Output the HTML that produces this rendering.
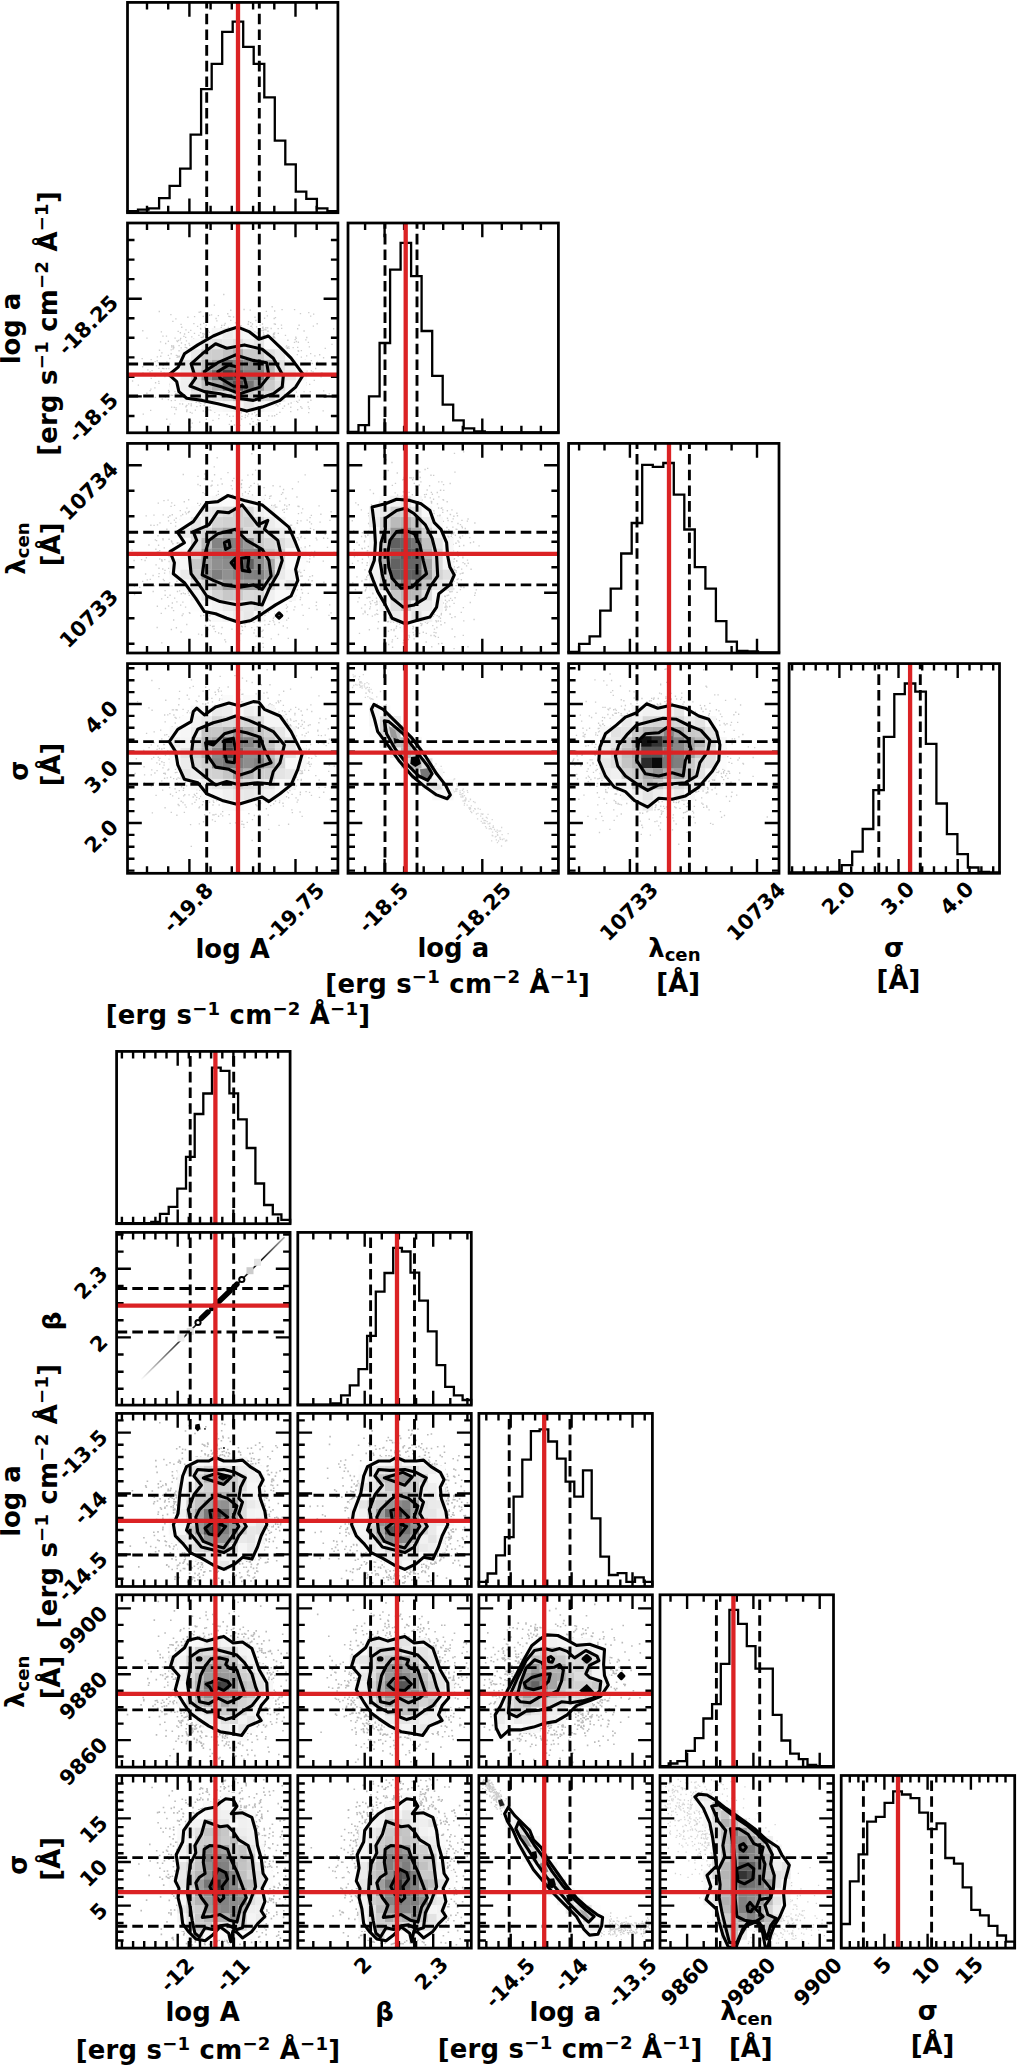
<!DOCTYPE html>
<html><head><meta charset="utf-8"><title>corner plots</title>
<style>
html,body{margin:0;padding:0;background:#fff}
svg{display:block}
text{font-family:"DejaVu Sans","Liberation Sans",sans-serif;font-weight:bold;fill:#000}
.t{font-size:20.8px}
.a{font-size:25.9px}
</style></head><body>
<svg width="1017" height="2066" viewBox="0 0 1017 2066">
<rect width="1017" height="2066" fill="#fff"/>
<path d="M147 212.7v-7M147 2.4v7M168.2 212.7v-7M168.2 2.4v7M189.4 212.7v-14.3M189.4 2.4v14.3M210.6 212.7v-7M210.6 2.4v7M231.8 212.7v-7M231.8 2.4v7M253.1 212.7v-7M253.1 2.4v7M274.3 212.7v-7M274.3 2.4v7M295.5 212.7v-14.3M295.5 2.4v14.3M316.7 212.7v-7M316.7 2.4v7" stroke="#000" stroke-width="2.4" fill="none"/>
<path d="M127.5 212.7V211.1H138V209.6H148.5V208.3H159.1V198.1H169.6V185.8H180.1V168.7H190.6V134.7H201.1V89.2H211.7V63.9H222.2V31.9H232.7V21.7H243.2V46.8H253.7V63.9H264.3V97.4H274.8V140.6H285.3V164.3H295.8V191.7H306.3V198.8H316.9V208.3H327.4V211.1H337.9V212.7" stroke="#000" stroke-width="2.3" fill="none" stroke-linejoin="miter"/>
<path d="M206.7 212.7V2.4" stroke="#000" stroke-width="2.9" stroke-dasharray="10.6 5.1" fill="none"/>
<path d="M259.3 212.7V2.4" stroke="#000" stroke-width="2.9" stroke-dasharray="10.6 5.1" fill="none"/>
<path d="M238 2.4V212.7" stroke="#db2224" stroke-width="4.3" fill="none"/>
<rect x="127.5" y="2.4" width="210.4" height="210.3" fill="none" stroke="#000" stroke-width="2.75"/>
<path d="M365.1 432.8v-7M365.1 223v7M384.6 432.8v-14.3M384.6 223v14.3M404.1 432.8v-7M404.1 223v7M423.7 432.8v-7M423.7 223v7M443.2 432.8v-7M443.2 223v7M462.8 432.8v-7M462.8 223v7M482.3 432.8v-14.3M482.3 223v14.3M501.8 432.8v-7M501.8 223v7M521.4 432.8v-7M521.4 223v7M540.9 432.8v-7M540.9 223v7" stroke="#000" stroke-width="2.4" fill="none"/>
<path d="M348 432.8V431.9H358.5V425.2H369V396.4H379.6V343H390.1V269.7H400.6V242.8H411.1V276.1H421.6V331H432.2V375.9H442.7V404.6H453.2V420.4H463.7V428.4H474.2V431.5H484.8V432.4H495.3V432.4H505.8V432.4H516.3V432.4H526.8V432.4H537.4V432.4H547.9V432.4H558.4V432.8" stroke="#000" stroke-width="2.3" fill="none" stroke-linejoin="miter"/>
<path d="M385 432.8V223" stroke="#000" stroke-width="2.9" stroke-dasharray="10.6 5.1" fill="none"/>
<path d="M417 432.8V223" stroke="#000" stroke-width="2.9" stroke-dasharray="10.6 5.1" fill="none"/>
<path d="M405.7 223V432.8" stroke="#db2224" stroke-width="4.3" fill="none"/>
<rect x="348" y="223" width="210.4" height="209.8" fill="none" stroke="#000" stroke-width="2.75"/>
<path d="M579.1 653v-7M579.1 443.4v7M604.5 653v-7M604.5 443.4v7M629.9 653v-14.3M629.9 443.4v14.3M655.3 653v-7M655.3 443.4v7M680.7 653v-7M680.7 443.4v7M706.2 653v-7M706.2 443.4v7M731.6 653v-7M731.6 443.4v7M757 653v-14.3M757 443.4v14.3" stroke="#000" stroke-width="2.4" fill="none"/>
<path d="M568.6 653V651.9H579.1V643.9H589.6V636.4H600.2V610.6H610.7V588.6H621.2V553.5H631.7V523H642.2V464.8H652.8V466.8H663.3V463H673.8V494.6H684.3V529.5H694.8V567.2H705.4V588.6H715.9V621.2H726.4V641.7H736.9V650.8H747.4V651.5H758V652.4H768.5V652.4H779V653" stroke="#000" stroke-width="2.3" fill="none" stroke-linejoin="miter"/>
<path d="M637 653V443.4" stroke="#000" stroke-width="2.9" stroke-dasharray="10.6 5.1" fill="none"/>
<path d="M689.4 653V443.4" stroke="#000" stroke-width="2.9" stroke-dasharray="10.6 5.1" fill="none"/>
<path d="M669 443.4V653" stroke="#db2224" stroke-width="4.3" fill="none"/>
<rect x="568.6" y="443.4" width="210.4" height="209.6" fill="none" stroke="#000" stroke-width="2.75"/>
<path d="M792.1 873.3v-7M792.1 663.6v7M803.9 873.3v-7M803.9 663.6v7M815.7 873.3v-7M815.7 663.6v7M827.6 873.3v-7M827.6 663.6v7M839.4 873.3v-14.3M839.4 663.6v14.3M851.2 873.3v-7M851.2 663.6v7M863.1 873.3v-7M863.1 663.6v7M874.9 873.3v-7M874.9 663.6v7M886.7 873.3v-7M886.7 663.6v7M898.5 873.3v-14.3M898.5 663.6v14.3M910.4 873.3v-7M910.4 663.6v7M922.2 873.3v-7M922.2 663.6v7M934 873.3v-7M934 663.6v7M945.9 873.3v-7M945.9 663.6v7M957.7 873.3v-14.3M957.7 663.6v14.3M969.5 873.3v-7M969.5 663.6v7M981.4 873.3v-7M981.4 663.6v7M993.2 873.3v-7M993.2 663.6v7" stroke="#000" stroke-width="2.4" fill="none"/>
<path d="M789.1 873.3V872.4H799.6V872.4H810.1V872.4H820.7V872.4H831.2V871.9H841.7V865.2H852.2V851.7H862.7V829H873.3V790.1H883.8V736.8H894.3V694.1H904.8V683.5H915.3V691.7H925.9V743.9H936.4V803.5H946.9V834.1H957.4V854.1H967.9V867.5H978.5V871.9H989V872.4H999.5V873.3" stroke="#000" stroke-width="2.3" fill="none" stroke-linejoin="miter"/>
<path d="M878.8 873.3V663.6" stroke="#000" stroke-width="2.9" stroke-dasharray="10.6 5.1" fill="none"/>
<path d="M920.3 873.3V663.6" stroke="#000" stroke-width="2.9" stroke-dasharray="10.6 5.1" fill="none"/>
<path d="M910.1 663.6V873.3" stroke="#db2224" stroke-width="4.3" fill="none"/>
<rect x="789.1" y="663.6" width="210.4" height="209.7" fill="none" stroke="#000" stroke-width="2.75"/>
<g>
<path d="M177.5 331.3h1.35M213.2 406.3h1.35M166.3 362.1h1.35M280.8 325.1h1.35M170.2 314.6h1.35M181.7 396.9h1.35M167.7 355.4h1.35M265.3 329.9h1.35M190.6 404h1.35M284.8 346.9h1.35M279.8 341.6h1.35M305.8 376.2h1.35M299.8 313.6h1.35M320.4 376.8h1.35M141.5 358.6h1.35M177.1 361.5h1.35M274 311h1.35M273.9 337.8h1.35M259.8 336.8h1.35M331.3 344.3h1.35M183.2 336.4h1.35M200.5 337.3h1.35M287.2 348.8h1.35M205.2 402.9h1.35M167.7 399.6h1.35M288.1 347h1.35M156.5 360.7h1.35M171.8 386.8h1.35M287.8 404h1.35M171.1 345.6h1.35M168.1 392.3h1.35M179 356.2h1.35M181.9 355.3h1.35M154.3 376.2h1.35M213.9 327h1.35M158.8 350.2h1.35M251.8 324h1.35M303.4 331h1.35M252.4 421.6h1.35M301.5 366.5h1.35M328.6 393.8h1.35M258.2 312.9h1.35M168.7 391.5h1.35M282.1 408.3h1.35M309.6 391.6h1.35M194.7 340h1.35M295.2 390.5h1.35M299.2 386.7h1.35M161.2 352.9h1.35M170.4 370.4h1.35M198.5 312.2h1.35M200.1 403.3h1.35M293.5 390.2h1.35M228.7 424.3h1.35M239.3 425.3h1.35M221 325.6h1.35M170.3 368h1.35M258 330.9h1.35M172.8 346h1.35M288.2 394.3h1.35M253.1 334.7h1.35M230.1 310.2h1.35M316.7 362.1h1.35M274.8 317.6h1.35M257 419.7h1.35M244.8 415.1h1.35M209.3 407.1h1.35M288.9 393.6h1.35M218.1 418.6h1.35M175.4 407.8h1.35M283.5 342.8h1.35M183.9 334h1.35M255.8 414.6h1.35M333 328.7h1.35M170.5 349.9h1.35M300.7 357.1h1.35M174.5 400.3h1.35M267.3 331.2h1.35M200.6 339.7h1.35M244.6 417.5h1.35M196.9 326.3h1.35M212.3 420.4h1.35M193.2 323.6h1.35M257.7 426.1h1.35M293.8 342.3h1.35M223.1 294.5h1.35M268.1 415.8h1.35M196.1 400.6h1.35M181.9 404h1.35M234.8 322.8h1.35M319 354.7h1.35M254.5 335.5h1.35M262.5 335.6h1.35M191.6 423.1h1.35M312.7 326.1h1.35M235.3 327.1h1.35M277.2 406h1.35M150 410.3h1.35M277.5 328.6h1.35M205.7 419.2h1.35M313 314.1h1.35M310.7 370.8h1.35M176.4 394h1.35M187.9 332.4h1.35M157.8 362.6h1.35M266.7 315.9h1.35M324.6 348.4h1.35M224.5 323.5h1.35M308.1 312.6h1.35M229 329.6h1.35M270.1 426.6h1.35M149.4 371.9h1.35M255.2 320.5h1.35M158.2 368.4h1.35M279.2 412.3h1.35M204.6 327.5h1.35M173.2 347.5h1.35M322.5 410.8h1.35M172.2 321.3h1.35M162.6 365.4h1.35M290.1 407.2h1.35M277.9 341.8h1.35M236.8 416h1.35M305.5 382.7h1.35M302.9 370.8h1.35M213.5 329.7h1.35M232.9 317h1.35M241.3 416.3h1.35M187.2 317.2h1.35M171 377h1.35M214 328.6h1.35M303.4 391.5h1.35M298.6 400.1h1.35M194.3 399.3h1.35M267 327.8h1.35M300 386.7h1.35M307.7 342.4h1.35M272.6 336.7h1.35M193 338.9h1.35M243.4 309.5h1.35M198.6 402.6h1.35M230.6 421h1.35M216.2 333.1h1.35M183.9 400h1.35M179.1 362h1.35M273.5 403.6h1.35M206.2 338.8h1.35M216.7 329.2h1.35M307.4 402.2h1.35M297.5 365.2h1.35M184.6 353h1.35M223.7 325.2h1.35M199.9 324.5h1.35M142.3 372.9h1.35M164.8 397.2h1.35M308 412.6h1.35M249.5 424.3h1.35M262.8 332.9h1.35M297.5 350.7h1.35M286.5 348h1.35M321.3 373h1.35M286.7 347.4h1.35M272.1 408.8h1.35M189.1 345.3h1.35M200.1 329.1h1.35M251.8 328.9h1.35M180.1 362.3h1.35M169.6 386h1.35M169.1 358.5h1.35M302.5 370.8h1.35M202.4 333.3h1.35M203.1 323.4h1.35M188.6 422.7h1.35M199.7 405.7h1.35M177.4 363.2h1.35M142 366.7h1.35M201.4 337.4h1.35M195.9 340.7h1.35M202.7 337.1h1.35M247.9 321.7h1.35M263 334.9h1.35M185.3 329.9h1.35M167.7 341.2h1.35M301.3 408.2h1.35M295.6 392.1h1.35M220.6 327.6h1.35M198.5 344.5h1.35M158.1 381.4h1.35M233.8 425h1.35M270.8 406.3h1.35M293.3 356.2h1.35M323 390.9h1.35M217.3 330.2h1.35M300.9 363.3h1.35M170.7 388.8h1.35M176.9 341.6h1.35M265.3 327.7h1.35M262.5 328.8h1.35M273.5 337.5h1.35M205.5 325.1h1.35M177.6 356.3h1.35M171.2 347h1.35M292 356.9h1.35M273.5 318.5h1.35M170.5 353.7h1.35M154.9 382.7h1.35M300.1 406.6h1.35M181.1 327.2h1.35M297.7 342.2h1.35M175.2 318.9h1.35M238.7 317.8h1.35M187.1 349.3h1.35M313.6 380.3h1.35M251 418.8h1.35M284.8 335.4h1.35M301.5 397.6h1.35M279.2 403.7h1.35M205 411.7h1.35M308.6 408.6h1.35M305.1 385.2h1.35M166.1 419.2h1.35M315 368.5h1.35M274 332.8h1.35M264.3 329.5h1.35M301.4 385.6h1.35M235.9 409h1.35M178.4 345.6h1.35M273.6 323.8h1.35M170.7 400.6h1.35M146.2 393.2h1.35M261.8 324h1.35M262.8 330.5h1.35M314.2 355.9h1.35M295.1 362h1.35M262.3 327.2h1.35M160.1 356.2h1.35M219.3 404.9h1.35M185.8 340.9h1.35M147.2 369.9h1.35M250.9 326.1h1.35M251.7 328.1h1.35M272.7 334.7h1.35M167.9 390.3h1.35M288.5 351.2h1.35M186.1 411.5h1.35M172.3 349.1h1.35M173.5 361.6h1.35M300.4 363.6h1.35M281.4 309.6h1.35M169.4 424.1h1.35M172.2 363.4h1.35M188.4 343.5h1.35M297 396.5h1.35M304.8 384.5h1.35M159.9 341.9h1.35M297.9 351.2h1.35M206.7 411.7h1.35M165.8 336.1h1.35M151.4 370.6h1.35M210.4 410.3h1.35M174.3 383.5h1.35M173.6 407.3h1.35M258.3 420.5h1.35M266 407h1.35M286.5 348.8h1.35M287.2 340.2h1.35M293.5 400.8h1.35M255.2 415.7h1.35M231.4 328.4h1.35M217.7 331.6h1.35M214.1 412h1.35M204.2 403.6h1.35M180.2 358.2h1.35M242.7 328.5h1.35M179.7 332.7h1.35M281 328.3h1.35M191.5 399h1.35M259.1 338.4h1.35M305.2 339.8h1.35M150.2 389.1h1.35M272.9 333.3h1.35M203.5 334.1h1.35M310.7 360.6h1.35M298.4 325.2h1.35M196.2 406.6h1.35M288.7 397.1h1.35M171.9 385.1h1.35M288.4 393.5h1.35M297 347.4h1.35M208.7 332.4h1.35M229.4 316.6h1.35M176.5 357.3h1.35M296 401.3h1.35M212.7 332.6h1.35M165.7 368.6h1.35M251.5 414h1.35M137.7 385.1h1.35M150.5 359.6h1.35M180.9 355.3h1.35M277.7 342.2h1.35M255.9 326.9h1.35M216.5 403.8h1.35M190.2 427.1h1.35M306.2 371.1h1.35M146.3 338.1h1.35M173.3 388.1h1.35M180.8 343h1.35M227.1 313.7h1.35M261.9 327.9h1.35M194.1 346.3h1.35M249.6 310.1h1.35M154.5 361.6h1.35M230.1 320.4h1.35M202.6 411h1.35M179.6 394.1h1.35M170.5 395.2h1.35M274.4 405.1h1.35M163.4 373.2h1.35M173 347.7h1.35M254.1 412.6h1.35M310 316.1h1.35M307.8 406.9h1.35M312.4 371.9h1.35M194.7 410.1h1.35M221.1 325.3h1.35M207.2 409.8h1.35M255.8 424.5h1.35M200 311.8h1.35M154.7 397.4h1.35M174.4 338.1h1.35M199 422.1h1.35M142.1 330.7h1.35M229 416.3h1.35M270.5 328.5h1.35M142.6 414.1h1.35M191.1 336.8h1.35M283.6 347.9h1.35M164.2 376.6h1.35M171.6 366.1h1.35M208.8 337.9h1.35M300 368.6h1.35M277.9 340.2h1.35M227 407.3h1.35M158.3 383.4h1.35M169.2 384.2h1.35M254.3 317.2h1.35M232.5 416.2h1.35M265.7 311.4h1.35M167.2 373.3h1.35M226.4 414.5h1.35M162.3 336.1h1.35M189.6 412.3h1.35M178.2 357h1.35M276.1 414.3h1.35M203.4 405.4h1.35M240.6 412.9h1.35M163.2 368.6h1.35M318.8 374h1.35M186 347.7h1.35M189.9 420.8h1.35M250 322.6h1.35M270.6 337.7h1.35M274.7 324.2h1.35M283.5 348.9h1.35M267 335.2h1.35M263.7 335.3h1.35M295.9 361.6h1.35M235.3 410.5h1.35M160.4 371.3h1.35M296.6 354.6h1.35M198.2 335.4h1.35M267.9 336.2h1.35M195.5 402.3h1.35M202.7 335.8h1.35M247.9 414h1.35M179.6 339.8h1.35M273.9 415.7h1.35M179.2 403.9h1.35M154.2 387.9h1.35M174 413.9h1.35M306 355.8h1.35M171 407.1h1.35M178.4 350.7h1.35M322.9 357.7h1.35M257.7 414.5h1.35M173.3 381.8h1.35M196.9 340.6h1.35M185.7 405.9h1.35M186.3 410h1.35M180.4 324.4h1.35M289.3 356h1.35M263.7 409.5h1.35M199.9 328.3h1.35M168.3 368.5h1.35M226.1 410.5h1.35M252 329h1.35M295.7 341.5h1.35M193.8 333.3h1.35M184.6 344.7h1.35M193.9 316.6h1.35M176.9 355.8h1.35M198 343.8h1.35M246.5 412.2h1.35M298.7 368.1h1.35M310 353.6h1.35M305.1 372.6h1.35M190.5 405.7h1.35M131.9 381h1.35M288.6 348.8h1.35M311.3 375.4h1.35M215.4 318.5h1.35M261.3 330.6h1.35M265.5 335.8h1.35M185 337.3h1.35M283.8 406h1.35M251.4 329.9h1.35M198.1 342.5h1.35M297.9 363.3h1.35M240.9 419.1h1.35M295.5 338.3h1.35M303.8 369.7h1.35M175.7 355.3h1.35M184.6 347.4h1.35M266.5 334.4h1.35M227.7 327.3h1.35M160.7 331.9h1.35M190.1 330.3h1.35M292.5 347.6h1.35M207.7 330.8h1.35M171.6 387.8h1.35M271.5 416h1.35M289.6 353.9h1.35M293.9 309.6h1.35M295.1 337.1h1.35M207.9 401.8h1.35M247.5 324.2h1.35M156.7 356.9h1.35M171.9 395.4h1.35M202.6 316.4h1.35M218.5 415h1.35M213.7 305.1h1.35M274.4 338.3h1.35M303.7 373.1h1.35M297 409.7h1.35M202 333.8h1.35M297 328.7h1.35M165 343.5h1.35M320.3 373.3h1.35M151.9 365.3h1.35M249.2 423.7h1.35M300.1 406.9h1.35M175.1 393.7h1.35M199.9 332.6h1.35M309 384.4h1.35M304.7 360.1h1.35M272.7 337.1h1.35M259.5 325.1h1.35M301.8 390.4h1.35M206.9 334.8h1.35M294.9 359.3h1.35M161.6 399h1.35M205.5 337.5h1.35M175.4 409.6h1.35M243 328.2h1.35M210.9 314.9h1.35M277.6 333.3h1.35M297.1 402.4h1.35M231.1 407.4h1.35M254.3 331.8h1.35M256.5 333h1.35M180 338.3h1.35M244.8 328.9h1.35M217.7 315.6h1.35M300.7 350.6h1.35M308.7 346.9h1.35M311.6 363.5h1.35M310.2 400.2h1.35M294.5 339.6h1.35M150.6 378.3h1.35M266.4 420.3h1.35M177.8 340.3h1.35M273.3 336.5h1.35M247 416.1h1.35M280.3 345.5h1.35M238.9 417.7h1.35M271.5 306.7h1.35M273.5 334.2h1.35M289.1 355.6h1.35M303 382.1h1.35M203.9 401.2h1.35M250.2 326.3h1.35M263.9 318.2h1.35M281.7 348.3h1.35M209.5 409.9h1.35M180.5 347.8h1.35M174.3 391.5h1.35M290.5 403h1.35M172.6 363.2h1.35M316.5 323.7h1.35M216.2 320.8h1.35M290.1 411.6h1.35M240.3 325.6h1.35M185.3 406.7h1.35M161.9 368.4h1.35M306.1 337.5h1.35M155.8 365.7h1.35M193.6 340.4h1.35M176.2 340.8h1.35M226.8 410.1h1.35M158.6 311.5h1.35M149.5 390.6h1.35M153 373.6h1.35M208.9 315.2h1.35M276 404.5h1.35M228.2 316.4h1.35M272.7 338.3h1.35M191.4 413.1h1.35M285.9 345.8h1.35M188 403.9h1.35M186.2 405.4h1.35" stroke="#000" stroke-opacity="0.2" stroke-width="1.35" fill="none"/>
<path d="M168.9 374.7L178.2 367.1L184.4 353.8L197.8 344.9L213.3 336L226.7 330.4L237.8 327.1L248.9 331.6L258.9 339.3L268.4 336L280 347.1L291.1 358.2L303.3 374.7L295.6 387.1L280 400.4L262.2 407.1L246.7 411.1L233.3 407.6L217.8 403.8L202.2 400.4L186.7 398.2L178.9 391.6L176.7 381.6Z" fill="#fff"/>
<path d="M222.2 369.9h10.8v10.8h-10.8z" fill="#3e3e3e"/><path d="M232.7 380.4h10.8v10.8h-10.8z" fill="#545454"/><path d="M232.7 369.9h10.8v10.8h-10.8z" fill="#5c5c5c"/><path d="M211.7 369.9h10.8v10.8h-10.8z" fill="#6c6c6c"/><path d="M222.2 359.4h10.8v10.8h-10.8z" fill="#737373"/><path d="M243.2 380.4h10.8v10.8h-10.8z" fill="#747474"/><path d="M222.2 380.4h10.8v10.8h-10.8z" fill="#757575"/><path d="M253.7 369.9h10.8v10.8h-10.8z" fill="#7e7e7e"/><path d="M243.2 369.9h10.8v10.8h-10.8z" fill="#818181"/><path d="M232.7 359.4h10.8v10.8h-10.8z" fill="#838383"/><path d="M243.2 359.4h10.8v10.8h-10.8zM253.7 359.4h10.8v10.8h-10.8z" fill="#909090"/><path d="M201.1 369.9h10.8v10.8h-10.8z" fill="#969696"/><path d="M253.7 380.4h10.8v10.8h-10.8z" fill="#9d9d9d"/><path d="M211.7 359.4h10.8v10.8h-10.8z" fill="#a4a4a4"/><path d="M211.7 380.4h10.8v10.8h-10.8z" fill="#aaaaaa"/><path d="M232.7 348.9h10.8v10.8h-10.8z" fill="#aeaeae"/><path d="M264.3 359.4h10.8v10.8h-10.8z" fill="#b8b8b8"/><path d="M264.3 369.9h10.8v10.8h-10.8z" fill="#bbbbbb"/><path d="M201.1 380.4h10.8v10.8h-10.8zM222.2 348.9h10.8v10.8h-10.8z" fill="#c1c1c1"/><path d="M232.7 390.8h10.8v10.8h-10.8z" fill="#c2c2c2"/><path d="M201.1 359.4h10.8v10.8h-10.8z" fill="#c3c3c3"/><path d="M243.2 390.8h10.8v10.8h-10.8z" fill="#cacaca"/><path d="M243.2 348.9h10.8v10.8h-10.8zM253.7 348.9h10.8v10.8h-10.8zM264.3 380.4h10.8v10.8h-10.8z" fill="#cbcbcb"/><path d="M211.7 348.9h10.8v10.8h-10.8z" fill="#cdcdcd"/><path d="M201.1 348.9h10.8v10.8h-10.8z" fill="#cfcfcf"/><path d="M190.6 369.9h10.8v10.8h-10.8z" fill="#d5d5d5"/><path d="M253.7 390.8h10.8v10.8h-10.8z" fill="#d7d7d7"/><path d="M264.3 390.8h10.8v10.8h-10.8z" fill="#dadada"/><path d="M222.2 390.8h10.8v10.8h-10.8z" fill="#dbdbdb"/><path d="M190.6 359.4h10.8v10.8h-10.8zM190.6 380.4h10.8v10.8h-10.8z" fill="#dcdcdc"/><path d="M274.8 380.4h10.8v10.8h-10.8z" fill="#dfdfdf"/><path d="M264.3 348.9h10.8v10.8h-10.8z" fill="#e0e0e0"/><path d="M232.7 338.4h10.8v10.8h-10.8z" fill="#e1e1e1"/><path d="M211.7 390.8h10.8v10.8h-10.8zM274.8 369.9h10.8v10.8h-10.8z" fill="#e3e3e3"/><path d="M211.7 338.4h10.8v10.8h-10.8zM274.8 359.4h10.8v10.8h-10.8z" fill="#e4e4e4"/><path d="M180.1 359.4h10.8v10.8h-10.8z" fill="#e6e6e6"/><path d="M253.7 338.4h10.8v10.8h-10.8z" fill="#e7e7e7"/><path d="M190.6 390.8h10.8v10.8h-10.8zM201.1 338.4h10.8v10.8h-10.8zM222.2 338.4h10.8v10.8h-10.8zM243.2 401.3h10.8v10.8h-10.8zM285.3 369.9h10.8v10.8h-10.8z" fill="#e9e9e9"/><path d="M201.1 390.8h10.8v10.8h-10.8z" fill="#eaeaea"/><path d="M190.6 348.9h10.8v10.8h-10.8zM274.8 348.9h10.8v10.8h-10.8z" fill="#ebebeb"/><path d="M222.2 327.9h10.8v10.8h-10.8z" fill="#ececec"/><path d="M274.8 390.8h10.8v10.8h-10.8z" fill="#ededed"/><path d="M180.1 369.9h10.8v10.8h-10.8z" fill="#eeeeee"/><path d="M243.2 338.4h10.8v10.8h-10.8z" fill="#efefef"/><path d="M180.1 380.4h10.8v10.8h-10.8z" fill="#f0f0f0"/><path d="M285.3 359.4h10.8v10.8h-10.8z" fill="#f2f2f2"/><path d="M232.7 327.9h10.8v10.8h-10.8z" fill="#f3f3f3"/><path d="M285.3 380.4h10.8v10.8h-10.8z" fill="#f4f4f4"/><path d="M232.7 401.3h10.8v10.8h-10.8zM253.7 401.3h10.8v10.8h-10.8z" fill="#f5f5f5"/><path d="M180.1 390.8h10.8v10.8h-10.8zM243.2 327.9h10.8v10.8h-10.8zM295.8 369.9h10.8v10.8h-10.8z" fill="#f6f6f6"/><path d="M180.1 348.9h10.8v10.8h-10.8zM211.7 327.9h10.8v10.8h-10.8zM222.2 401.3h10.8v10.8h-10.8z" fill="#f8f8f8"/><path d="M169.6 369.9h10.8v10.8h-10.8z" fill="#fafafa"/><path d="M169.6 380.4h10.8v10.8h-10.8zM190.6 338.4h10.8v10.8h-10.8zM211.7 401.3h10.8v10.8h-10.8zM264.3 338.4h10.8v10.8h-10.8zM264.3 401.3h10.8v10.8h-10.8z" fill="#fbfbfb"/><path d="M169.6 359.4h10.8v10.8h-10.8zM274.8 338.4h10.8v10.8h-10.8zM285.3 348.9h10.8v10.8h-10.8zM285.3 390.8h10.8v10.8h-10.8zM295.8 359.4h10.8v10.8h-10.8zM295.8 380.4h10.8v10.8h-10.8z" fill="#fdfdfd"/>

<path d="M206.7 432.8V223" stroke="#000" stroke-width="2.9" stroke-dasharray="10.6 5.1" fill="none"/>
<path d="M259.3 432.8V223" stroke="#000" stroke-width="2.9" stroke-dasharray="10.6 5.1" fill="none"/>
<path d="M127.5 364H337.9" stroke="#000" stroke-width="2.9" stroke-dasharray="10.6 5.1" fill="none"/>
<path d="M127.5 396H337.9" stroke="#000" stroke-width="2.9" stroke-dasharray="10.6 5.1" fill="none"/>
<path d="M168.9 374.7L178.2 367.1L184.4 353.8L197.8 344.9L213.3 336L226.7 330.4L237.8 327.1L248.9 331.6L258.9 339.3L268.4 336L280 347.1L291.1 358.2L303.3 374.7L295.6 387.1L280 400.4L262.2 407.1L246.7 411.1L233.3 407.6L217.8 403.8L202.2 400.4L186.7 398.2L178.9 391.6L176.7 381.6Z" stroke="#000" stroke-width="3.1" fill="none" stroke-linejoin="round"/>
<path d="M191.1 363.8L202.2 353.8L215.6 343.8L226.7 348.2L244.4 344.9L262.2 349.3L273.3 358.2L283.3 376L282.2 387.1L273.3 393.8L253.3 400.4L237.8 398.2L220 393.8L204.4 391.6L190 386L195.6 378.2Z" stroke="#000" stroke-width="3.1" fill="none" stroke-linejoin="round"/>
<path d="M204.4 371.6L217.8 362.7L235.6 354.9L253.3 360.4L266.7 362.7L268.9 376L260 387.1L240 393.8L222.2 387.1L206.7 382.7Z" stroke="#000" stroke-width="3.1" fill="none" stroke-linejoin="round"/>
<path d="M217.8 371.6L228.9 364.9L237.8 367.1L235.6 376L244.4 378.2L246.7 387.1L233.3 386L220 378.2Z" stroke="#000" stroke-width="3.1" fill="none" stroke-linejoin="round"/>
<path d="M147 432.8v-7M147 223v7M168.2 432.8v-7M168.2 223v7M189.4 432.8v-14.3M189.4 223v14.3M210.6 432.8v-7M210.6 223v7M231.8 432.8v-7M231.8 223v7M253.1 432.8v-7M253.1 223v7M274.3 432.8v-7M274.3 223v7M295.5 432.8v-14.3M295.5 223v14.3M316.7 432.8v-7M316.7 223v7M127.5 240h7M337.9 240h-7M127.5 259.6h7M337.9 259.6h-7M127.5 279.1h7M337.9 279.1h-7M127.5 298.7h14.3M337.9 298.7h-14.3M127.5 318.2h7M337.9 318.2h-7M127.5 337.8h7M337.9 337.8h-7M127.5 357.4h7M337.9 357.4h-7M127.5 376.9h7M337.9 376.9h-7M127.5 396.4h14.3M337.9 396.4h-14.3M127.5 416h7M337.9 416h-7" stroke="#000" stroke-width="2.4" fill="none"/>
<path d="M238 223V432.8" stroke="#db2224" stroke-width="4.3" fill="none"/>
<path d="M127.5 374.7H337.9" stroke="#db2224" stroke-width="4.3" fill="none"/>
<rect x="127.5" y="223" width="210.4" height="209.8" fill="none" stroke="#000" stroke-width="2.75"/>
</g>
<g>
<path d="M168.4 539.2h1.35M159.1 559h1.35M211.3 485.2h1.35M153.3 515.1h1.35M272.7 618.2h1.35M298.3 539.9h1.35M171.3 585.9h1.35M297 572.9h1.35M266.6 507.8h1.35M274.4 507h1.35M179.8 519.5h1.35M272.4 620.4h1.35M246.1 622.9h1.35M205.7 621.7h1.35M296.8 523.4h1.35M158.4 573.6h1.35M144.4 560.5h1.35M302.5 615.3h1.35M195.3 600.7h1.35M158.3 568.2h1.35M262.2 637.3h1.35M221.4 627.5h1.35M145.5 515.8h1.35M156.5 627.5h1.35M268.9 498.4h1.35M283.6 616.9h1.35M306.2 561.6h1.35M323.2 582.2h1.35M309.2 576.6h1.35M164.4 590.6h1.35M133.4 560.5h1.35M179 590.8h1.35M175.1 522.3h1.35M265.2 613.3h1.35M182.7 593.1h1.35M241.8 630.3h1.35M274.1 613.8h1.35M180.2 525h1.35M215.8 495.4h1.35M218.1 618.6h1.35M226.3 494.4h1.35M199.5 508.6h1.35M180.3 515.8h1.35M161 598.8h1.35M333.4 552.1h1.35M218.1 497.6h1.35M244.7 492h1.35M170 552.7h1.35M309.4 556h1.35M324.6 534.3h1.35M298.8 533.9h1.35M209.7 620.7h1.35M162.7 579.4h1.35M221.5 497.4h1.35M170.7 629.5h1.35M273.2 621.9h1.35M184.9 607.1h1.35M262.3 643.3h1.35M253.6 483.4h1.35M281 604.8h1.35M300.9 589.5h1.35M256.9 501.3h1.35M224.2 639.7h1.35M194.4 519.8h1.35M161.1 560.8h1.35M270.6 638.9h1.35M255.4 636.1h1.35M170 528.7h1.35M181.4 524.3h1.35M210.6 613.6h1.35M308.5 608.4h1.35M175 583.7h1.35M223.7 497.2h1.35M302.4 550.9h1.35M168.9 582.7h1.35M175 584.3h1.35M169.2 515.7h1.35M238.2 626.3h1.35M186.9 587.5h1.35M190.3 518.7h1.35M269.3 496.3h1.35M304.2 538.4h1.35M183.6 501.7h1.35M218.2 615.2h1.35M248.7 487.3h1.35M225.9 621h1.35M195.2 513.1h1.35M209.2 615.7h1.35M236.2 631.7h1.35M297.3 537.7h1.35M216.3 615.1h1.35M302 508.9h1.35M150.2 525.2h1.35M248.9 491.3h1.35M157.6 503.1h1.35M295.1 595.7h1.35M306.5 520.1h1.35M298.2 571.7h1.35M316.3 609.5h1.35M231.8 480.7h1.35M166.2 529.2h1.35M267.1 507.9h1.35M271 505.4h1.35M201.1 634.9h1.35M241.9 495.9h1.35M164.3 570.3h1.35M237.6 631.1h1.35M256.1 502.1h1.35M297.4 506.2h1.35M282.9 489.5h1.35M301.6 576h1.35M209.5 625.3h1.35M304.8 583.3h1.35M231.3 629.1h1.35M326.8 547.4h1.35M177.5 578.2h1.35M302.6 567.6h1.35M230.6 485.6h1.35M311 584.7h1.35M192.7 607.8h1.35M304 561.7h1.35M279.4 486.5h1.35M283.6 512.3h1.35M132.8 554.6h1.35M213.3 626.2h1.35M241.4 480.2h1.35M318.4 505.8h1.35M213.4 628.8h1.35M202.3 492.6h1.35M161.1 559.6h1.35M168.5 561.5h1.35M298.3 506.5h1.35M145.7 557.7h1.35M260.1 502.4h1.35M155.4 564.9h1.35M252.7 622.1h1.35M188.7 612.6h1.35M136.8 555.5h1.35M274.4 504.8h1.35M168 568.4h1.35M197 503.4h1.35M155.2 549.2h1.35M296.9 520.6h1.35M175.6 578.7h1.35M286.2 509h1.35M198.8 608.1h1.35M310.7 515.3h1.35M185.6 518.2h1.35M297.3 585.6h1.35M170.5 559h1.35M253.6 622h1.35M212.8 619.5h1.35M268.4 624.4h1.35M286.3 611.5h1.35M188.8 511.5h1.35M176.6 542.8h1.35M172.5 577.1h1.35M233.2 478.4h1.35M187.6 512.6h1.35M197.6 508.6h1.35M263.5 499.4h1.35M273.7 617h1.35M188.1 511.7h1.35M199.6 485.6h1.35M274.6 507.2h1.35M298.8 560.9h1.35M180.3 538.3h1.35M213.9 474.7h1.35M172.7 567.6h1.35M172.2 543.7h1.35M170.1 564.5h1.35M162.4 539.8h1.35M169.4 595.2h1.35M301.5 604.9h1.35M221.5 484h1.35M170.2 523.3h1.35M192.5 594.7h1.35M300.6 536.4h1.35M273.3 506h1.35M142 581.4h1.35M248.7 496.9h1.35M263.4 487.6h1.35M201.7 610.3h1.35M315.5 605.6h1.35M171.2 542h1.35M180.6 593.7h1.35M213.6 466.8h1.35M298.9 569.9h1.35M313.2 556.7h1.35M253.6 497.6h1.35M156.7 606.2h1.35M176.7 579.3h1.35M149.6 579.3h1.35M314 551.4h1.35M262.4 630.2h1.35M256.6 626.7h1.35M313.1 529.7h1.35M232.7 495.8h1.35M322.9 537.9h1.35M195.4 608.3h1.35M241.8 493.9h1.35M180.1 579.7h1.35M169.7 549.3h1.35M182.2 602.1h1.35M262.7 647.2h1.35M153.6 585.7h1.35M170.4 572.6h1.35M211.9 626.5h1.35M329 604.9h1.35M193.8 604.4h1.35M173.8 565.3h1.35M209 499.7h1.35M287.8 618.2h1.35M139.1 587.3h1.35M186.2 523.4h1.35M153.4 525.4h1.35M319.4 522.1h1.35M204.3 493.8h1.35M259.1 488.1h1.35M176.2 601.9h1.35M267.8 612.4h1.35M296.7 589.8h1.35M152.5 591.5h1.35M185.9 521.9h1.35M286.6 627.8h1.35M181.8 524.8h1.35M157.3 535.7h1.35M169.1 571.8h1.35M279.2 501.1h1.35M279.3 603.2h1.35M241.3 622.5h1.35M218.1 621.1h1.35M179.6 510.6h1.35M218 633h1.35M247.6 493.6h1.35M282.6 626h1.35M187.7 591.4h1.35M330.4 612.8h1.35M247.2 475.1h1.35M214.9 501.7h1.35M192.6 517h1.35M272.4 485.7h1.35M253.9 629.9h1.35M284 505h1.35M303.6 570.2h1.35M169.1 552.6h1.35M197.9 634.1h1.35M257.7 617.8h1.35M309.1 558.8h1.35M323 538.4h1.35M225 641.8h1.35M294.7 534.2h1.35M296.5 522.8h1.35M217.6 491.4h1.35M193.8 597.4h1.35M261.4 502.5h1.35M287.6 638.3h1.35M259.3 501.7h1.35M181.4 540.2h1.35M267.7 509.4h1.35M238.8 640.5h1.35M276.1 507.1h1.35M194.7 601.2h1.35M280.8 607.2h1.35M182.5 613.9h1.35M296.3 497h1.35M174 598.1h1.35M255.9 498.2h1.35M304.5 531.3h1.35M286.8 607h1.35M167.4 500.1h1.35M182 514.6h1.35M302.1 586.3h1.35M173 620h1.35M174.7 585.5h1.35M278.5 622.6h1.35M141.1 552.8h1.35M217.7 494.3h1.35M311.4 580.7h1.35M240.8 483.7h1.35M297.7 481.9h1.35M251.8 495h1.35M167.9 520.9h1.35M254.3 647.4h1.35M240.7 484.6h1.35M163.3 500.6h1.35M169.9 571.1h1.35M274 624.5h1.35M185.8 524.6h1.35M163.8 554.3h1.35M181.5 615.5h1.35M310.8 552.3h1.35M251.2 453.7h1.35M276.2 618.8h1.35M322.6 561.1h1.35M171.3 607.7h1.35M309.4 517.6h1.35M148.3 545h1.35M154.7 539.8h1.35M219.7 498.8h1.35M237.4 623.6h1.35M244.3 624h1.35M231.7 494.8h1.35M198.7 505.6h1.35M304.5 547h1.35M205.5 490.1h1.35M162.5 514.8h1.35M289.3 600.8h1.35M159.3 522.8h1.35M300 565.7h1.35M239.9 498.3h1.35M159.2 555.1h1.35M283.6 509.3h1.35M182.1 585.9h1.35M203 507.1h1.35M302.4 585.9h1.35M218.3 618.8h1.35M189.2 613.2h1.35M204.8 625.5h1.35M250.4 621.4h1.35M214.3 619.1h1.35M171.7 532.3h1.35M133.8 586h1.35M272.7 513.5h1.35M293.6 599.9h1.35M163.5 580.6h1.35M171.6 514.7h1.35M164.8 608.5h1.35M264.6 495.3h1.35M173.7 520.1h1.35M180.4 632h1.35M293.3 609.8h1.35M157.4 551.7h1.35M156.8 524.8h1.35M207 629.4h1.35M285.5 604.8h1.35M186.1 624.5h1.35M184.2 520.5h1.35M300.9 512.8h1.35M250.2 485.7h1.35M270.4 495.8h1.35M306 561.3h1.35M253.2 621.2h1.35M167.9 606h1.35M275.8 612.3h1.35M299.6 599.6h1.35M177.3 542.7h1.35M259.3 622.1h1.35M175.7 627.7h1.35M220.5 478.9h1.35M204.2 474h1.35M296.6 537.6h1.35M309.8 528.3h1.35M304.6 561.1h1.35M261.4 631.3h1.35M220.3 478.8h1.35M286 620.1h1.35M277.8 634.5h1.35M300.1 572.5h1.35M192.7 597.2h1.35M194.6 513.3h1.35M216.5 457.7h1.35M210.4 486h1.35M206.7 644h1.35M188.6 595.3h1.35M222.9 497.7h1.35M298.2 539.5h1.35M159 550.7h1.35M146.6 579.9h1.35M249.2 501.5h1.35M256.6 617.9h1.35M160.2 532.5h1.35M314.9 552.7h1.35M185.7 587.8h1.35M263.2 613.7h1.35M294.1 649.3h1.35M250.4 497.8h1.35M207.6 619h1.35M217.1 485.1h1.35M282 510.1h1.35M311.8 575.7h1.35M329.3 520.3h1.35M200.1 615.9h1.35M192 512h1.35M310.8 523.9h1.35M280.8 494.4h1.35M220.7 633.7h1.35M160.6 613.3h1.35M164.1 559.6h1.35M227.3 472.6h1.35M286.1 506.1h1.35M300.2 537.6h1.35M316.2 539.8h1.35M288.6 504.7h1.35M203.6 502.9h1.35M301.8 593h1.35M291.8 488.7h1.35M168.6 556.5h1.35M282.1 492.7h1.35M309 522h1.35M275.6 607.3h1.35M197.3 484.5h1.35M203 615.4h1.35M156.1 552.4h1.35M197.3 601.5h1.35M289.8 525.2h1.35M212.9 618.1h1.35M300.3 520.8h1.35M255.1 496.6h1.35M162.1 569h1.35M170.8 541h1.35M197.3 476.3h1.35M222.5 497h1.35M191.2 594.3h1.35M163.6 547.9h1.35M312.2 553.9h1.35M192.3 520.2h1.35M191.3 593.7h1.35M309 545.7h1.35M320.2 514.2h1.35M169.7 573.6h1.35M240.9 487.5h1.35M304.5 474.9h1.35M256.1 500.1h1.35M193.3 598.2h1.35M171.1 502.8h1.35M251.1 627.6h1.35M267.7 624.4h1.35M297.3 577.9h1.35M285.2 498.5h1.35M290.6 600.9h1.35M176.2 581.4h1.35M164.5 595.2h1.35M231.6 488.8h1.35M185.7 513.8h1.35M133.9 594.5h1.35M144.9 574h1.35M214.8 631.6h1.35M158.1 576.6h1.35M175.5 518.2h1.35M273.7 610.5h1.35M264 620.5h1.35M300.5 548.1h1.35M306 531h1.35M254.9 470.1h1.35M257.4 484.2h1.35M207.3 629.5h1.35M240.2 633.7h1.35M330.4 511.7h1.35M152.4 575.5h1.35M327 538.4h1.35M175.3 528.6h1.35M155.9 540.6h1.35M295.1 540.6h1.35M263.8 615.2h1.35M167 597.4h1.35M190.2 590.9h1.35M162.3 538.6h1.35M236.6 622.3h1.35M205.5 500.2h1.35M315.5 538.1h1.35M161.5 561h1.35M294.2 606.8h1.35M167.6 517.2h1.35M166.1 584.6h1.35M163.9 573.1h1.35M308.7 562h1.35M173.9 505.4h1.35M264.2 615.3h1.35M174.9 526.1h1.35M211.5 481h1.35M171.7 603h1.35M290.9 525.2h1.35M176.6 543.4h1.35M182 514.3h1.35M253.3 633h1.35M140.9 559.6h1.35M299.9 597.5h1.35M184.8 512.1h1.35M180 605.1h1.35M201.1 608.2h1.35M161.1 642.8h1.35M241.7 626.8h1.35M188 499.7h1.35M328.3 615.4h1.35M307.6 593.3h1.35M184.5 593.7h1.35M203.6 478.8h1.35M172.9 610.6h1.35M169.2 585.8h1.35M224 621.1h1.35M157.6 554.1h1.35M248.4 622.5h1.35M264.2 624.9h1.35M244.5 626.5h1.35M214.7 497.5h1.35M180.6 586.3h1.35M301.5 553.7h1.35M187.7 593.1h1.35M186.2 508.1h1.35M157.9 545.2h1.35M208.9 620.2h1.35M281.5 608.4h1.35M179 543.4h1.35M176.8 591.5h1.35M131.4 550.1h1.35M251.9 474.5h1.35M307.9 580h1.35M170.4 506.3h1.35M307.1 629h1.35M182.6 474.5h1.35M200 504h1.35M297.8 513.6h1.35M257 496.9h1.35M315.8 602.2h1.35M240.9 626.2h1.35M202.1 609.3h1.35M269.2 621.3h1.35M285.6 608.3h1.35M300.2 576.2h1.35" stroke="#000" stroke-opacity="0.2" stroke-width="1.35" fill="none"/>
<path d="M170 551.6L184.4 542.7L177.3 532L193.3 521.6L206.7 502.7L217.8 501.6L227.8 495.6L244.4 500.4L262.2 504.9L275.6 516L288.9 527.1L295.6 542.7L300 553.8L295.6 569.3L297.8 580.4L291.1 596L275.6 604.9L262.2 613.8L251.1 620.4L240 622.7L226.7 618.2L215.6 613.8L204.4 611.6L195.6 598.2L184.4 582.7L173.3 573.8L174.4 562.7Z" fill="#fff"/>
<path d="M279.1 612.9L281.8 615.6L279.1 618.2L276.4 615.6Z" fill="#fff"/>
<path d="M243.2 558.7h10.8v10.8h-10.8z" fill="#5e5e5e"/><path d="M232.7 558.7h10.8v10.8h-10.8z" fill="#626262"/><path d="M222.2 537.7h10.8v10.8h-10.8z" fill="#7f7f7f"/><path d="M211.7 569.2h10.8v10.8h-10.8zM253.7 569.2h10.8v10.8h-10.8z" fill="#808080"/><path d="M232.7 548.2h10.8v10.8h-10.8z" fill="#818181"/><path d="M243.2 569.2h10.8v10.8h-10.8zM253.7 548.2h10.8v10.8h-10.8z" fill="#828282"/><path d="M211.7 537.7h10.8v10.8h-10.8z" fill="#838383"/><path d="M222.2 548.2h10.8v10.8h-10.8zM232.7 537.7h10.8v10.8h-10.8zM232.7 569.2h10.8v10.8h-10.8z" fill="#848484"/><path d="M243.2 548.2h10.8v10.8h-10.8z" fill="#888888"/><path d="M211.7 548.2h10.8v10.8h-10.8z" fill="#8b8b8b"/><path d="M222.2 558.7h10.8v10.8h-10.8z" fill="#8c8c8c"/><path d="M253.7 558.7h10.8v10.8h-10.8z" fill="#8d8d8d"/><path d="M211.7 558.7h10.8v10.8h-10.8z" fill="#909090"/><path d="M222.2 569.2h10.8v10.8h-10.8z" fill="#919191"/><path d="M243.2 537.7h10.8v10.8h-10.8z" fill="#999999"/><path d="M222.2 579.6h10.8v10.8h-10.8zM243.2 579.6h10.8v10.8h-10.8z" fill="#9d9d9d"/><path d="M201.1 548.2h10.8v10.8h-10.8zM201.1 569.2h10.8v10.8h-10.8z" fill="#9e9e9e"/><path d="M264.3 569.2h10.8v10.8h-10.8z" fill="#9f9f9f"/><path d="M253.7 579.6h10.8v10.8h-10.8z" fill="#a1a1a1"/><path d="M232.7 579.6h10.8v10.8h-10.8z" fill="#a2a2a2"/><path d="M201.1 558.7h10.8v10.8h-10.8z" fill="#a4a4a4"/><path d="M222.2 527.2h10.8v10.8h-10.8z" fill="#a6a6a6"/><path d="M264.3 558.7h10.8v10.8h-10.8z" fill="#a8a8a8"/><path d="M232.7 527.2h10.8v10.8h-10.8z" fill="#a9a9a9"/><path d="M211.7 527.2h10.8v10.8h-10.8z" fill="#b9b9b9"/><path d="M201.1 537.7h10.8v10.8h-10.8z" fill="#bababa"/><path d="M211.7 579.6h10.8v10.8h-10.8z" fill="#bfbfbf"/><path d="M264.3 548.2h10.8v10.8h-10.8z" fill="#c6c6c6"/><path d="M190.6 558.7h10.8v10.8h-10.8zM222.2 590.1h10.8v10.8h-10.8z" fill="#c8c8c8"/><path d="M190.6 569.2h10.8v10.8h-10.8zM232.7 590.1h10.8v10.8h-10.8zM253.7 537.7h10.8v10.8h-10.8z" fill="#cbcbcb"/><path d="M232.7 506.3h10.8v10.8h-10.8zM243.2 516.8h10.8v10.8h-10.8z" fill="#d0d0d0"/><path d="M222.2 516.8h10.8v10.8h-10.8z" fill="#d1d1d1"/><path d="M232.7 516.8h10.8v10.8h-10.8z" fill="#d2d2d2"/><path d="M253.7 527.2h10.8v10.8h-10.8zM264.3 579.6h10.8v10.8h-10.8z" fill="#d3d3d3"/><path d="M211.7 590.1h10.8v10.8h-10.8zM274.8 548.2h10.8v10.8h-10.8z" fill="#d4d4d4"/><path d="M211.7 516.8h10.8v10.8h-10.8z" fill="#d5d5d5"/><path d="M201.1 527.2h10.8v10.8h-10.8zM253.7 590.1h10.8v10.8h-10.8zM264.3 537.7h10.8v10.8h-10.8z" fill="#d6d6d6"/><path d="M201.1 579.6h10.8v10.8h-10.8z" fill="#d7d7d7"/><path d="M243.2 527.2h10.8v10.8h-10.8zM243.2 590.1h10.8v10.8h-10.8z" fill="#d9d9d9"/><path d="M190.6 548.2h10.8v10.8h-10.8z" fill="#dadada"/><path d="M243.2 506.3h10.8v10.8h-10.8z" fill="#dbdbdb"/><path d="M253.7 516.8h10.8v10.8h-10.8zM274.8 537.7h10.8v10.8h-10.8z" fill="#dddddd"/><path d="M190.6 527.2h10.8v10.8h-10.8zM190.6 537.7h10.8v10.8h-10.8zM222.2 506.3h10.8v10.8h-10.8z" fill="#dfdfdf"/><path d="M253.7 600.6h10.8v10.8h-10.8z" fill="#e0e0e0"/><path d="M274.8 558.7h10.8v10.8h-10.8z" fill="#e4e4e4"/><path d="M190.6 579.6h10.8v10.8h-10.8zM201.1 590.1h10.8v10.8h-10.8z" fill="#e6e6e6"/><path d="M211.7 506.3h10.8v10.8h-10.8z" fill="#e7e7e7"/><path d="M232.7 600.6h10.8v10.8h-10.8zM243.2 611.1h10.8v10.8h-10.8zM285.3 579.6h10.8v10.8h-10.8z" fill="#e8e8e8"/><path d="M190.6 516.8h10.8v10.8h-10.8zM264.3 527.2h10.8v10.8h-10.8z" fill="#e9e9e9"/><path d="M201.1 506.3h10.8v10.8h-10.8zM243.2 600.6h10.8v10.8h-10.8zM274.8 569.2h10.8v10.8h-10.8zM285.3 537.7h10.8v10.8h-10.8z" fill="#eaeaea"/><path d="M180.1 527.2h10.8v10.8h-10.8zM180.1 569.2h10.8v10.8h-10.8zM222.2 600.6h10.8v10.8h-10.8z" fill="#ebebeb"/><path d="M274.8 527.2h10.8v10.8h-10.8z" fill="#ececec"/><path d="M264.3 516.8h10.8v10.8h-10.8z" fill="#ededed"/><path d="M232.7 611.1h10.8v10.8h-10.8z" fill="#eeeeee"/><path d="M253.7 506.3h10.8v10.8h-10.8zM264.3 590.1h10.8v10.8h-10.8z" fill="#f0f0f0"/><path d="M201.1 516.8h10.8v10.8h-10.8zM274.8 579.6h10.8v10.8h-10.8z" fill="#f2f2f2"/><path d="M211.7 600.6h10.8v10.8h-10.8z" fill="#f4f4f4"/><path d="M169.6 558.7h10.8v10.8h-10.8zM180.1 548.2h10.8v10.8h-10.8zM190.6 590.1h10.8v10.8h-10.8zM222.2 611.1h10.8v10.8h-10.8zM274.8 516.8h10.8v10.8h-10.8zM285.3 569.2h10.8v10.8h-10.8z" fill="#f5f5f5"/><path d="M264.3 506.3h10.8v10.8h-10.8zM285.3 527.2h10.8v10.8h-10.8z" fill="#f6f6f6"/><path d="M169.6 569.2h10.8v10.8h-10.8zM180.1 558.7h10.8v10.8h-10.8zM180.1 579.6h10.8v10.8h-10.8zM201.1 600.6h10.8v10.8h-10.8zM211.7 495.8h10.8v10.8h-10.8zM232.7 495.8h10.8v10.8h-10.8zM243.2 495.8h10.8v10.8h-10.8zM253.7 611.1h10.8v10.8h-10.8zM274.8 590.1h10.8v10.8h-10.8zM285.3 590.1h10.8v10.8h-10.8z" fill="#f8f8f8"/><path d="M264.3 600.6h10.8v10.8h-10.8zM285.3 548.2h10.8v10.8h-10.8z" fill="#f9f9f9"/><path d="M211.7 611.1h10.8v10.8h-10.8zM285.3 558.7h10.8v10.8h-10.8zM295.8 548.2h10.8v10.8h-10.8z" fill="#fafafa"/><path d="M169.6 548.2h10.8v10.8h-10.8zM180.1 537.7h10.8v10.8h-10.8zM201.1 495.8h10.8v10.8h-10.8zM222.2 495.8h10.8v10.8h-10.8zM253.7 495.8h10.8v10.8h-10.8z" fill="#fbfbfb"/><path d="M169.6 527.2h10.8v10.8h-10.8zM180.1 516.8h10.8v10.8h-10.8zM190.6 506.3h10.8v10.8h-10.8zM190.6 600.6h10.8v10.8h-10.8zM274.8 600.6h10.8v10.8h-10.8zM274.8 611.1h10.8v10.8h-10.8zM295.8 558.7h10.8v10.8h-10.8z" fill="#fdfdfd"/>

<path d="M206.7 653V443.4" stroke="#000" stroke-width="2.9" stroke-dasharray="10.6 5.1" fill="none"/>
<path d="M259.3 653V443.4" stroke="#000" stroke-width="2.9" stroke-dasharray="10.6 5.1" fill="none"/>
<path d="M127.5 532.2H337.9" stroke="#000" stroke-width="2.9" stroke-dasharray="10.6 5.1" fill="none"/>
<path d="M127.5 584.9H337.9" stroke="#000" stroke-width="2.9" stroke-dasharray="10.6 5.1" fill="none"/>
<path d="M170 551.6L184.4 542.7L177.3 532L193.3 521.6L206.7 502.7L217.8 501.6L227.8 495.6L244.4 500.4L262.2 504.9L275.6 516L288.9 527.1L295.6 542.7L300 553.8L295.6 569.3L297.8 580.4L291.1 596L275.6 604.9L262.2 613.8L251.1 620.4L240 622.7L226.7 618.2L215.6 613.8L204.4 611.6L195.6 598.2L184.4 582.7L173.3 573.8L174.4 562.7Z" stroke="#000" stroke-width="3.1" fill="none" stroke-linejoin="round"/>
<path d="M279.1 612.9L281.8 615.6L279.1 618.2L276.4 615.6Z" stroke="#000" stroke-width="3.1" fill="none" stroke-linejoin="round"/>
<path d="M188.9 551.6L196.7 540.4L193.3 531.6L208.9 524.9L217.8 511.6L228.9 512.7L242.2 504.9L257.8 524.9L267.8 520.4L264.4 529.3L277.8 540.4L282.2 560.4L277.8 573.8L268.9 589.3L262.2 604.9L251.1 602.7L237.8 604.9L220 601.6L206.7 596L197.8 582.7L191.1 573.8Z" stroke="#000" stroke-width="3.1" fill="none" stroke-linejoin="round"/>
<path d="M205.6 551.6L208.9 540.4L217.8 533.8L235.6 529.3L246.7 540.4L262.2 549.3L268.9 560.4L271.1 576L262.2 589.3L253.3 584.9L240 587.1L224.4 584.9L213.3 580.4L202.2 574.9Z" stroke="#000" stroke-width="3.1" fill="none" stroke-linejoin="round"/>
<path d="M224.4 542.7L228.9 540.4L230 547.1L225.6 549.3Z" stroke="#000" stroke-width="3.1" fill="none" stroke-linejoin="round"/>
<path d="M231.1 562.7L235.6 558.2L235.6 568.2Z" stroke="#000" stroke-width="3.1" fill="none" stroke-linejoin="round"/>
<path d="M241.1 558.2L248.9 557.1L247.8 567.1L250 571.6L242.2 570.4Z" stroke="#000" stroke-width="3.1" fill="none" stroke-linejoin="round"/>
<path d="M147 653v-7M147 443.4v7M168.2 653v-7M168.2 443.4v7M189.4 653v-14.3M189.4 443.4v14.3M210.6 653v-7M210.6 443.4v7M231.8 653v-7M231.8 443.4v7M253.1 653v-7M253.1 443.4v7M274.3 653v-7M274.3 443.4v7M295.5 653v-14.3M295.5 443.4v14.3M316.7 653v-7M316.7 443.4v7M127.5 465.3h14.3M337.9 465.3h-14.3M127.5 490.8h7M337.9 490.8h-7M127.5 516.3h7M337.9 516.3h-7M127.5 541.8h7M337.9 541.8h-7M127.5 567.3h7M337.9 567.3h-7M127.5 592.8h14.3M337.9 592.8h-14.3M127.5 618.3h7M337.9 618.3h-7M127.5 643.8h7M337.9 643.8h-7" stroke="#000" stroke-width="2.4" fill="none"/>
<path d="M238 443.4V653" stroke="#db2224" stroke-width="4.3" fill="none"/>
<path d="M127.5 553.8H337.9" stroke="#db2224" stroke-width="4.3" fill="none"/>
<rect x="127.5" y="443.4" width="210.4" height="209.6" fill="none" stroke="#000" stroke-width="2.75"/>
</g>
<g>
<path d="M454.4 597.7h1.35M435.4 610.9h1.35M419.2 472h1.35M461.9 535.8h1.35M449.1 606.5h1.35M451.4 566h1.35M448.7 531.3h1.35M411.7 494.7h1.35M417.5 631.1h1.35M458.2 532.5h1.35M403.7 625.2h1.35M459.6 573.9h1.35M367.1 535.4h1.35M448.5 600.5h1.35M462.6 585.6h1.35M459.6 553.8h1.35M441.4 607h1.35M375 546.4h1.35M474 595.4h1.35M438.2 616.8h1.35M439 598.3h1.35M469.6 602.5h1.35M442.9 500.1h1.35M351.6 520.7h1.35M403.5 629h1.35M413.4 638.8h1.35M437.9 643.7h1.35M449.5 552.3h1.35M459.7 589.6h1.35M451.1 617.6h1.35M453 561.7h1.35M390.1 622h1.35M396.6 473h1.35M434 614.6h1.35M453.7 566.9h1.35M425.6 633.4h1.35M432.1 625.6h1.35M455.5 529.2h1.35M462.6 635.4h1.35M435.3 620.6h1.35M449.9 598.3h1.35M385.3 642.2h1.35M414.9 500.4h1.35M374.3 542.8h1.35M450.4 542h1.35M365.1 589.7h1.35M357.6 504.7h1.35M419.4 500.3h1.35M424.4 497h1.35M439.1 517.2h1.35M466.7 521.1h1.35M446.3 607h1.35M374.1 550.8h1.35M412.3 628.7h1.35M425.5 642h1.35M466.8 560.1h1.35M415.2 630.7h1.35M426.5 490h1.35M368 597.3h1.35M409.2 477.7h1.35M432.9 499.2h1.35M459.8 538.4h1.35M453.8 558.7h1.35M427 468.3h1.35M463 451.9h1.35M374.3 614.9h1.35M462.4 573h1.35M403.8 628.9h1.35M385 626.8h1.35M452.2 527.1h1.35M364.6 535.7h1.35M430.3 635.5h1.35M425.8 620.3h1.35M398.9 624.1h1.35M450.6 536.3h1.35M444.8 600.2h1.35M444.6 596.5h1.35M426.6 623.4h1.35M459.2 553.1h1.35M434.2 521h1.35M444 596.1h1.35M437.1 515.9h1.35M371.8 600.6h1.35M373.2 516.6h1.35M427.2 507.6h1.35M370.3 537.4h1.35M446.8 518.2h1.35M379.6 601.6h1.35M475.6 589.8h1.35M366.6 562.7h1.35M448.6 541.1h1.35M453.7 569.7h1.35M436.9 520.7h1.35M391.7 485.4h1.35M361.3 581h1.35M420 623.3h1.35M440.7 527.1h1.35M408.9 628.5h1.35M464.1 563.7h1.35M432.6 616.4h1.35M445 603.9h1.35M367.3 534.8h1.35M469.8 542.7h1.35M459.9 586.6h1.35M378.9 502h1.35M435.1 522.2h1.35M372.5 546.7h1.35M361.7 592.1h1.35M368.2 515.7h1.35M408.8 637.1h1.35M412.8 627h1.35M448.2 543h1.35M360.9 608.1h1.35M467.3 646.7h1.35M416.3 490.9h1.35M425.7 494.3h1.35M440.9 524.9h1.35M439.3 527.5h1.35M439.9 621.1h1.35M375.5 588.5h1.35M461.7 527.7h1.35M431.1 646.7h1.35M442.7 532.3h1.35M417.3 629.8h1.35M370.1 565.4h1.35M367.9 556.6h1.35M395.9 621.3h1.35M460.6 612.4h1.35M367.9 523.5h1.35M385.3 486.8h1.35M474.6 593h1.35M387.8 631.2h1.35M417.3 632.9h1.35M367.7 546.5h1.35M464.8 533.6h1.35M408.4 492.4h1.35M361.6 548.7h1.35M454.3 472.1h1.35M453.2 532.5h1.35M439.1 524.3h1.35M361.8 559.2h1.35M449.5 483.5h1.35M448.2 537.2h1.35M373.3 586.4h1.35M460.8 586.9h1.35M438 601.8h1.35M385.2 605.2h1.35M445.3 605.9h1.35M412.5 632.5h1.35M442.1 512.4h1.35M430.9 503h1.35M367 614.6h1.35M381.7 610.4h1.35M454.4 616.7h1.35M369.1 608.7h1.35M438.2 496.9h1.35M452.5 580h1.35M394.8 636.2h1.35M375.8 613.8h1.35M463.1 620.8h1.35M371.9 554.1h1.35M449.1 560.3h1.35M448 590.1h1.35M463.3 587.2h1.35M358.5 597.7h1.35M374.3 602.6h1.35M368.5 530.6h1.35M439.8 490.4h1.35M454.7 535.2h1.35M365.7 587.7h1.35M468.8 533.1h1.35M423.5 620.2h1.35M387.9 621.5h1.35M367.3 575.2h1.35M446.7 510.7h1.35M370.7 574.9h1.35M390.4 497h1.35M453.2 516.2h1.35M457.3 540.8h1.35M404 495.9h1.35M443.7 530.3h1.35M372 579.1h1.35M455.5 572.4h1.35M441.2 507.8h1.35M451.5 629h1.35M367.8 513.3h1.35M455.3 543.2h1.35M456.6 582.9h1.35M375.8 598.1h1.35M402.7 491.8h1.35M365.1 537h1.35M435.8 621.9h1.35M393.1 620.7h1.35M458.1 553.1h1.35M430.7 492.3h1.35M369.7 606.8h1.35M436.2 627.5h1.35M418.5 485h1.35M368.7 574.9h1.35M360.7 509.8h1.35M367.4 555.6h1.35M394.8 483.4h1.35M439.5 525.2h1.35M419.5 477.5h1.35M448 595.1h1.35M361.3 548.3h1.35M449.1 591.7h1.35M388.7 498.2h1.35M445.5 609.1h1.35M407.7 639.5h1.35M376.9 590.6h1.35M433.8 629.1h1.35M391.9 497.8h1.35M412.6 477.9h1.35M448.1 529.7h1.35M461.3 520.4h1.35M449.9 591.8h1.35M456.1 560.7h1.35M396.2 620.7h1.35M442.7 521.4h1.35M457.5 533.2h1.35M375.5 588.5h1.35M377.1 614.4h1.35M403.1 640.3h1.35M390.2 498.3h1.35M390.6 629.7h1.35M448.6 586h1.35M446 589.8h1.35M443.1 490.3h1.35M382 609.9h1.35M376.4 604.2h1.35M356.3 576.9h1.35M433.5 513.5h1.35M364.3 611.2h1.35M462.2 555.9h1.35M391.9 647.2h1.35M442.4 499.6h1.35M431.7 494.2h1.35M440.6 614.7h1.35M399.7 627.6h1.35M374.5 534.5h1.35M457.3 523.5h1.35M444.4 607.2h1.35M372.1 593.1h1.35M453.8 576.6h1.35M424.7 622.1h1.35M369.3 601.9h1.35M436.1 523.1h1.35M370.6 547.5h1.35M367 550.7h1.35M441.5 606h1.35M383.4 614.8h1.35M371.4 531.7h1.35M437.7 637.3h1.35M372.9 580.7h1.35M453.4 603.4h1.35M450.9 534.6h1.35M385.4 459.7h1.35M458.1 567h1.35M461.2 526.3h1.35M361.7 532.7h1.35M393.3 630.6h1.35M417.6 621.2h1.35M464.6 528.5h1.35M451.4 591.5h1.35M351.8 563.3h1.35M433.2 510.8h1.35M364.3 569.9h1.35M463.1 545.5h1.35M355.1 502.9h1.35M383.4 610.8h1.35M456.4 592.4h1.35M384.7 621.4h1.35M432.5 517.5h1.35M353.6 549.7h1.35M459.8 524.6h1.35M414.9 486.1h1.35M418.6 503h1.35M439.3 515.2h1.35M451.3 509.9h1.35M358.8 633.4h1.35M370 603.7h1.35M453 568.8h1.35M414.5 498.4h1.35M456.2 513.2h1.35M460.7 579.7h1.35M433 475.4h1.35M374.2 550.2h1.35M368.4 557.5h1.35M423.9 494.6h1.35M454.2 570h1.35M402.6 642.8h1.35M366.6 550.9h1.35M427.4 621.9h1.35M372 549.7h1.35M364.4 612.5h1.35M440.6 508.3h1.35M472.9 542h1.35M451.1 583.8h1.35M438 523.1h1.35M444.1 622.7h1.35M372.8 560.5h1.35M377.2 628.5h1.35M380.8 609.5h1.35M356.8 555.6h1.35M473.4 619.5h1.35M391.4 641.9h1.35M420.2 481.8h1.35M373.4 561.7h1.35M474.2 523h1.35M376.5 610.2h1.35M441.7 603.2h1.35M446.4 601.8h1.35M440.7 613.4h1.35M357.3 560.8h1.35M420.5 625.5h1.35M447.3 536.1h1.35M401.9 628.1h1.35M368.7 629.7h1.35M376.3 602h1.35M453.2 559.2h1.35M429.6 497.9h1.35M462.2 557.7h1.35M412 479.7h1.35M456.5 579.6h1.35M452.5 518.8h1.35M451.8 583.2h1.35M413 634.9h1.35M442.4 603h1.35M421.2 500h1.35M452.6 569.4h1.35M366 579.5h1.35M409.1 631.9h1.35M453.4 648.6h1.35M442.1 509.8h1.35M435.9 523.8h1.35M446.5 501.7h1.35M431.2 514h1.35M438.6 616.3h1.35M418.9 633.4h1.35M458.9 537.4h1.35M395.9 626.2h1.35M416 486.9h1.35M439.6 521.1h1.35M373.9 526.1h1.35M366.5 531.9h1.35M452.8 550.9h1.35M374.2 544.1h1.35M353.8 556.7h1.35M450.7 587.9h1.35M370.1 560.9h1.35M451.7 556.3h1.35M377.8 621.7h1.35M449.5 614.3h1.35M453.8 453.3h1.35M405.6 629.6h1.35M403 479.2h1.35M438.5 605.3h1.35M465.9 565.9h1.35M438.4 596.4h1.35M396.9 495.1h1.35M475.5 582.7h1.35M456.9 552h1.35M447.4 520.5h1.35M440 490.1h1.35M387.1 621.7h1.35M357.2 601.8h1.35M396.9 638.3h1.35M364.1 548.1h1.35M363.9 540.8h1.35M436.2 610.3h1.35M436.6 492.5h1.35M440 603.6h1.35M391.8 639.9h1.35M441.2 481.9h1.35M445.8 531.1h1.35M411.4 497h1.35M375.4 589.2h1.35M433.5 635.5h1.35M434.8 636.5h1.35M447.7 588.6h1.35M393.4 629.5h1.35M441.5 598.2h1.35M386.5 610.5h1.35M433.4 632.4h1.35M437.6 621h1.35M375.2 604.9h1.35M438.1 481.8h1.35M452.6 544.4h1.35M467.5 563.2h1.35M459.5 537h1.35M449.8 514.5h1.35M402.1 479.9h1.35M373.5 583.7h1.35M453.1 588.9h1.35M361.6 562.8h1.35M428.9 485.7h1.35M445.1 610.3h1.35M363.8 541.8h1.35M478.4 545.9h1.35M366.4 598h1.35M387.5 470.5h1.35M401.9 495.9h1.35M381.6 602.4h1.35M395 497.4h1.35M437.9 508h1.35M408.4 635.5h1.35M404.2 489.1h1.35M440.6 602.2h1.35M366 577h1.35M366.3 565.3h1.35M386 609.2h1.35M367.2 535.1h1.35M354.8 589.5h1.35M381.6 605.5h1.35M371.2 588.3h1.35M449.2 544.1h1.35M369.5 489.8h1.35M416.9 500.3h1.35M403.5 477.3h1.35M373.2 546.9h1.35M430.3 475.2h1.35M421.4 623.9h1.35M455.4 585.6h1.35M364.6 590.9h1.35M440.5 600.2h1.35M458.3 542.1h1.35M376.1 601.1h1.35M392.4 619.9h1.35M371.7 616.1h1.35M451.6 600.4h1.35M362.4 613.9h1.35M424.4 469.5h1.35M372.6 524.1h1.35M452.7 552.7h1.35M417.5 621.3h1.35M404.3 471.5h1.35M372.3 593.8h1.35M390.8 497.9h1.35M456.1 561.3h1.35M446.2 527.5h1.35M470.4 569.2h1.35M416.4 497.2h1.35M352.1 582.8h1.35M378.4 593.2h1.35M445.4 609.4h1.35M372.8 493.5h1.35M420.9 625.1h1.35M415.2 621.2h1.35M368.9 518h1.35M439.8 618.2h1.35M413.6 483.4h1.35M441.2 643.3h1.35M435.3 632.7h1.35M364.4 604.7h1.35M364.5 590.8h1.35M449.4 558h1.35M370.3 547.4h1.35M422.6 632.2h1.35M377.3 593.8h1.35M441 526.3h1.35M436.8 503.9h1.35M451.8 538.2h1.35M373.9 534.8h1.35M395.5 628.1h1.35M446.8 541.8h1.35M391.3 462.5h1.35M369.2 597.5h1.35M394.5 492.8h1.35M467.4 519h1.35M358.5 545h1.35M447.6 538.6h1.35M430.6 501.3h1.35M455.5 570.7h1.35M450.2 560.9h1.35M370.8 504.6h1.35M449.4 613.9h1.35M383.4 477.2h1.35M458.8 546.2h1.35M392 497.3h1.35M396.5 622.8h1.35M440.4 624.7h1.35M457 553.9h1.35M430.7 501.7h1.35M392.9 622h1.35M364.6 579.5h1.35M462.7 607.6h1.35M449.8 531.9h1.35M388 644.5h1.35M461.4 573.3h1.35M403.8 639.9h1.35M388.7 617.9h1.35M456.8 567.6h1.35M469.1 537.6h1.35M449.6 538.8h1.35M431 501.6h1.35M451.3 521.6h1.35M353.1 530.6h1.35M452.8 533.9h1.35M456.2 529.4h1.35M360.9 536.5h1.35M457.5 556.2h1.35M415.7 634h1.35M461 569.1h1.35M462.4 562.6h1.35M456.8 515.7h1.35M463.2 587.5h1.35M457.5 578.9h1.35M392.8 499.5h1.35M446.5 595.5h1.35M453.4 581.3h1.35M436.5 615.6h1.35M449.6 514.4h1.35M410.7 477.9h1.35M376 601.6h1.35M412.3 626.4h1.35M454.1 636.7h1.35M442.9 484.6h1.35M451.1 542.7h1.35M356.3 542.5h1.35" stroke="#000" stroke-opacity="0.2" stroke-width="1.35" fill="none"/>
<path d="M369.9 571.6L374.3 560.4L375.4 542.7L374.3 524.9L372.1 507.1L385.4 503.8L396.6 499.3L409.9 500.4L421 503.8L429.9 510.4L434.3 522.7L441 529.3L446.6 542.7L447.7 556L449.9 567.1L454.3 574.9L449.9 584.9L438.8 593.8L436.6 607.1L429.9 617.1L416.6 620.4L405.4 623.8L392.1 618.2L385.4 604.9L377.7 591.6L373.2 580.4Z" fill="#fff"/>
<path d="M400.6 548.2h10.8v10.8h-10.8z" fill="#5a5a5a"/><path d="M411.1 569.2h10.8v10.8h-10.8z" fill="#5e5e5e"/><path d="M411.1 548.2h10.8v10.8h-10.8z" fill="#5f5f5f"/><path d="M390.1 537.7h10.8v10.8h-10.8z" fill="#606060"/><path d="M390.1 558.7h10.8v10.8h-10.8z" fill="#626262"/><path d="M400.6 569.2h10.8v10.8h-10.8z" fill="#636363"/><path d="M390.1 569.2h10.8v10.8h-10.8z" fill="#646464"/><path d="M400.6 558.7h10.8v10.8h-10.8zM411.1 558.7h10.8v10.8h-10.8z" fill="#656565"/><path d="M400.6 537.7h10.8v10.8h-10.8z" fill="#676767"/><path d="M390.1 548.2h10.8v10.8h-10.8z" fill="#6d6d6d"/><path d="M411.1 537.7h10.8v10.8h-10.8z" fill="#757575"/><path d="M400.6 579.6h10.8v10.8h-10.8z" fill="#7f7f7f"/><path d="M400.6 527.2h10.8v10.8h-10.8z" fill="#858585"/><path d="M390.1 527.2h10.8v10.8h-10.8z" fill="#979797"/><path d="M421.6 569.2h10.8v10.8h-10.8z" fill="#a1a1a1"/><path d="M390.1 579.6h10.8v10.8h-10.8z" fill="#a2a2a2"/><path d="M411.1 579.6h10.8v10.8h-10.8z" fill="#a5a5a5"/><path d="M421.6 558.7h10.8v10.8h-10.8z" fill="#a6a6a6"/><path d="M379.6 548.2h10.8v10.8h-10.8z" fill="#a9a9a9"/><path d="M411.1 527.2h10.8v10.8h-10.8z" fill="#aeaeae"/><path d="M379.6 558.7h10.8v10.8h-10.8z" fill="#b2b2b2"/><path d="M400.6 516.8h10.8v10.8h-10.8z" fill="#b4b4b4"/><path d="M421.6 548.2h10.8v10.8h-10.8z" fill="#b5b5b5"/><path d="M400.6 590.1h10.8v10.8h-10.8z" fill="#b7b7b7"/><path d="M411.1 590.1h10.8v10.8h-10.8z" fill="#b9b9b9"/><path d="M390.1 516.8h10.8v10.8h-10.8z" fill="#bababa"/><path d="M421.6 537.7h10.8v10.8h-10.8z" fill="#c1c1c1"/><path d="M421.6 579.6h10.8v10.8h-10.8z" fill="#c5c5c5"/><path d="M411.1 516.8h10.8v10.8h-10.8z" fill="#c6c6c6"/><path d="M390.1 590.1h10.8v10.8h-10.8z" fill="#c7c7c7"/><path d="M379.6 537.7h10.8v10.8h-10.8zM400.6 600.6h10.8v10.8h-10.8z" fill="#cccccc"/><path d="M390.1 506.3h10.8v10.8h-10.8z" fill="#cecece"/><path d="M379.6 527.2h10.8v10.8h-10.8z" fill="#d0d0d0"/><path d="M379.6 569.2h10.8v10.8h-10.8zM421.6 527.2h10.8v10.8h-10.8z" fill="#d1d1d1"/><path d="M400.6 506.3h10.8v10.8h-10.8z" fill="#d2d2d2"/><path d="M432.2 569.2h10.8v10.8h-10.8z" fill="#d5d5d5"/><path d="M379.6 516.8h10.8v10.8h-10.8zM379.6 579.6h10.8v10.8h-10.8z" fill="#d6d6d6"/><path d="M432.2 548.2h10.8v10.8h-10.8z" fill="#d9d9d9"/><path d="M432.2 558.7h10.8v10.8h-10.8z" fill="#dddddd"/><path d="M421.6 590.1h10.8v10.8h-10.8z" fill="#dedede"/><path d="M390.1 600.6h10.8v10.8h-10.8z" fill="#dfdfdf"/><path d="M442.7 569.2h10.8v10.8h-10.8z" fill="#e1e1e1"/><path d="M411.1 506.3h10.8v10.8h-10.8zM411.1 611.1h10.8v10.8h-10.8z" fill="#e3e3e3"/><path d="M432.2 579.6h10.8v10.8h-10.8z" fill="#e4e4e4"/><path d="M432.2 537.7h10.8v10.8h-10.8z" fill="#e6e6e6"/><path d="M400.6 495.8h10.8v10.8h-10.8z" fill="#e9e9e9"/><path d="M442.7 579.6h10.8v10.8h-10.8z" fill="#eaeaea"/><path d="M379.6 506.3h10.8v10.8h-10.8zM411.1 600.6h10.8v10.8h-10.8z" fill="#ebebeb"/><path d="M421.6 516.8h10.8v10.8h-10.8z" fill="#ececec"/><path d="M421.6 600.6h10.8v10.8h-10.8z" fill="#ededed"/><path d="M369 516.8h10.8v10.8h-10.8zM390.1 611.1h10.8v10.8h-10.8z" fill="#eeeeee"/><path d="M369 506.3h10.8v10.8h-10.8zM390.1 495.8h10.8v10.8h-10.8z" fill="#f2f2f2"/><path d="M369 569.2h10.8v10.8h-10.8z" fill="#f3f3f3"/><path d="M400.6 611.1h10.8v10.8h-10.8zM421.6 611.1h10.8v10.8h-10.8zM432.2 527.2h10.8v10.8h-10.8z" fill="#f4f4f4"/><path d="M369 558.7h10.8v10.8h-10.8z" fill="#f5f5f5"/><path d="M369 579.6h10.8v10.8h-10.8zM379.6 600.6h10.8v10.8h-10.8z" fill="#f6f6f6"/><path d="M379.6 590.1h10.8v10.8h-10.8zM442.7 558.7h10.8v10.8h-10.8z" fill="#f7f7f7"/><path d="M369 527.2h10.8v10.8h-10.8zM369 537.7h10.8v10.8h-10.8zM369 548.2h10.8v10.8h-10.8zM411.1 495.8h10.8v10.8h-10.8zM421.6 506.3h10.8v10.8h-10.8zM432.2 600.6h10.8v10.8h-10.8zM442.7 537.7h10.8v10.8h-10.8zM442.7 548.2h10.8v10.8h-10.8z" fill="#f8f8f8"/><path d="M432.2 590.1h10.8v10.8h-10.8z" fill="#f9f9f9"/><path d="M379.6 495.8h10.8v10.8h-10.8zM432.2 516.8h10.8v10.8h-10.8z" fill="#fafafa"/><path d="M400.6 621.6h10.8v10.8h-10.8z" fill="#fcfcfc"/>

<path d="M385 653V443.4" stroke="#000" stroke-width="2.9" stroke-dasharray="10.6 5.1" fill="none"/>
<path d="M417 653V443.4" stroke="#000" stroke-width="2.9" stroke-dasharray="10.6 5.1" fill="none"/>
<path d="M348 532.2H558.4" stroke="#000" stroke-width="2.9" stroke-dasharray="10.6 5.1" fill="none"/>
<path d="M348 584.9H558.4" stroke="#000" stroke-width="2.9" stroke-dasharray="10.6 5.1" fill="none"/>
<path d="M369.9 571.6L374.3 560.4L375.4 542.7L374.3 524.9L372.1 507.1L385.4 503.8L396.6 499.3L409.9 500.4L421 503.8L429.9 510.4L434.3 522.7L441 529.3L446.6 542.7L447.7 556L449.9 567.1L454.3 574.9L449.9 584.9L438.8 593.8L436.6 607.1L429.9 617.1L416.6 620.4L405.4 623.8L392.1 618.2L385.4 604.9L377.7 591.6L373.2 580.4Z" stroke="#000" stroke-width="3.1" fill="none" stroke-linejoin="round"/>
<path d="M379.9 560.4L381 542.7L385.4 529.3L385.4 518.2L396.6 510.4L405.4 508.2L414.3 513.8L425.4 524.9L432.1 538.2L436.6 556L437.7 576L429.9 587.1L425.4 598.2L414.3 604.9L403.2 607.1L392.1 598.2L385.4 587.1L382.1 573.8Z" stroke="#000" stroke-width="3.1" fill="none" stroke-linejoin="round"/>
<path d="M387.7 553.8L389.9 540.4L396.6 531.6L405.4 530.4L414.3 533.8L419.9 544.9L423.2 560.4L426.6 573.8L418.8 580.4L412.1 587.1L401 588.2L392.1 578.2L388.8 567.1Z" stroke="#000" stroke-width="3.1" fill="none" stroke-linejoin="round"/>
<path d="M365.1 653v-7M365.1 443.4v7M384.6 653v-14.3M384.6 443.4v14.3M404.1 653v-7M404.1 443.4v7M423.7 653v-7M423.7 443.4v7M443.2 653v-7M443.2 443.4v7M462.8 653v-7M462.8 443.4v7M482.3 653v-14.3M482.3 443.4v14.3M501.8 653v-7M501.8 443.4v7M521.4 653v-7M521.4 443.4v7M540.9 653v-7M540.9 443.4v7M348 465.3h14.3M558.4 465.3h-14.3M348 490.8h7M558.4 490.8h-7M348 516.3h7M558.4 516.3h-7M348 541.8h7M558.4 541.8h-7M348 567.3h7M558.4 567.3h-7M348 592.8h14.3M558.4 592.8h-14.3M348 618.3h7M558.4 618.3h-7M348 643.8h7M558.4 643.8h-7" stroke="#000" stroke-width="2.4" fill="none"/>
<path d="M405.7 443.4V653" stroke="#db2224" stroke-width="4.3" fill="none"/>
<path d="M348 553.8H558.4" stroke="#db2224" stroke-width="4.3" fill="none"/>
<rect x="348" y="443.4" width="210.4" height="209.6" fill="none" stroke="#000" stroke-width="2.75"/>
</g>
<g>
<path d="M150.7 786.1h1.35M161.1 738.8h1.35M260.3 702.4h1.35M260.1 803h1.35M169.2 744.9h1.35M201.9 793.9h1.35M229.2 703h1.35M195.5 700.6h1.35M296.5 802.1h1.35M295.4 797.9h1.35M325.2 718.9h1.35M236.8 804.7h1.35M308.2 757.7h1.35M194.2 802.3h1.35M269.4 703.7h1.35M211.2 698.4h1.35M231.2 702.1h1.35M190.6 846.4h1.35M187 781h1.35M164 752.2h1.35M196.5 701.6h1.35M280.9 798h1.35M278.8 802.6h1.35M278.5 694.8h1.35M208.9 802.1h1.35M245.9 681h1.35M228.5 814.6h1.35M184.3 720.5h1.35M176.7 782.7h1.35M187.1 722.1h1.35M205.1 703.6h1.35M178.4 805.5h1.35M186.6 712.6h1.35M211.8 708.6h1.35M299.5 773.5h1.35M164.3 773.2h1.35M307.7 725.5h1.35M198.4 807.7h1.35M273 705.9h1.35M291.7 812.6h1.35M169.9 753h1.35M153 757.4h1.35M294.3 713.3h1.35M212.2 814.8h1.35M205.2 796.1h1.35M231.5 696.4h1.35M167.3 770h1.35M196.1 793.4h1.35M283 691.2h1.35M196.9 706.8h1.35M164.8 755.4h1.35M184.7 782.2h1.35M299.4 770.5h1.35M301.8 773.2h1.35M304.3 735.9h1.35M163 773.4h1.35M251.5 682.5h1.35M220.2 814.1h1.35M202.6 801.6h1.35M295.8 777.3h1.35M253.1 700.4h1.35M258.1 685.1h1.35M167.1 750.9h1.35M265.7 808.7h1.35M207.3 703h1.35M296.5 741.2h1.35M308.8 764.4h1.35M166.1 734.6h1.35M173.2 715h1.35M184.1 722.1h1.35M201.5 795.8h1.35M170.6 812.4h1.35M182.3 716.3h1.35M258.8 694h1.35M303.7 722h1.35M155.3 754.3h1.35M294.2 714.8h1.35M155.4 795.3h1.35M221.7 699.1h1.35M165.1 700.2h1.35M225.8 803.2h1.35M297.7 727.6h1.35M190.7 786.4h1.35M233.2 803.3h1.35M300.5 711h1.35M154.1 752.2h1.35M175.7 766.9h1.35M273.1 708.3h1.35M282.7 806.1h1.35M259.3 804h1.35M246.9 696.1h1.35M301.1 720.5h1.35M267.2 709h1.35M328.7 739.2h1.35M183.7 812.4h1.35M308.8 751.7h1.35M172.1 765.4h1.35M328.1 771.3h1.35M174.2 755.2h1.35M206.2 678.5h1.35M295.4 720.7h1.35M291.4 794.3h1.35M237.6 683.2h1.35M182.4 709.4h1.35M220.6 691.1h1.35M311 758.4h1.35M217.9 816.2h1.35M227.5 687h1.35M268.5 711h1.35M190.8 679.9h1.35M317.7 743.2h1.35M211.8 819.9h1.35M162.3 767.9h1.35M164.4 807.7h1.35M282 716.3h1.35M206 695.8h1.35M238.5 811h1.35M239 689.7h1.35M299.4 812h1.35M289.7 724.6h1.35M291.2 809.9h1.35M289.2 790.6h1.35M176.2 815.2h1.35M308.7 749.2h1.35M277.5 701h1.35M192.7 782.9h1.35M256.2 805.9h1.35M171.5 726.7h1.35M176.5 757.9h1.35M215.2 814.4h1.35M240.9 701.8h1.35M258.3 678h1.35M295.8 735.9h1.35M279.1 800.8h1.35M288.1 787.7h1.35M282.7 705.3h1.35M318.5 780h1.35M172.8 709.9h1.35M161.2 761.7h1.35M153.5 731.8h1.35M311.1 711.5h1.35M187.6 710.9h1.35M187.4 721.5h1.35M164.1 735h1.35M310.2 704.8h1.35M301.4 770.9h1.35M242.2 694.1h1.35M159 764.2h1.35M258.7 814.8h1.35M317.1 731.1h1.35M163.5 748.4h1.35M251.2 802.1h1.35M151.1 769.9h1.35M164.7 774h1.35M305.6 733.4h1.35M187.6 781.1h1.35M151.4 710.2h1.35M301.5 734.8h1.35M290.2 720.1h1.35M310.6 764.1h1.35M158.5 688.6h1.35M184.8 721.3h1.35M204 814.7h1.35M308.9 792.4h1.35M283.1 716.1h1.35M207.1 794.1h1.35M166.7 740.6h1.35M228.3 700.4h1.35M241.3 694.4h1.35M293.3 721.4h1.35M195.6 799.9h1.35M301.5 816.3h1.35M308.1 749.8h1.35M312 751.6h1.35M237.6 697.1h1.35M167.9 769.5h1.35M174.4 717.4h1.35M182.3 802.5h1.35M150.6 774.8h1.35M183 788.2h1.35M156.2 762.9h1.35M192.7 783.5h1.35M180.8 722h1.35M156.4 770.6h1.35M266.3 692.5h1.35M181.3 721.6h1.35M153.6 751.8h1.35M174.8 759.5h1.35M265.2 801.8h1.35M331.3 763.1h1.35M218 691.5h1.35M201.8 804.7h1.35M200.1 796.5h1.35M164.5 721.9h1.35M281.8 710.9h1.35M323.1 792.2h1.35M211.8 701.9h1.35M205 687.2h1.35M206.4 706.1h1.35M177.5 804.5h1.35M306.3 753.9h1.35M250 698.4h1.35M179.3 778.3h1.35M214.5 821.3h1.35M289.8 718.9h1.35M274.8 801.4h1.35M304 770.1h1.35M218.7 687.9h1.35M295 707.3h1.35M315.3 756.4h1.35M212.6 796.6h1.35M310 744.5h1.35M292.3 729.9h1.35M299.7 792.2h1.35M189.6 712.9h1.35M192.6 686.3h1.35M243.3 827.3h1.35M305.4 791.6h1.35M248 699.4h1.35M195.9 786.1h1.35M156.4 749.4h1.35M214.2 705.4h1.35M163.9 778.2h1.35M309.4 724.7h1.35M307.6 732.1h1.35M302.2 763.1h1.35M189.2 687.9h1.35M298.7 737.9h1.35M309.4 766.4h1.35M251.8 819.6h1.35M169.8 762.6h1.35M171.3 731.4h1.35M165.7 753.1h1.35M204.8 704.3h1.35M269 707.1h1.35M168.9 787.6h1.35M303.2 728.4h1.35M234.3 675.6h1.35M287.2 723.2h1.35M191.8 710.2h1.35M163.8 744.6h1.35M246.6 822.3h1.35M213.1 802.3h1.35M222 811.6h1.35M268.1 829.3h1.35M168.1 769.2h1.35M282.6 792.2h1.35M329.5 799.5h1.35M333.6 766.1h1.35M163.4 765.1h1.35M161.1 749h1.35M308.1 752.1h1.35M199.6 785.6h1.35M170 777.2h1.35M219 698.9h1.35M195.7 785.9h1.35M209 812.8h1.35M143.8 783h1.35M303.1 744h1.35M184.1 794.7h1.35M278.1 702.5h1.35M227.6 702.5h1.35M193.7 794.3h1.35M153.4 742.6h1.35M255.5 693.9h1.35M297.3 800h1.35M205.5 802.6h1.35M173 778.6h1.35M300.5 780.3h1.35M293.3 784.6h1.35M237.7 674.9h1.35M285 720.7h1.35M214.5 692.2h1.35M270 805.6h1.35M295.5 785.9h1.35M180.5 801.2h1.35M175.4 718.2h1.35M298.1 709.2h1.35M148.3 707.8h1.35M300.3 726.4h1.35M236.9 703.7h1.35M179.5 717.5h1.35M320 783.5h1.35M290 728.5h1.35M288.1 725.2h1.35M305.2 763.5h1.35M242.5 701.6h1.35M282.3 803.2h1.35M176 779.2h1.35M303.8 762.7h1.35M204.6 706.6h1.35M169.2 713.6h1.35M294.4 780.9h1.35M222 815.8h1.35M229.4 823.3h1.35M213.5 814.9h1.35M143.1 750.4h1.35M275.6 702.8h1.35M183.6 784.5h1.35M172 795.8h1.35M270.7 707.5h1.35M191.5 803.8h1.35M198.3 696.1h1.35M284.4 721.4h1.35M226.8 697.7h1.35M176.8 726.8h1.35M171.7 709.9h1.35M163.4 762.6h1.35M257.8 689.9h1.35M318.3 695.8h1.35M186.6 695.2h1.35M183 795.8h1.35M178.6 727.2h1.35M240.6 705.6h1.35M134.4 773.5h1.35M243.3 702.7h1.35M164.7 741.7h1.35M205.4 793.6h1.35M289.9 689.1h1.35M168.1 736.6h1.35M161.1 780.9h1.35M198.7 798.6h1.35M314.4 754.9h1.35M182.7 790.3h1.35M271.3 704.8h1.35M208.6 708.4h1.35M177.5 777.8h1.35M216 800.6h1.35M175.4 709.7h1.35M180.1 773.9h1.35M188.4 794.8h1.35M197.8 788h1.35M218.5 805h1.35M136.9 701.6h1.35M201.3 793h1.35M145.9 733.3h1.35M305.7 749h1.35M175.6 792.3h1.35M267.4 698.2h1.35M169.7 755.5h1.35M278.4 825.4h1.35M328.6 765.3h1.35M318.8 797.3h1.35M241.3 824.2h1.35M263.3 693.1h1.35M315.1 775.6h1.35M302 755.4h1.35M260 700.2h1.35M199 785.2h1.35M269.3 684.7h1.35M188.4 699.1h1.35M157.1 746h1.35M148.4 747.6h1.35M279.9 700.7h1.35M286.5 719.3h1.35M320.7 735.6h1.35M327.6 728.7h1.35M249.8 802.6h1.35M186 785.9h1.35M174.4 788.8h1.35M150.6 744.8h1.35M194.5 795.6h1.35M253.8 800.8h1.35M154.2 773h1.35M285.8 796.7h1.35M199.1 790.2h1.35M251.5 840.5h1.35M295.4 727h1.35M274.1 708.7h1.35M153.4 783h1.35M227.6 698h1.35M157.6 757.2h1.35M192.5 797h1.35M266.5 669.7h1.35M246 805.5h1.35M319.3 718.5h1.35M172.6 731.5h1.35M241.8 678.1h1.35M273 803.9h1.35M202.8 821.7h1.35M217.5 689.7h1.35M287.9 824.2h1.35M234.9 822.9h1.35M158.7 748.5h1.35M160 730.1h1.35M297.1 779.7h1.35M178.1 798.3h1.35M242.1 807.3h1.35M174.8 769.4h1.35M300.7 779.4h1.35M278.3 712h1.35M169.8 794.2h1.35M212.3 805h1.35M168.5 759.1h1.35M151.1 758.9h1.35M180.9 786.7h1.35M324.5 787.4h1.35M143.4 766.7h1.35M301.1 741.4h1.35M224.5 804.5h1.35M321.5 742.7h1.35M210 708.3h1.35M260.9 698.5h1.35M201.6 797.5h1.35M243 809.5h1.35M243.1 824.5h1.35M175.7 768h1.35M171.7 763.1h1.35M301.7 715.2h1.35M325.5 745.6h1.35M310.7 677.5h1.35M297.6 728.2h1.35M151.7 812.9h1.35M198.7 823.9h1.35M290.1 709.5h1.35M135.7 758.7h1.35M166.6 777.9h1.35M215 694.6h1.35M164 715h1.35M301 773.6h1.35M318.2 722.7h1.35M301.7 724.5h1.35M317.2 730.1h1.35M306.5 709.5h1.35M289.5 725.9h1.35M176.2 772.4h1.35M159.2 758.3h1.35M189.9 824.6h1.35M193.7 784.2h1.35M267.9 801h1.35M268 705.1h1.35M163 744.5h1.35M285.4 714.3h1.35M207.2 698.1h1.35M162 790.1h1.35M235.2 806.2h1.35M208 800.1h1.35M195.9 707.9h1.35M199.2 706.8h1.35M248.2 813.6h1.35M255.2 804.5h1.35M299.6 794.5h1.35M169.7 744h1.35M287.7 792.7h1.35M178.1 704.7h1.35M286.7 791.8h1.35M236.2 702.8h1.35M184.4 804.8h1.35M143.9 774.8h1.35M274.9 800.3h1.35M198.9 806.8h1.35M227.5 803.4h1.35M181.5 778.7h1.35M212.6 800.8h1.35M253.7 815.5h1.35M324.6 735.1h1.35M185.5 807.1h1.35M317.8 735.3h1.35M176.5 710h1.35M294.1 789.4h1.35M289.7 725.6h1.35M170.9 738.7h1.35M208.5 689.6h1.35M190.7 781.7h1.35M151.2 680.5h1.35M210.3 798.6h1.35M158.5 760.1h1.35M181.6 777h1.35M201.7 790.9h1.35M210.4 796h1.35M208.8 711.6h1.35M267.6 815h1.35M308 770.4h1.35M196.2 789.5h1.35M202.4 691.1h1.35M318.4 787.6h1.35M301.5 741.3h1.35M327.8 743.3h1.35M288.6 711.4h1.35M298 723.9h1.35M288 797.7h1.35M230.8 701.6h1.35M286.8 721.1h1.35M252.7 700.1h1.35M325 752.5h1.35M218.7 700.4h1.35M178.6 790.6h1.35M290.8 726.1h1.35M310.8 795.4h1.35M308.3 762h1.35M305.6 745.6h1.35M202.1 710.4h1.35M209.1 706.6h1.35M250.9 701h1.35M174.7 772.6h1.35M241.4 821.4h1.35M167.1 714.8h1.35M202.2 703.9h1.35M239.1 699.2h1.35M187.1 717.8h1.35M284.2 711.6h1.35M201.1 796.1h1.35M307.4 763.4h1.35M323.3 743.7h1.35M192 707.1h1.35M300.4 764h1.35M199.2 706.9h1.35M286.6 724.6h1.35M219.5 676.4h1.35M260.6 684.7h1.35M163.8 785h1.35M216.3 798.6h1.35M221.4 695.4h1.35M174.6 723h1.35M196.1 797.4h1.35M301.2 771.9h1.35M301.8 745h1.35M196 786.9h1.35M178.5 698.7h1.35M178.9 691.4h1.35" stroke="#000" stroke-opacity="0.2" stroke-width="1.35" fill="none"/>
<path d="M169.3 741.6L177.8 729.3L191.1 721.6L193.3 711.6L196.7 708.2L204.4 714.9L215.6 707.1L228.9 703.1L240 706L253.3 701.6L258.9 702.2L264.4 709.3L280 716L291.1 731.6L297.8 744.9L302.2 753.8L297.8 769.3L291.1 784.9L280 793.8L268.9 801.6L262.2 797.1L251.1 800.4L237.8 804.4L222.2 800.4L206.7 793.8L197.8 782.7L184.4 779.3L177.8 764.9L175.6 751.6Z" fill="#fff"/>
<path d="M222.2 747.5h10.8v10.8h-10.8z" fill="#424242"/><path d="M222.2 737h10.8v10.8h-10.8z" fill="#5d5d5d"/><path d="M232.7 747.5h10.8v10.8h-10.8z" fill="#626262"/><path d="M222.2 758h10.8v10.8h-10.8z" fill="#777777"/><path d="M232.7 737h10.8v10.8h-10.8z" fill="#7d7d7d"/><path d="M232.7 758h10.8v10.8h-10.8z" fill="#7f7f7f"/><path d="M243.2 737h10.8v10.8h-10.8z" fill="#828282"/><path d="M253.7 758h10.8v10.8h-10.8z" fill="#848484"/><path d="M211.7 758h10.8v10.8h-10.8z" fill="#868686"/><path d="M211.7 747.5h10.8v10.8h-10.8z" fill="#8c8c8c"/><path d="M243.2 758h10.8v10.8h-10.8z" fill="#8e8e8e"/><path d="M253.7 747.5h10.8v10.8h-10.8z" fill="#909090"/><path d="M243.2 747.5h10.8v10.8h-10.8z" fill="#919191"/><path d="M232.7 726.5h10.8v10.8h-10.8z" fill="#979797"/><path d="M232.7 768.5h10.8v10.8h-10.8z" fill="#9c9c9c"/><path d="M253.7 737h10.8v10.8h-10.8z" fill="#9d9d9d"/><path d="M211.7 737h10.8v10.8h-10.8z" fill="#a5a5a5"/><path d="M243.2 726.5h10.8v10.8h-10.8zM264.3 758h10.8v10.8h-10.8z" fill="#b2b2b2"/><path d="M201.1 747.5h10.8v10.8h-10.8zM243.2 768.5h10.8v10.8h-10.8z" fill="#b5b5b5"/><path d="M222.2 726.5h10.8v10.8h-10.8z" fill="#b6b6b6"/><path d="M201.1 737h10.8v10.8h-10.8z" fill="#b8b8b8"/><path d="M264.3 747.5h10.8v10.8h-10.8z" fill="#bdbdbd"/><path d="M264.3 737h10.8v10.8h-10.8z" fill="#c4c4c4"/><path d="M201.1 726.5h10.8v10.8h-10.8zM222.2 768.5h10.8v10.8h-10.8zM253.7 726.5h10.8v10.8h-10.8z" fill="#c5c5c5"/><path d="M211.7 726.5h10.8v10.8h-10.8z" fill="#c6c6c6"/><path d="M253.7 768.5h10.8v10.8h-10.8z" fill="#cccccc"/><path d="M264.3 768.5h10.8v10.8h-10.8z" fill="#cecece"/><path d="M201.1 758h10.8v10.8h-10.8z" fill="#cfcfcf"/><path d="M211.7 768.5h10.8v10.8h-10.8z" fill="#d1d1d1"/><path d="M264.3 726.5h10.8v10.8h-10.8z" fill="#d2d2d2"/><path d="M190.6 747.5h10.8v10.8h-10.8z" fill="#d3d3d3"/><path d="M201.1 768.5h10.8v10.8h-10.8z" fill="#d4d4d4"/><path d="M274.8 758h10.8v10.8h-10.8z" fill="#d5d5d5"/><path d="M211.7 716h10.8v10.8h-10.8zM243.2 716h10.8v10.8h-10.8z" fill="#d6d6d6"/><path d="M232.7 778.9h10.8v10.8h-10.8z" fill="#d7d7d7"/><path d="M190.6 737h10.8v10.8h-10.8z" fill="#d9d9d9"/><path d="M232.7 716h10.8v10.8h-10.8z" fill="#dadada"/><path d="M190.6 758h10.8v10.8h-10.8z" fill="#dbdbdb"/><path d="M222.2 716h10.8v10.8h-10.8zM274.8 747.5h10.8v10.8h-10.8z" fill="#dddddd"/><path d="M243.2 778.9h10.8v10.8h-10.8zM274.8 737h10.8v10.8h-10.8z" fill="#dedede"/><path d="M253.7 716h10.8v10.8h-10.8z" fill="#e0e0e0"/><path d="M222.2 778.9h10.8v10.8h-10.8z" fill="#e3e3e3"/><path d="M274.8 768.5h10.8v10.8h-10.8zM285.3 737h10.8v10.8h-10.8z" fill="#e4e4e4"/><path d="M180.1 747.5h10.8v10.8h-10.8zM253.7 778.9h10.8v10.8h-10.8zM285.3 747.5h10.8v10.8h-10.8z" fill="#e5e5e5"/><path d="M180.1 768.5h10.8v10.8h-10.8zM274.8 726.5h10.8v10.8h-10.8z" fill="#e6e6e6"/><path d="M211.7 778.9h10.8v10.8h-10.8z" fill="#e7e7e7"/><path d="M243.2 789.4h10.8v10.8h-10.8zM264.3 778.9h10.8v10.8h-10.8z" fill="#e8e8e8"/><path d="M285.3 768.5h10.8v10.8h-10.8z" fill="#e9e9e9"/><path d="M201.1 716h10.8v10.8h-10.8zM211.7 705.5h10.8v10.8h-10.8zM232.7 789.4h10.8v10.8h-10.8z" fill="#eaeaea"/><path d="M180.1 758h10.8v10.8h-10.8zM190.6 768.5h10.8v10.8h-10.8zM222.2 705.5h10.8v10.8h-10.8zM253.7 789.4h10.8v10.8h-10.8z" fill="#ececec"/><path d="M190.6 726.5h10.8v10.8h-10.8zM243.2 705.5h10.8v10.8h-10.8z" fill="#ededed"/><path d="M169.6 737h10.8v10.8h-10.8z" fill="#eeeeee"/><path d="M201.1 778.9h10.8v10.8h-10.8z" fill="#efefef"/><path d="M222.2 789.4h10.8v10.8h-10.8z" fill="#f0f0f0"/><path d="M264.3 789.4h10.8v10.8h-10.8z" fill="#f2f2f2"/><path d="M190.6 716h10.8v10.8h-10.8zM253.7 705.5h10.8v10.8h-10.8z" fill="#f3f3f3"/><path d="M180.1 737h10.8v10.8h-10.8z" fill="#f4f4f4"/><path d="M264.3 716h10.8v10.8h-10.8zM274.8 716h10.8v10.8h-10.8zM285.3 726.5h10.8v10.8h-10.8zM285.3 778.9h10.8v10.8h-10.8zM295.8 747.5h10.8v10.8h-10.8z" fill="#f5f5f5"/><path d="M180.1 726.5h10.8v10.8h-10.8zM211.7 789.4h10.8v10.8h-10.8z" fill="#f6f6f6"/><path d="M169.6 747.5h10.8v10.8h-10.8zM190.6 705.5h10.8v10.8h-10.8zM190.6 778.9h10.8v10.8h-10.8zM264.3 705.5h10.8v10.8h-10.8zM274.8 778.9h10.8v10.8h-10.8z" fill="#f7f7f7"/><path d="M232.7 705.5h10.8v10.8h-10.8zM285.3 758h10.8v10.8h-10.8z" fill="#f8f8f8"/><path d="M169.6 726.5h10.8v10.8h-10.8zM201.1 705.5h10.8v10.8h-10.8zM201.1 789.4h10.8v10.8h-10.8zM232.7 799.9h10.8v10.8h-10.8zM274.8 789.4h10.8v10.8h-10.8zM295.8 758h10.8v10.8h-10.8z" fill="#f9f9f9"/><path d="M169.6 758h10.8v10.8h-10.8zM222.2 695.1h10.8v10.8h-10.8zM222.2 799.9h10.8v10.8h-10.8zM243.2 695.1h10.8v10.8h-10.8zM253.7 695.1h10.8v10.8h-10.8z" fill="#fbfbfb"/><path d="M180.1 716h10.8v10.8h-10.8zM243.2 799.9h10.8v10.8h-10.8zM295.8 737h10.8v10.8h-10.8z" fill="#fdfdfd"/>

<path d="M206.7 873.3V663.6" stroke="#000" stroke-width="2.9" stroke-dasharray="10.6 5.1" fill="none"/>
<path d="M259.3 873.3V663.6" stroke="#000" stroke-width="2.9" stroke-dasharray="10.6 5.1" fill="none"/>
<path d="M127.5 741.6H337.9" stroke="#000" stroke-width="2.9" stroke-dasharray="10.6 5.1" fill="none"/>
<path d="M127.5 784.2H337.9" stroke="#000" stroke-width="2.9" stroke-dasharray="10.6 5.1" fill="none"/>
<path d="M169.3 741.6L177.8 729.3L191.1 721.6L193.3 711.6L196.7 708.2L204.4 714.9L215.6 707.1L228.9 703.1L240 706L253.3 701.6L258.9 702.2L264.4 709.3L280 716L291.1 731.6L297.8 744.9L302.2 753.8L297.8 769.3L291.1 784.9L280 793.8L268.9 801.6L262.2 797.1L251.1 800.4L237.8 804.4L222.2 800.4L206.7 793.8L197.8 782.7L184.4 779.3L177.8 764.9L175.6 751.6Z" stroke="#000" stroke-width="3.1" fill="none" stroke-linejoin="round"/>
<path d="M191.1 756L193.3 738.2L197.8 729.3L213.3 722.7L226.7 719.3L235.6 716L248.9 720.4L264.4 727.1L273.3 731.6L284.4 744.9L280 762.7L273.3 771.6L270 783.8L257.8 782.7L240 784.9L226.7 781.6L215.6 784.9L205.6 777.1L193.3 767.1Z" stroke="#000" stroke-width="3.1" fill="none" stroke-linejoin="round"/>
<path d="M205.6 742.7L213.3 744.9L224.4 733.8L235.6 730.4L246.7 732.7L260 737.1L264.4 749.3L271.1 762.7L257.8 767.1L251.1 771.6L240 774.9L228.9 769.3L215.6 767.1L207.8 756Z" stroke="#000" stroke-width="3.1" fill="none" stroke-linejoin="round"/>
<path d="M224.4 740.4L233.3 738.2L235.6 749.3L234.4 762.7L226.7 761.6L224.4 751.6Z" stroke="#000" stroke-width="3.1" fill="none" stroke-linejoin="round"/>
<path d="M147 873.3v-7M147 663.6v7M168.2 873.3v-7M168.2 663.6v7M189.4 873.3v-14.3M189.4 663.6v14.3M210.6 873.3v-7M210.6 663.6v7M231.8 873.3v-7M231.8 663.6v7M253.1 873.3v-7M253.1 663.6v7M274.3 873.3v-7M274.3 663.6v7M295.5 873.3v-14.3M295.5 663.6v14.3M316.7 873.3v-7M316.7 663.6v7M127.5 668.3h7M337.9 668.3h-7M127.5 680.2h7M337.9 680.2h-7M127.5 692.1h7M337.9 692.1h-7M127.5 704h14.3M337.9 704h-14.3M127.5 715.9h7M337.9 715.9h-7M127.5 727.8h7M337.9 727.8h-7M127.5 739.7h7M337.9 739.7h-7M127.5 751.6h7M337.9 751.6h-7M127.5 763.5h14.3M337.9 763.5h-14.3M127.5 775.4h7M337.9 775.4h-7M127.5 787.3h7M337.9 787.3h-7M127.5 799.2h7M337.9 799.2h-7M127.5 811.1h7M337.9 811.1h-7M127.5 823h14.3M337.9 823h-14.3M127.5 834.9h7M337.9 834.9h-7M127.5 846.8h7M337.9 846.8h-7M127.5 858.7h7M337.9 858.7h-7M127.5 870.6h7M337.9 870.6h-7" stroke="#000" stroke-width="2.4" fill="none"/>
<path d="M238 663.6V873.3" stroke="#db2224" stroke-width="4.3" fill="none"/>
<path d="M127.5 752.7H337.9" stroke="#db2224" stroke-width="4.3" fill="none"/>
<rect x="127.5" y="663.6" width="210.4" height="209.7" fill="none" stroke="#000" stroke-width="2.75"/>
</g>
<g>
<path d="M432.1 768.4h1.3M483.6 820.4h1.3M449.9 780.5h1.3M495.4 836.4h1.3M366.7 687.3h1.3M455.2 789.3h1.3M434 766.1h1.3M456.6 789h1.3M372.3 699.4h1.3M450.1 786h1.3M368.1 683.8h1.3M506.1 840.5h1.3M503.3 838.9h1.3M507.5 833.6h1.3M496.8 842.7h1.3M456 783.8h1.3M389.4 714.9h1.3M401.4 725.5h1.3M464.5 801.2h1.3M370.5 689.3h1.3M476.9 818.8h1.3M488.9 826.4h1.3M486.6 818.2h1.3M450.6 781.7h1.3M477.3 813.3h1.3M487.4 823.9h1.3M469.9 808.5h1.3M367.2 696.7h1.3M352.9 676.8h1.3M360.2 681.7h1.3M385.5 708.2h1.3M453.5 791.8h1.3M418.9 751.4h1.3M500.9 846h1.3M487.4 814.3h1.3M353.1 685.5h1.3M358.7 684.5h1.3M462.5 801h1.3M479.6 809.4h1.3M449.9 786.5h1.3M474.4 802.5h1.3M497.1 835.4h1.3M355.1 684.5h1.3M427.8 753h1.3M455.4 789.4h1.3M467.1 792.4h1.3M483.4 820.6h1.3M460.5 794.9h1.3M359 682h1.3M464.7 800.1h1.3M402.4 737.4h1.3M493.8 829.5h1.3M452 785.2h1.3M452.7 790.1h1.3M453.1 779.5h1.3M439.1 770h1.3M365.7 693.2h1.3M469.8 799.2h1.3M462 796h1.3M466.7 790.7h1.3M496.7 832.5h1.3M462.2 793.6h1.3M434.7 774.1h1.3M501.8 839.5h1.3M452.1 780.5h1.3M469.5 807.7h1.3M361.5 686h1.3M481.9 823.2h1.3M440.5 766.3h1.3M369.2 698h1.3M499.9 839.3h1.3M385.7 704.6h1.3M418.4 745.2h1.3M492.7 825.8h1.3M477.5 808.5h1.3M414.4 738.5h1.3M469.1 809.4h1.3M360.2 686.5h1.3M462.6 789h1.3M454.8 791.2h1.3M499.3 837.3h1.3M364.7 697.3h1.3M492.8 827.4h1.3M489.9 828.5h1.3M368.3 691.3h1.3M485.7 817.3h1.3M480.6 813.9h1.3M466.5 805.1h1.3M494.7 836.9h1.3M436.1 769.2h1.3M376.1 696.8h1.3M459.5 792.7h1.3M383 708.8h1.3M457.4 786.2h1.3M382.8 707.2h1.3M358.9 676.6h1.3M449.4 785h1.3M378.7 712h1.3M360.5 682h1.3M365.2 688.6h1.3M463.8 795.7h1.3M497.9 841h1.3M482.2 814h1.3M488.9 823.5h1.3M480.6 821.3h1.3M364.2 683.6h1.3M480 816.2h1.3M465.4 799h1.3M359.5 687.3h1.3M465 797.8h1.3M369 692.2h1.3M459.2 794.3h1.3M455.4 788.6h1.3M492.2 835.8h1.3M484.9 826.6h1.3M359.3 685.3h1.3M486.5 821.7h1.3M484.4 823.3h1.3M402.6 729.6h1.3M470.6 805.8h1.3M448.1 790.8h1.3M495.7 839.9h1.3M472.9 801.7h1.3M501 827.5h1.3M462.4 796.8h1.3M464.1 800.5h1.3M495.2 831.4h1.3M484.9 820.6h1.3M491.6 835.5h1.3M475.8 814h1.3M489.4 823.2h1.3M497.9 840.8h1.3M455.4 788.9h1.3M485.8 828.2h1.3M361.5 688h1.3M400.2 730.3h1.3M352.5 674.9h1.3M365.4 688.2h1.3M492.2 827.4h1.3M496.6 830.1h1.3M469.8 799.6h1.3M468.4 808h1.3M368.7 687.6h1.3M422.8 753.3h1.3M468.2 801.4h1.3M504.9 841h1.3M499.9 830.9h1.3M498.5 831.1h1.3M499.4 838.9h1.3M367.7 690h1.3M481.8 818.6h1.3M356.5 685.1h1.3M470.9 812.4h1.3M483.8 823h1.3M470.1 811.3h1.3M371.7 693h1.3M496.9 834.6h1.3M390.1 717.8h1.3M452.1 783.8h1.3M424.2 749.3h1.3M464.5 800h1.3M363.6 685.1h1.3M456 791.2h1.3M501.5 834.6h1.3M469.9 808.7h1.3M362.7 674.6h1.3M463.3 791.9h1.3M446.9 782.8h1.3M456.6 785.8h1.3M474.7 809.1h1.3M463.7 805.2h1.3M459.4 790.8h1.3M354.4 676.7h1.3M370.3 699.2h1.3M505.7 840.1h1.3M376.6 704h1.3M481.8 814.3h1.3M416.6 739.8h1.3M482.1 818.5h1.3M354.4 675.9h1.3M490.9 829.2h1.3M416.2 745.3h1.3M482.4 823.1h1.3M369 691.7h1.3M465 800.2h1.3M454 778.9h1.3M361.3 683.1h1.3M461.4 797.2h1.3M463.9 803.4h1.3M353.1 681h1.3M368.6 689.9h1.3M351.9 687.5h1.3M425.1 754.2h1.3M389.2 713.5h1.3M460.2 796.8h1.3M471.1 812.7h1.3M365.1 693.1h1.3M439.9 777.8h1.3M461.6 793.6h1.3M461.8 790.3h1.3M449.5 787.4h1.3M491.6 819.7h1.3M384.7 705.2h1.3M358.1 679.5h1.3M488.6 828.9h1.3M359.7 682.8h1.3M452.2 785.7h1.3M435.4 763.9h1.3M363.9 686.9h1.3M371.1 698.7h1.3M379.8 691.5h1.3M443.2 772.3h1.3M472.9 810.9h1.3M498.4 831.1h1.3M474 808.7h1.3M366.4 682.6h1.3M491 840.8h1.3M491.9 832.2h1.3" stroke="#000" stroke-opacity="0.16" stroke-width="1.3" fill="none"/>
<path d="M371.4 709.3L373.9 704.4L383.2 709.3L396.6 722.7L412.1 738.2L425.4 756L436.6 773.8L445.4 784.9L450.3 794.9L447.2 798.7L436.6 794.9L425.4 787.1L412.1 776L398.8 760.4L387.7 744.9L377.7 731.6L374.3 718.2Z" fill="#fff"/>
<path d="M411.1 758h10.8v10.8h-10.8z" fill="#b4b4b4"/><path d="M400.6 737h10.8v10.8h-10.8z" fill="#b9b9b9"/><path d="M400.6 747.5h10.8v10.8h-10.8z" fill="#bababa"/><path d="M390.1 726.5h10.8v10.8h-10.8z" fill="#bebebe"/><path d="M390.1 737h10.8v10.8h-10.8z" fill="#c0c0c0"/><path d="M421.6 768.5h10.8v10.8h-10.8z" fill="#c1c1c1"/><path d="M411.1 747.5h10.8v10.8h-10.8z" fill="#cfcfcf"/><path d="M379.6 716h10.8v10.8h-10.8zM379.6 726.5h10.8v10.8h-10.8z" fill="#dadada"/><path d="M400.6 758h10.8v10.8h-10.8z" fill="#dedede"/><path d="M411.1 768.5h10.8v10.8h-10.8zM421.6 758h10.8v10.8h-10.8z" fill="#e1e1e1"/><path d="M432.2 778.9h10.8v10.8h-10.8z" fill="#ededed"/><path d="M390.1 747.5h10.8v10.8h-10.8z" fill="#eeeeee"/><path d="M390.1 716h10.8v10.8h-10.8zM421.6 778.9h10.8v10.8h-10.8z" fill="#efefef"/><path d="M369 705.5h10.8v10.8h-10.8z" fill="#f5f5f5"/><path d="M432.2 789.4h10.8v10.8h-10.8z" fill="#f6f6f6"/><path d="M369 716h10.8v10.8h-10.8zM379.6 737h10.8v10.8h-10.8zM432.2 768.5h10.8v10.8h-10.8zM442.7 789.4h10.8v10.8h-10.8z" fill="#f8f8f8"/><path d="M379.6 705.5h10.8v10.8h-10.8zM411.1 737h10.8v10.8h-10.8z" fill="#fafafa"/><path d="M442.7 778.9h10.8v10.8h-10.8z" fill="#fbfbfb"/><path d="M400.6 726.5h10.8v10.8h-10.8z" fill="#fcfcfc"/><path d="M369 726.5h10.8v10.8h-10.8zM390.1 758h10.8v10.8h-10.8zM400.6 768.5h10.8v10.8h-10.8zM411.1 778.9h10.8v10.8h-10.8zM421.6 747.5h10.8v10.8h-10.8z" fill="#fdfdfd"/>
<path d="M393.2 736L402.1 741.6L394.3 743.8Z" fill="#111"/><path d="M411 757.1L418.8 756L421 763.8L415.4 767.1L410.3 763.8Z" fill="#000"/><path d="M419.9 769.3L427.7 768.2L431 773.8L426.6 779.3L421 776Z" fill="#777"/><path d="M388.8 726L395.4 730.4L397.7 739.3L391 737.1Z" fill="#999"/><path d="M428.8 784.9L438.8 783.8L442.1 789.3L434.3 790.4Z" fill="#ddd"/>
<path d="M385 873.3V663.6" stroke="#000" stroke-width="2.9" stroke-dasharray="10.6 5.1" fill="none"/>
<path d="M417 873.3V663.6" stroke="#000" stroke-width="2.9" stroke-dasharray="10.6 5.1" fill="none"/>
<path d="M348 741.6H558.4" stroke="#000" stroke-width="2.9" stroke-dasharray="10.6 5.1" fill="none"/>
<path d="M348 784.2H558.4" stroke="#000" stroke-width="2.9" stroke-dasharray="10.6 5.1" fill="none"/>
<path d="M371.4 709.3L373.9 704.4L383.2 709.3L396.6 722.7L412.1 738.2L425.4 756L436.6 773.8L445.4 784.9L450.3 794.9L447.2 798.7L436.6 794.9L425.4 787.1L412.1 776L398.8 760.4L387.7 744.9L377.7 731.6L374.3 718.2Z" stroke="#000" stroke-width="3.1" fill="none" stroke-linejoin="round"/>
<path d="M384.3 720.9L388.8 721.6L403.2 733.8L416.6 751.6L427.7 766L432.1 773.8L427.7 780.4L418.8 776L407.7 764.9L395.4 749.3L386.6 733.8Z" stroke="#000" stroke-width="3.1" fill="none" stroke-linejoin="round"/>
<path d="M365.1 873.3v-7M365.1 663.6v7M384.6 873.3v-14.3M384.6 663.6v14.3M404.1 873.3v-7M404.1 663.6v7M423.7 873.3v-7M423.7 663.6v7M443.2 873.3v-7M443.2 663.6v7M462.8 873.3v-7M462.8 663.6v7M482.3 873.3v-14.3M482.3 663.6v14.3M501.8 873.3v-7M501.8 663.6v7M521.4 873.3v-7M521.4 663.6v7M540.9 873.3v-7M540.9 663.6v7M348 668.3h7M558.4 668.3h-7M348 680.2h7M558.4 680.2h-7M348 692.1h7M558.4 692.1h-7M348 704h14.3M558.4 704h-14.3M348 715.9h7M558.4 715.9h-7M348 727.8h7M558.4 727.8h-7M348 739.7h7M558.4 739.7h-7M348 751.6h7M558.4 751.6h-7M348 763.5h14.3M558.4 763.5h-14.3M348 775.4h7M558.4 775.4h-7M348 787.3h7M558.4 787.3h-7M348 799.2h7M558.4 799.2h-7M348 811.1h7M558.4 811.1h-7M348 823h14.3M558.4 823h-14.3M348 834.9h7M558.4 834.9h-7M348 846.8h7M558.4 846.8h-7M348 858.7h7M558.4 858.7h-7M348 870.6h7M558.4 870.6h-7" stroke="#000" stroke-width="2.4" fill="none"/>
<path d="M405.7 663.6V873.3" stroke="#db2224" stroke-width="4.3" fill="none"/>
<path d="M348 752.7H558.4" stroke="#db2224" stroke-width="4.3" fill="none"/>
<rect x="348" y="663.6" width="210.4" height="209.7" fill="none" stroke="#000" stroke-width="2.75"/>
</g>
<g>
<path d="M595.3 713.2h1.35M572.6 760.2h1.35M706 806h1.35M711.4 789.7h1.35M664.3 669.3h1.35M610.9 680.5h1.35M675.8 800.1h1.35M601.7 734.3h1.35M682.5 817.9h1.35M668.5 803.8h1.35M652.9 699.2h1.35M701 797.9h1.35M731 752h1.35M693.1 817.2h1.35M615 794h1.35M724.9 700.3h1.35M710.8 784.6h1.35M686.5 811.2h1.35M665.8 703.5h1.35M728.5 771.5h1.35M694.5 711.3h1.35M602.1 724.2h1.35M659.7 829.5h1.35M571.9 761.4h1.35M658.9 693.1h1.35M632 808.2h1.35M686.3 707.7h1.35M623.8 798.9h1.35M704 786h1.35M626.1 803.5h1.35M692.9 812.8h1.35M587.7 745.6h1.35M724.7 760.5h1.35M607.7 787.9h1.35M581.2 755.2h1.35M713.9 780.3h1.35M712.3 824.3h1.35M675.8 802.3h1.35M657 704.8h1.35M668.8 701.6h1.35M638.2 806.7h1.35M716.4 768.4h1.35M724 753.7h1.35M714.1 694.8h1.35M695 792h1.35M620.8 706.1h1.35M738.2 736.9h1.35M712.9 724.5h1.35M575.6 751.2h1.35M696.1 791.9h1.35M688.6 700.6h1.35M623.5 716h1.35M636.4 703.4h1.35M581 721.1h1.35M575 753.9h1.35M603.3 734.7h1.35M658.4 705.1h1.35M621.2 715.7h1.35M733.9 738.8h1.35M586 730.1h1.35M603.8 732.7h1.35M731.6 738.8h1.35M739 773h1.35M719.2 725.1h1.35M613.1 809.9h1.35M610.2 692.3h1.35M670.6 699.7h1.35M639.4 813h1.35M599.5 773.5h1.35M598.4 797.3h1.35M722.1 755.3h1.35M601.7 720.7h1.35M587.3 816.4h1.35M717.7 772.5h1.35M612 719.7h1.35M617.6 723.9h1.35M673.1 820.8h1.35M687 803.2h1.35M700.7 708h1.35M648.6 819.2h1.35M685.9 806.6h1.35M600.1 726.1h1.35M617.5 803.5h1.35M646.2 811.9h1.35M715.7 709.7h1.35M715.4 784.7h1.35M727.1 756.6h1.35M736 795.1h1.35M692.4 711.3h1.35M681.7 800.4h1.35M596.6 769.4h1.35M577.2 759.9h1.35M664.3 701.6h1.35M582.6 732.9h1.35M601.2 783.6h1.35M624.7 705.5h1.35M617.9 712.6h1.35M682.9 812.7h1.35M712 773.5h1.35M686.5 832.3h1.35M733.4 730.3h1.35M602.4 724h1.35M692.5 711.8h1.35M596.8 783.5h1.35M721.2 716.6h1.35M723.7 731.8h1.35M718.2 771.2h1.35M632.4 803.9h1.35M610.9 725.2h1.35M683.2 800.6h1.35M588.9 728.2h1.35M574.3 765.4h1.35M603.6 785.5h1.35M706.1 687.1h1.35M728.7 753.3h1.35M720.5 754.7h1.35M700.1 786.3h1.35M599.3 731h1.35M596.7 792.7h1.35M588.7 715.8h1.35M742.8 764h1.35M685.3 800.1h1.35M706.2 807.2h1.35M632.3 807.9h1.35M706.7 787.4h1.35M722.9 773h1.35M654.3 821.6h1.35M702.2 788.7h1.35M683.4 702h1.35M663.9 808.3h1.35M660.5 810.8h1.35M728.4 762.4h1.35M673.1 802.3h1.35M654.3 809.8h1.35M742.2 734.5h1.35M583.9 736.9h1.35M723.5 723.5h1.35M658 825.9h1.35M766.6 817h1.35M703 807.4h1.35M713.9 779.7h1.35M620.9 790.3h1.35M660.7 693.8h1.35M723 748.1h1.35M709.4 778h1.35M720.9 817.2h1.35M704.6 782.8h1.35M592.8 772.3h1.35M583.1 753h1.35M704 705.7h1.35M597 753.4h1.35M670.3 693.3h1.35M596.9 735.3h1.35M709.2 703.3h1.35M722.5 744.7h1.35M595.2 732.8h1.35M685.8 811.6h1.35M730.7 796.5h1.35M686.5 706.1h1.35M638 705.8h1.35M607.2 714.5h1.35M721.2 762.8h1.35M733.8 753.1h1.35M651.5 804.9h1.35M700.2 716.2h1.35M666.5 809.1h1.35M720.7 773.5h1.35M600.2 739.8h1.35M582.5 736.2h1.35M620.3 790.2h1.35M601.3 780.4h1.35M702.4 711.5h1.35M731.4 743.7h1.35M752.5 757.5h1.35M623.9 709.2h1.35M608.6 781.1h1.35M633.4 691.8h1.35M705.2 709.2h1.35M660.7 814.3h1.35M679.3 808.4h1.35M733.2 714.7h1.35M600.9 735.7h1.35M618.2 722.1h1.35M636.4 701.2h1.35M694.6 822.8h1.35M603.8 725.6h1.35M719.8 811.6h1.35M583.3 795.1h1.35M681.2 800h1.35M729.9 725.1h1.35M711 775.2h1.35M683.4 800.2h1.35M712.1 780h1.35M596.3 749.4h1.35M655.1 806.9h1.35M667.9 802.2h1.35M674.8 696.2h1.35M603.1 680.8h1.35M658.1 802h1.35M674 806.8h1.35M611.3 717.3h1.35M645 703.7h1.35M738.7 758h1.35M702.3 804.2h1.35M641.3 698.5h1.35M723 771.7h1.35M613.5 820.3h1.35M695 800.1h1.35M640.6 834.4h1.35M665.8 807h1.35M660 822.9h1.35M657.1 705.8h1.35M660 704h1.35M707.2 789.4h1.35M622.8 719.3h1.35M608 709.7h1.35M617.6 803.8h1.35M601.1 816.3h1.35M591.3 759.8h1.35M730.3 782.2h1.35M709.6 718h1.35M692.3 708.7h1.35M754 747.6h1.35M675.5 824h1.35M727.2 778.4h1.35M662.9 806.3h1.35M612.5 716h1.35M709.4 711h1.35M578.2 799.2h1.35M599.5 812.7h1.35M600.9 736.9h1.35M579.7 715.1h1.35M600.6 765.3h1.35M672.2 817.8h1.35M639.7 821.1h1.35M697.9 791.3h1.35M624.2 709.9h1.35M626.8 794.1h1.35M724.6 724.9h1.35M619.1 804.4h1.35M723 779.6h1.35M684.5 812.4h1.35M715.9 794h1.35M641.9 827.5h1.35M626.7 713.5h1.35M600.9 732.1h1.35M649.7 835.1h1.35M598.8 748.6h1.35M725 775.7h1.35M654.6 807.6h1.35M715.6 769.5h1.35M598.4 728.4h1.35M631 801.1h1.35M597.9 731.9h1.35M720.9 776.6h1.35M586.4 771.3h1.35M605.1 792h1.35M692.1 811.3h1.35M679.9 668.1h1.35M693.1 793h1.35M672.7 814.9h1.35M602.3 707.3h1.35M609.4 674h1.35M681.7 798.2h1.35M700.8 709.1h1.35M715 775.3h1.35M636.5 806.1h1.35M581.7 754.7h1.35M661.5 801.6h1.35M690.2 817.2h1.35M654.8 805h1.35M622.8 792.7h1.35M599.2 725.2h1.35M598.9 778.3h1.35M725.7 796.5h1.35M604.6 727.7h1.35M675.9 699h1.35M752.4 776.4h1.35M714.5 788h1.35M635.6 696.1h1.35M646.2 701.9h1.35M596.4 750.9h1.35M742.3 763.3h1.35M653.4 698h1.35M587.5 768.8h1.35M585.5 701.5h1.35M747.7 746.8h1.35M703.1 716.8h1.35M670.7 698.9h1.35M683.3 804.4h1.35M620.6 814h1.35M701.2 786h1.35M715.1 772.6h1.35M584.5 734.3h1.35M734.7 699.1h1.35M604 734h1.35M616.6 790.6h1.35M587.7 776.1h1.35M573.2 758.9h1.35M745.9 783.6h1.35M665.3 696.8h1.35M701.1 803.1h1.35M595.1 744.4h1.35M614.6 709.1h1.35M657.5 799.5h1.35M657.6 698.5h1.35M721.9 783.6h1.35M707.9 715.5h1.35M651 698.3h1.35M706.9 791.9h1.35M612.7 788.9h1.35M726 773.6h1.35M599.5 767.9h1.35M601.1 767.4h1.35M641.1 825.2h1.35M721.8 762.3h1.35M711.6 779.4h1.35M638.1 709.5h1.35M672.9 801.9h1.35M587.6 781.6h1.35M705.7 780.9h1.35M722.2 761.4h1.35M665.4 669h1.35M737.3 760h1.35M621.5 719.9h1.35M678.4 801.4h1.35M588.7 777.4h1.35M713.3 776.7h1.35M630.2 703.8h1.35M688.3 684.5h1.35M623.2 700.7h1.35M731.3 792.2h1.35M659 707h1.35M619.9 795.2h1.35M585.6 778h1.35M739.9 705h1.35M662.3 811.3h1.35M729 773.4h1.35M594.2 747.3h1.35M708.1 781.6h1.35M670.9 703h1.35M728.9 801.2h1.35M609.3 708.2h1.35M735.1 712.2h1.35M738 714.2h1.35M670.7 702.3h1.35M666.2 701h1.35M737 722.3h1.35M653.4 704.6h1.35M635.2 676.3h1.35M647.1 810.8h1.35M616.4 816.1h1.35M648.8 701h1.35M595.9 765.3h1.35M615 801.6h1.35M595.3 770.5h1.35M708.7 780.9h1.35M718.3 764.6h1.35M594.3 778h1.35M595 734.9h1.35M738.4 779.8h1.35M656.3 821.1h1.35M614.4 794.1h1.35M591.5 743.8h1.35M631.8 706.1h1.35M692.2 701.9h1.35M615.3 803.2h1.35M610.1 726.1h1.35M606.5 792.5h1.35M686.9 806.5h1.35M599.1 761.8h1.35M694.4 712.3h1.35M576.4 755.9h1.35M719.1 741.5h1.35M585.2 746h1.35M613.9 718.1h1.35M707.4 788.1h1.35M730.8 722.3h1.35M709.9 823.3h1.35M582.3 728.2h1.35M650.5 700.7h1.35M611.9 714.9h1.35M637.1 809.3h1.35M715.5 719.2h1.35M699.1 715.8h1.35M720.5 754.1h1.35M592.4 763.7h1.35M583.8 734.8h1.35M731.1 763.4h1.35M615.7 713.2h1.35M675.3 807.7h1.35M590.9 717.5h1.35M607.4 709.2h1.35M620.5 713.7h1.35M619.7 718h1.35M580.1 765.9h1.35M721.7 777.3h1.35M666 682.4h1.35M659.4 816.8h1.35M722.2 751h1.35M589.3 785.8h1.35M722.2 769.2h1.35M609.5 718.2h1.35M613 709.7h1.35M576.1 774.4h1.35M656.6 705.9h1.35M589.5 759.8h1.35M615.6 710.3h1.35M594.7 755.2h1.35M682.3 704.1h1.35M638.1 808.5h1.35M638.9 709h1.35M609.2 829.3h1.35M634.5 709.8h1.35M575.8 735.4h1.35M624.7 717.2h1.35M713.1 779.9h1.35M660.1 806.2h1.35M660 705.1h1.35M719.8 714.1h1.35M622.4 792.4h1.35M660 684.8h1.35M659.6 703.4h1.35M601.9 717.4h1.35M727.5 771.2h1.35M726.3 723.7h1.35M620.6 699.7h1.35M590.2 779.5h1.35M622.9 791.9h1.35M620.8 804.9h1.35M705.6 793h1.35M613.7 725.8h1.35M615.8 794h1.35M603.9 717.7h1.35M660 684.1h1.35M729.9 758.3h1.35M594.9 702.1h1.35M671.8 829.9h1.35M681.1 693.1h1.35M665.7 704.1h1.35M718.8 720.6h1.35M727.3 753.2h1.35M597.1 804.8h1.35M699.9 785.8h1.35M681 697.5h1.35M617 718.4h1.35M658.1 705.3h1.35M592.2 762.6h1.35M705.4 686.2h1.35M686.9 795.1h1.35M628.6 711.1h1.35M723.8 815.5h1.35M655.6 805.1h1.35M580.5 765.5h1.35M612 690.6h1.35M718.6 765.2h1.35M680 699.4h1.35M598.8 832.5h1.35M661.1 813h1.35M614.4 713.2h1.35M628.4 794.7h1.35M597.3 778.7h1.35M603.4 798.8h1.35M702.4 791h1.35M619.7 716.2h1.35M666 817.2h1.35M716.4 772.3h1.35M642 813.2h1.35M658.5 809.3h1.35M597.9 723.2h1.35M689.6 708.9h1.35M617.4 804.1h1.35M708.7 713.7h1.35M589.6 765.5h1.35M619 719.6h1.35M714.9 785.6h1.35M594.3 679.9h1.35M657.5 809.6h1.35M725.3 748.5h1.35M605.1 785.8h1.35M699.7 705.4h1.35M579.9 764.4h1.35M665.2 698.3h1.35M643 805.6h1.35M707.1 792.6h1.35M605 789.7h1.35M659.9 798.7h1.35M612.6 695.3h1.35M602.4 820.6h1.35M675.6 802.5h1.35M668.1 697.6h1.35M603.4 772.5h1.35M593.9 754.6h1.35M740.7 741.1h1.35M693.7 806.4h1.35M597.6 728.5h1.35M666.8 799.6h1.35M586.8 763h1.35M703 669.7h1.35M708.4 809.8h1.35M613.5 800.5h1.35M604.4 707.3h1.35M628.9 691h1.35M614.6 717.8h1.35M576.9 779h1.35M596.2 786.4h1.35M718.2 710.9h1.35M678.1 844.2h1.35M656.6 704h1.35M619.8 686h1.35M647 809.3h1.35M606 803.3h1.35M717.7 732.1h1.35M606.2 685.1h1.35M717.4 694.8h1.35M677.9 802.5h1.35M633.5 698h1.35M723.9 770.4h1.35M613.8 726.5h1.35M595.3 818.9h1.35" stroke="#000" stroke-opacity="0.2" stroke-width="1.35" fill="none"/>
<path d="M598.8 760.4L599.9 747.1L605.4 733.8L616.6 724.9L625.4 717.1L636.6 712.7L646.6 703.8L657.7 708.2L672.1 704.9L685.4 708.2L698.8 716L708.8 719.3L716.6 731.6L719.9 744.9L718.8 760.4L712.1 771.6L698.8 787.1L685.4 796L672.1 799.3L658.8 798.2L647.7 807.1L634.3 800.4L625.4 791.6L614.3 787.1L605.4 776Z" fill="#fff"/>
<path d="M652.8 737h10.8v10.8h-10.8z" fill="#787878"/><path d="M652.8 758h10.8v10.8h-10.8zM663.3 747.5h10.8v10.8h-10.8z" fill="#797979"/><path d="M663.3 758h10.8v10.8h-10.8z" fill="#7c7c7c"/><path d="M663.3 737h10.8v10.8h-10.8z" fill="#7d7d7d"/><path d="M642.2 737h10.8v10.8h-10.8zM673.8 758h10.8v10.8h-10.8z" fill="#7e7e7e"/><path d="M673.8 747.5h10.8v10.8h-10.8z" fill="#808080"/><path d="M673.8 737h10.8v10.8h-10.8z" fill="#848484"/><path d="M642.2 758h10.8v10.8h-10.8zM663.3 726.5h10.8v10.8h-10.8z" fill="#868686"/><path d="M642.2 747.5h10.8v10.8h-10.8z" fill="#898989"/><path d="M652.8 747.5h10.8v10.8h-10.8z" fill="#8c8c8c"/><path d="M652.8 768.5h10.8v10.8h-10.8z" fill="#949494"/><path d="M673.8 768.5h10.8v10.8h-10.8z" fill="#9d9d9d"/><path d="M684.3 747.5h10.8v10.8h-10.8z" fill="#a0a0a0"/><path d="M684.3 737h10.8v10.8h-10.8z" fill="#a1a1a1"/><path d="M642.2 768.5h10.8v10.8h-10.8z" fill="#a8a8a8"/><path d="M631.7 747.5h10.8v10.8h-10.8zM663.3 768.5h10.8v10.8h-10.8z" fill="#ababab"/><path d="M673.8 726.5h10.8v10.8h-10.8z" fill="#acacac"/><path d="M652.8 726.5h10.8v10.8h-10.8z" fill="#adadad"/><path d="M631.7 737h10.8v10.8h-10.8z" fill="#b2b2b2"/><path d="M642.2 726.5h10.8v10.8h-10.8z" fill="#b3b3b3"/><path d="M631.7 758h10.8v10.8h-10.8z" fill="#b4b4b4"/><path d="M694.8 737h10.8v10.8h-10.8z" fill="#b9b9b9"/><path d="M642.2 778.9h10.8v10.8h-10.8z" fill="#bdbdbd"/><path d="M621.2 747.5h10.8v10.8h-10.8z" fill="#bfbfbf"/><path d="M621.2 758h10.8v10.8h-10.8z" fill="#c4c4c4"/><path d="M684.3 768.5h10.8v10.8h-10.8z" fill="#c5c5c5"/><path d="M694.8 747.5h10.8v10.8h-10.8z" fill="#c7c7c7"/><path d="M652.8 778.9h10.8v10.8h-10.8zM684.3 726.5h10.8v10.8h-10.8z" fill="#c9c9c9"/><path d="M621.2 737h10.8v10.8h-10.8zM631.7 726.5h10.8v10.8h-10.8zM684.3 758h10.8v10.8h-10.8z" fill="#cacaca"/><path d="M631.7 768.5h10.8v10.8h-10.8z" fill="#cbcbcb"/><path d="M694.8 726.5h10.8v10.8h-10.8z" fill="#cccccc"/><path d="M621.2 768.5h10.8v10.8h-10.8zM631.7 778.9h10.8v10.8h-10.8z" fill="#d3d3d3"/><path d="M652.8 716h10.8v10.8h-10.8zM663.3 716h10.8v10.8h-10.8z" fill="#d4d4d4"/><path d="M673.8 716h10.8v10.8h-10.8z" fill="#d7d7d7"/><path d="M642.2 716h10.8v10.8h-10.8z" fill="#d8d8d8"/><path d="M610.7 747.5h10.8v10.8h-10.8zM673.8 778.9h10.8v10.8h-10.8z" fill="#d9d9d9"/><path d="M705.4 737h10.8v10.8h-10.8z" fill="#dadada"/><path d="M610.7 758h10.8v10.8h-10.8zM663.3 778.9h10.8v10.8h-10.8zM694.8 758h10.8v10.8h-10.8z" fill="#dedede"/><path d="M705.4 747.5h10.8v10.8h-10.8z" fill="#e1e1e1"/><path d="M610.7 726.5h10.8v10.8h-10.8zM705.4 758h10.8v10.8h-10.8z" fill="#e2e2e2"/><path d="M642.2 789.4h10.8v10.8h-10.8zM684.3 778.9h10.8v10.8h-10.8zM694.8 768.5h10.8v10.8h-10.8zM705.4 726.5h10.8v10.8h-10.8z" fill="#e4e4e4"/><path d="M621.2 726.5h10.8v10.8h-10.8zM694.8 716h10.8v10.8h-10.8z" fill="#e5e5e5"/><path d="M673.8 705.5h10.8v10.8h-10.8z" fill="#e6e6e6"/><path d="M600.2 758h10.8v10.8h-10.8zM610.7 737h10.8v10.8h-10.8z" fill="#e7e7e7"/><path d="M621.2 716h10.8v10.8h-10.8zM684.3 716h10.8v10.8h-10.8z" fill="#eaeaea"/><path d="M600.2 737h10.8v10.8h-10.8zM600.2 768.5h10.8v10.8h-10.8zM673.8 789.4h10.8v10.8h-10.8z" fill="#ebebeb"/><path d="M642.2 799.9h10.8v10.8h-10.8z" fill="#ececec"/><path d="M600.2 747.5h10.8v10.8h-10.8z" fill="#ededed"/><path d="M652.8 789.4h10.8v10.8h-10.8z" fill="#eeeeee"/><path d="M610.7 768.5h10.8v10.8h-10.8zM631.7 789.4h10.8v10.8h-10.8zM663.3 705.5h10.8v10.8h-10.8z" fill="#f0f0f0"/><path d="M621.2 778.9h10.8v10.8h-10.8zM631.7 716h10.8v10.8h-10.8z" fill="#f1f1f1"/><path d="M642.2 705.5h10.8v10.8h-10.8zM694.8 778.9h10.8v10.8h-10.8z" fill="#f2f2f2"/><path d="M652.8 705.5h10.8v10.8h-10.8z" fill="#f3f3f3"/><path d="M663.3 789.4h10.8v10.8h-10.8z" fill="#f4f4f4"/><path d="M610.7 778.9h10.8v10.8h-10.8zM631.7 705.5h10.8v10.8h-10.8zM705.4 768.5h10.8v10.8h-10.8z" fill="#f6f6f6"/><path d="M600.2 726.5h10.8v10.8h-10.8zM621.2 789.4h10.8v10.8h-10.8zM684.3 789.4h10.8v10.8h-10.8zM705.4 716h10.8v10.8h-10.8zM715.9 737h10.8v10.8h-10.8zM715.9 747.5h10.8v10.8h-10.8z" fill="#f8f8f8"/><path d="M631.7 799.9h10.8v10.8h-10.8z" fill="#fafafa"/><path d="M610.7 716h10.8v10.8h-10.8zM715.9 758h10.8v10.8h-10.8z" fill="#fcfcfc"/><path d="M684.3 705.5h10.8v10.8h-10.8z" fill="#fefefe"/>
<rect x="641.2" y="736.2" width="10.7" height="10.7" fill="#111"/><rect x="651.7" y="736.2" width="10.7" height="10.7" fill="#333"/><rect x="651.7" y="757.3" width="10.7" height="10.7" fill="#0a0a0a"/><rect x="641.2" y="757.3" width="10.7" height="10.7" fill="#2a2a2a"/><rect x="641.2" y="746.7" width="10.7" height="10.7" fill="#555"/><rect x="651.7" y="746.7" width="10.7" height="10.7" fill="#555"/><rect x="662.3" y="736.2" width="10.7" height="10.7" fill="#666"/><rect x="662.3" y="757.3" width="10.7" height="10.7" fill="#777"/><rect x="673" y="744" width="10.7" height="10.7" fill="#888"/>
<path d="M637 873.3V663.6" stroke="#000" stroke-width="2.9" stroke-dasharray="10.6 5.1" fill="none"/>
<path d="M689.4 873.3V663.6" stroke="#000" stroke-width="2.9" stroke-dasharray="10.6 5.1" fill="none"/>
<path d="M568.6 741.6H779" stroke="#000" stroke-width="2.9" stroke-dasharray="10.6 5.1" fill="none"/>
<path d="M568.6 784.2H779" stroke="#000" stroke-width="2.9" stroke-dasharray="10.6 5.1" fill="none"/>
<path d="M598.8 760.4L599.9 747.1L605.4 733.8L616.6 724.9L625.4 717.1L636.6 712.7L646.6 703.8L657.7 708.2L672.1 704.9L685.4 708.2L698.8 716L708.8 719.3L716.6 731.6L719.9 744.9L718.8 760.4L712.1 771.6L698.8 787.1L685.4 796L672.1 799.3L658.8 798.2L647.7 807.1L634.3 800.4L625.4 791.6L614.3 787.1L605.4 776Z" stroke="#000" stroke-width="3.1" fill="none" stroke-linejoin="round"/>
<path d="M615.4 756L618.8 744.9L627.7 733.8L636.6 724.9L649.9 721.6L663.2 718.2L676.6 719.3L689.9 726L701 730.4L709.9 740.4L707.7 751.6L699.9 762.7L696.6 776L685.4 782.7L672.1 783.8L658.8 784.9L647.7 790.4L636.6 783.8L625.4 776L617.7 766Z" stroke="#000" stroke-width="3.1" fill="none" stroke-linejoin="round"/>
<path d="M636.6 760.4L638.8 740.4L645.4 733.8L658.8 732.7L667.7 727.1L678.8 731.6L687.7 738.2L691 749.3L685.4 760.4L683.2 776L672.1 772.7L658.8 776L645.4 773.8Z" stroke="#000" stroke-width="3.1" fill="none" stroke-linejoin="round"/>
<path d="M579.1 873.3v-7M579.1 663.6v7M604.5 873.3v-7M604.5 663.6v7M629.9 873.3v-14.3M629.9 663.6v14.3M655.3 873.3v-7M655.3 663.6v7M680.7 873.3v-7M680.7 663.6v7M706.2 873.3v-7M706.2 663.6v7M731.6 873.3v-7M731.6 663.6v7M757 873.3v-14.3M757 663.6v14.3M568.6 668.3h7M779 668.3h-7M568.6 680.2h7M779 680.2h-7M568.6 692.1h7M779 692.1h-7M568.6 704h14.3M779 704h-14.3M568.6 715.9h7M779 715.9h-7M568.6 727.8h7M779 727.8h-7M568.6 739.7h7M779 739.7h-7M568.6 751.6h7M779 751.6h-7M568.6 763.5h14.3M779 763.5h-14.3M568.6 775.4h7M779 775.4h-7M568.6 787.3h7M779 787.3h-7M568.6 799.2h7M779 799.2h-7M568.6 811.1h7M779 811.1h-7M568.6 823h14.3M779 823h-14.3M568.6 834.9h7M779 834.9h-7M568.6 846.8h7M779 846.8h-7M568.6 858.7h7M779 858.7h-7M568.6 870.6h7M779 870.6h-7" stroke="#000" stroke-width="2.4" fill="none"/>
<path d="M669 663.6V873.3" stroke="#db2224" stroke-width="4.3" fill="none"/>
<path d="M568.6 752.7H779" stroke="#db2224" stroke-width="4.3" fill="none"/>
<rect x="568.6" y="663.6" width="210.4" height="209.7" fill="none" stroke="#000" stroke-width="2.75"/>
</g>
<text class="t" text-anchor="end" transform="translate(214.5,891.6) rotate(-45)">-19.8</text>
<text class="t" text-anchor="end" transform="translate(325.8,891.6) rotate(-45)">-19.75</text>
<text class="t" text-anchor="end" transform="translate(409.7,891.6) rotate(-45)">-18.5</text>
<text class="t" text-anchor="end" transform="translate(512.5,891.6) rotate(-45)">-18.25</text>
<text class="t" text-anchor="end" transform="translate(659.6,891) rotate(-45)">10733</text>
<text class="t" text-anchor="end" transform="translate(786.7,891) rotate(-45)">10734</text>
<text class="t" text-anchor="end" transform="translate(856.6,890.2) rotate(-45)">2.0</text>
<text class="t" text-anchor="end" transform="translate(915.8,890.2) rotate(-45)">3.0</text>
<text class="t" text-anchor="end" transform="translate(974.9,890.2) rotate(-45)">4.0</text>
<text class="t" text-anchor="end" transform="translate(119.4,303.9) rotate(-45)">-18.25</text>
<text class="t" text-anchor="end" transform="translate(119.4,401.6) rotate(-45)">-18.5</text>
<text class="t" text-anchor="end" transform="translate(119.4,470.5) rotate(-45)">10734</text>
<text class="t" text-anchor="end" transform="translate(119.4,598.1) rotate(-45)">10733</text>
<text class="t" text-anchor="end" transform="translate(119.4,709.2) rotate(-45)">4.0</text>
<text class="t" text-anchor="end" transform="translate(119.4,768.7) rotate(-45)">3.0</text>
<text class="t" text-anchor="end" transform="translate(119.4,828.2) rotate(-45)">2.0</text>
<text class="a" text-anchor="middle" x="232.6" y="957.7">log A</text>
<text class="a" text-anchor="middle" x="237.9" y="1024.4" textLength="264.5">[erg s<tspan font-size="18.1" dy="-9.5">−1</tspan><tspan dy="9.5"> cm</tspan><tspan font-size="18.1" dy="-9.5">−2</tspan><tspan dy="9.5"> Å</tspan><tspan font-size="18.1" dy="-9.5">−1</tspan><tspan dy="9.5">]</tspan></text>
<text class="a" text-anchor="middle" x="453.3" y="956.5">log a</text>
<text class="a" text-anchor="middle" x="457.6" y="992.5" textLength="264.5">[erg s<tspan font-size="18.1" dy="-9.5">−1</tspan><tspan dy="9.5"> cm</tspan><tspan font-size="18.1" dy="-9.5">−2</tspan><tspan dy="9.5"> Å</tspan><tspan font-size="18.1" dy="-9.5">−1</tspan><tspan dy="9.5">]</tspan></text>
<text class="a" text-anchor="middle" x="674.4" y="956.8">λ<tspan font-size="18.1" dy="4.5">cen</tspan></text>
<text class="a" text-anchor="middle" x="678.2" y="992.2">[Å]</text>
<text class="a" text-anchor="middle" x="894.2" y="956.6">σ</text>
<text class="a" text-anchor="middle" x="898.4" y="989.4">[Å]</text>
<text class="a" text-anchor="middle" transform="translate(20,328.5) rotate(-90)">log a</text>
<text class="a" text-anchor="middle" transform="translate(57,323.5) rotate(-90)" textLength="264.5">[erg s<tspan font-size="18.1" dy="-9.5">−1</tspan><tspan dy="9.5"> cm</tspan><tspan font-size="18.1" dy="-9.5">−2</tspan><tspan dy="9.5"> Å</tspan><tspan font-size="18.1" dy="-9.5">−1</tspan><tspan dy="9.5">]</tspan></text>
<text class="a" text-anchor="middle" transform="translate(24.6,548.5) rotate(-90)">λ<tspan font-size="18.1" dy="4.5">cen</tspan></text>
<text class="a" text-anchor="middle" transform="translate(60,544.4) rotate(-90)">[Å]</text>
<text class="a" text-anchor="middle" transform="translate(27.5,770.7) rotate(-90)">σ</text>
<text class="a" text-anchor="middle" transform="translate(60,764.5) rotate(-90)">[Å]</text>
<path d="M121.9 1223.7v-7M121.9 1051.4v7M133.1 1223.7v-7M133.1 1051.4v7M144.2 1223.7v-7M144.2 1051.4v7M155.4 1223.7v-7M155.4 1051.4v7M166.5 1223.7v-7M166.5 1051.4v7M177.7 1223.7v-14.3M177.7 1051.4v14.3M188.8 1223.7v-7M188.8 1051.4v7M200 1223.7v-7M200 1051.4v7M211.1 1223.7v-7M211.1 1051.4v7M222.3 1223.7v-7M222.3 1051.4v7M233.4 1223.7v-14.3M233.4 1051.4v14.3M244.6 1223.7v-7M244.6 1051.4v7M255.8 1223.7v-7M255.8 1051.4v7M266.9 1223.7v-7M266.9 1051.4v7M278.1 1223.7v-7M278.1 1051.4v7" stroke="#000" stroke-width="2.4" fill="none"/>
<path d="M116.6 1223.7V1223.1H125.3V1223.1H133.9V1223.1H142.6V1223.1H151.3V1221.8H160V1213.8H168.7V1206.9H177.3V1188.7H186V1156.8H194.7V1114H203.3V1093.5H212V1067.7H220.7V1070.9H229.4V1093.3H238.1V1119.3H246.7V1148H255.4V1183.5H264.1V1205H272.8V1214.3H281.4V1219.9H290.1V1223.7" stroke="#000" stroke-width="2.3" fill="none" stroke-linejoin="miter"/>
<path d="M190.2 1223.7V1051.4" stroke="#000" stroke-width="2.9" stroke-dasharray="10.6 5.1" fill="none"/>
<path d="M233.7 1223.7V1051.4" stroke="#000" stroke-width="2.9" stroke-dasharray="10.6 5.1" fill="none"/>
<path d="M215.4 1051.4V1223.7" stroke="#db2224" stroke-width="4.3" fill="none"/>
<rect x="116.6" y="1051.4" width="173.5" height="172.3" fill="none" stroke="#000" stroke-width="2.75"/>
<path d="M313.3 1405.1v-7M313.3 1232.4v7M330.4 1405.1v-7M330.4 1232.4v7M347.6 1405.1v-7M347.6 1232.4v7M364.7 1405.1v-14.3M364.7 1232.4v14.3M381.8 1405.1v-7M381.8 1232.4v7M398.9 1405.1v-7M398.9 1232.4v7M416.1 1405.1v-7M416.1 1232.4v7M433.2 1405.1v-14.3M433.2 1232.4v14.3M450.3 1405.1v-7M450.3 1232.4v7M467.4 1405.1v-7M467.4 1232.4v7" stroke="#000" stroke-width="2.4" fill="none"/>
<path d="M297.8 1405.1V1404.7H306.4V1404.7H315.1V1404.7H323.8V1404.7H332.4V1403.4H341.1V1395.3H349.8V1385.4H358.5V1369.2H367.1V1335.9H375.8V1291.7H384.5V1273H393.2V1247.8H401.9V1251.5H410.5V1272.6H419.2V1300.6H427.9V1331.3H436.6V1365.1H445.2V1386.9H453.9V1395.3H462.6V1400H471.2V1405.1" stroke="#000" stroke-width="2.3" fill="none" stroke-linejoin="miter"/>
<path d="M370.6 1405.1V1232.4" stroke="#000" stroke-width="2.9" stroke-dasharray="10.6 5.1" fill="none"/>
<path d="M414.5 1405.1V1232.4" stroke="#000" stroke-width="2.9" stroke-dasharray="10.6 5.1" fill="none"/>
<path d="M397 1232.4V1405.1" stroke="#db2224" stroke-width="4.3" fill="none"/>
<rect x="297.8" y="1232.4" width="173.5" height="172.7" fill="none" stroke="#000" stroke-width="2.75"/>
<path d="M486.3 1586.5v-7M486.3 1413.4v7M498.5 1586.5v-7M498.5 1413.4v7M510.7 1586.5v-14.3M510.7 1413.4v14.3M522.9 1586.5v-7M522.9 1413.4v7M535.1 1586.5v-7M535.1 1413.4v7M547.2 1586.5v-7M547.2 1413.4v7M559.4 1586.5v-7M559.4 1413.4v7M571.6 1586.5v-14.3M571.6 1413.4v14.3M583.8 1586.5v-7M583.8 1413.4v7M596 1586.5v-7M596 1413.4v7M608.1 1586.5v-7M608.1 1413.4v7M620.3 1586.5v-7M620.3 1413.4v7M632.5 1586.5v-14.3M632.5 1413.4v14.3M644.7 1586.5v-7M644.7 1413.4v7" stroke="#000" stroke-width="2.4" fill="none"/>
<path d="M478.9 1586.5V1581.9H487.6V1573.5H496.2V1555.4H504.9V1537.1H513.6V1496.6H522.3V1459.6H530.9V1431.2H539.6V1429.3H548.3V1441.5H557V1458.6H565.6V1481.6H574.3V1496.6H583V1470.4H591.7V1518.4H600.4V1556.7H609V1575H617.7V1573.2H626.4V1581.9H635V1577.3H643.7V1581.9H652.4V1586.5" stroke="#000" stroke-width="2.3" fill="none" stroke-linejoin="miter"/>
<path d="M509.2 1586.5V1413.4" stroke="#000" stroke-width="2.9" stroke-dasharray="10.6 5.1" fill="none"/>
<path d="M570 1586.5V1413.4" stroke="#000" stroke-width="2.9" stroke-dasharray="10.6 5.1" fill="none"/>
<path d="M544.2 1413.4V1586.5" stroke="#db2224" stroke-width="4.3" fill="none"/>
<rect x="478.9" y="1413.4" width="173.5" height="173.1" fill="none" stroke="#000" stroke-width="2.75"/>
<path d="M670.5 1767.1v-7M670.5 1594.8v7M687.1 1767.1v-14.3M687.1 1594.8v14.3M703.7 1767.1v-7M703.7 1594.8v7M720.2 1767.1v-7M720.2 1594.8v7M736.8 1767.1v-7M736.8 1594.8v7M753.4 1767.1v-14.3M753.4 1594.8v14.3M770 1767.1v-7M770 1594.8v7M786.5 1767.1v-7M786.5 1594.8v7M803.1 1767.1v-7M803.1 1594.8v7M819.7 1767.1v-14.3M819.7 1594.8v14.3" stroke="#000" stroke-width="2.4" fill="none"/>
<path d="M660 1767.1V1766.1H668.7V1763.5H677.4V1761.1H686.1V1750.8H694.8V1738.1H703.4V1718.5H712.1V1704.1H720.8V1663.9H729.4V1609.8H738.1V1623.8H746.8V1646.2H755.5V1668.6H764.1V1668.6H772.8V1714.9H781.5V1740.5H790.2V1753.6H798.8V1759.2H807.5V1764.8H816.2V1766.1H824.9V1766.1H833.5V1767.1" stroke="#000" stroke-width="2.3" fill="none" stroke-linejoin="miter"/>
<path d="M716.4 1767.1V1594.8" stroke="#000" stroke-width="2.9" stroke-dasharray="10.6 5.1" fill="none"/>
<path d="M759.7 1767.1V1594.8" stroke="#000" stroke-width="2.9" stroke-dasharray="10.6 5.1" fill="none"/>
<path d="M733.4 1594.8V1767.1" stroke="#db2224" stroke-width="4.3" fill="none"/>
<rect x="660" y="1594.8" width="173.5" height="172.3" fill="none" stroke="#000" stroke-width="2.75"/>
<path d="M849.8 1948.1v-7M849.8 1775.5v7M858.4 1948.1v-7M858.4 1775.5v7M867.1 1948.1v-7M867.1 1775.5v7M875.8 1948.1v-7M875.8 1775.5v7M884.4 1948.1v-14.3M884.4 1775.5v14.3M893 1948.1v-7M893 1775.5v7M901.7 1948.1v-7M901.7 1775.5v7M910.4 1948.1v-7M910.4 1775.5v7M919 1948.1v-7M919 1775.5v7M927.6 1948.1v-14.3M927.6 1775.5v14.3M936.3 1948.1v-7M936.3 1775.5v7M944.9 1948.1v-7M944.9 1775.5v7M953.6 1948.1v-7M953.6 1775.5v7M962.2 1948.1v-7M962.2 1775.5v7M970.9 1948.1v-14.3M970.9 1775.5v14.3M979.5 1948.1v-7M979.5 1775.5v7M988.2 1948.1v-7M988.2 1775.5v7M996.9 1948.1v-7M996.9 1775.5v7M1005.5 1948.1v-7M1005.5 1775.5v7" stroke="#000" stroke-width="2.4" fill="none"/>
<path d="M841.2 1948.1V1924H849.9V1881.4H858.6V1854.3H867.2V1821.6H875.9V1816.9H884.6V1802.9H893.2V1791.3H901.9V1794.5H910.6V1798.2H919.3V1812.6H928V1829.1H936.6V1823.4H945.3V1858H954V1863.6H962.7V1887.3H971.3V1909.8H980V1915.4H988.7V1925.8H997.4V1935.5H1006V1941.7H1014.7V1948.1" stroke="#000" stroke-width="2.3" fill="none" stroke-linejoin="miter"/>
<path d="M863.4 1948.1V1775.5" stroke="#000" stroke-width="2.9" stroke-dasharray="10.6 5.1" fill="none"/>
<path d="M931.6 1948.1V1775.5" stroke="#000" stroke-width="2.9" stroke-dasharray="10.6 5.1" fill="none"/>
<path d="M898 1775.5V1948.1" stroke="#db2224" stroke-width="4.3" fill="none"/>
<rect x="841.2" y="1775.5" width="173.5" height="172.6" fill="none" stroke="#000" stroke-width="2.75"/>
<g>
<defs><linearGradient id="dg" gradientUnits="userSpaceOnUse" x1="140.7" y1="1380" x2="284.5" y2="1237.1"><stop offset="0" stop-color="#000" stop-opacity="0"/><stop offset="0.3" stop-color="#000" stop-opacity="0.9"/><stop offset="0.85" stop-color="#000" stop-opacity="0.9"/><stop offset="1" stop-color="#000" stop-opacity="0.3"/></linearGradient></defs><path d="M140.7 1380L284.5 1237.1" stroke="url(#dg)" stroke-width="1.6" fill="none"/><path d="M201.4 1318.3L236.9 1284.2" stroke="#000" stroke-width="5.5" stroke-linecap="round" stroke-dasharray="9 5.5 16 0" fill="none"/><circle cx="198" cy="1322.5" r="2.6" fill="#fff" stroke="#000" stroke-width="2"/><circle cx="241.8" cy="1279.5" r="2.6" fill="#fff" stroke="#000" stroke-width="2"/><rect x="246.5" y="1267.2" width="7" height="7" fill="#ccc"/><rect x="254" y="1258.8" width="7" height="7" fill="#e4e4e4"/><rect x="186.7" y="1327.9" width="7" height="7" fill="#ddd"/><rect x="177.4" y="1334.5" width="7" height="7" fill="#eee"/>
<path d="M190.2 1405.1V1232.4" stroke="#000" stroke-width="2.9" stroke-dasharray="10.6 5.1" fill="none"/>
<path d="M233.7 1405.1V1232.4" stroke="#000" stroke-width="2.9" stroke-dasharray="10.6 5.1" fill="none"/>
<path d="M116.6 1288.5H290.1" stroke="#000" stroke-width="2.9" stroke-dasharray="10.6 5.1" fill="none"/>
<path d="M116.6 1332H290.1" stroke="#000" stroke-width="2.9" stroke-dasharray="10.6 5.1" fill="none"/>
<path d="M121.9 1405.1v-7M121.9 1232.4v7M133.1 1405.1v-7M133.1 1232.4v7M144.2 1405.1v-7M144.2 1232.4v7M155.4 1405.1v-7M155.4 1232.4v7M166.5 1405.1v-7M166.5 1232.4v7M177.7 1405.1v-14.3M177.7 1232.4v14.3M188.8 1405.1v-7M188.8 1232.4v7M200 1405.1v-7M200 1232.4v7M211.1 1405.1v-7M211.1 1232.4v7M222.3 1405.1v-7M222.3 1232.4v7M233.4 1405.1v-14.3M233.4 1232.4v14.3M244.6 1405.1v-7M244.6 1232.4v7M255.8 1405.1v-7M255.8 1232.4v7M266.9 1405.1v-7M266.9 1232.4v7M278.1 1405.1v-7M278.1 1232.4v7M116.6 1234.5h7M290.1 1234.5h-7M116.6 1251.6h7M290.1 1251.6h-7M116.6 1268.8h14.3M290.1 1268.8h-14.3M116.6 1286h7M290.1 1286h-7M116.6 1303.1h7M290.1 1303.1h-7M116.6 1320.2h7M290.1 1320.2h-7M116.6 1337.4h14.3M290.1 1337.4h-14.3M116.6 1354.5h7M290.1 1354.5h-7M116.6 1371.7h7M290.1 1371.7h-7M116.6 1388.8h7M290.1 1388.8h-7" stroke="#000" stroke-width="2.4" fill="none"/>
<path d="M215.4 1232.4V1405.1" stroke="#db2224" stroke-width="4.3" fill="none"/>
<path d="M116.6 1305.6H290.1" stroke="#db2224" stroke-width="4.3" fill="none"/>
<rect x="116.6" y="1232.4" width="173.5" height="172.7" fill="none" stroke="#000" stroke-width="2.75"/>
</g>
<g>
<path d="M277 1524.2h1.6M246.9 1460.7h1.6M215.7 1433.9h1.6M233 1457.6h1.6M197 1424.9h1.6M187.3 1555.4h1.6M159 1422.7h1.6M246.9 1575h1.6M175.6 1516.2h1.6M175.8 1541.4h1.6M166.7 1514.4h1.6M173.6 1503.6h1.6M176.1 1505h1.6M218.6 1456h1.6M220.9 1430.8h1.6M153.6 1535.5h1.6M145.5 1487.3h1.6M261.8 1446.7h1.6M171.6 1471.7h1.6M263.8 1486.2h1.6M220.5 1448.3h1.6M182.5 1550.6h1.6M187.5 1465.4h1.6M186.6 1464.3h1.6M222.4 1437.6h1.6M263 1480.8h1.6M179.7 1461.8h1.6M172.9 1512.9h1.6M175.7 1512.9h1.6M210.2 1565.5h1.6M203 1566h1.6M274.6 1476.1h1.6M275.6 1472.6h1.6M165.8 1465h1.6M261.7 1490.7h1.6M200.3 1569.7h1.6M267.2 1465.7h1.6M229.5 1441.5h1.6M241.8 1563.6h1.6M232.3 1574.3h1.6M174.4 1576.9h1.6M178.9 1446.9h1.6M237.6 1447.8h1.6M254.1 1554.9h1.6M184.3 1551h1.6M262.8 1493.7h1.6M165.6 1541.7h1.6M210.5 1450.6h1.6M169.6 1490.3h1.6M171.3 1533.5h1.6M247.6 1570.6h1.6M245.7 1459.6h1.6M168.3 1501.8h1.6M164.2 1507.4h1.6M250.2 1464h1.6M188.6 1461.7h1.6M174.6 1494.6h1.6M173.1 1464.2h1.6M179 1481.3h1.6M254.9 1463.6h1.6M246.9 1448.3h1.6M173.3 1499.1h1.6M184.1 1467.4h1.6M157.7 1487.6h1.6M238.2 1451.3h1.6M255.5 1469h1.6M257.2 1548.5h1.6M149.9 1546.5h1.6M174.2 1495h1.6M194.2 1573.4h1.6M172.8 1510.4h1.6M227 1449.5h1.6M169.3 1490.8h1.6M215.5 1423.9h1.6M267.4 1559.1h1.6M173.2 1546.4h1.6M185.3 1559.3h1.6M257.2 1563.9h1.6M162 1529.7h1.6M170.3 1506.8h1.6M176.6 1565.6h1.6M162 1485.5h1.6M239.9 1454.9h1.6M221.6 1580h1.6M189.1 1455.8h1.6M207.1 1456h1.6M193.6 1577.8h1.6M167.4 1489.2h1.6M268.5 1525.8h1.6M193.6 1566.3h1.6M257.9 1462.7h1.6M195.9 1557.8h1.6M174.4 1501.7h1.6M261.8 1544.6h1.6M170.6 1526.3h1.6M156.7 1501h1.6M188.9 1552.9h1.6M283.1 1540.3h1.6M209.8 1456.9h1.6M263.5 1500.1h1.6M215.7 1449h1.6M181.6 1475.1h1.6M188.2 1425.8h1.6M181.3 1542.5h1.6M207.3 1444.3h1.6M263.6 1550h1.6M174.1 1579.2h1.6M270.5 1532.3h1.6M172.6 1517.8h1.6M153 1532.2h1.6M275.2 1529.2h1.6M197.1 1575.2h1.6M204.1 1445.9h1.6M231.9 1575.4h1.6M239 1564h1.6M224.2 1457h1.6M155 1460.6h1.6M129.5 1546.1h1.6M199.9 1457.3h1.6M181.9 1449.3h1.6M163.9 1502h1.6M153.5 1497.2h1.6M262.6 1495.4h1.6M157.5 1483.9h1.6M170.4 1496.7h1.6M262.6 1538.7h1.6M232.2 1570.5h1.6M259.5 1543.4h1.6M258.8 1442.9h1.6M221.7 1454.7h1.6M275.9 1560.8h1.6M177.8 1547.4h1.6M245.9 1561.2h1.6M268.5 1514.3h1.6M252 1463.7h1.6M239.9 1561.3h1.6M164.4 1541.1h1.6M197 1579.7h1.6M207.6 1454.8h1.6M170.4 1519.7h1.6M275.1 1445.8h1.6M272 1479.1h1.6M170.9 1542.9h1.6M264.5 1509.2h1.6M198.9 1577.1h1.6M271 1481.8h1.6M253.7 1577.1h1.6M183.1 1472.7h1.6M217.9 1578.3h1.6M185.9 1465.8h1.6M213.8 1417.9h1.6M183.7 1559.9h1.6M183.3 1561.8h1.6M174.6 1535.4h1.6M257.7 1459.9h1.6M265.3 1534.6h1.6M177.7 1506h1.6M175.9 1448.8h1.6M200.9 1450.9h1.6M271.1 1526.6h1.6M264.6 1562.7h1.6M202.2 1563.3h1.6M268.3 1500.4h1.6M261.6 1495.6h1.6M160.6 1509.1h1.6M151.5 1491h1.6M177.5 1513.5h1.6M205 1426.8h1.6M211.2 1566.5h1.6M243.4 1580.5h1.6M250.6 1448.1h1.6M228.9 1582.7h1.6M271.6 1451.2h1.6M202 1567.2h1.6M248.5 1575.8h1.6M270.8 1472.5h1.6M171.4 1482h1.6M184.2 1556.7h1.6M215.9 1456.1h1.6M176.6 1478.1h1.6M176.4 1470.8h1.6M204.5 1454.8h1.6M174.2 1509.6h1.6M270.3 1485h1.6M259 1547.3h1.6M274.8 1524.1h1.6M172.6 1528.1h1.6M172.7 1509.7h1.6M250.9 1560.1h1.6M187.3 1564.8h1.6M227.7 1568.4h1.6M170.6 1525.9h1.6M228.9 1459.9h1.6M266.3 1528.3h1.6M165.2 1545.5h1.6M177.4 1538.3h1.6M172.1 1528.6h1.6M185.5 1547.7h1.6M218.4 1448.9h1.6M277.5 1503.5h1.6M264.2 1505.9h1.6M211.3 1454h1.6M256.9 1571.5h1.6M276.7 1485.1h1.6M203.8 1445.3h1.6M168 1566.6h1.6M157.6 1512h1.6M194 1580.9h1.6M181.7 1552.8h1.6M157.2 1531.9h1.6M172 1530.7h1.6M262.7 1486.1h1.6M279.7 1524.7h1.6M221.4 1423.6h1.6M255.9 1568h1.6M177.5 1462.1h1.6M256.7 1470.3h1.6M164.4 1500.5h1.6M246.7 1571.9h1.6M266.9 1562.1h1.6M269.3 1458.8h1.6M223.9 1424.5h1.6M268.6 1539.1h1.6M227.7 1461h1.6M249.5 1561.9h1.6M153.7 1501.7h1.6M266.4 1470.7h1.6M179 1500.5h1.6M191.5 1560.4h1.6M193.8 1558.4h1.6M180.1 1489.1h1.6M283.6 1479.6h1.6M173.9 1493h1.6M188 1460.5h1.6M189.9 1567h1.6M209.7 1458.9h1.6M185.3 1554.5h1.6M276.5 1447.5h1.6M265.1 1562.6h1.6M225.3 1569.9h1.6M259.1 1544.4h1.6M265.1 1547.1h1.6M155.4 1466.6h1.6M175.1 1491.4h1.6M211.9 1419.7h1.6M173.4 1504h1.6M227.8 1438h1.6M254.8 1445.3h1.6M225 1460.7h1.6M163.6 1536.2h1.6M216 1453.5h1.6M181.9 1546.4h1.6M272.3 1525.5h1.6M272.9 1488.2h1.6M143.1 1537.8h1.6M196.3 1557.5h1.6M250.2 1567h1.6M234.8 1458.5h1.6M199.6 1567h1.6M219.9 1582.4h1.6M256.9 1469.9h1.6M214.5 1575.7h1.6M212.1 1453h1.6M230.5 1458.4h1.6M265.9 1498.1h1.6M156.3 1472.4h1.6M228.6 1581.9h1.6M158.4 1540.8h1.6M268.7 1516.5h1.6M223.5 1459.8h1.6M176.3 1479h1.6M275.9 1517.2h1.6M197.5 1568.5h1.6M171.7 1523.4h1.6M178.5 1500.8h1.6M279.9 1523.5h1.6M195 1457.2h1.6M227.6 1456.4h1.6M145.5 1520.8h1.6M178.7 1545.1h1.6M179.5 1463.1h1.6M183.9 1568.6h1.6M182.8 1473.5h1.6M214 1429.8h1.6M274 1517.8h1.6M166.1 1564.7h1.6M225.6 1452.6h1.6M157.3 1514.2h1.6M183.5 1468.8h1.6M198.4 1573.6h1.6M203 1445h1.6M190.1 1577.3h1.6M198.2 1558.1h1.6M155.8 1519.5h1.6M159.7 1507.8h1.6M159.3 1498.9h1.6M209 1570.9h1.6M262.8 1490.1h1.6M205.9 1566.8h1.6M170.2 1528.5h1.6M272.8 1480.4h1.6M253.2 1458.9h1.6M268.5 1474.9h1.6M260.5 1466.4h1.6M180.3 1556h1.6M270.9 1481.2h1.6M172.5 1549h1.6M178.2 1577.5h1.6M190.4 1459.1h1.6M270.3 1490.2h1.6M202.5 1575.2h1.6M184.3 1546.9h1.6M169.1 1547h1.6M271.2 1479.4h1.6M191.6 1459.8h1.6M199 1558.7h1.6M171.4 1569.5h1.6M200 1557.8h1.6M165.9 1565.3h1.6M178.5 1476.7h1.6M248.6 1561.9h1.6M176.4 1568.5h1.6M266.4 1528.7h1.6M170.2 1488.4h1.6M165.3 1484.9h1.6M209.9 1579.3h1.6M277.7 1527.1h1.6M272.2 1509.9h1.6M200.6 1460.8h1.6M217.5 1571.3h1.6M185.1 1554.8h1.6M204.2 1453.9h1.6M277.3 1518.3h1.6M269.9 1511.5h1.6M194.2 1433.5h1.6M272.7 1490.9h1.6M185 1559.1h1.6M206.9 1443.1h1.6M180.2 1477.6h1.6M268.5 1507.2h1.6M206.8 1564h1.6M180.7 1554.8h1.6M167.9 1498.9h1.6M200.8 1564.8h1.6M268.4 1541.8h1.6M235.4 1575.4h1.6M267.3 1470.3h1.6M156.9 1540h1.6M266.5 1525.3h1.6M190.1 1460h1.6M281.6 1517.4h1.6M175.3 1544.9h1.6M203.3 1565.7h1.6M243.1 1567.2h1.6M173 1501.6h1.6M258.2 1467.7h1.6M164.1 1508.3h1.6M207.2 1456.2h1.6M231.9 1570.4h1.6M182.5 1469.2h1.6M274 1537.5h1.6M252.4 1578h1.6M200.5 1562.8h1.6M241 1581.4h1.6M163.1 1459.5h1.6M181.6 1458.6h1.6M201.6 1444.3h1.6M268.8 1533.2h1.6M239.6 1452.5h1.6M176.9 1505.5h1.6M162.1 1495.3h1.6M250.5 1461.2h1.6M265.2 1539.1h1.6M179.4 1476.7h1.6M212.5 1457.4h1.6M179.8 1540.9h1.6M165.1 1493.2h1.6M160.4 1486.8h1.6M214.8 1454.9h1.6M240.9 1576.9h1.6M154.9 1547.5h1.6M184.2 1468.2h1.6M162.1 1518.4h1.6M182.5 1551.5h1.6M180.1 1471.7h1.6M180.3 1542.3h1.6M279 1493.2h1.6M256.1 1571.1h1.6M204.9 1564.7h1.6M263 1493.5h1.6M222 1436.2h1.6M183.8 1552.8h1.6M131.6 1490.7h1.6M257.6 1547.6h1.6M196.6 1564.2h1.6M159.7 1481.2h1.6M182.3 1563.1h1.6M191.2 1567.9h1.6M221.5 1451.8h1.6M190.4 1557.5h1.6M169.2 1462.8h1.6M266.1 1514.9h1.6M186.4 1559.9h1.6M173.8 1528.2h1.6M168.5 1545.9h1.6M223.2 1451.2h1.6M217 1457.8h1.6M228.8 1453.8h1.6M172.5 1507.7h1.6M174 1509.1h1.6M145.4 1542.6h1.6M195.1 1559.4h1.6M264 1497.5h1.6M275 1522.5h1.6M205.6 1560.9h1.6M265.6 1513.2h1.6M279.2 1470.9h1.6M178.3 1491.1h1.6M194.8 1560.7h1.6M278.9 1530.6h1.6M177 1549.1h1.6M261.2 1548.9h1.6M192.2 1577.4h1.6M196.7 1457.8h1.6M259.7 1558.1h1.6M170.9 1528.1h1.6M204 1571.7h1.6M177.1 1472.4h1.6M267.3 1474.4h1.6M207 1460.7h1.6M149.6 1553.9h1.6M162 1515.5h1.6M154.8 1551.7h1.6M177.7 1496.4h1.6M256.5 1564.7h1.6M213.7 1451.9h1.6M245.5 1567.2h1.6M216 1444.4h1.6M220.6 1440.7h1.6M166.1 1505.7h1.6M183.9 1464.4h1.6M186.7 1564.1h1.6M172.5 1505.9h1.6M250.6 1564.4h1.6M217.7 1438.7h1.6M234.9 1460.7h1.6M263 1547.4h1.6M192.7 1555.3h1.6M180.6 1475.5h1.6M260.6 1474.8h1.6M162.2 1527.4h1.6M177.7 1493.4h1.6M179.1 1563.1h1.6M179.7 1570.6h1.6M203.1 1572.1h1.6M262.7 1477.8h1.6M199.5 1429.3h1.6M213.5 1578.2h1.6M177.8 1565h1.6M264 1491.3h1.6M238.2 1562.9h1.6M171.2 1558.9h1.6M179.2 1461.3h1.6M181.5 1453.1h1.6M176.1 1511.2h1.6M275.9 1547.9h1.6M171.6 1475.6h1.6M238.9 1572.8h1.6M221.3 1458.2h1.6M158.1 1550.9h1.6M227.9 1452.8h1.6M251.9 1453.3h1.6M285.6 1494.3h1.6M219.7 1455h1.6M265.5 1540.4h1.6M182 1545.5h1.6M258.7 1459.5h1.6M174.8 1501.9h1.6M146.6 1481.2h1.6M250.2 1581h1.6M169.6 1552.8h1.6M237.8 1452h1.6M204.1 1563.1h1.6M178.5 1547.4h1.6M216.1 1451.4h1.6M267 1456.7h1.6M267.8 1530.5h1.6M178.4 1460.4h1.6M169.5 1497.3h1.6M270.6 1522.9h1.6M263 1543.5h1.6M258.3 1559.8h1.6M223.6 1455.6h1.6M186.1 1559.3h1.6M162.1 1529.4h1.6M264.8 1494.9h1.6M151.4 1496.3h1.6M216.2 1445.5h1.6M194.5 1559.7h1.6M267.2 1547.2h1.6M171.5 1498.2h1.6M175.3 1559.9h1.6M195.1 1556h1.6M172.8 1512.7h1.6M188.8 1573.4h1.6M138 1566.9h1.6M216.5 1572.3h1.6M173.4 1504h1.6M272 1485.5h1.6M209.9 1571h1.6M254.2 1573.1h1.6M172.8 1478.3h1.6M179.2 1499.5h1.6M164.1 1523.7h1.6M187.3 1550.7h1.6M272.4 1526.8h1.6M176.2 1497.1h1.6M175 1556.7h1.6M249.2 1453.6h1.6M258.4 1556.7h1.6M206.6 1446.5h1.6M189.2 1465.2h1.6M173.2 1524h1.6M144.9 1485.7h1.6M184.7 1431h1.6M171.9 1531.1h1.6M175.5 1497.6h1.6M239.6 1577.6h1.6M197.6 1562.7h1.6M201.4 1564.8h1.6M204.8 1568.8h1.6M174.2 1541h1.6M184.6 1449.6h1.6M263.9 1504h1.6M178.1 1486.9h1.6M233 1578.4h1.6M266.4 1466.4h1.6M259.3 1449.4h1.6M177.6 1497.3h1.6M186.9 1582h1.6M272.5 1541.4h1.6M152.9 1503.6h1.6M254.1 1558.6h1.6M167.3 1490.6h1.6M181.2 1554.6h1.6M250.7 1458.4h1.6M188.6 1556.2h1.6M177.1 1492.4h1.6M249.5 1465.6h1.6M191.3 1579.4h1.6M165 1483.8h1.6M247.8 1461.2h1.6M176.2 1495.2h1.6M252.7 1568.4h1.6M268.4 1514.8h1.6M179.1 1488.6h1.6M196.3 1456.9h1.6M182.6 1568.5h1.6M265.8 1510.5h1.6M189.8 1558.7h1.6" stroke="#000" stroke-opacity="0.27" stroke-width="1.6" fill="none"/>
<path d="M173.4 1524.6L178.1 1513.4L179.9 1492.8L182.7 1476L186.5 1466.7L197.7 1461L208.9 1461L215.4 1457.3L223.8 1461L235 1461L242.5 1460.1L250 1466.7L259.3 1472.3L263.1 1479.7L259.3 1487.2L260.3 1498.4L264.9 1511.5L266.8 1524.6L261.2 1535.8L257.5 1547L251.9 1559.1L242.5 1557.3L235 1563.8L223.8 1569.4L212.6 1564.7L201.4 1558.2L190.2 1552.6L182.7 1543.3L175.3 1535.8Z" fill="#fff"/>
<path d="M212 1517.3h9v9h-9z" fill="#303030"/><path d="M212 1525.9h9v9h-9z" fill="#353535"/><path d="M212 1508.6h9v9h-9z" fill="#434343"/><path d="M203.3 1525.9h9v9h-9z" fill="#535353"/><path d="M220.7 1508.6h9v9h-9z" fill="#696969"/><path d="M220.7 1517.3h9v9h-9z" fill="#767676"/><path d="M203.3 1508.6h9v9h-9zM203.3 1517.3h9v9h-9z" fill="#7a7a7a"/><path d="M220.7 1525.9h9v9h-9z" fill="#7f7f7f"/><path d="M212 1534.6h9v9h-9zM220.7 1500h9v9h-9zM220.7 1534.6h9v9h-9z" fill="#919191"/><path d="M203.3 1534.6h9v9h-9z" fill="#929292"/><path d="M212 1500h9v9h-9z" fill="#959595"/><path d="M229.4 1517.3h9v9h-9z" fill="#979797"/><path d="M194.7 1517.3h9v9h-9zM220.7 1474h9v9h-9z" fill="#989898"/><path d="M229.4 1525.9h9v9h-9z" fill="#9b9b9b"/><path d="M212 1474h9v9h-9z" fill="#9c9c9c"/><path d="M194.7 1525.9h9v9h-9z" fill="#9e9e9e"/><path d="M194.7 1508.6h9v9h-9zM203.3 1500h9v9h-9z" fill="#a4a4a4"/><path d="M229.4 1508.6h9v9h-9z" fill="#a7a7a7"/><path d="M229.4 1500h9v9h-9z" fill="#acacac"/><path d="M203.3 1474h9v9h-9z" fill="#afafaf"/><path d="M212 1491.3h9v9h-9z" fill="#b3b3b3"/><path d="M220.7 1491.3h9v9h-9z" fill="#b6b6b6"/><path d="M220.7 1543.2h9v9h-9z" fill="#b7b7b7"/><path d="M212 1543.2h9v9h-9z" fill="#b9b9b9"/><path d="M229.4 1534.6h9v9h-9z" fill="#bdbdbd"/><path d="M194.7 1500h9v9h-9z" fill="#c2c2c2"/><path d="M229.4 1491.3h9v9h-9z" fill="#c5c5c5"/><path d="M194.7 1491.3h9v9h-9zM203.3 1491.3h9v9h-9z" fill="#c7c7c7"/><path d="M186 1525.9h9v9h-9zM194.7 1534.6h9v9h-9zM229.4 1474h9v9h-9z" fill="#c8c8c8"/><path d="M186 1508.6h9v9h-9z" fill="#cacaca"/><path d="M238.1 1525.9h9v9h-9z" fill="#cbcbcb"/><path d="M229.4 1482.6h9v9h-9z" fill="#cdcdcd"/><path d="M203.3 1482.6h9v9h-9zM212 1482.6h9v9h-9z" fill="#cfcfcf"/><path d="M220.7 1482.6h9v9h-9z" fill="#d0d0d0"/><path d="M194.7 1474h9v9h-9z" fill="#d4d4d4"/><path d="M186 1500h9v9h-9zM203.3 1543.2h9v9h-9z" fill="#d5d5d5"/><path d="M186 1517.3h9v9h-9zM203.3 1465.3h9v9h-9z" fill="#d7d7d7"/><path d="M238.1 1517.3h9v9h-9z" fill="#d8d8d8"/><path d="M194.7 1482.6h9v9h-9zM238.1 1474h9v9h-9zM238.1 1500h9v9h-9z" fill="#dbdbdb"/><path d="M238.1 1508.6h9v9h-9z" fill="#dcdcdc"/><path d="M229.4 1543.2h9v9h-9z" fill="#dedede"/><path d="M194.7 1543.2h9v9h-9zM238.1 1482.6h9v9h-9z" fill="#dfdfdf"/><path d="M229.4 1465.3h9v9h-9z" fill="#e1e1e1"/><path d="M212 1465.3h9v9h-9z" fill="#e2e2e2"/><path d="M186 1465.3h9v9h-9zM186 1491.3h9v9h-9zM186 1543.2h9v9h-9zM220.7 1465.3h9v9h-9zM246.7 1534.6h9v9h-9zM255.4 1525.9h9v9h-9z" fill="#e5e5e5"/><path d="M194.7 1465.3h9v9h-9z" fill="#e6e6e6"/><path d="M246.7 1525.9h9v9h-9zM255.4 1517.3h9v9h-9z" fill="#e7e7e7"/><path d="M177.3 1534.6h9v9h-9z" fill="#e8e8e8"/><path d="M220.7 1560.5h9v9h-9zM229.4 1551.9h9v9h-9zM238.1 1491.3h9v9h-9zM238.1 1534.6h9v9h-9z" fill="#e9e9e9"/><path d="M212 1560.5h9v9h-9zM246.7 1500h9v9h-9z" fill="#eaeaea"/><path d="M203.3 1551.9h9v9h-9zM246.7 1543.2h9v9h-9z" fill="#ebebeb"/><path d="M238.1 1465.3h9v9h-9z" fill="#ececec"/><path d="M186 1534.6h9v9h-9z" fill="#ededed"/><path d="M177.3 1508.6h9v9h-9zM246.7 1465.3h9v9h-9z" fill="#efefef"/><path d="M186 1482.6h9v9h-9zM255.4 1474h9v9h-9z" fill="#f0f0f0"/><path d="M212 1551.9h9v9h-9zM255.4 1500h9v9h-9z" fill="#f1f1f1"/><path d="M246.7 1474h9v9h-9z" fill="#f2f2f2"/><path d="M177.3 1491.3h9v9h-9zM246.7 1491.3h9v9h-9zM246.7 1508.6h9v9h-9zM246.7 1517.3h9v9h-9z" fill="#f3f3f3"/><path d="M177.3 1517.3h9v9h-9z" fill="#f4f4f4"/><path d="M194.7 1551.9h9v9h-9zM238.1 1456.7h9v9h-9zM238.1 1543.2h9v9h-9zM246.7 1551.9h9v9h-9zM255.4 1508.6h9v9h-9zM255.4 1534.6h9v9h-9z" fill="#f5f5f5"/><path d="M177.3 1482.6h9v9h-9zM177.3 1500h9v9h-9zM186 1474h9v9h-9zM220.7 1551.9h9v9h-9zM246.7 1482.6h9v9h-9z" fill="#f6f6f6"/><path d="M203.3 1456.7h9v9h-9zM220.7 1456.7h9v9h-9zM229.4 1456.7h9v9h-9zM229.4 1560.5h9v9h-9zM255.4 1482.6h9v9h-9zM255.4 1491.3h9v9h-9z" fill="#f7f7f7"/><path d="M177.3 1525.9h9v9h-9z" fill="#f8f8f8"/><path d="M168.7 1517.3h9v9h-9zM168.7 1525.9h9v9h-9zM177.3 1474h9v9h-9zM194.7 1456.7h9v9h-9zM238.1 1551.9h9v9h-9zM264.1 1517.3h9v9h-9z" fill="#f9f9f9"/><path d="M212 1456.7h9v9h-9z" fill="#fafafa"/><path d="M255.4 1543.2h9v9h-9z" fill="#fbfbfb"/><path d="M168.7 1534.6h9v9h-9zM177.3 1465.3h9v9h-9zM177.3 1543.2h9v9h-9zM186 1456.7h9v9h-9zM186 1551.9h9v9h-9zM203.3 1560.5h9v9h-9zM255.4 1465.3h9v9h-9z" fill="#fdfdfd"/>
<path d="M195.4 1424.6L199.5 1423.7L200.5 1428.4L197.7 1431.5L194.9 1428.4Z" fill="#000"/><path d="M204.2 1428L205.7 1428L205.7 1429.8L204.2 1429.8Z" fill="#222"/><path d="M223.1 1447L224.8 1447L224.8 1448.9L223.1 1448.9Z" fill="#333"/>
<path d="M190.2 1586.5V1413.4" stroke="#000" stroke-width="2.9" stroke-dasharray="10.6 5.1" fill="none"/>
<path d="M233.7 1586.5V1413.4" stroke="#000" stroke-width="2.9" stroke-dasharray="10.6 5.1" fill="none"/>
<path d="M116.6 1495.2H290.1" stroke="#000" stroke-width="2.9" stroke-dasharray="10.6 5.1" fill="none"/>
<path d="M116.6 1555H290.1" stroke="#000" stroke-width="2.9" stroke-dasharray="10.6 5.1" fill="none"/>
<path d="M173.4 1524.6L178.1 1513.4L179.9 1492.8L182.7 1476L186.5 1466.7L197.7 1461L208.9 1461L215.4 1457.3L223.8 1461L235 1461L242.5 1460.1L250 1466.7L259.3 1472.3L263.1 1479.7L259.3 1487.2L260.3 1498.4L264.9 1511.5L266.8 1524.6L261.2 1535.8L257.5 1547L251.9 1559.1L242.5 1557.3L235 1563.8L223.8 1569.4L212.6 1564.7L201.4 1558.2L190.2 1552.6L182.7 1543.3L175.3 1535.8Z" stroke="#000" stroke-width="3.1" fill="none" stroke-linejoin="round"/>
<path d="M193.9 1476L197.7 1469.5L208.9 1470.4L223.8 1469.5L235 1472.3L245.3 1477.9L240.6 1487.2L238.8 1498.4L242.5 1502.1L238.8 1513.4L246.3 1526.4L238.8 1535.8L233.2 1547L223.8 1552.6L212.6 1549.8L201.4 1547L192.1 1535.8L186.5 1530.2L190.2 1519L188.3 1509.6L193.9 1494.7L201.4 1485.3Z" stroke="#000" stroke-width="3.1" fill="none" stroke-linejoin="round"/>
<path d="M195.8 1517.1L199.5 1509.6L208.9 1500.3L216.4 1494.7L227.6 1498.4L236.9 1505.9L233.2 1517.1L238.8 1526.4L231.3 1537.6L223.8 1547.9L212.6 1545.1L203.3 1541.4L197.7 1532Z" stroke="#000" stroke-width="3.1" fill="none" stroke-linejoin="round"/>
<path d="M203.3 1477.9L216.4 1473.2L231.3 1476.9L223.8 1484.4Z" stroke="#000" stroke-width="3.1" fill="none" stroke-linejoin="round"/>
<path d="M209.8 1510.6L218.2 1509.6L227.6 1517.1L220.1 1524.6L225.7 1526.4L218.2 1535.8L208.9 1533.9L205.1 1528.3L211.7 1522.7Z" stroke="#000" stroke-width="3.1" fill="none" stroke-linejoin="round"/>
<path d="M219.7 1477.3L222.9 1475.6L226.1 1477.3L222.9 1479Z" stroke="#000" stroke-width="3.1" fill="none" stroke-linejoin="round"/>
<path d="M121.9 1586.5v-7M121.9 1413.4v7M133.1 1586.5v-7M133.1 1413.4v7M144.2 1586.5v-7M144.2 1413.4v7M155.4 1586.5v-7M155.4 1413.4v7M166.5 1586.5v-7M166.5 1413.4v7M177.7 1586.5v-14.3M177.7 1413.4v14.3M188.8 1586.5v-7M188.8 1413.4v7M200 1586.5v-7M200 1413.4v7M211.1 1586.5v-7M211.1 1413.4v7M222.3 1586.5v-7M222.3 1413.4v7M233.4 1586.5v-14.3M233.4 1413.4v14.3M244.6 1586.5v-7M244.6 1413.4v7M255.8 1586.5v-7M255.8 1413.4v7M266.9 1586.5v-7M266.9 1413.4v7M278.1 1586.5v-7M278.1 1413.4v7M116.6 1420.4h7M290.1 1420.4h-7M116.6 1432.6h14.3M290.1 1432.6h-14.3M116.6 1444.8h7M290.1 1444.8h-7M116.6 1457h7M290.1 1457h-7M116.6 1469.1h7M290.1 1469.1h-7M116.6 1481.3h7M290.1 1481.3h-7M116.6 1493.5h14.3M290.1 1493.5h-14.3M116.6 1505.7h7M290.1 1505.7h-7M116.6 1517.9h7M290.1 1517.9h-7M116.6 1530h7M290.1 1530h-7M116.6 1542.2h7M290.1 1542.2h-7M116.6 1554.4h14.3M290.1 1554.4h-14.3M116.6 1566.6h7M290.1 1566.6h-7M116.6 1578.8h7M290.1 1578.8h-7" stroke="#000" stroke-width="2.4" fill="none"/>
<path d="M215.4 1413.4V1586.5" stroke="#db2224" stroke-width="4.3" fill="none"/>
<path d="M116.6 1520.8H290.1" stroke="#db2224" stroke-width="4.3" fill="none"/>
<rect x="116.6" y="1413.4" width="173.5" height="173.1" fill="none" stroke="#000" stroke-width="2.75"/>
</g>
<g>
<path d="M368.5 1465.6h1.6M466.6 1502.8h1.6M443.5 1544.4h1.6M417.1 1429.1h1.6M444.9 1484.1h1.6M460.7 1507.3h1.6M442.9 1557.8h1.6M388.4 1575.1h1.6M352.5 1509.6h1.6M351.3 1508.6h1.6M451.2 1502.9h1.6M421 1571.9h1.6M447.7 1532.6h1.6M344.3 1507.7h1.6M346.6 1528.9h1.6M353 1541.3h1.6M444.1 1541.5h1.6M383.5 1566.9h1.6M444.5 1489.3h1.6M436.9 1446.7h1.6M346.7 1527.9h1.6M440.6 1556.8h1.6M356.5 1538h1.6M341 1497.1h1.6M351.2 1518.3h1.6M390.7 1579.3h1.6M389.8 1566.3h1.6M345.6 1521h1.6M352.5 1496.5h1.6M359.9 1460.7h1.6M444.4 1463.3h1.6M453.9 1506.3h1.6M446.6 1546.1h1.6M407.1 1576.5h1.6M457.5 1555.6h1.6M464.2 1543.4h1.6M390.8 1440.5h1.6M356.9 1481h1.6M357.7 1483.1h1.6M399.4 1455.3h1.6M417 1568.4h1.6M450.5 1538h1.6M352 1503.2h1.6M425.9 1566h1.6M353.6 1531.2h1.6M401.9 1582.9h1.6M395.6 1574.9h1.6M424.4 1571.7h1.6M410 1572h1.6M386 1577.1h1.6M409 1569.7h1.6M414.6 1573.6h1.6M340 1461h1.6M347 1521.6h1.6M433.9 1463.6h1.6M341.4 1541.4h1.6M396.9 1442.3h1.6M442.2 1551.8h1.6M396 1568.4h1.6M346.8 1553.1h1.6M439.2 1554.1h1.6M328.5 1558.8h1.6M392.9 1570.5h1.6M436 1554.3h1.6M408 1448.2h1.6M411.1 1580h1.6M465.9 1536.5h1.6M464.6 1515.6h1.6M441 1543.7h1.6M399.9 1438.4h1.6M450.6 1555.7h1.6M441.1 1556.5h1.6M460.9 1480.3h1.6M452.4 1512.7h1.6M419 1460.5h1.6M351 1480.4h1.6M347.8 1533h1.6M454.6 1495.6h1.6M355 1490h1.6M371.1 1556.4h1.6M365.7 1546.2h1.6M357.3 1559.2h1.6M371.8 1582.9h1.6M411.3 1430.4h1.6M403.6 1445.8h1.6M363.9 1470.4h1.6M436.9 1556.1h1.6M353 1541.4h1.6M453.5 1519.8h1.6M398.8 1451h1.6M351.4 1532.5h1.6M426.5 1560.5h1.6M438.5 1549.9h1.6M452.4 1458.7h1.6M388.8 1562.2h1.6M404.3 1581.7h1.6M363.8 1554.3h1.6M410.8 1434.1h1.6M371.3 1430.9h1.6M454 1560.5h1.6M363.6 1561.8h1.6M345 1529.5h1.6M340.8 1578.5h1.6M397.2 1420h1.6M377 1573.8h1.6M439.8 1544.4h1.6M383.5 1582.7h1.6M457.7 1520.9h1.6M463.3 1515.8h1.6M446.6 1511.6h1.6M397.6 1443.2h1.6M321.9 1506.1h1.6M442.5 1542.8h1.6M443.7 1502.2h1.6M356.5 1496.9h1.6M356.1 1545.4h1.6M393.9 1574.1h1.6M357 1499h1.6M450.3 1530.1h1.6M411.3 1445.1h1.6M349.5 1500h1.6M425.9 1448.4h1.6M452.5 1499.6h1.6M453 1496.6h1.6M437.1 1466.8h1.6M345.3 1546.5h1.6M348.8 1534.2h1.6M453.2 1515.3h1.6M360.4 1553.3h1.6M442.9 1484.6h1.6M440 1559.3h1.6M446 1479.9h1.6M461.9 1495.1h1.6M379.5 1558.5h1.6M373.3 1554.3h1.6M363.8 1572.2h1.6M358.8 1496.1h1.6M394.3 1451.1h1.6M351.2 1504.2h1.6M347.3 1471.4h1.6M387.3 1561.1h1.6M355.2 1507.6h1.6M420 1447.7h1.6M426.4 1581.5h1.6M347.9 1519.1h1.6M446.6 1547h1.6M448.3 1496.7h1.6M447.1 1554.1h1.6M357.8 1445.2h1.6M447.9 1514.9h1.6M374.7 1562.3h1.6M436.1 1464.2h1.6M446.4 1487.4h1.6M462.1 1529.7h1.6M349.5 1475.6h1.6M328.7 1444.4h1.6M372.5 1453.4h1.6M326.8 1468.2h1.6M368.3 1443.3h1.6M430 1464.9h1.6M458.5 1506.4h1.6M368.5 1457.6h1.6M376 1555.3h1.6M326.9 1478.2h1.6M356 1485.9h1.6M358.4 1569.1h1.6M456.9 1540.8h1.6M448.9 1520.2h1.6M430 1563h1.6M422.6 1449.6h1.6M387.6 1579.9h1.6M447.9 1480.4h1.6M417.9 1457.3h1.6M377.6 1567.4h1.6M423 1564.3h1.6M438.9 1560.8h1.6M460.9 1502.2h1.6M381.2 1459.2h1.6M392.8 1578.4h1.6M378.9 1448.7h1.6M371.3 1459.8h1.6M339 1533.3h1.6M455.1 1529.4h1.6M384.8 1563.8h1.6M409.6 1568.4h1.6M309.4 1506.4h1.6M415.3 1568.5h1.6M351.3 1514.8h1.6M362.1 1485.7h1.6M434.9 1562.3h1.6M433.1 1467h1.6M425.2 1565.6h1.6M352.7 1544.3h1.6M456.4 1552.7h1.6M447 1513.1h1.6M337.9 1558.8h1.6M431.6 1464.4h1.6M440.5 1544.9h1.6M427.5 1581.7h1.6M390.6 1456.4h1.6M408.3 1437.9h1.6M444.4 1469.5h1.6M389.1 1440.2h1.6M452.9 1476.3h1.6M314.4 1532.5h1.6M442 1537.3h1.6M344.4 1510.7h1.6M404.2 1578.1h1.6M420.7 1459.9h1.6M406.9 1451.2h1.6M377.6 1575.1h1.6M350.9 1524.8h1.6M441.3 1456.7h1.6M393.1 1582.4h1.6M446 1500.6h1.6M448.1 1540h1.6M461 1509.5h1.6M349.9 1491h1.6M394 1452.7h1.6M369.5 1553.7h1.6M351.7 1504.8h1.6M404.1 1575.9h1.6M385.7 1572.4h1.6M375.3 1573.7h1.6M360.9 1479.1h1.6M382.9 1560.3h1.6M389.3 1571.1h1.6M402.2 1576.7h1.6M365.1 1564.3h1.6M452.7 1531.9h1.6M360.4 1547.6h1.6M447.7 1495.2h1.6M440.3 1465.9h1.6M337.3 1522h1.6M349.4 1550.4h1.6M413.3 1567.3h1.6M321.8 1514.7h1.6M462.5 1539.5h1.6M316.5 1519h1.6M391.8 1442.6h1.6M442.9 1501.4h1.6M424.6 1452h1.6M380.6 1456.8h1.6M427.9 1460.1h1.6M335.9 1497h1.6M410.1 1435.3h1.6M430.6 1434h1.6M402.3 1447.6h1.6M397 1566.8h1.6M457.8 1560.6h1.6M364.8 1545.8h1.6M415.1 1440.3h1.6M466 1541.7h1.6M350.3 1555.2h1.6M374 1554.6h1.6M372.2 1555.5h1.6M444.5 1488.1h1.6M360.1 1544.4h1.6M350 1538.9h1.6M445.7 1578.1h1.6M380.4 1560.8h1.6M385.1 1568.8h1.6M427 1434.8h1.6M394.4 1566.4h1.6M458.8 1545.7h1.6M443.3 1477.9h1.6M461.6 1537.9h1.6M408 1456.6h1.6M339.2 1467.3h1.6M360.1 1474.9h1.6M390.2 1450.4h1.6M349.8 1518h1.6M413.1 1572.7h1.6M337.5 1555.4h1.6M444.2 1488.2h1.6M350.9 1498.9h1.6M434.2 1465.6h1.6M339 1528.3h1.6M374.4 1570.8h1.6M393.5 1575.9h1.6M417.8 1577.6h1.6M345.6 1570.6h1.6M418.1 1446.4h1.6M387.3 1569h1.6M385.2 1455.7h1.6M335.6 1491.3h1.6M366.3 1578.1h1.6M450.4 1516.8h1.6M410.1 1458.3h1.6M344.8 1460h1.6M447.7 1496.3h1.6M350.1 1503.1h1.6M448.4 1509.7h1.6M454 1477h1.6M361.4 1549.6h1.6M385.5 1450.2h1.6M439.6 1560h1.6M355 1503.2h1.6M346.1 1492.1h1.6M346.9 1501.9h1.6M456.5 1501h1.6M451 1549.2h1.6M363.2 1548.3h1.6M368.1 1552.4h1.6M394.7 1454.5h1.6M449.6 1543.7h1.6M365.4 1453.4h1.6M362.8 1553.6h1.6M365.9 1572.9h1.6M361.2 1557h1.6M412.1 1450.4h1.6M358.4 1498h1.6M336 1541.6h1.6M352.3 1517.1h1.6M443.8 1488h1.6M396.2 1571h1.6M415.1 1440.4h1.6M356.2 1485.1h1.6M383.1 1447.5h1.6M333.3 1551.3h1.6M452.3 1563.1h1.6M421 1567.3h1.6M436.6 1575.9h1.6M367 1574.9h1.6M387.7 1577.5h1.6M349.6 1571.5h1.6M394.9 1447.3h1.6M448 1500.6h1.6M385.8 1561.7h1.6M448.8 1537.6h1.6M355.2 1507.1h1.6M388.2 1455.7h1.6M382.2 1448h1.6M423.8 1455.3h1.6M420.9 1564.5h1.6M451.4 1531.8h1.6M463.6 1491h1.6M415.3 1447.2h1.6M353.4 1484h1.6M342.3 1485.9h1.6M364.7 1575.1h1.6M383.8 1460.6h1.6M354.8 1508.8h1.6M333.9 1489.9h1.6M402.5 1446.8h1.6M444.5 1543.9h1.6M435.3 1460.8h1.6M444 1496.1h1.6M430.7 1448.5h1.6M345.4 1535.8h1.6M431.4 1564.3h1.6M368.9 1446h1.6M329.3 1436.6h1.6M413 1573.6h1.6M454.5 1549h1.6M439.5 1455.4h1.6M355.1 1486h1.6M444.5 1548.8h1.6M362.8 1472.9h1.6M453.1 1495.5h1.6M359.7 1483.1h1.6M429.1 1559.7h1.6M463.5 1505h1.6M347.6 1501.7h1.6M389.8 1576.7h1.6M358.5 1480.5h1.6M430 1563.5h1.6M319.4 1558.4h1.6M454.8 1470h1.6M387.3 1564h1.6M446.9 1476.4h1.6M370 1458.3h1.6M446.7 1503.4h1.6M353.5 1476.4h1.6M394.7 1565.6h1.6M426.1 1459.4h1.6M409.2 1447.8h1.6M352.9 1545h1.6M430.2 1580.7h1.6M382.7 1577.8h1.6M446.7 1504.3h1.6M413 1455.8h1.6M367.8 1555.1h1.6M316.8 1506h1.6M358.4 1497.5h1.6M456.9 1460.4h1.6M331.2 1548.8h1.6M454 1499.8h1.6M354.6 1560.2h1.6M391.5 1568.1h1.6M422.1 1570.7h1.6M343.5 1471.3h1.6M417.3 1564.2h1.6M428.8 1457.3h1.6M356.5 1569.4h1.6M447.8 1493h1.6M385.9 1440.7h1.6M417.3 1573.8h1.6M395.4 1567.6h1.6M345.2 1532.3h1.6M364.7 1468.5h1.6M405.1 1452.1h1.6M427.9 1452.7h1.6M398.8 1435.8h1.6M379.6 1567.2h1.6M360.1 1541h1.6M373.7 1566.8h1.6M450.3 1521.9h1.6M384.8 1567.8h1.6M389.4 1564.6h1.6M348.1 1523.9h1.6M387.5 1437.5h1.6M454.8 1483.1h1.6M356 1496.9h1.6M414.7 1458.2h1.6M343.8 1464.9h1.6M381.4 1565h1.6M403.5 1568.9h1.6M341.9 1478h1.6M413.1 1571.8h1.6M352 1508.9h1.6M459.6 1511h1.6M352.9 1491.9h1.6M361.2 1473.6h1.6M379.4 1455.5h1.6M459 1565.4h1.6M352.4 1509.1h1.6M448.5 1511.1h1.6M396.6 1570.8h1.6M412.2 1453.8h1.6M404.8 1459.2h1.6M409.1 1574.1h1.6M337.3 1550.3h1.6M424.7 1572.5h1.6M447.4 1503.7h1.6M418 1563.1h1.6M352.2 1512.1h1.6M397.8 1571.2h1.6M428.1 1575.9h1.6M357.6 1499.3h1.6M444.5 1491.1h1.6M334.8 1547.5h1.6M424.3 1571.3h1.6M403.3 1582.9h1.6M351.9 1497.9h1.6M366.8 1577.1h1.6M424.4 1455.2h1.6M449.4 1538.8h1.6M371.1 1461.1h1.6M453.3 1507.6h1.6M421 1443.7h1.6M359.2 1540h1.6M434.1 1556.5h1.6M450.4 1536.2h1.6M427.5 1568.8h1.6M352 1553.1h1.6M332.9 1540.9h1.6M458.8 1498.9h1.6M350.7 1487.1h1.6M408.5 1573.3h1.6M447.3 1517.7h1.6M351.8 1572.4h1.6M371.1 1573h1.6M466.9 1521.3h1.6M351.7 1580h1.6M374.9 1574.9h1.6M344.5 1524h1.6M366.2 1551.7h1.6M347.7 1517.7h1.6M428.8 1462.1h1.6M398 1457.3h1.6M407.9 1430.1h1.6M434.2 1562h1.6M353.2 1497.5h1.6M366 1562.9h1.6M385.1 1560.7h1.6M359.4 1567.7h1.6M357.1 1499.7h1.6M414.9 1578.6h1.6M442.8 1492h1.6M355.9 1544.2h1.6M398.7 1451.4h1.6M443.4 1446.4h1.6M374.5 1445.7h1.6M334.7 1547.2h1.6M338 1464h1.6M350.4 1546.7h1.6M433.3 1563.9h1.6M340.1 1526.5h1.6M371 1457.2h1.6M366.8 1551.7h1.6M336.6 1544.8h1.6M360.6 1555.1h1.6M396.7 1455.5h1.6M463.8 1527.4h1.6M356.3 1550.7h1.6M349.5 1503.1h1.6M372.9 1455.1h1.6M448.6 1534.4h1.6M447.7 1527.8h1.6M392 1566.6h1.6M428 1567h1.6M361.6 1466.9h1.6M379.9 1568.3h1.6M435.3 1563.3h1.6M445.5 1500.9h1.6M444 1552h1.6M389.9 1578.1h1.6M354.2 1536.4h1.6M445.8 1555.3h1.6M398 1575.7h1.6M447.4 1504.5h1.6M373.4 1562h1.6M460.3 1486.4h1.6M412.1 1570.5h1.6M324.4 1516.1h1.6M451.8 1514.7h1.6M322.5 1543.2h1.6M446.4 1474.2h1.6M398.7 1454.8h1.6M445 1537.6h1.6M461.8 1547h1.6M360.7 1565.1h1.6M444.8 1491.8h1.6M352.5 1568.9h1.6M363.2 1438.2h1.6M446.9 1490.6h1.6M349.9 1518h1.6M442.4 1548.9h1.6M453.3 1476.4h1.6M399.7 1458.5h1.6M458.1 1455.8h1.6M385 1570.9h1.6M320.3 1531.6h1.6M351.7 1455h1.6M447.6 1537.4h1.6M452.2 1529.1h1.6M362.5 1555.8h1.6M375.2 1449.2h1.6M350.1 1494.5h1.6M344.7 1468h1.6M344 1549.2h1.6M443.7 1452.3h1.6M365.1 1552.3h1.6M351.4 1491.7h1.6M412.8 1571.9h1.6M442.9 1498.4h1.6M453.1 1469.1h1.6M398.1 1456.9h1.6M346.8 1508.3h1.6M425.4 1567.5h1.6M394.6 1442.8h1.6M447.1 1498.4h1.6M458 1475.3h1.6M378.6 1560h1.6M445.6 1550.1h1.6M418.8 1456.6h1.6M384.2 1562.4h1.6M406.1 1572.3h1.6M345.4 1507.5h1.6" stroke="#000" stroke-opacity="0.27" stroke-width="1.6" fill="none"/>
<path d="M351.6 1524.6L353.5 1512.4L360.9 1492.8L363.7 1476L367.5 1466.7L378.7 1461L389.9 1461L396.4 1457.3L404.8 1461L416 1461L423.5 1460.1L431 1466.7L440.3 1472.3L444.1 1479.7L440.3 1487.2L441.3 1498.4L445.9 1511.5L447.8 1524.6L442.2 1535.8L438.5 1547L432.9 1559.1L423.5 1557.3L416 1563.8L404.8 1569.4L393.6 1564.7L382.4 1558.2L371.2 1552.6L363.7 1543.3L356.3 1535.8Z" fill="#fff"/>
<path d="M393.2 1508.6h9v9h-9z" fill="#373737"/><path d="M393.2 1525.9h9v9h-9z" fill="#383838"/><path d="M393.2 1517.3h9v9h-9z" fill="#3f3f3f"/><path d="M384.5 1525.9h9v9h-9z" fill="#555555"/><path d="M401.9 1517.3h9v9h-9z" fill="#6a6a6a"/><path d="M384.5 1508.6h9v9h-9z" fill="#6f6f6f"/><path d="M401.9 1525.9h9v9h-9z" fill="#757575"/><path d="M401.9 1508.6h9v9h-9z" fill="#797979"/><path d="M401.9 1500h9v9h-9z" fill="#828282"/><path d="M384.5 1517.3h9v9h-9z" fill="#878787"/><path d="M393.2 1534.6h9v9h-9z" fill="#888888"/><path d="M384.5 1534.6h9v9h-9zM401.9 1534.6h9v9h-9z" fill="#8b8b8b"/><path d="M393.2 1500h9v9h-9z" fill="#8c8c8c"/><path d="M401.9 1474h9v9h-9zM410.5 1525.9h9v9h-9z" fill="#919191"/><path d="M375.8 1517.3h9v9h-9z" fill="#929292"/><path d="M393.2 1474h9v9h-9z" fill="#949494"/><path d="M384.5 1500h9v9h-9z" fill="#959595"/><path d="M410.5 1517.3h9v9h-9z" fill="#969696"/><path d="M375.8 1508.6h9v9h-9z" fill="#9f9f9f"/><path d="M410.5 1500h9v9h-9z" fill="#a5a5a5"/><path d="M410.5 1508.6h9v9h-9z" fill="#a7a7a7"/><path d="M375.8 1525.9h9v9h-9z" fill="#a9a9a9"/><path d="M401.9 1491.3h9v9h-9z" fill="#b2b2b2"/><path d="M393.2 1543.2h9v9h-9z" fill="#b3b3b3"/><path d="M393.2 1491.3h9v9h-9z" fill="#b7b7b7"/><path d="M384.5 1474h9v9h-9z" fill="#b8b8b8"/><path d="M375.8 1534.6h9v9h-9z" fill="#bbbbbb"/><path d="M410.5 1534.6h9v9h-9z" fill="#bcbcbc"/><path d="M393.2 1482.6h9v9h-9z" fill="#bebebe"/><path d="M401.9 1543.2h9v9h-9z" fill="#c0c0c0"/><path d="M375.8 1474h9v9h-9zM384.5 1482.6h9v9h-9z" fill="#c4c4c4"/><path d="M410.5 1491.3h9v9h-9z" fill="#c6c6c6"/><path d="M375.8 1500h9v9h-9zM401.9 1482.6h9v9h-9z" fill="#c8c8c8"/><path d="M410.5 1482.6h9v9h-9z" fill="#cbcbcb"/><path d="M367.1 1500h9v9h-9z" fill="#cecece"/><path d="M419.2 1517.3h9v9h-9z" fill="#cfcfcf"/><path d="M367.1 1525.9h9v9h-9zM410.5 1474h9v9h-9z" fill="#d0d0d0"/><path d="M375.8 1491.3h9v9h-9zM384.5 1491.3h9v9h-9zM419.2 1474h9v9h-9z" fill="#d2d2d2"/><path d="M367.1 1508.6h9v9h-9zM419.2 1525.9h9v9h-9z" fill="#d3d3d3"/><path d="M367.1 1517.3h9v9h-9z" fill="#dadada"/><path d="M410.5 1543.2h9v9h-9z" fill="#dbdbdb"/><path d="M384.5 1543.2h9v9h-9z" fill="#dcdcdc"/><path d="M384.5 1465.3h9v9h-9z" fill="#dedede"/><path d="M401.9 1465.3h9v9h-9z" fill="#dfdfdf"/><path d="M375.8 1465.3h9v9h-9zM393.2 1465.3h9v9h-9z" fill="#e1e1e1"/><path d="M419.2 1500h9v9h-9z" fill="#e2e2e2"/><path d="M410.5 1465.3h9v9h-9z" fill="#e3e3e3"/><path d="M375.8 1482.6h9v9h-9zM427.9 1534.6h9v9h-9z" fill="#e4e4e4"/><path d="M358.5 1500h9v9h-9zM410.5 1551.9h9v9h-9z" fill="#e5e5e5"/><path d="M384.5 1551.9h9v9h-9zM419.2 1508.6h9v9h-9zM427.9 1508.6h9v9h-9z" fill="#e6e6e6"/><path d="M393.2 1456.7h9v9h-9z" fill="#e7e7e7"/><path d="M367.1 1543.2h9v9h-9z" fill="#e8e8e8"/><path d="M358.5 1482.6h9v9h-9zM367.1 1482.6h9v9h-9zM427.9 1491.3h9v9h-9zM427.9 1517.3h9v9h-9z" fill="#e9e9e9"/><path d="M419.2 1482.6h9v9h-9zM419.2 1543.2h9v9h-9zM427.9 1500h9v9h-9zM427.9 1525.9h9v9h-9z" fill="#eaeaea"/><path d="M436.6 1500h9v9h-9z" fill="#ebebeb"/><path d="M367.1 1465.3h9v9h-9zM367.1 1474h9v9h-9zM393.2 1560.5h9v9h-9z" fill="#ececec"/><path d="M419.2 1465.3h9v9h-9zM427.9 1465.3h9v9h-9z" fill="#ededed"/><path d="M367.1 1534.6h9v9h-9zM427.9 1482.6h9v9h-9z" fill="#eeeeee"/><path d="M367.1 1491.3h9v9h-9zM419.2 1491.3h9v9h-9zM427.9 1543.2h9v9h-9zM436.6 1517.3h9v9h-9z" fill="#efefef"/><path d="M358.5 1508.6h9v9h-9zM375.8 1543.2h9v9h-9zM393.2 1551.9h9v9h-9zM401.9 1551.9h9v9h-9zM419.2 1534.6h9v9h-9zM436.6 1508.6h9v9h-9z" fill="#f1f1f1"/><path d="M349.8 1517.3h9v9h-9zM358.5 1534.6h9v9h-9z" fill="#f3f3f3"/><path d="M349.8 1508.6h9v9h-9zM349.8 1525.9h9v9h-9zM375.8 1551.9h9v9h-9zM419.2 1456.7h9v9h-9zM427.9 1551.9h9v9h-9zM436.6 1491.3h9v9h-9zM436.6 1534.6h9v9h-9z" fill="#f5f5f5"/><path d="M358.5 1517.3h9v9h-9zM358.5 1525.9h9v9h-9z" fill="#f6f6f6"/><path d="M384.5 1456.7h9v9h-9zM401.9 1456.7h9v9h-9zM401.9 1560.5h9v9h-9zM410.5 1456.7h9v9h-9zM410.5 1560.5h9v9h-9zM427.9 1474h9v9h-9zM436.6 1474h9v9h-9zM436.6 1482.6h9v9h-9z" fill="#f7f7f7"/><path d="M358.5 1491.3h9v9h-9z" fill="#f8f8f8"/><path d="M358.5 1474h9v9h-9zM375.8 1456.7h9v9h-9zM436.6 1525.9h9v9h-9zM445.2 1517.3h9v9h-9z" fill="#f9f9f9"/><path d="M419.2 1551.9h9v9h-9z" fill="#fafafa"/><path d="M349.8 1500h9v9h-9zM436.6 1543.2h9v9h-9z" fill="#fbfbfb"/><path d="M349.8 1534.6h9v9h-9zM358.5 1465.3h9v9h-9zM358.5 1543.2h9v9h-9zM367.1 1456.7h9v9h-9zM367.1 1551.9h9v9h-9zM384.5 1560.5h9v9h-9zM436.6 1465.3h9v9h-9z" fill="#fdfdfd"/>

<path d="M370.6 1586.5V1413.4" stroke="#000" stroke-width="2.9" stroke-dasharray="10.6 5.1" fill="none"/>
<path d="M414.5 1586.5V1413.4" stroke="#000" stroke-width="2.9" stroke-dasharray="10.6 5.1" fill="none"/>
<path d="M297.8 1495.2H471.2" stroke="#000" stroke-width="2.9" stroke-dasharray="10.6 5.1" fill="none"/>
<path d="M297.8 1555H471.2" stroke="#000" stroke-width="2.9" stroke-dasharray="10.6 5.1" fill="none"/>
<path d="M351.6 1524.6L353.5 1512.4L360.9 1492.8L363.7 1476L367.5 1466.7L378.7 1461L389.9 1461L396.4 1457.3L404.8 1461L416 1461L423.5 1460.1L431 1466.7L440.3 1472.3L444.1 1479.7L440.3 1487.2L441.3 1498.4L445.9 1511.5L447.8 1524.6L442.2 1535.8L438.5 1547L432.9 1559.1L423.5 1557.3L416 1563.8L404.8 1569.4L393.6 1564.7L382.4 1558.2L371.2 1552.6L363.7 1543.3L356.3 1535.8Z" stroke="#000" stroke-width="3.1" fill="none" stroke-linejoin="round"/>
<path d="M374.9 1476L378.7 1469.5L389.9 1470.4L404.8 1469.5L416 1472.3L426.3 1477.9L421.6 1487.2L419.8 1498.4L423.5 1502.1L419.8 1513.4L427.3 1526.4L419.8 1535.8L414.2 1547L404.8 1552.6L393.6 1549.8L382.4 1547L373.1 1535.8L367.5 1530.2L371.2 1519L369.3 1509.6L374.9 1494.7L382.4 1485.3Z" stroke="#000" stroke-width="3.1" fill="none" stroke-linejoin="round"/>
<path d="M376.8 1517.1L380.5 1509.6L389.9 1500.3L397.4 1494.7L408.6 1498.4L417.9 1505.9L414.2 1517.1L419.8 1526.4L412.3 1537.6L404.8 1547.9L393.6 1545.1L384.3 1541.4L378.7 1532Z" stroke="#000" stroke-width="3.1" fill="none" stroke-linejoin="round"/>
<path d="M384.3 1477.9L403 1472.3L412.3 1476.9L404.8 1485.3Z" stroke="#000" stroke-width="3.1" fill="none" stroke-linejoin="round"/>
<path d="M390.8 1510.6L399.2 1507.8L408.6 1517.1L401.1 1524.6L406.7 1526.4L399.2 1535.8L389.9 1533.9L386.1 1528.3L392.7 1522.7Z" stroke="#000" stroke-width="3.1" fill="none" stroke-linejoin="round"/>
<path d="M313.3 1586.5v-7M313.3 1413.4v7M330.4 1586.5v-7M330.4 1413.4v7M347.6 1586.5v-7M347.6 1413.4v7M364.7 1586.5v-14.3M364.7 1413.4v14.3M381.8 1586.5v-7M381.8 1413.4v7M398.9 1586.5v-7M398.9 1413.4v7M416.1 1586.5v-7M416.1 1413.4v7M433.2 1586.5v-14.3M433.2 1413.4v14.3M450.3 1586.5v-7M450.3 1413.4v7M467.4 1586.5v-7M467.4 1413.4v7M297.8 1420.4h7M471.2 1420.4h-7M297.8 1432.6h14.3M471.2 1432.6h-14.3M297.8 1444.8h7M471.2 1444.8h-7M297.8 1457h7M471.2 1457h-7M297.8 1469.1h7M471.2 1469.1h-7M297.8 1481.3h7M471.2 1481.3h-7M297.8 1493.5h14.3M471.2 1493.5h-14.3M297.8 1505.7h7M471.2 1505.7h-7M297.8 1517.9h7M471.2 1517.9h-7M297.8 1530h7M471.2 1530h-7M297.8 1542.2h7M471.2 1542.2h-7M297.8 1554.4h14.3M471.2 1554.4h-14.3M297.8 1566.6h7M471.2 1566.6h-7M297.8 1578.8h7M471.2 1578.8h-7" stroke="#000" stroke-width="2.4" fill="none"/>
<path d="M397 1413.4V1586.5" stroke="#db2224" stroke-width="4.3" fill="none"/>
<path d="M297.8 1520.8H471.2" stroke="#db2224" stroke-width="4.3" fill="none"/>
<rect x="297.8" y="1413.4" width="173.5" height="173.1" fill="none" stroke="#000" stroke-width="2.75"/>
</g>
<g>
<path d="M258.5 1666.6h1.6M261 1652.2h1.6M208.1 1638.6h1.6M173.4 1669.6h1.6M230.5 1641h1.6M235.1 1756.1h1.6M286.1 1653.1h1.6M259.2 1713.8h1.6M247 1739.7h1.6M233.3 1742.6h1.6M179.1 1696h1.6M188 1715.2h1.6M233.1 1632.9h1.6M172.1 1660.5h1.6M259 1713.1h1.6M190.1 1728.7h1.6M278.4 1697.4h1.6M250.3 1734.1h1.6M270.4 1667.7h1.6M221.9 1737h1.6M169.5 1658.8h1.6M173.6 1610.9h1.6M239.3 1744h1.6M278 1754.5h1.6M269.7 1651h1.6M205.9 1736.3h1.6M161.2 1711.7h1.6M261.9 1670.3h1.6M238.7 1642.1h1.6M213.5 1739.9h1.6M186.7 1734.8h1.6M181.1 1702.2h1.6M246.8 1733.3h1.6M164.7 1661.9h1.6M215 1729.4h1.6M164.5 1678.9h1.6M224 1738.2h1.6M240.7 1735.4h1.6M191.8 1728.4h1.6M186.6 1740.5h1.6M145.1 1694.6h1.6M180.6 1641.9h1.6M216.6 1731.2h1.6M222.4 1734.2h1.6M260.6 1671.7h1.6M163.2 1702.3h1.6M192.2 1731.4h1.6M258.8 1648.5h1.6M272.5 1672.3h1.6M254.1 1755.6h1.6M277.3 1699.4h1.6M219.4 1636.2h1.6M181.1 1715.7h1.6M232.6 1628.6h1.6M201.1 1745.9h1.6M188.4 1725.4h1.6M253.3 1632.8h1.6M155.7 1734.9h1.6M273.4 1668.6h1.6M214.4 1631.7h1.6M226.9 1734.7h1.6M268.9 1708.5h1.6M210.8 1737h1.6M255.9 1735.9h1.6M247.1 1754.6h1.6M256.8 1651.7h1.6M179.4 1631h1.6M236.9 1637.3h1.6M180.2 1713.2h1.6M222.7 1760.9h1.6M170.9 1644.8h1.6M269.9 1705.6h1.6M200.6 1737.8h1.6M272.7 1678.3h1.6M191.6 1616.2h1.6M253.6 1633.6h1.6M256.7 1739.5h1.6M221.6 1740.7h1.6M261.1 1671.6h1.6M277.8 1713.7h1.6M126.7 1714.6h1.6M208.7 1728.8h1.6M188.9 1713.4h1.6M176.5 1696.9h1.6M205.6 1627.8h1.6M216.8 1736.8h1.6M275 1700.6h1.6M219.2 1626.4h1.6M156.9 1702.2h1.6M156.2 1700.5h1.6M150.4 1671.6h1.6M185.4 1728.7h1.6M256.5 1726.8h1.6M237.3 1602.2h1.6M183.1 1628.5h1.6M233.4 1611.5h1.6M167.1 1682.2h1.6M283.2 1691.9h1.6M245 1641.8h1.6M179.1 1702.7h1.6M177.8 1647.4h1.6M236.9 1642.1h1.6M191.2 1714.5h1.6M197.1 1731.6h1.6M260 1718.6h1.6M165.9 1714h1.6M233.5 1618.9h1.6M211.6 1753.5h1.6M245 1634.2h1.6M154.6 1700.8h1.6M220.9 1636.8h1.6M233.1 1738.5h1.6M183.8 1647h1.6M217.5 1745.1h1.6M179.1 1722.4h1.6M266.8 1705.5h1.6M274.3 1668.8h1.6M194.2 1725.9h1.6M239.4 1741.6h1.6M217.6 1636.7h1.6M273.4 1690.3h1.6M177.3 1681.5h1.6M267.3 1747.3h1.6M266.5 1681.8h1.6M176 1648.3h1.6M261 1650.5h1.6M223.6 1745.6h1.6M157 1651h1.6M160.6 1703.2h1.6M219.1 1637.4h1.6M206.8 1619.5h1.6M165.3 1730.5h1.6M195.3 1725.3h1.6M171.5 1731.2h1.6M159.4 1657.7h1.6M285.2 1672.1h1.6M225.9 1742h1.6M215.1 1740.4h1.6M187.6 1736.3h1.6M188.1 1639.4h1.6M203.7 1636.3h1.6M176.1 1641.7h1.6M176.6 1716.8h1.6M265.7 1725.6h1.6M246.3 1750.1h1.6M191.5 1732.6h1.6M180.9 1742.3h1.6M191.2 1722.9h1.6M190 1744.2h1.6M267.1 1688.3h1.6M231.8 1733.7h1.6M280.3 1697h1.6M213.5 1616.2h1.6M205.9 1727.7h1.6M176.1 1702.6h1.6M244.1 1640.5h1.6M220.8 1733.2h1.6M172.4 1669.7h1.6M180.6 1720.9h1.6M230.7 1629.7h1.6M253.5 1649.2h1.6M262.5 1719.4h1.6M187.9 1717.4h1.6M262.6 1667h1.6M256.7 1643.8h1.6M260.9 1717.4h1.6M164.3 1633h1.6M174.9 1648.7h1.6M265.4 1704h1.6M202.7 1633.4h1.6M202.6 1748.1h1.6M274.1 1675.5h1.6M172.2 1702.1h1.6M172.7 1638.3h1.6M184.1 1704.4h1.6M261.8 1667.3h1.6M249.8 1732h1.6M177.5 1645.3h1.6M241.7 1740.1h1.6M168.1 1697.2h1.6M225.7 1733.6h1.6M197.5 1723.4h1.6M243.5 1735.2h1.6M176.7 1711.6h1.6M239.3 1629.4h1.6M171.7 1673.8h1.6M221.7 1736h1.6M233.1 1636.3h1.6M179.9 1629.9h1.6M240.6 1641.1h1.6M147.7 1685.3h1.6M209.3 1749.5h1.6M224.6 1736.1h1.6M252 1731.5h1.6M144.6 1660.6h1.6M209.1 1728.3h1.6M174.4 1679.3h1.6M262.8 1666.8h1.6M236.2 1735h1.6M175.7 1761.8h1.6M265.4 1706h1.6M266.8 1713.8h1.6M262.7 1653.1h1.6M172.6 1668.9h1.6M159.4 1654.6h1.6M253.7 1726.8h1.6M198.7 1741.6h1.6M201.2 1732.5h1.6M191.8 1725.1h1.6M262.8 1725.3h1.6M210.6 1634h1.6M282.3 1702.7h1.6M171.3 1673.8h1.6M224.9 1734.9h1.6M161.8 1667.1h1.6M260.9 1643.9h1.6M180.5 1701.8h1.6M264.6 1709.1h1.6M161.9 1675.4h1.6M199.1 1618.3h1.6M181.6 1735.9h1.6M178 1736.1h1.6M226.4 1626.4h1.6M212.2 1624.3h1.6M175.3 1642.4h1.6M215.6 1619.3h1.6M182.2 1645.8h1.6M187.5 1735.3h1.6M177.6 1703.8h1.6M208.1 1640.8h1.6M184.3 1641.4h1.6M185.2 1711.1h1.6M237.8 1639.2h1.6M185 1717.1h1.6M169.3 1701.5h1.6M168.8 1692.7h1.6M173.5 1700.8h1.6M202.8 1637.9h1.6M170.5 1655.7h1.6M176.1 1726h1.6M261.1 1716.7h1.6M165.2 1736.1h1.6M241.9 1745.4h1.6M216.1 1741.6h1.6M183.4 1717.5h1.6M267.8 1685.7h1.6M199 1727h1.6M187.4 1720.1h1.6M178.3 1651h1.6M177.7 1702.7h1.6M226.4 1734.4h1.6M142.4 1697.5h1.6M274.9 1701.3h1.6M186.8 1638h1.6M207.3 1727.9h1.6M172.7 1703.7h1.6M175.5 1653.8h1.6M174 1712.3h1.6M172.9 1749.3h1.6M261 1666.9h1.6M204.5 1638.5h1.6M275.8 1665.8h1.6M270.9 1674.3h1.6M237.7 1633.9h1.6M265.2 1657.2h1.6M258.5 1648.4h1.6M179 1703.4h1.6M189.8 1724.1h1.6M253.2 1732.1h1.6M263.2 1675.5h1.6M276.1 1718.9h1.6M253 1650.2h1.6M162 1657.6h1.6M274.5 1692.1h1.6M265.1 1736.7h1.6M147.6 1663.8h1.6M280.3 1686.3h1.6M148.7 1717.2h1.6M147 1678.6h1.6M175.2 1741.2h1.6M165.7 1677.1h1.6M251.1 1750.3h1.6M244.9 1733.6h1.6M205.3 1615.4h1.6M271.7 1698h1.6M267.4 1668.1h1.6M182 1703.3h1.6M206.2 1724.6h1.6M159.8 1710.5h1.6M200.5 1731.2h1.6M170.5 1711.6h1.6M151.2 1666.8h1.6M196.1 1739.6h1.6M240.6 1641.8h1.6M266.6 1672.8h1.6M230.1 1635.9h1.6M180.4 1710.9h1.6M148.4 1682.9h1.6M257.8 1724.7h1.6M258.2 1636.6h1.6M182 1705.8h1.6M262 1721.4h1.6M164 1722.3h1.6M186.3 1734.6h1.6M183.8 1644.2h1.6M265.4 1631.6h1.6M159.3 1724.5h1.6M192.9 1634.7h1.6M204 1628.3h1.6M243.2 1759.4h1.6M271.5 1697.8h1.6M193.4 1738.4h1.6M180.6 1725.5h1.6M247.6 1638.4h1.6M179 1708.4h1.6M167.6 1647.7h1.6M194.4 1626h1.6M282.2 1730.7h1.6M195.7 1742.4h1.6M275.7 1722.5h1.6M251 1641.4h1.6M262.3 1668.3h1.6M143 1700.6h1.6M233.1 1628.3h1.6M161.3 1706.7h1.6M281.9 1634.2h1.6M280.6 1666h1.6M163.8 1687.3h1.6M258.7 1663h1.6M195.7 1728.3h1.6M267.4 1703.2h1.6M209.3 1756.2h1.6M165.7 1705.9h1.6M157.8 1636.2h1.6M167.7 1703.8h1.6M237.6 1638.5h1.6M166.7 1692.8h1.6M202.7 1744h1.6M247.4 1630.8h1.6M215.9 1757.4h1.6M240.9 1755.8h1.6M225.7 1633.1h1.6M269.5 1650.6h1.6M222.4 1621.9h1.6M271.7 1682.4h1.6M208.1 1634.6h1.6M170 1620.2h1.6M233 1741.8h1.6M269.6 1714.5h1.6M269.8 1721.8h1.6M165.9 1699.1h1.6M183.4 1712.8h1.6M265.8 1706.2h1.6M170.1 1695.7h1.6M229.2 1747.9h1.6M261.4 1672.3h1.6M228.5 1613.5h1.6M262.8 1724.5h1.6M179.1 1699h1.6M270 1674.9h1.6M189.7 1727.7h1.6M174.9 1677.8h1.6M188.7 1715h1.6M268.5 1640.4h1.6M250.8 1641.8h1.6M168 1652.1h1.6M143.1 1699.6h1.6M180.4 1722.9h1.6M168.4 1657.5h1.6M196.1 1626.5h1.6M177.6 1727.3h1.6M250.6 1635.6h1.6M263.1 1640.9h1.6M199.9 1725.9h1.6M242.5 1627.3h1.6M263.3 1668.8h1.6M156.6 1666.8h1.6M189.7 1729.1h1.6M172.2 1674.4h1.6M185.6 1743.6h1.6M280.4 1653.6h1.6M171.8 1709.5h1.6M281.4 1696.7h1.6M264.8 1738.9h1.6M168 1671.1h1.6M243.7 1633.6h1.6M275.7 1661.4h1.6M164.2 1714h1.6M239.7 1739.5h1.6M200.1 1742.6h1.6M270.6 1689.6h1.6M195 1729h1.6M264.7 1665.9h1.6M264.1 1706.8h1.6M231.6 1638.2h1.6M190.5 1724.5h1.6M202.7 1726.6h1.6M167.2 1685.4h1.6M282.5 1665.7h1.6M199.6 1726.4h1.6M243.8 1762.3h1.6M169.2 1755.8h1.6M243.7 1640.5h1.6M168.5 1671.2h1.6M256.4 1643.7h1.6M169.2 1644.8h1.6M177.6 1738.6h1.6M161.8 1700.2h1.6M196.3 1740.3h1.6M174.8 1650.8h1.6M251.9 1647.9h1.6M185.9 1733.2h1.6M267.9 1679.4h1.6M167 1676.6h1.6M269.1 1672.9h1.6M271 1653.6h1.6M255.4 1630.9h1.6M163.5 1706.1h1.6M218.1 1758.6h1.6M267.7 1651.5h1.6M159.8 1674.8h1.6M268.4 1698h1.6M228.4 1741.7h1.6M191.6 1729.8h1.6M241.3 1634.3h1.6M249.5 1642.4h1.6M225.3 1743.9h1.6M172.6 1679.2h1.6M167 1676.6h1.6M248.5 1644.6h1.6M276.7 1670.9h1.6M177.7 1678.8h1.6M268.3 1677.4h1.6M181.9 1720.9h1.6M281.6 1721.2h1.6M232 1742.9h1.6M212 1731.5h1.6M189.5 1728.5h1.6M219 1734h1.6M245.2 1643h1.6M259.2 1650.5h1.6M227.7 1745.1h1.6M283.7 1693.7h1.6M257.4 1657.2h1.6M155.5 1679.6h1.6M285.3 1691.4h1.6M194.4 1726.8h1.6M156.9 1708.3h1.6M199.5 1736.1h1.6M243 1636.9h1.6M202.6 1724.5h1.6M266.7 1673.8h1.6M172.3 1645.1h1.6M171.2 1676.9h1.6M264.2 1707.3h1.6M253.3 1639.1h1.6M210 1726.8h1.6M269.4 1651.5h1.6M245.7 1736.5h1.6M195.1 1626.8h1.6M271 1704.4h1.6M188.4 1628.5h1.6M211.2 1731h1.6M174.5 1696.6h1.6M201.5 1745.6h1.6M215.1 1732h1.6M164.5 1673.7h1.6M189.8 1734h1.6M181.9 1720.4h1.6M271.1 1724.2h1.6M191 1633.7h1.6M145.3 1694.3h1.6M171.9 1689.5h1.6M268.2 1751.9h1.6M275.1 1704.1h1.6M186.4 1636.9h1.6M251.3 1742.2h1.6M174.3 1691.5h1.6M203 1723.8h1.6M276.1 1714.6h1.6M182.6 1639.1h1.6M277.4 1650.2h1.6M251.9 1636.3h1.6M154.3 1704.5h1.6M193.8 1729.1h1.6M278.5 1707.7h1.6M271 1679.5h1.6M176.8 1680.1h1.6M226.5 1626.2h1.6M272.9 1659.9h1.6M172.7 1670.3h1.6M269.7 1705.1h1.6M273.6 1712.5h1.6M188.6 1714h1.6M193.5 1631.6h1.6M262.4 1663.7h1.6M278.3 1704.3h1.6M218.9 1734.6h1.6M264.5 1652.9h1.6M152.8 1710.8h1.6M158.6 1716.6h1.6M248.2 1726.9h1.6M205.3 1612h1.6M211.9 1614.5h1.6M185.8 1741.7h1.6M237.6 1743.1h1.6M262.1 1673.4h1.6M193.4 1738.9h1.6M198.8 1636.6h1.6M191.1 1756.7h1.6M267.9 1670.3h1.6M209.3 1761.4h1.6M225.9 1630.2h1.6M280.2 1662.7h1.6M200.5 1743.1h1.6M285.5 1680.4h1.6M252.7 1634.7h1.6M246.8 1643h1.6M261.3 1665.6h1.6M186.4 1716.1h1.6M268.1 1695.2h1.6M267.7 1693.9h1.6M264.5 1707h1.6M264.6 1727h1.6M195.8 1724h1.6M235.1 1639.3h1.6M181.6 1710.3h1.6M235.5 1747.4h1.6M283.3 1717.4h1.6M186 1724.3h1.6M188 1714.5h1.6M259.9 1665.6h1.6M217.2 1626.1h1.6M181 1645.6h1.6M215.6 1742.6h1.6M261.2 1732.2h1.6M177.9 1720.9h1.6M242.5 1640.6h1.6M152.2 1706.1h1.6M185.4 1731.8h1.6M164.1 1714.4h1.6M219.2 1757.5h1.6M153.5 1620.1h1.6M237.9 1616.2h1.6M265.7 1707.9h1.6M226.5 1737.6h1.6M186.5 1711.8h1.6M157.5 1601.5h1.6M140.3 1704.9h1.6M205.1 1736.1h1.6M257.8 1725.3h1.6M221.9 1737.6h1.6M217.2 1630.6h1.6M259.9 1606.1h1.6M205.8 1736.3h1.6M261 1648.7h1.6M234.7 1632.9h1.6M224.8 1734.9h1.6M271 1674h1.6M189.2 1712.5h1.6" stroke="#000" stroke-opacity="0.27" stroke-width="1.6" fill="none"/>
<path d="M170.6 1666.3L173.4 1657L184.6 1647.7L188.3 1640.2L197.7 1637.9L207 1641.1L216.4 1638.3L223.8 1636.4L233.2 1643L242.5 1642L251.9 1648.6L255.6 1658.9L259.3 1670.1L266.8 1683.1L267.7 1698.1L261.2 1705.6L257.5 1714.9L261.2 1720.5L248.1 1726.1L241.6 1735.5L231.3 1733.6L220.1 1731.7L208.9 1726.1L197.7 1718.6L190.2 1713L182.7 1701.8L175.3 1689.7L179 1675.7Z" fill="#fff"/>
<path d="M212 1680.9h9v8.9h-9z" fill="#3c3c3c"/><path d="M220.7 1680.9h9v8.9h-9z" fill="#464646"/><path d="M203.3 1680.9h9v8.9h-9z" fill="#7a7a7a"/><path d="M203.3 1689.6h9v8.9h-9z" fill="#8e8e8e"/><path d="M229.4 1689.6h9v8.9h-9z" fill="#959595"/><path d="M212 1672.3h9v8.9h-9zM212 1689.6h9v8.9h-9z" fill="#969696"/><path d="M203.3 1663.7h9v8.9h-9zM229.4 1672.3h9v8.9h-9z" fill="#979797"/><path d="M220.7 1689.6h9v8.9h-9z" fill="#999999"/><path d="M220.7 1672.3h9v8.9h-9z" fill="#9a9a9a"/><path d="M203.3 1672.3h9v8.9h-9z" fill="#9c9c9c"/><path d="M212 1663.7h9v8.9h-9zM229.4 1680.9h9v8.9h-9z" fill="#9f9f9f"/><path d="M194.7 1689.6h9v8.9h-9zM220.7 1663.7h9v8.9h-9z" fill="#a3a3a3"/><path d="M220.7 1698.2h9v8.9h-9z" fill="#aaaaaa"/><path d="M212 1655.1h9v8.9h-9z" fill="#ababab"/><path d="M203.3 1698.2h9v8.9h-9zM220.7 1655.1h9v8.9h-9z" fill="#adadad"/><path d="M238.1 1689.6h9v8.9h-9z" fill="#b1b1b1"/><path d="M194.7 1680.9h9v8.9h-9z" fill="#b5b5b5"/><path d="M229.4 1663.7h9v8.9h-9z" fill="#bababa"/><path d="M194.7 1672.3h9v8.9h-9z" fill="#bdbdbd"/><path d="M238.1 1680.9h9v8.9h-9z" fill="#bebebe"/><path d="M194.7 1698.2h9v8.9h-9zM229.4 1698.2h9v8.9h-9z" fill="#c2c2c2"/><path d="M203.3 1655.1h9v8.9h-9z" fill="#c4c4c4"/><path d="M229.4 1655.1h9v8.9h-9zM246.7 1689.6h9v8.9h-9z" fill="#c5c5c5"/><path d="M212 1698.2h9v8.9h-9z" fill="#c7c7c7"/><path d="M246.7 1680.9h9v8.9h-9z" fill="#c8c8c8"/><path d="M194.7 1655.1h9v8.9h-9z" fill="#c9c9c9"/><path d="M220.7 1706.8h9v8.9h-9z" fill="#cbcbcb"/><path d="M229.4 1706.8h9v8.9h-9zM238.1 1672.3h9v8.9h-9z" fill="#cdcdcd"/><path d="M212 1706.8h9v8.9h-9z" fill="#d0d0d0"/><path d="M212 1646.5h9v8.9h-9z" fill="#d1d1d1"/><path d="M238.1 1698.2h9v8.9h-9zM246.7 1672.3h9v8.9h-9z" fill="#d2d2d2"/><path d="M186 1655.1h9v8.9h-9zM194.7 1663.7h9v8.9h-9zM238.1 1663.7h9v8.9h-9z" fill="#d3d3d3"/><path d="M194.7 1646.5h9v8.9h-9z" fill="#d4d4d4"/><path d="M186 1680.9h9v8.9h-9z" fill="#d5d5d5"/><path d="M238.1 1706.8h9v8.9h-9z" fill="#d7d7d7"/><path d="M186 1698.2h9v8.9h-9zM246.7 1698.2h9v8.9h-9z" fill="#d9d9d9"/><path d="M186 1663.7h9v8.9h-9zM186 1672.3h9v8.9h-9z" fill="#dbdbdb"/><path d="M229.4 1715.4h9v8.9h-9z" fill="#dcdcdc"/><path d="M203.3 1646.5h9v8.9h-9z" fill="#dddddd"/><path d="M186 1689.6h9v8.9h-9z" fill="#dedede"/><path d="M220.7 1646.5h9v8.9h-9zM229.4 1646.5h9v8.9h-9z" fill="#e0e0e0"/><path d="M220.7 1715.4h9v8.9h-9z" fill="#e1e1e1"/><path d="M203.3 1706.8h9v8.9h-9z" fill="#e3e3e3"/><path d="M255.4 1689.6h9v8.9h-9z" fill="#e4e4e4"/><path d="M238.1 1724h9v8.9h-9zM255.4 1680.9h9v8.9h-9z" fill="#e5e5e5"/><path d="M246.7 1715.4h9v8.9h-9z" fill="#e7e7e7"/><path d="M238.1 1655.1h9v8.9h-9z" fill="#e8e8e8"/><path d="M186 1706.8h9v8.9h-9zM246.7 1663.7h9v8.9h-9zM255.4 1672.3h9v8.9h-9z" fill="#eaeaea"/><path d="M203.3 1637.9h9v8.9h-9z" fill="#ebebeb"/><path d="M212 1637.9h9v8.9h-9z" fill="#ececec"/><path d="M186 1646.5h9v8.9h-9zM212 1715.4h9v8.9h-9zM220.7 1724h9v8.9h-9z" fill="#eeeeee"/><path d="M168.7 1655.1h9v8.9h-9zM168.7 1663.7h9v8.9h-9zM177.3 1672.3h9v8.9h-9zM194.7 1706.8h9v8.9h-9zM203.3 1715.4h9v8.9h-9z" fill="#efefef"/><path d="M212 1724h9v8.9h-9zM238.1 1715.4h9v8.9h-9z" fill="#f2f2f2"/><path d="M177.3 1655.1h9v8.9h-9zM220.7 1637.9h9v8.9h-9z" fill="#f3f3f3"/><path d="M238.1 1646.5h9v8.9h-9zM246.7 1655.1h9v8.9h-9zM246.7 1706.8h9v8.9h-9z" fill="#f4f4f4"/><path d="M177.3 1680.9h9v8.9h-9zM229.4 1724h9v8.9h-9z" fill="#f5f5f5"/><path d="M177.3 1663.7h9v8.9h-9zM194.7 1715.4h9v8.9h-9zM229.4 1637.9h9v8.9h-9zM238.1 1637.9h9v8.9h-9zM246.7 1646.5h9v8.9h-9zM255.4 1663.7h9v8.9h-9zM255.4 1706.8h9v8.9h-9z" fill="#f6f6f6"/><path d="M255.4 1698.2h9v8.9h-9z" fill="#f7f7f7"/><path d="M177.3 1689.6h9v8.9h-9zM177.3 1698.2h9v8.9h-9zM194.7 1637.9h9v8.9h-9zM255.4 1715.4h9v8.9h-9zM264.1 1680.9h9v8.9h-9zM264.1 1689.6h9v8.9h-9z" fill="#f8f8f8"/><path d="M186 1637.9h9v8.9h-9z" fill="#f9f9f9"/><path d="M177.3 1646.5h9v8.9h-9zM238.1 1732.6h9v8.9h-9z" fill="#fafafa"/><path d="M168.7 1680.9h9v8.9h-9zM203.3 1724h9v8.9h-9zM229.4 1732.6h9v8.9h-9zM246.7 1724h9v8.9h-9zM264.1 1698.2h9v8.9h-9z" fill="#fcfcfc"/>

<path d="M190.2 1767.1V1594.8" stroke="#000" stroke-width="2.9" stroke-dasharray="10.6 5.1" fill="none"/>
<path d="M233.7 1767.1V1594.8" stroke="#000" stroke-width="2.9" stroke-dasharray="10.6 5.1" fill="none"/>
<path d="M116.6 1667.6H290.1" stroke="#000" stroke-width="2.9" stroke-dasharray="10.6 5.1" fill="none"/>
<path d="M116.6 1709.9H290.1" stroke="#000" stroke-width="2.9" stroke-dasharray="10.6 5.1" fill="none"/>
<path d="M170.6 1666.3L173.4 1657L184.6 1647.7L188.3 1640.2L197.7 1637.9L207 1641.1L216.4 1638.3L223.8 1636.4L233.2 1643L242.5 1642L251.9 1648.6L255.6 1658.9L259.3 1670.1L266.8 1683.1L267.7 1698.1L261.2 1705.6L257.5 1714.9L261.2 1720.5L248.1 1726.1L241.6 1735.5L231.3 1733.6L220.1 1731.7L208.9 1726.1L197.7 1718.6L190.2 1713L182.7 1701.8L175.3 1689.7L179 1675.7Z" stroke="#000" stroke-width="3.1" fill="none" stroke-linejoin="round"/>
<path d="M187.4 1683.1L190.2 1668.2L190.2 1657L199.5 1650.5L212.6 1648.6L223.8 1651.4L236.9 1655.1L244.4 1662.6L251.9 1673.8L255.6 1686.9L259.3 1696.2L251.9 1705.6L242.5 1711.2L235 1716.8L225.7 1719.6L218.2 1716.8L218.2 1711.2L207 1712.1L197.7 1707.4L190.2 1701.8Z" stroke="#000" stroke-width="3.1" fill="none" stroke-linejoin="round"/>
<path d="M199.5 1701.8L197.7 1690.6L200.5 1675.7L205.1 1666.3L210.8 1658.9L220.1 1657.9L227.6 1659.8L225.7 1664.5L229.4 1668.2L236.9 1670.1L240.6 1681.3L244.4 1692.5L238.8 1698.1L227.6 1702.8L218.2 1698.1L208.9 1703.7Z" stroke="#000" stroke-width="3.1" fill="none" stroke-linejoin="round"/>
<path d="M218.2 1678.5L227.6 1681.3L230.4 1685L223.8 1690.6L218.2 1687.8L212.6 1692.5L209.8 1686.9L206.1 1684.1L211.7 1682.2Z" stroke="#000" stroke-width="3.1" fill="none" stroke-linejoin="round"/>
<path d="M121.9 1767.1v-7M121.9 1594.8v7M133.1 1767.1v-7M133.1 1594.8v7M144.2 1767.1v-7M144.2 1594.8v7M155.4 1767.1v-7M155.4 1594.8v7M166.5 1767.1v-7M166.5 1594.8v7M177.7 1767.1v-14.3M177.7 1594.8v14.3M188.8 1767.1v-7M188.8 1594.8v7M200 1767.1v-7M200 1594.8v7M211.1 1767.1v-7M211.1 1594.8v7M222.3 1767.1v-7M222.3 1594.8v7M233.4 1767.1v-14.3M233.4 1594.8v14.3M244.6 1767.1v-7M244.6 1594.8v7M255.8 1767.1v-7M255.8 1594.8v7M266.9 1767.1v-7M266.9 1594.8v7M278.1 1767.1v-7M278.1 1594.8v7M116.6 1608.4h14.3M290.1 1608.4h-14.3M116.6 1624.9h7M290.1 1624.9h-7M116.6 1641.3h7M290.1 1641.3h-7M116.6 1657.8h7M290.1 1657.8h-7M116.6 1674.2h14.3M290.1 1674.2h-14.3M116.6 1690.7h7M290.1 1690.7h-7M116.6 1707.2h7M290.1 1707.2h-7M116.6 1723.6h7M290.1 1723.6h-7M116.6 1740.1h14.3M290.1 1740.1h-14.3M116.6 1756.5h7M290.1 1756.5h-7" stroke="#000" stroke-width="2.4" fill="none"/>
<path d="M215.4 1594.8V1767.1" stroke="#db2224" stroke-width="4.3" fill="none"/>
<path d="M116.6 1693.8H290.1" stroke="#db2224" stroke-width="4.3" fill="none"/>
<rect x="116.6" y="1594.8" width="173.5" height="172.3" fill="none" stroke="#000" stroke-width="2.75"/>
</g>
<ellipse cx="199.2" cy="1658.9" rx="2.6" ry="1.8" fill="#000" stroke="#000" stroke-width="1.5"/>
<g>
<path d="M452.7 1716.9h1.6M387.8 1640.5h1.6M363.9 1716.3h1.6M445.2 1670.3h1.6M458.1 1694h1.6M422.8 1627.8h1.6M371.6 1719.2h1.6M452.7 1677.3h1.6M387.6 1621.1h1.6M442.6 1637.2h1.6M445.1 1678.1h1.6M351.9 1669.4h1.6M425.3 1749.2h1.6M437.5 1734.6h1.6M337.1 1688h1.6M365.9 1720h1.6M465.6 1643.8h1.6M399.3 1733.2h1.6M359.7 1710.8h1.6M374.6 1716.9h1.6M349.9 1683.1h1.6M443.7 1713.6h1.6M444.3 1654.8h1.6M345.8 1706.4h1.6M386.1 1628h1.6M453.7 1687.5h1.6M377.7 1636.8h1.6M361.3 1703h1.6M397.7 1737.9h1.6M337.7 1699.6h1.6M467.2 1668.4h1.6M360.5 1747h1.6M389.5 1753.6h1.6M347.8 1685.9h1.6M356.7 1717.4h1.6M357 1717.5h1.6M450 1715.8h1.6M372 1726.9h1.6M362.7 1634.8h1.6M426.5 1734.7h1.6M448.9 1685.6h1.6M328 1636.3h1.6M419 1641.3h1.6M394.8 1616.2h1.6M356.1 1706.9h1.6M416 1760.4h1.6M437.3 1731.7h1.6M388.6 1732.3h1.6M445.4 1716.6h1.6M362.3 1700.4h1.6M448.6 1650.7h1.6M356.3 1685.3h1.6M345.5 1715.7h1.6M406.4 1624.9h1.6M459.2 1687.3h1.6M355.2 1680.4h1.6M353.8 1681.2h1.6M349.9 1641.5h1.6M347.2 1681.2h1.6M344 1697.5h1.6M335.8 1715.3h1.6M375.8 1721.5h1.6M398.5 1730.8h1.6M443.2 1710.4h1.6M367.9 1721.4h1.6M353.2 1671.8h1.6M415 1639.9h1.6M408.8 1752.7h1.6M423.9 1739.8h1.6M452.2 1657.6h1.6M371.8 1718.8h1.6M366.5 1642.4h1.6M387.1 1620.3h1.6M459.2 1718.3h1.6M351.1 1713.4h1.6M362.8 1731.4h1.6M341.9 1709.1h1.6M372.1 1718.8h1.6M460.8 1676.8h1.6M331.5 1669.5h1.6M354.1 1670.3h1.6M395.7 1729.4h1.6M376.4 1720h1.6M451.6 1680.3h1.6M379.2 1615.2h1.6M328 1687.2h1.6M363.8 1623.4h1.6M423 1628.8h1.6M369.1 1630.3h1.6M396.7 1638.2h1.6M398.6 1636.4h1.6M368.8 1731.9h1.6M433.9 1731.1h1.6M380.8 1723.7h1.6M376.8 1717.5h1.6M358.1 1712.8h1.6M377.9 1725h1.6M335.4 1665.1h1.6M356.9 1678.5h1.6M378.4 1719.5h1.6M441 1625.3h1.6M357.7 1645.6h1.6M383.6 1727.1h1.6M398 1737.2h1.6M451.1 1730.5h1.6M350.4 1700.4h1.6M371.9 1634.6h1.6M452.7 1678.9h1.6M331.8 1688.3h1.6M454 1665.5h1.6M357 1696h1.6M378 1740.1h1.6M348.8 1666.9h1.6M347 1699.2h1.6M444.2 1661.8h1.6M358.6 1678.6h1.6M367.7 1739.8h1.6M405.9 1624.6h1.6M437.1 1640.2h1.6M381 1725.6h1.6M445.1 1676.7h1.6M383 1734.2h1.6M452.9 1676h1.6M358.7 1674.8h1.6M444.1 1731.7h1.6M351.8 1697.7h1.6M437.3 1653.2h1.6M344.2 1671.1h1.6M335.6 1699.2h1.6M357.9 1717.7h1.6M356.5 1686.8h1.6M377 1631.6h1.6M425.4 1741.6h1.6M417.2 1639h1.6M351.9 1701.6h1.6M336.4 1666.8h1.6M357.1 1675.1h1.6M391.3 1733.4h1.6M363 1712.4h1.6M460.1 1725h1.6M345.4 1685.5h1.6M371.1 1716.6h1.6M421.2 1616.5h1.6M457.6 1684.5h1.6M407.9 1625.9h1.6M408.1 1735h1.6M352.8 1668.6h1.6M401.8 1744.6h1.6M453.3 1680.2h1.6M375.3 1718.4h1.6M330.9 1693.9h1.6M375.8 1721.2h1.6M404.1 1627.5h1.6M439.9 1713.5h1.6M357.1 1684.7h1.6M331.4 1660.6h1.6M384.9 1723.6h1.6M438 1661.4h1.6M421.6 1630.9h1.6M457.1 1698.9h1.6M386.1 1633h1.6M450.8 1710.3h1.6M352.2 1708.3h1.6M329.1 1656.3h1.6M349.2 1668h1.6M350.7 1673.7h1.6M390.2 1636h1.6M362.9 1702.6h1.6M361.2 1649.1h1.6M345 1687.7h1.6M356.3 1695.4h1.6M388.7 1731.8h1.6M356.8 1645.6h1.6M418.7 1618.7h1.6M431.5 1733.1h1.6M448 1736.2h1.6M363.3 1732.4h1.6M437.1 1732.5h1.6M356.3 1689.9h1.6M461.7 1680.2h1.6M380.2 1728.2h1.6M372.2 1716.7h1.6M396.8 1740.6h1.6M336.3 1691h1.6M367.7 1641.8h1.6M447.3 1649.3h1.6M452.2 1688.5h1.6M353 1629.6h1.6M389.6 1726.3h1.6M348.1 1682.6h1.6M404.2 1737.3h1.6M448.8 1666.5h1.6M344 1680.8h1.6M341.2 1693.3h1.6M449.3 1648.2h1.6M349.6 1645.1h1.6M372.9 1717.1h1.6M389.5 1729.1h1.6M463.5 1727.3h1.6M465.7 1657.3h1.6M389.1 1631.7h1.6M454.7 1708.7h1.6M366.5 1732.6h1.6M442 1672.4h1.6M328.7 1666.4h1.6M367.6 1724.5h1.6M382 1743.6h1.6M349.2 1648.8h1.6M387.2 1638h1.6M439.8 1660.2h1.6M370.1 1734.4h1.6M419.6 1628.6h1.6M346.2 1686h1.6M396.7 1736.7h1.6M466.8 1698.3h1.6M353.6 1695.3h1.6M390.6 1727.1h1.6M354.9 1722.2h1.6M389.6 1746.7h1.6M350.7 1695.3h1.6M401.4 1619.1h1.6M351.2 1649.8h1.6M368.1 1716.8h1.6M439.5 1664.9h1.6M417.5 1639h1.6M362.5 1704.9h1.6M427.4 1623.2h1.6M355.5 1685.9h1.6M416.8 1629.8h1.6M438.8 1660.4h1.6M458.5 1707.7h1.6M335 1672.6h1.6M354.5 1704.7h1.6M427 1741.7h1.6M447.2 1660.7h1.6M413 1630.1h1.6M394.5 1732.6h1.6M451.6 1735.9h1.6M334.8 1714.1h1.6M443.7 1672.7h1.6M370.4 1713.2h1.6M379.6 1734.1h1.6M449.1 1696.2h1.6M450.3 1722.1h1.6M442.5 1669.2h1.6M394.6 1742.7h1.6M343.5 1716.6h1.6M359.6 1707.1h1.6M382 1735.2h1.6M377.9 1730.4h1.6M389 1634.2h1.6M466 1677.5h1.6M385.2 1602.9h1.6M405.4 1636.8h1.6M443.9 1625.2h1.6M379.6 1733.3h1.6M358.5 1653.1h1.6M371.7 1719h1.6M375.6 1727.1h1.6M460.4 1670.7h1.6M445.2 1648.8h1.6M363.4 1703.7h1.6M451.5 1640h1.6M360.9 1626.2h1.6M411.4 1631.1h1.6M372.4 1715.1h1.6M335.3 1679.9h1.6M359.3 1678.4h1.6M356.3 1697.9h1.6M365 1714.5h1.6M360.9 1706.6h1.6M449.9 1707h1.6M443 1673.2h1.6M354.4 1672.5h1.6M350.6 1703.7h1.6M360.6 1729.5h1.6M405.1 1754.8h1.6M452.5 1680.9h1.6M440.6 1726.1h1.6M454.8 1683.5h1.6M408.9 1616.8h1.6M357.6 1698.2h1.6M355.4 1732.1h1.6M444.2 1641.6h1.6M434.3 1631.8h1.6M435.7 1656.2h1.6M454.5 1698h1.6M432.2 1728.6h1.6M373.2 1749.1h1.6M385.6 1735h1.6M352.7 1683.5h1.6M363.8 1725.9h1.6M389.3 1633.1h1.6M434.7 1646.3h1.6M444.5 1726h1.6M392.8 1740.5h1.6M425.4 1634.4h1.6M393.9 1627.1h1.6M337.8 1684.1h1.6M368.8 1723.8h1.6M388.1 1615.1h1.6M448.1 1673.6h1.6M435.8 1638.7h1.6M419.3 1744.6h1.6M346.9 1685.4h1.6M365.2 1716h1.6M399.9 1737.1h1.6M445.1 1703.3h1.6M439.3 1662.6h1.6M423.1 1737.4h1.6M415.8 1748.4h1.6M382.4 1630.2h1.6M448.1 1686.9h1.6M358.8 1713.4h1.6M441.8 1736.7h1.6M455.1 1693.4h1.6M374.5 1722.9h1.6M358 1682.1h1.6M366 1633.7h1.6M334.5 1698.2h1.6M444.2 1672.3h1.6M411.7 1735.7h1.6M393.2 1745.4h1.6M437.5 1651.4h1.6M377 1729.8h1.6M363.8 1709.9h1.6M366.6 1747.7h1.6M354.6 1687.7h1.6M410 1740.2h1.6M410.6 1640.4h1.6M394.3 1632.3h1.6M323.4 1669.3h1.6M353.6 1700.3h1.6M453.5 1672.3h1.6M370.4 1613.5h1.6M357.8 1675.2h1.6M399.8 1614.2h1.6M441.1 1666.9h1.6M355.4 1745.3h1.6M348.8 1672.4h1.6M384.2 1734.1h1.6M443.9 1651.1h1.6M394.4 1748.6h1.6M417.4 1627.1h1.6M357.3 1759.4h1.6M379.8 1729.7h1.6M433.5 1642.7h1.6M342.2 1700.5h1.6M360.3 1711.2h1.6M358.5 1695.6h1.6M462.6 1647.3h1.6M386.8 1734.6h1.6M395.8 1631.8h1.6M432.3 1734.1h1.6M361.7 1630.7h1.6M449.4 1677.8h1.6M371 1728h1.6M352.1 1713.1h1.6M406.4 1738h1.6M427.6 1621.8h1.6M374.6 1722.2h1.6M408.1 1637h1.6M409.9 1739h1.6M390.3 1730.5h1.6M447.9 1717.6h1.6M432 1726.9h1.6M358.3 1697.1h1.6M350.3 1704.9h1.6M373.7 1637h1.6M365.6 1723.1h1.6M347.5 1703.8h1.6M385.5 1640h1.6M363.7 1717h1.6M381.2 1729.7h1.6M371.8 1725h1.6M361.9 1723.5h1.6M388.2 1626.6h1.6M464.9 1667h1.6M376.8 1633.5h1.6M449.4 1645h1.6M459.2 1671.1h1.6M438.8 1657.4h1.6M356 1678.5h1.6M441.4 1711.3h1.6M343.9 1644.7h1.6M417.9 1746.3h1.6M366.1 1728.6h1.6M362.9 1724h1.6M376.4 1719.5h1.6M353.1 1677.9h1.6M326.5 1677.7h1.6M448 1684.2h1.6M371.7 1726.8h1.6M366.6 1715.9h1.6M448.1 1672.4h1.6M443.9 1666.7h1.6M371.7 1725.4h1.6M373.5 1741.8h1.6M465 1674h1.6M447.2 1681.3h1.6M426.7 1741.5h1.6M320.3 1732.3h1.6M373.3 1728.8h1.6M440 1660.7h1.6M354.5 1728h1.6M375.2 1636.5h1.6M446 1727.1h1.6M454.1 1656.7h1.6M465.8 1663.1h1.6M432.5 1646.1h1.6M350 1675.5h1.6M393.5 1729.4h1.6M441.7 1664.7h1.6M391.8 1627.7h1.6M339 1701.7h1.6M350.8 1668h1.6M454 1662.8h1.6M444.2 1711.9h1.6M438.7 1661.1h1.6M431.4 1729h1.6M429.8 1646h1.6M375.8 1717.3h1.6M353 1683.3h1.6M370.5 1720.2h1.6M354.8 1687.9h1.6M334.1 1672.2h1.6M428.1 1628.7h1.6M369.5 1750.8h1.6M373.2 1615.4h1.6M382.1 1612h1.6M356.3 1720.5h1.6M352.7 1671.8h1.6M384.8 1741.3h1.6M397.2 1748.5h1.6M359.9 1700.8h1.6M440.1 1747.1h1.6M436.5 1733.1h1.6M444.5 1716.6h1.6M449.6 1695.2h1.6M387.9 1624.5h1.6M385.8 1729.7h1.6M355.2 1734.3h1.6M360.2 1718.6h1.6M460.7 1694.2h1.6M416 1642.2h1.6M455.6 1694.6h1.6M355.5 1640.6h1.6M412.2 1744.8h1.6M459.1 1724.5h1.6M355.2 1694.6h1.6M442.9 1664.5h1.6M408.5 1750.7h1.6M369.6 1714h1.6M438.9 1656.7h1.6M348.2 1674.3h1.6M370.1 1635.2h1.6M407.7 1738.3h1.6M369.9 1740.1h1.6M360.3 1642.4h1.6M352.6 1610.1h1.6M382.1 1750.9h1.6M339.6 1664h1.6M397.2 1733.1h1.6M367.3 1729.9h1.6M373.8 1742.4h1.6M330.3 1675.1h1.6M379.9 1739.8h1.6M354.9 1629.5h1.6M441.8 1657.8h1.6M349.9 1680.1h1.6M384.2 1626.5h1.6M391.5 1755.1h1.6M353 1670.9h1.6M359.5 1704h1.6M399 1615.9h1.6M444.1 1710.2h1.6M372.2 1616h1.6M389.5 1737.2h1.6M448.6 1702.9h1.6M352.9 1702.8h1.6M396.7 1734.5h1.6M366.3 1723.5h1.6M349.3 1714.3h1.6M355.1 1632.9h1.6M362.5 1647.3h1.6M463 1642.4h1.6M344.7 1667.1h1.6M348.5 1697.3h1.6M370.4 1713.3h1.6M373 1717.7h1.6M366.5 1715.4h1.6M350.2 1720.7h1.6M345.6 1707.7h1.6M363.5 1732.5h1.6M440.7 1647.8h1.6M440 1647.4h1.6M316.9 1614.4h1.6M362.4 1728.7h1.6M410.2 1761.8h1.6M340.5 1684.8h1.6M351.3 1729.8h1.6M402.1 1601.2h1.6M342.4 1662.2h1.6M448.9 1685.1h1.6M453.7 1633.2h1.6M424.3 1638.4h1.6M395.8 1619.7h1.6M371.6 1717.7h1.6M436.8 1641.1h1.6M363.5 1743.8h1.6M403.8 1633.7h1.6M433 1648.6h1.6M338.2 1687.6h1.6M362.2 1644.4h1.6M448.1 1677.9h1.6M418.8 1636.8h1.6M466.2 1651.8h1.6M353.3 1686.2h1.6M429.2 1641.7h1.6M356.2 1625.8h1.6M420 1624.5h1.6M355.5 1713.3h1.6M368.4 1637.4h1.6M453.1 1713.5h1.6M442.4 1645.5h1.6M448.3 1719.9h1.6M453.6 1692.3h1.6M387.7 1726.3h1.6M436.8 1724h1.6M351.2 1654.6h1.6M427.8 1638.9h1.6M449.6 1677.5h1.6M360.7 1709.6h1.6M453.3 1684.5h1.6M384.3 1623.6h1.6M381.5 1723.3h1.6M352.9 1672.6h1.6M355.9 1685.4h1.6M371.6 1745.1h1.6M392.8 1728.2h1.6M428.8 1640.2h1.6M452.4 1739.5h1.6M362.8 1704.3h1.6M379.7 1619.1h1.6M388.6 1725.4h1.6M358 1697.1h1.6M384.9 1635.5h1.6M375.7 1722.9h1.6M443.6 1721.8h1.6M365.7 1706.5h1.6M435.2 1645.4h1.6M369.7 1742.2h1.6M459 1725.8h1.6M362.7 1729.4h1.6M397.2 1738.6h1.6M445.5 1651.2h1.6M457.9 1677.9h1.6M419.3 1632.1h1.6M354.9 1762.3h1.6M461.4 1653.2h1.6" stroke="#000" stroke-opacity="0.27" stroke-width="1.6" fill="none"/>
<path d="M351.6 1666.3L354.4 1657L365.6 1647.7L369.3 1640.2L378.7 1637.9L388 1641.1L397.4 1638.3L404.8 1636.4L414.2 1643L423.5 1642L432.9 1648.6L436.6 1658.9L440.3 1670.1L447.8 1683.1L448.7 1698.1L442.2 1705.6L438.5 1714.9L442.2 1720.5L429.1 1726.1L422.6 1735.5L412.3 1733.6L401.1 1731.7L389.9 1726.1L378.7 1718.6L371.2 1713L363.7 1701.8L356.3 1689.7L360 1675.7Z" fill="#fff"/>
<path d="M393.2 1680.9h9v8.9h-9z" fill="#555555"/><path d="M401.9 1680.9h9v8.9h-9z" fill="#565656"/><path d="M393.2 1672.3h9v8.9h-9z" fill="#7e7e7e"/><path d="M384.5 1680.9h9v8.9h-9z" fill="#848484"/><path d="M401.9 1672.3h9v8.9h-9z" fill="#898989"/><path d="M393.2 1663.7h9v8.9h-9z" fill="#8e8e8e"/><path d="M410.5 1689.6h9v8.9h-9z" fill="#909090"/><path d="M384.5 1663.7h9v8.9h-9zM384.5 1689.6h9v8.9h-9zM393.2 1689.6h9v8.9h-9z" fill="#939393"/><path d="M384.5 1672.3h9v8.9h-9z" fill="#999999"/><path d="M410.5 1672.3h9v8.9h-9z" fill="#9a9a9a"/><path d="M401.9 1689.6h9v8.9h-9zM410.5 1680.9h9v8.9h-9z" fill="#9d9d9d"/><path d="M401.9 1663.7h9v8.9h-9z" fill="#9f9f9f"/><path d="M393.2 1655.1h9v8.9h-9z" fill="#a5a5a5"/><path d="M419.2 1689.6h9v8.9h-9z" fill="#a6a6a6"/><path d="M384.5 1698.2h9v8.9h-9z" fill="#a8a8a8"/><path d="M375.8 1680.9h9v8.9h-9zM375.8 1689.6h9v8.9h-9z" fill="#b0b0b0"/><path d="M401.9 1655.1h9v8.9h-9z" fill="#b1b1b1"/><path d="M410.5 1663.7h9v8.9h-9z" fill="#b7b7b7"/><path d="M419.2 1680.9h9v8.9h-9z" fill="#b9b9b9"/><path d="M410.5 1698.2h9v8.9h-9z" fill="#bbbbbb"/><path d="M393.2 1698.2h9v8.9h-9z" fill="#bcbcbc"/><path d="M375.8 1672.3h9v8.9h-9zM401.9 1698.2h9v8.9h-9z" fill="#bdbdbd"/><path d="M384.5 1655.1h9v8.9h-9z" fill="#c0c0c0"/><path d="M419.2 1672.3h9v8.9h-9z" fill="#c3c3c3"/><path d="M401.9 1706.8h9v8.9h-9z" fill="#c4c4c4"/><path d="M410.5 1706.8h9v8.9h-9z" fill="#c6c6c6"/><path d="M375.8 1655.1h9v8.9h-9z" fill="#c7c7c7"/><path d="M427.9 1698.2h9v8.9h-9z" fill="#c9c9c9"/><path d="M410.5 1655.1h9v8.9h-9z" fill="#cacaca"/><path d="M375.8 1698.2h9v8.9h-9zM393.2 1706.8h9v8.9h-9z" fill="#cdcdcd"/><path d="M427.9 1680.9h9v8.9h-9z" fill="#cfcfcf"/><path d="M393.2 1646.5h9v8.9h-9zM427.9 1689.6h9v8.9h-9z" fill="#d1d1d1"/><path d="M367.1 1689.6h9v8.9h-9z" fill="#d3d3d3"/><path d="M367.1 1680.9h9v8.9h-9zM375.8 1663.7h9v8.9h-9zM419.2 1663.7h9v8.9h-9zM419.2 1698.2h9v8.9h-9z" fill="#d4d4d4"/><path d="M375.8 1646.5h9v8.9h-9z" fill="#d6d6d6"/><path d="M384.5 1646.5h9v8.9h-9z" fill="#d7d7d7"/><path d="M384.5 1706.8h9v8.9h-9zM427.9 1672.3h9v8.9h-9z" fill="#d9d9d9"/><path d="M367.1 1655.1h9v8.9h-9zM367.1 1663.7h9v8.9h-9z" fill="#dddddd"/><path d="M367.1 1672.3h9v8.9h-9z" fill="#dedede"/><path d="M419.2 1655.1h9v8.9h-9z" fill="#e1e1e1"/><path d="M393.2 1637.9h9v8.9h-9z" fill="#e3e3e3"/><path d="M367.1 1646.5h9v8.9h-9zM401.9 1637.9h9v8.9h-9zM419.2 1646.5h9v8.9h-9zM419.2 1706.8h9v8.9h-9zM436.6 1680.9h9v8.9h-9z" fill="#e4e4e4"/><path d="M367.1 1698.2h9v8.9h-9zM401.9 1715.4h9v8.9h-9zM436.6 1672.3h9v8.9h-9z" fill="#e5e5e5"/><path d="M358.5 1655.1h9v8.9h-9zM367.1 1637.9h9v8.9h-9zM393.2 1715.4h9v8.9h-9zM410.5 1646.5h9v8.9h-9zM419.2 1724h9v8.9h-9zM427.9 1655.1h9v8.9h-9z" fill="#e6e6e6"/><path d="M358.5 1689.6h9v8.9h-9zM427.9 1663.7h9v8.9h-9zM436.6 1689.6h9v8.9h-9z" fill="#e7e7e7"/><path d="M358.5 1672.3h9v8.9h-9zM410.5 1715.4h9v8.9h-9z" fill="#e8e8e8"/><path d="M375.8 1637.9h9v8.9h-9z" fill="#e9e9e9"/><path d="M349.8 1655.1h9v8.9h-9zM401.9 1646.5h9v8.9h-9z" fill="#eaeaea"/><path d="M427.9 1646.5h9v8.9h-9z" fill="#ebebeb"/><path d="M410.5 1724h9v8.9h-9z" fill="#ececec"/><path d="M384.5 1715.4h9v8.9h-9zM427.9 1715.4h9v8.9h-9z" fill="#ededed"/><path d="M358.5 1680.9h9v8.9h-9zM384.5 1637.9h9v8.9h-9zM427.9 1706.8h9v8.9h-9z" fill="#eeeeee"/><path d="M358.5 1663.7h9v8.9h-9zM393.2 1724h9v8.9h-9zM419.2 1715.4h9v8.9h-9z" fill="#f0f0f0"/><path d="M375.8 1706.8h9v8.9h-9z" fill="#f2f2f2"/><path d="M401.9 1724h9v8.9h-9z" fill="#f3f3f3"/><path d="M349.8 1663.7h9v8.9h-9z" fill="#f4f4f4"/><path d="M436.6 1698.2h9v8.9h-9z" fill="#f5f5f5"/><path d="M375.8 1715.4h9v8.9h-9zM410.5 1637.9h9v8.9h-9zM419.2 1637.9h9v8.9h-9zM436.6 1706.8h9v8.9h-9z" fill="#f6f6f6"/><path d="M358.5 1698.2h9v8.9h-9zM436.6 1663.7h9v8.9h-9zM436.6 1715.4h9v8.9h-9zM445.2 1680.9h9v8.9h-9zM445.2 1689.6h9v8.9h-9z" fill="#f8f8f8"/><path d="M358.5 1646.5h9v8.9h-9z" fill="#f9f9f9"/><path d="M367.1 1706.8h9v8.9h-9z" fill="#fafafa"/><path d="M349.8 1680.9h9v8.9h-9zM384.5 1724h9v8.9h-9zM410.5 1732.6h9v8.9h-9zM419.2 1732.6h9v8.9h-9zM427.9 1724h9v8.9h-9zM445.2 1698.2h9v8.9h-9z" fill="#fcfcfc"/>

<path d="M370.6 1767.1V1594.8" stroke="#000" stroke-width="2.9" stroke-dasharray="10.6 5.1" fill="none"/>
<path d="M414.5 1767.1V1594.8" stroke="#000" stroke-width="2.9" stroke-dasharray="10.6 5.1" fill="none"/>
<path d="M297.8 1667.6H471.2" stroke="#000" stroke-width="2.9" stroke-dasharray="10.6 5.1" fill="none"/>
<path d="M297.8 1709.9H471.2" stroke="#000" stroke-width="2.9" stroke-dasharray="10.6 5.1" fill="none"/>
<path d="M351.6 1666.3L354.4 1657L365.6 1647.7L369.3 1640.2L378.7 1637.9L388 1641.1L397.4 1638.3L404.8 1636.4L414.2 1643L423.5 1642L432.9 1648.6L436.6 1658.9L440.3 1670.1L447.8 1683.1L448.7 1698.1L442.2 1705.6L438.5 1714.9L442.2 1720.5L429.1 1726.1L422.6 1735.5L412.3 1733.6L401.1 1731.7L389.9 1726.1L378.7 1718.6L371.2 1713L363.7 1701.8L356.3 1689.7L360 1675.7Z" stroke="#000" stroke-width="3.1" fill="none" stroke-linejoin="round"/>
<path d="M368.4 1683.1L371.2 1668.2L371.2 1657L380.5 1650.5L393.6 1648.6L404.8 1651.4L417.9 1655.1L425.4 1662.6L432.9 1673.8L436.6 1686.9L440.3 1696.2L432.9 1705.6L423.5 1711.2L416 1716.8L406.7 1719.6L399.2 1716.8L399.2 1711.2L388 1712.1L378.7 1707.4L371.2 1701.8Z" stroke="#000" stroke-width="3.1" fill="none" stroke-linejoin="round"/>
<path d="M380.5 1701.8L378.7 1690.6L381.5 1675.7L386.1 1666.3L391.8 1658.9L401.1 1657.9L408.6 1659.8L406.7 1664.5L410.4 1668.2L417.9 1670.1L421.6 1681.3L425.4 1692.5L419.8 1698.1L408.6 1702.8L399.2 1698.1L389.9 1703.7Z" stroke="#000" stroke-width="3.1" fill="none" stroke-linejoin="round"/>
<path d="M388 1685L393.6 1678.5L404.8 1677.5L411.4 1684.1L404.8 1690.6L393.6 1689.7Z" stroke="#000" stroke-width="3.1" fill="none" stroke-linejoin="round"/>
<path d="M313.3 1767.1v-7M313.3 1594.8v7M330.4 1767.1v-7M330.4 1594.8v7M347.6 1767.1v-7M347.6 1594.8v7M364.7 1767.1v-14.3M364.7 1594.8v14.3M381.8 1767.1v-7M381.8 1594.8v7M398.9 1767.1v-7M398.9 1594.8v7M416.1 1767.1v-7M416.1 1594.8v7M433.2 1767.1v-14.3M433.2 1594.8v14.3M450.3 1767.1v-7M450.3 1594.8v7M467.4 1767.1v-7M467.4 1594.8v7M297.8 1608.4h14.3M471.2 1608.4h-14.3M297.8 1624.9h7M471.2 1624.9h-7M297.8 1641.3h7M471.2 1641.3h-7M297.8 1657.8h7M471.2 1657.8h-7M297.8 1674.2h14.3M471.2 1674.2h-14.3M297.8 1690.7h7M471.2 1690.7h-7M297.8 1707.2h7M471.2 1707.2h-7M297.8 1723.6h7M471.2 1723.6h-7M297.8 1740.1h14.3M471.2 1740.1h-14.3M297.8 1756.5h7M471.2 1756.5h-7" stroke="#000" stroke-width="2.4" fill="none"/>
<path d="M397 1594.8V1767.1" stroke="#db2224" stroke-width="4.3" fill="none"/>
<path d="M297.8 1693.8H471.2" stroke="#db2224" stroke-width="4.3" fill="none"/>
<rect x="297.8" y="1594.8" width="173.5" height="172.3" fill="none" stroke="#000" stroke-width="2.75"/>
</g>
<ellipse cx="380.2" cy="1658.9" rx="2.6" ry="1.8" fill="#000" stroke="#000" stroke-width="1.5"/>
<g>
<path d="M505.5 1671.4h1.6M515.7 1666.9h1.6M605.1 1665.4h1.6M534.2 1628.7h1.6M613.3 1694.9h1.6M508.3 1677.5h1.6M577.2 1706.1h1.6M515.5 1661.1h1.6M616 1688.5h1.6M610.8 1675.2h1.6M573.4 1733.8h1.6M618.5 1660.6h1.6M610.1 1694.5h1.6M562.3 1727h1.6M598.9 1639.2h1.6M512.1 1740h1.6M496.3 1698.8h1.6M557.3 1727h1.6M562.9 1733.1h1.6M506.6 1671.5h1.6M498.8 1698h1.6M596.1 1715.4h1.6M598.1 1717h1.6M535 1745.3h1.6M534 1630.8h1.6M579.1 1641.2h1.6M510.1 1637.1h1.6M599.9 1696.6h1.6M583.1 1726.2h1.6M506.7 1684.4h1.6M503.6 1658.4h1.6M587 1643.4h1.6M501.5 1648.9h1.6M528.6 1730.4h1.6M549.1 1724.6h1.6M550.6 1744.5h1.6M593.4 1704.7h1.6M563.2 1620.6h1.6M506.6 1680.6h1.6M568 1740.3h1.6M581.8 1720.5h1.6M585 1719.7h1.6M591.6 1636.5h1.6M538.1 1640.2h1.6M610.4 1687h1.6M510.8 1671.4h1.6M514.5 1673.7h1.6M582.3 1722.1h1.6M624.5 1684.5h1.6M519.5 1733.9h1.6M531.6 1727.6h1.6M490.6 1684.7h1.6M514.6 1651h1.6M595.5 1706.6h1.6M494.4 1701.9h1.6M495.8 1684.3h1.6M518.8 1741.2h1.6M538.9 1730.8h1.6M508.7 1664h1.6M572.2 1638.2h1.6M490 1703.3h1.6M605.4 1657.8h1.6M582.3 1717.5h1.6M504.1 1669.2h1.6M561.5 1726.6h1.6M509.8 1734.7h1.6M587.7 1712.5h1.6M497.7 1651.2h1.6M527.1 1634.3h1.6M596.7 1702.5h1.6M577.8 1710.8h1.6M517 1663.7h1.6M583.6 1717.9h1.6M516.6 1666.2h1.6M548.8 1610.6h1.6M584.7 1735.7h1.6M613.8 1640h1.6M605.2 1712.2h1.6M556.3 1734.8h1.6M569.2 1714.2h1.6M578 1712.6h1.6M535.4 1737.6h1.6M578.3 1720.6h1.6M591.6 1714.8h1.6M534.6 1629.2h1.6M576.8 1720.5h1.6M584 1733.1h1.6M526.2 1649.4h1.6M508.3 1651.7h1.6M553.9 1734.6h1.6M628.3 1660.1h1.6M601.8 1700.1h1.6M521.6 1660.6h1.6M619.9 1722.2h1.6M497.6 1667.1h1.6M621.3 1670.6h1.6M530.4 1647h1.6M559.3 1631.2h1.6M554.1 1633.3h1.6M560.9 1735h1.6M505.7 1644h1.6M499.7 1683.8h1.6M548.5 1755.2h1.6M638.8 1643.9h1.6M584.5 1706.3h1.6M611.2 1629.3h1.6M491.8 1725.4h1.6M535.9 1635.7h1.6M574.9 1714.1h1.6M586.5 1718.7h1.6M508.5 1670.7h1.6M504.2 1679.9h1.6M567.7 1716.2h1.6M506.7 1630h1.6M513.8 1647.5h1.6M494.5 1713.2h1.6M588 1729.3h1.6M613.1 1744.3h1.6M597.8 1703.2h1.6M493.3 1690.5h1.6M631.1 1646h1.6M574.1 1724.3h1.6M513.1 1667.7h1.6M492.6 1647.5h1.6M602.7 1638.8h1.6M594 1742.1h1.6M514.7 1660.9h1.6M539.4 1728.5h1.6M509.1 1659.2h1.6M522.6 1661.9h1.6M567 1634.6h1.6M608.4 1708.7h1.6M591.1 1716.7h1.6M483.6 1708.9h1.6M604.2 1699.6h1.6M586.8 1730.9h1.6M521.4 1638.2h1.6M493.3 1703.7h1.6M553.2 1730.3h1.6M569.3 1737.3h1.6M556.9 1625.9h1.6M513.3 1670.2h1.6M488.4 1687.9h1.6M581.9 1713.6h1.6M605.4 1696.7h1.6M494.4 1684.4h1.6M530.1 1633.4h1.6M520.1 1659.3h1.6M610.9 1657.8h1.6M580.6 1643.3h1.6M581.6 1728h1.6M515.1 1656.5h1.6M528 1635.8h1.6M571.3 1711.7h1.6M536.7 1638.9h1.6M507.5 1673.3h1.6M508.8 1680.1h1.6M624 1685.4h1.6M580.9 1634.6h1.6M531.1 1641.8h1.6M536.6 1634.2h1.6M510.5 1683.9h1.6M572.1 1762.4h1.6M514.3 1678h1.6M500.3 1678.4h1.6M516.4 1628.6h1.6M535.3 1636.1h1.6M502.3 1659.2h1.6M510.5 1667.9h1.6M483.6 1727.1h1.6M525 1649.8h1.6M524.8 1647.8h1.6M531.1 1744.2h1.6M507.3 1671.1h1.6M581.4 1638.3h1.6M506.2 1680.8h1.6M565.8 1634.4h1.6M628.9 1698.2h1.6M581.3 1706.2h1.6M517.2 1663.2h1.6M603 1695.3h1.6M499.2 1677.5h1.6M505.4 1683.6h1.6M509.2 1665.8h1.6M607.4 1720.2h1.6M614.2 1733.1h1.6M518.5 1738.5h1.6M487.7 1674.8h1.6M561.7 1724.8h1.6M575 1717.2h1.6M604.5 1648.8h1.6M613 1712.4h1.6M502.7 1651.1h1.6M524.9 1740.9h1.6M568.2 1639.7h1.6M514.6 1750h1.6M599.3 1701.4h1.6M536 1629.9h1.6M521.9 1629.3h1.6M610.1 1695.2h1.6M578 1705h1.6M589.1 1716.8h1.6M525.5 1733.2h1.6M508.9 1627.6h1.6M501.5 1689.9h1.6M567.4 1715.3h1.6M569.1 1718.2h1.6M590.6 1636.1h1.6M601.2 1702.6h1.6M590.3 1717.6h1.6M568.1 1750.4h1.6M491.6 1681h1.6M532.9 1634.6h1.6M581.5 1704h1.6M513.1 1750.9h1.6M582.9 1725.5h1.6M494 1702.7h1.6M484.9 1662.8h1.6M562.7 1719.4h1.6M578.3 1725.1h1.6M490.3 1660.7h1.6M572 1753.2h1.6M607.4 1688.6h1.6M585.2 1716.2h1.6M580.3 1714.2h1.6M605.8 1671.4h1.6M541.4 1728.5h1.6M612 1731.2h1.6M515.6 1672.5h1.6M520.1 1739.6h1.6M511.2 1673.7h1.6M498.5 1709.1h1.6M523.6 1732.2h1.6M577.1 1725.4h1.6M525.2 1623.1h1.6M507.1 1681.9h1.6M569.7 1716.2h1.6M519.3 1644.8h1.6M621.5 1642.6h1.6M582.1 1715.2h1.6M627.8 1717.1h1.6M507.9 1678.7h1.6M528.5 1732.8h1.6M576.4 1706.6h1.6M587.4 1705.5h1.6M617.5 1659.6h1.6M613 1709.7h1.6M505.5 1689h1.6M521.9 1661.3h1.6M516.1 1657.6h1.6M606.7 1726.6h1.6M559.2 1758.4h1.6M628 1699.2h1.6M575.7 1629h1.6M573.8 1749.7h1.6M487 1632.9h1.6M612.8 1672.2h1.6M607.7 1724.1h1.6M496.7 1659.6h1.6M498.1 1690.7h1.6M527.9 1649.6h1.6M576.8 1710.8h1.6M545.7 1753.1h1.6M500 1694.9h1.6M589.5 1724.1h1.6M579.8 1711.7h1.6M507.5 1658.8h1.6M600.9 1706.4h1.6M496.4 1671.4h1.6M606.5 1700.9h1.6M609.3 1663.3h1.6M577.3 1721h1.6M493.1 1709.7h1.6M605.4 1697.2h1.6M530.1 1626.1h1.6M582.7 1633.6h1.6M512.6 1677.2h1.6M593.2 1724.8h1.6M520.7 1652.7h1.6M612.1 1714.6h1.6M489.7 1682.6h1.6M518.5 1663.1h1.6M586.1 1710.3h1.6M624.2 1652h1.6M496.3 1701.4h1.6M512.7 1677.1h1.6M603.2 1636.8h1.6M525.2 1623.9h1.6M508.8 1674.1h1.6M630.3 1670.4h1.6M545.2 1724.9h1.6M530.6 1646.1h1.6M574.8 1734h1.6M483.5 1685.3h1.6M576.4 1707.8h1.6M544.3 1631.3h1.6M495.4 1711h1.6M591.6 1703.8h1.6M534.2 1735.4h1.6M529.7 1746.5h1.6M591.2 1709.1h1.6M519 1753.9h1.6M580.5 1722.4h1.6M523.2 1732.6h1.6M489.9 1714h1.6M490.6 1657.3h1.6M484.6 1648.6h1.6M555.6 1731.6h1.6M533.7 1728.2h1.6M600.2 1725.6h1.6M515.1 1674.5h1.6M557.5 1744h1.6M599 1745.7h1.6M614 1673.8h1.6M587.4 1714.1h1.6M502.8 1685.1h1.6M542.6 1743.8h1.6M486.7 1657.8h1.6M504.2 1674.3h1.6M592.2 1633.1h1.6M573.2 1712.9h1.6M549.5 1750.1h1.6M502.2 1647.8h1.6M553.2 1744h1.6M604.4 1672.6h1.6M536 1598.6h1.6M574.6 1630.5h1.6M581.5 1722.7h1.6M607 1690.8h1.6M506.8 1675h1.6M630.3 1668.2h1.6M576.5 1708.9h1.6M592.5 1705.6h1.6M492.8 1661.7h1.6M511 1665.9h1.6M546.9 1733h1.6M531.3 1637.2h1.6M645.4 1666.6h1.6M503.6 1639.2h1.6M539.8 1728.8h1.6M511.3 1676.3h1.6M559.5 1736.3h1.6M492.8 1683.7h1.6M533 1732.8h1.6M571 1712.1h1.6M551.8 1734.8h1.6M526.7 1652.1h1.6M523.2 1653.2h1.6M533 1759.6h1.6M571.1 1712.3h1.6M582 1628.7h1.6M513.1 1670.5h1.6M587.2 1627.7h1.6M571.2 1732.7h1.6M609.2 1657.5h1.6M610.2 1645.1h1.6M587.4 1718.8h1.6M620.4 1697.6h1.6M586.8 1745.4h1.6M580.4 1726.4h1.6M612.8 1694.6h1.6M495.8 1667h1.6M512.3 1627.7h1.6M615.4 1673.5h1.6M550.6 1725.2h1.6M508.7 1681.9h1.6M582.8 1704h1.6M504 1660.6h1.6M607.5 1681.9h1.6M600.3 1699.7h1.6M608 1662.1h1.6M623.1 1684.2h1.6M557.7 1723.8h1.6M505.8 1688.4h1.6M511.8 1681h1.6M625.8 1695.2h1.6M607.2 1740.1h1.6M504.7 1659.8h1.6M506.5 1682.2h1.6M505.7 1693.8h1.6M517.3 1642.6h1.6M581.7 1715.5h1.6M602.3 1632h1.6M597.1 1644.6h1.6M577.6 1711.5h1.6M536.4 1630.2h1.6M527.9 1630h1.6M505.8 1692.8h1.6M542.5 1732.3h1.6M519.7 1733.5h1.6M608.2 1720.7h1.6M498.5 1696h1.6M559.8 1626.8h1.6M550.2 1727.4h1.6M578 1705h1.6M586.8 1705.2h1.6M525.7 1652h1.6M559.2 1720.6h1.6M502.5 1658.1h1.6M600.4 1715.5h1.6M607.9 1674.7h1.6M614.7 1689.9h1.6M550.3 1734.6h1.6M518.1 1661.4h1.6M610 1669.7h1.6M595.8 1708h1.6M492.1 1696.4h1.6M568.9 1719.3h1.6M488.7 1704.2h1.6M602.4 1736.2h1.6M530.6 1735.6h1.6M516.6 1738.6h1.6M577 1640.5h1.6M528.8 1734h1.6M540.1 1627.8h1.6M618.5 1667.4h1.6M572.3 1712.1h1.6M528.5 1731.4h1.6M632.6 1690.7h1.6M613.7 1688.5h1.6M507 1644.5h1.6M616.5 1670.2h1.6M522.2 1646.5h1.6M521.5 1736.2h1.6M577.4 1715.8h1.6M610.9 1669.5h1.6M525.8 1653.2h1.6M561.4 1729.9h1.6M573 1642.6h1.6M539.7 1736.3h1.6M506.6 1649.6h1.6M607.8 1700.6h1.6M564.5 1727.2h1.6M567.9 1734.8h1.6M564.7 1625.5h1.6M613.4 1637.7h1.6M587.8 1706.1h1.6M505 1674h1.6M548 1724.9h1.6M576.6 1729.2h1.6M509.5 1664.3h1.6M616.5 1662h1.6M545.7 1744.3h1.6M597.9 1741.1h1.6M517.5 1623.1h1.6M582.6 1729h1.6M488.8 1729.9h1.6M604.8 1644.4h1.6M584.9 1630.1h1.6M502.6 1653.1h1.6M590.6 1716.1h1.6M488.7 1679.4h1.6M607.2 1678.5h1.6M483 1693.3h1.6M490.2 1716.7h1.6M587.7 1712h1.6M540.2 1738.4h1.6M589.2 1642.9h1.6M494.2 1654.5h1.6M528.4 1638.5h1.6M490.2 1682.8h1.6M579.5 1708.6h1.6M562.3 1723.7h1.6M517.5 1662h1.6M613.4 1667.6h1.6M577.4 1720.8h1.6M563.1 1733.6h1.6M639.5 1652.9h1.6M599.6 1705.2h1.6M597.7 1720.2h1.6M509.3 1680.7h1.6M568.6 1716h1.6M526.1 1643.4h1.6M580.1 1727.3h1.6M517.7 1656.9h1.6M494.2 1675.8h1.6M562.5 1725.5h1.6M495.5 1695.9h1.6M597.1 1642.6h1.6M553.9 1733.7h1.6M562.5 1623.5h1.6M534.1 1627.3h1.6M614.9 1705.9h1.6M566 1719h1.6M548.7 1728.3h1.6M612.2 1735.6h1.6M547.8 1726.2h1.6M518.8 1734.8h1.6M615.5 1670.4h1.6M531.5 1727.6h1.6M601.9 1719.3h1.6M612.3 1670.7h1.6M543.4 1628.2h1.6M559.5 1615h1.6M586.3 1711.2h1.6M575.6 1626.4h1.6M491.5 1695.7h1.6M615.8 1682.3h1.6M532.6 1643h1.6M558.7 1723.7h1.6M547.9 1730.7h1.6M535.3 1642.1h1.6M501.4 1658.1h1.6M539.3 1627.5h1.6M508.9 1677.5h1.6M494.3 1696h1.6M562.6 1722.7h1.6M573.1 1631.9h1.6M639.2 1697.8h1.6M508.6 1673.7h1.6M594 1604.4h1.6M515.1 1654.2h1.6M608.6 1698h1.6M611.7 1667.3h1.6M561.9 1750.5h1.6M612.4 1673.3h1.6M609.1 1695.4h1.6M586.6 1705.5h1.6M585.4 1633.5h1.6M563.6 1637.4h1.6M536.5 1627.7h1.6M561.1 1725.8h1.6M608.5 1660.3h1.6M582.1 1703.8h1.6M506.8 1681h1.6M557.4 1737.9h1.6M500.3 1705.1h1.6M517.7 1654.3h1.6M484 1679.8h1.6M609.2 1667.9h1.6M622.4 1625.5h1.6M518.9 1664.2h1.6M528.2 1649.6h1.6M564.4 1630.5h1.6M546.3 1740.4h1.6M504 1655.5h1.6M579.5 1710.9h1.6M585.7 1615.8h1.6M543.6 1724.1h1.6M587.6 1705.7h1.6M574.2 1625.8h1.6M538.5 1637.4h1.6M589.4 1721.4h1.6M531.7 1729.6h1.6M534.7 1624.6h1.6M507.5 1685.9h1.6M540.8 1739.9h1.6M525.7 1643.1h1.6M580.1 1718.7h1.6M552.5 1740.5h1.6M547 1726.5h1.6M576.4 1638.9h1.6M554.9 1624.2h1.6M494.3 1729.9h1.6M559.6 1734.2h1.6M513.2 1672h1.6M560.6 1720h1.6M555.2 1608.6h1.6M590.7 1708.4h1.6M537.9 1729.8h1.6" stroke="#000" stroke-opacity="0.27" stroke-width="1.6" fill="none"/>
<path d="M495.2 1714.9L500.8 1705.6L507.4 1690.6L516.7 1673.8L524.2 1658.9L531.7 1645.8L541 1638.3L546.6 1634.9L557.8 1635.5L567.1 1640.2L576.5 1645.4L589.6 1644.3L604.5 1649.5L603.6 1664.5L604.5 1675.7L608.3 1685L600.8 1696.2L591.4 1700L576.5 1705.6L567.1 1714.9L555.9 1721.4L544.7 1723.3L533.5 1727.1L520.4 1729.9L509.2 1729.9L500.8 1737.3L496.2 1728Z" fill="#fff"/>
<path d="M621.3 1673.4L623.9 1676L621.3 1678.7L618.7 1676Z" fill="#fff"/>
<path d="M530.9 1680.9h9v8.9h-9z" fill="#636363"/><path d="M522.3 1680.9h9v8.9h-9z" fill="#797979"/><path d="M530.9 1672.3h9v8.9h-9zM539.6 1672.3h9v8.9h-9z" fill="#7e7e7e"/><path d="M539.6 1680.9h9v8.9h-9z" fill="#868686"/><path d="M522.3 1689.6h9v8.9h-9zM530.9 1663.7h9v8.9h-9z" fill="#9c9c9c"/><path d="M522.3 1672.3h9v8.9h-9z" fill="#a1a1a1"/><path d="M548.3 1680.9h9v8.9h-9z" fill="#a6a6a6"/><path d="M548.3 1672.3h9v8.9h-9z" fill="#a7a7a7"/><path d="M539.6 1689.6h9v8.9h-9z" fill="#aaaaaa"/><path d="M530.9 1689.6h9v8.9h-9z" fill="#ababab"/><path d="M557 1672.3h9v8.9h-9z" fill="#acacac"/><path d="M557 1663.7h9v8.9h-9z" fill="#b2b2b2"/><path d="M522.3 1663.7h9v8.9h-9z" fill="#b3b3b3"/><path d="M513.6 1689.6h9v8.9h-9z" fill="#b4b4b4"/><path d="M539.6 1663.7h9v8.9h-9zM548.3 1663.7h9v8.9h-9z" fill="#b5b5b5"/><path d="M522.3 1698.2h9v8.9h-9z" fill="#b9b9b9"/><path d="M583 1655.1h9v8.9h-9z" fill="#bdbdbd"/><path d="M548.3 1689.6h9v8.9h-9z" fill="#bfbfbf"/><path d="M530.9 1655.1h9v8.9h-9z" fill="#c1c1c1"/><path d="M548.3 1655.1h9v8.9h-9z" fill="#c5c5c5"/><path d="M530.9 1698.2h9v8.9h-9z" fill="#c6c6c6"/><path d="M539.6 1655.1h9v8.9h-9zM557 1655.1h9v8.9h-9zM557 1689.6h9v8.9h-9zM565.6 1672.3h9v8.9h-9zM591.7 1680.9h9v8.9h-9z" fill="#c9c9c9"/><path d="M557 1680.9h9v8.9h-9z" fill="#cacaca"/><path d="M513.6 1680.9h9v8.9h-9z" fill="#cdcdcd"/><path d="M565.6 1680.9h9v8.9h-9z" fill="#cfcfcf"/><path d="M513.6 1706.8h9v8.9h-9zM539.6 1698.2h9v8.9h-9z" fill="#d0d0d0"/><path d="M513.6 1698.2h9v8.9h-9zM574.3 1680.9h9v8.9h-9z" fill="#d2d2d2"/><path d="M539.6 1646.5h9v8.9h-9zM583 1680.9h9v8.9h-9z" fill="#d3d3d3"/><path d="M522.3 1706.8h9v8.9h-9zM548.3 1646.5h9v8.9h-9zM583 1663.7h9v8.9h-9zM583 1689.6h9v8.9h-9z" fill="#d4d4d4"/><path d="M574.3 1663.7h9v8.9h-9z" fill="#d5d5d5"/><path d="M591.7 1689.6h9v8.9h-9z" fill="#d8d8d8"/><path d="M548.3 1698.2h9v8.9h-9zM574.3 1655.1h9v8.9h-9zM574.3 1689.6h9v8.9h-9z" fill="#d9d9d9"/><path d="M565.6 1663.7h9v8.9h-9zM565.6 1689.6h9v8.9h-9zM583 1672.3h9v8.9h-9z" fill="#dbdbdb"/><path d="M565.6 1655.1h9v8.9h-9zM574.3 1672.3h9v8.9h-9zM591.7 1655.1h9v8.9h-9z" fill="#dcdcdc"/><path d="M513.6 1672.3h9v8.9h-9zM557 1646.5h9v8.9h-9z" fill="#dddddd"/><path d="M557 1698.2h9v8.9h-9z" fill="#dedede"/><path d="M530.9 1646.5h9v8.9h-9z" fill="#dfdfdf"/><path d="M504.9 1698.2h9v8.9h-9z" fill="#e0e0e0"/><path d="M574.3 1698.2h9v8.9h-9z" fill="#e1e1e1"/><path d="M504.9 1706.8h9v8.9h-9zM574.3 1646.5h9v8.9h-9z" fill="#e5e5e5"/><path d="M539.6 1715.4h9v8.9h-9z" fill="#e6e6e6"/><path d="M530.9 1706.8h9v8.9h-9z" fill="#e7e7e7"/><path d="M539.6 1706.8h9v8.9h-9z" fill="#e8e8e8"/><path d="M496.2 1706.8h9v8.9h-9zM504.9 1689.6h9v8.9h-9z" fill="#e9e9e9"/><path d="M565.6 1646.5h9v8.9h-9zM565.6 1698.2h9v8.9h-9zM583 1646.5h9v8.9h-9z" fill="#eaeaea"/><path d="M496.2 1715.4h9v8.9h-9z" fill="#ebebeb"/><path d="M513.6 1715.4h9v8.9h-9zM557 1706.8h9v8.9h-9z" fill="#ececec"/><path d="M522.3 1655.1h9v8.9h-9zM600.4 1680.9h9v8.9h-9z" fill="#ededed"/><path d="M548.3 1706.8h9v8.9h-9z" fill="#eeeeee"/><path d="M522.3 1715.4h9v8.9h-9zM548.3 1715.4h9v8.9h-9z" fill="#efefef"/><path d="M583 1698.2h9v8.9h-9z" fill="#f0f0f0"/><path d="M530.9 1715.4h9v8.9h-9zM548.3 1637.9h9v8.9h-9z" fill="#f1f1f1"/><path d="M591.7 1646.5h9v8.9h-9z" fill="#f2f2f2"/><path d="M591.7 1663.7h9v8.9h-9zM591.7 1672.3h9v8.9h-9z" fill="#f3f3f3"/><path d="M496.2 1724h9v8.9h-9zM539.6 1637.9h9v8.9h-9zM557 1637.9h9v8.9h-9z" fill="#f4f4f4"/><path d="M504.9 1715.4h9v8.9h-9zM522.3 1724h9v8.9h-9zM565.6 1637.9h9v8.9h-9zM600.4 1672.3h9v8.9h-9z" fill="#f5f5f5"/><path d="M504.9 1680.9h9v8.9h-9z" fill="#f7f7f7"/><path d="M496.2 1698.2h9v8.9h-9zM504.9 1724h9v8.9h-9zM530.9 1637.9h9v8.9h-9zM530.9 1724h9v8.9h-9zM548.3 1629.3h9v8.9h-9zM557 1715.4h9v8.9h-9zM583 1637.9h9v8.9h-9zM600.4 1655.1h9v8.9h-9zM600.4 1663.7h9v8.9h-9z" fill="#f9f9f9"/><path d="M496.2 1732.6h9v8.9h-9zM513.6 1663.7h9v8.9h-9zM522.3 1646.5h9v8.9h-9zM574.3 1637.9h9v8.9h-9zM600.4 1646.5h9v8.9h-9zM600.4 1689.6h9v8.9h-9z" fill="#fbfbfb"/><path d="M513.6 1724h9v8.9h-9z" fill="#fcfcfc"/><path d="M539.6 1629.3h9v8.9h-9zM557 1629.3h9v8.9h-9zM565.6 1706.8h9v8.9h-9zM617.7 1672.3h9v8.9h-9z" fill="#fdfdfd"/>
<path d="M579.3 1690.6L586.8 1684.1L594.2 1691.6L585.8 1696.2Z" fill="#000"/><path d="M621.3 1673.4L623.9 1676L621.3 1678.7L618.7 1676Z" fill="#000"/><path d="M583 1658.9L586.8 1655.5L590.5 1658.9L586.8 1662.2Z" fill="#000"/><path d="M568.1 1656.6L570 1656.6L570 1659.2L568.1 1659.2Z" fill="#222"/>
<path d="M509.2 1767.1V1594.8" stroke="#000" stroke-width="2.9" stroke-dasharray="10.6 5.1" fill="none"/>
<path d="M570 1767.1V1594.8" stroke="#000" stroke-width="2.9" stroke-dasharray="10.6 5.1" fill="none"/>
<path d="M478.9 1667.6H652.4" stroke="#000" stroke-width="2.9" stroke-dasharray="10.6 5.1" fill="none"/>
<path d="M478.9 1709.9H652.4" stroke="#000" stroke-width="2.9" stroke-dasharray="10.6 5.1" fill="none"/>
<path d="M495.2 1714.9L500.8 1705.6L507.4 1690.6L516.7 1673.8L524.2 1658.9L531.7 1645.8L541 1638.3L546.6 1634.9L557.8 1635.5L567.1 1640.2L576.5 1645.4L589.6 1644.3L604.5 1649.5L603.6 1664.5L604.5 1675.7L608.3 1685L600.8 1696.2L591.4 1700L576.5 1705.6L567.1 1714.9L555.9 1721.4L544.7 1723.3L533.5 1727.1L520.4 1729.9L509.2 1729.9L500.8 1737.3L496.2 1728Z" stroke="#000" stroke-width="3.1" fill="none" stroke-linejoin="round"/>
<path d="M621.3 1673.4L623.9 1676L621.3 1678.7L618.7 1676Z" stroke="#000" stroke-width="3.1" fill="none" stroke-linejoin="round"/>
<path d="M508.3 1713L510.2 1694.4L518.6 1675.7L526 1660.7L534.5 1650.5L544.7 1648.6L552.2 1650.5L559.7 1648.6L567.1 1651.4L574.6 1657.9L585.8 1650.5L597 1656.1L598.9 1660.7L589.6 1665.4L585.8 1673.8L589.6 1677.5L600.8 1681.3L599.8 1690.6L593.3 1698.1L582.1 1700.9L570.9 1702.8L561.5 1701.8L550.3 1707.4L539.1 1710.2L526 1711.2L516.7 1716.8Z" stroke="#000" stroke-width="3.1" fill="none" stroke-linejoin="round"/>
<path d="M516.7 1698.1L520.4 1683.1L526 1668.2L534.5 1659.8L541.9 1662.6L544.7 1668.2L554.1 1667.3L559.7 1664.5L563.4 1670.1L561.5 1681.3L557.8 1690.6L550.3 1694.4L541 1696.2L529.8 1702.8L520.4 1701.8Z" stroke="#000" stroke-width="3.1" fill="none" stroke-linejoin="round"/>
<path d="M548.1 1657.9L550.7 1656.6L553.7 1658.9L552.2 1662.2L548.8 1661.7Z" stroke="#000" stroke-width="3.1" fill="none" stroke-linejoin="round"/>
<path d="M583 1658.9L586.8 1655.5L590.5 1658.9L586.8 1662.2Z" stroke="#000" stroke-width="3.1" fill="none" stroke-linejoin="round"/>
<path d="M524.2 1683.1L531.7 1677.5L541 1674.7L550.3 1673.8L548.5 1681.3L542.9 1686.9L533.5 1689.7L526 1687.8Z" stroke="#000" stroke-width="3.1" fill="none" stroke-linejoin="round"/>
<path d="M486.3 1767.1v-7M486.3 1594.8v7M498.5 1767.1v-7M498.5 1594.8v7M510.7 1767.1v-14.3M510.7 1594.8v14.3M522.9 1767.1v-7M522.9 1594.8v7M535.1 1767.1v-7M535.1 1594.8v7M547.2 1767.1v-7M547.2 1594.8v7M559.4 1767.1v-7M559.4 1594.8v7M571.6 1767.1v-14.3M571.6 1594.8v14.3M583.8 1767.1v-7M583.8 1594.8v7M596 1767.1v-7M596 1594.8v7M608.1 1767.1v-7M608.1 1594.8v7M620.3 1767.1v-7M620.3 1594.8v7M632.5 1767.1v-14.3M632.5 1594.8v14.3M644.7 1767.1v-7M644.7 1594.8v7M478.9 1608.4h14.3M652.4 1608.4h-14.3M478.9 1624.9h7M652.4 1624.9h-7M478.9 1641.3h7M652.4 1641.3h-7M478.9 1657.8h7M652.4 1657.8h-7M478.9 1674.2h14.3M652.4 1674.2h-14.3M478.9 1690.7h7M652.4 1690.7h-7M478.9 1707.2h7M652.4 1707.2h-7M478.9 1723.6h7M652.4 1723.6h-7M478.9 1740.1h14.3M652.4 1740.1h-14.3M478.9 1756.5h7M652.4 1756.5h-7" stroke="#000" stroke-width="2.4" fill="none"/>
<path d="M544.2 1594.8V1767.1" stroke="#db2224" stroke-width="4.3" fill="none"/>
<path d="M478.9 1693.8H652.4" stroke="#db2224" stroke-width="4.3" fill="none"/>
<rect x="478.9" y="1594.8" width="173.5" height="172.3" fill="none" stroke="#000" stroke-width="2.75"/>
</g>
<g>
<path d="M269.1 1848.4h1.6M239.1 1801.4h1.6M239.3 1792.6h1.6M224.2 1781h1.6M260.9 1814.4h1.6M207.2 1799.1h1.6M170.6 1884.2h1.6M198.8 1794.2h1.6M272.7 1790.7h1.6M264.3 1866.8h1.6M177.4 1847.3h1.6M263 1788h1.6M235 1779h1.6M264.7 1885.7h1.6M173.1 1812.9h1.6M187.4 1804.2h1.6M201.8 1788.6h1.6M214.1 1938.2h1.6M223.8 1941.3h1.6M178.4 1811.2h1.6M211.9 1936.4h1.6M226.4 1941.4h1.6M275.9 1936.3h1.6M250.7 1814.2h1.6M225.3 1938.7h1.6M224.5 1938.1h1.6M178.7 1836.9h1.6M230.5 1798.3h1.6M170.3 1914.6h1.6M262.4 1925.6h1.6M261.2 1838.9h1.6M272 1843.9h1.6M283 1910.8h1.6M253.5 1779.9h1.6M262.4 1857.3h1.6M243.7 1806.4h1.6M260 1837.9h1.6M208.8 1944.4h1.6M266.1 1858.9h1.6M197.9 1809.8h1.6M263.1 1854.6h1.6M216.7 1933.9h1.6M247.8 1815.3h1.6M270 1879.4h1.6M222.4 1928.6h1.6M196.4 1799.2h1.6M166.7 1871h1.6M258.6 1803.4h1.6M175.9 1885.5h1.6M138.1 1864h1.6M261.5 1843.6h1.6M206.5 1940.2h1.6M202 1799.6h1.6M267.8 1847.8h1.6M172.5 1939.6h1.6M273.1 1895.9h1.6M225.1 1937.6h1.6M178.4 1821.1h1.6M234.3 1935.3h1.6M222.3 1784h1.6M178.8 1829.6h1.6M175.9 1857.1h1.6M208.5 1794.5h1.6M171.5 1790.9h1.6M284.8 1876.1h1.6M281.4 1831.4h1.6M177.5 1936.9h1.6M277.4 1887.9h1.6M254.9 1815.4h1.6M231.2 1799.3h1.6M252.6 1816.9h1.6M259.3 1821.3h1.6M172.6 1887.1h1.6M275.4 1904.2h1.6M257.2 1812.2h1.6M212.1 1781.1h1.6M181.3 1925.6h1.6M238.5 1935.9h1.6M191.6 1939h1.6M206.7 1792.3h1.6M257.4 1836.9h1.6M176.3 1860.6h1.6M177.9 1890.3h1.6M165.8 1850.4h1.6M281.5 1785.7h1.6M175 1842.2h1.6M235.1 1809.4h1.6M176.4 1885.2h1.6M256.2 1825.8h1.6M209.2 1805.1h1.6M182.3 1816.8h1.6M199 1799.8h1.6M176.8 1820.6h1.6M275.9 1912.1h1.6M213.3 1799.5h1.6M260.7 1807.3h1.6M214.7 1780.6h1.6M267.6 1893.9h1.6M220.2 1930.7h1.6M228.2 1791.3h1.6M285.1 1855.9h1.6M243.6 1812h1.6M209.9 1802.1h1.6M259 1928.9h1.6M272.7 1902.4h1.6M170.3 1881.3h1.6M241.9 1798.5h1.6M213.1 1799h1.6M210.1 1804.7h1.6M260.3 1817.8h1.6M273 1916h1.6M234.1 1810.9h1.6M282.7 1917.4h1.6M279.6 1938.1h1.6M262.1 1847.8h1.6M219.5 1933.6h1.6M264.3 1867.5h1.6M228.7 1944.7h1.6M245.4 1785.6h1.6M168.5 1900.4h1.6M205.5 1791.7h1.6M265.5 1923.9h1.6M239.2 1944.5h1.6M257.1 1835h1.6M178 1897.8h1.6M240.1 1805.5h1.6M272.7 1889.9h1.6M169.9 1887.2h1.6M268.5 1863.9h1.6M270.8 1898.9h1.6M187.6 1781.2h1.6M259 1848.4h1.6M206.2 1788.9h1.6M198.4 1941.8h1.6M260.8 1854.2h1.6M189.9 1812.8h1.6M255.5 1821.8h1.6M180.8 1809.1h1.6M270.2 1900.6h1.6M166.7 1856.8h1.6M182.3 1813.2h1.6M250.8 1942.4h1.6M219.9 1786.7h1.6M192.3 1812.6h1.6M185.7 1943.6h1.6M166.7 1851.2h1.6M217.8 1933.4h1.6M172.7 1856.5h1.6M277.7 1935.1h1.6M160 1828.3h1.6M242.3 1939h1.6M218.7 1935.1h1.6M223.5 1780.7h1.6M263.7 1835.6h1.6M268.5 1791.6h1.6M269.2 1888.8h1.6M234.5 1797.3h1.6M221.6 1796.2h1.6M219.4 1930.3h1.6M217.5 1802.9h1.6M215.4 1780.6h1.6M155.8 1858.8h1.6M224.4 1932.8h1.6M253.3 1821.5h1.6M276.3 1867h1.6M268.9 1886.9h1.6M262.7 1850.9h1.6M232.8 1931.8h1.6M263 1908.1h1.6M225.5 1936.3h1.6M176.7 1812.9h1.6M269.1 1828.4h1.6M234.8 1932.9h1.6M181.5 1799.2h1.6M248.5 1938.1h1.6M172 1937.6h1.6M268.7 1833.7h1.6M227.8 1786.4h1.6M207.7 1805.9h1.6M155.9 1850.7h1.6M198.3 1941.3h1.6M162.4 1852.3h1.6M171.5 1894.2h1.6M178.7 1824.8h1.6M202.2 1940.2h1.6M277 1872.7h1.6M186.4 1936.5h1.6M140.4 1910.6h1.6M203.7 1804.1h1.6M177.1 1871.6h1.6M236.9 1937.6h1.6M168.9 1836.8h1.6M167.6 1874.5h1.6M169.5 1876.8h1.6M151.3 1787.5h1.6M257.6 1826.7h1.6M270.5 1874.4h1.6M191.1 1944.9h1.6M203.5 1806.3h1.6M253.7 1814.2h1.6M177.2 1871.1h1.6M285.5 1870.2h1.6M263.1 1792.1h1.6M263 1869.6h1.6M165.6 1876.6h1.6M194.6 1940.3h1.6M248.4 1796.8h1.6M270.2 1880.4h1.6M262.4 1857.2h1.6M234.9 1940h1.6M172.3 1838.9h1.6M263 1861.2h1.6M245.6 1806.1h1.6M262.3 1842h1.6M192.2 1818.5h1.6M145.8 1900.1h1.6M212.1 1939.4h1.6M244.4 1943.9h1.6M257 1839.7h1.6M171.3 1938.1h1.6M167.1 1877.8h1.6M172.7 1879.6h1.6M173.2 1834.5h1.6M279 1884.7h1.6M172.6 1866.8h1.6M207.1 1799.9h1.6M273 1876.4h1.6M197 1800.3h1.6M218 1799.7h1.6M172.7 1846.1h1.6M270.6 1918.6h1.6M160.6 1934.4h1.6M190.6 1941.6h1.6M240.8 1788.3h1.6M184.8 1821.5h1.6M192.5 1816.2h1.6M257.7 1834.6h1.6M255.9 1793.9h1.6M259.7 1802.2h1.6M177.6 1944.2h1.6M262.9 1779.7h1.6M247.5 1936.9h1.6M235.8 1807.8h1.6M173.8 1910h1.6M278.8 1898.9h1.6M263.4 1828.5h1.6M174.8 1898.1h1.6M161.8 1863.3h1.6M193.8 1813.6h1.6M161.6 1879.1h1.6M267 1811.1h1.6M279.6 1836.9h1.6M187 1782.2h1.6M268.7 1900h1.6M181.1 1829.7h1.6M174.3 1801.3h1.6M264.7 1917.9h1.6M207.8 1806.7h1.6M176 1905.2h1.6M218.1 1801.3h1.6M267.4 1856.5h1.6M284 1819.7h1.6M194.7 1815.7h1.6M162.4 1832h1.6M245.2 1807.8h1.6M233.6 1813.3h1.6M184.6 1828.9h1.6M164.3 1891h1.6M185.1 1802.8h1.6M236.3 1940h1.6M184.9 1800.3h1.6M177.3 1844.4h1.6M266 1909.8h1.6M256.8 1834.9h1.6M254.5 1816.9h1.6M176 1849.6h1.6M175.1 1876.9h1.6M224.6 1787.7h1.6M168 1854.2h1.6M158.5 1812.1h1.6M170.5 1854.8h1.6M271.4 1891.3h1.6M183.5 1933.4h1.6M238.4 1793.5h1.6M172.8 1827.3h1.6M196 1940.3h1.6M265.3 1934.6h1.6M275.1 1890.8h1.6M239.9 1798.8h1.6M224.5 1935.4h1.6M206.4 1790.5h1.6M218.4 1936h1.6M264.3 1841.6h1.6M204.5 1808.3h1.6M166.6 1892.2h1.6M233.5 1780h1.6M172.7 1861.1h1.6M159.1 1877.3h1.6M262.7 1845h1.6M220.4 1930.5h1.6M265.5 1914.1h1.6M202.1 1808.3h1.6M177.4 1845.5h1.6M159.8 1896.9h1.6M273.7 1887.2h1.6M181.3 1930.7h1.6M262.1 1859.8h1.6M176.3 1874.1h1.6M209.5 1780.3h1.6M262.4 1923.8h1.6M260.4 1840h1.6M269.2 1795.2h1.6M200 1798h1.6M212.6 1805.3h1.6M219.6 1791h1.6M277.4 1803.6h1.6M156.8 1862.9h1.6M238.3 1811.9h1.6M263 1861.5h1.6M254.2 1804.1h1.6M188.1 1779.1h1.6M182.8 1931.1h1.6M249.7 1816.2h1.6M185.4 1802.7h1.6M159.1 1868.3h1.6M198.3 1809.8h1.6M252.1 1807.4h1.6M174.1 1871h1.6M236 1941h1.6M175.9 1870.4h1.6M216.3 1938.3h1.6M224.6 1780.2h1.6M253.8 1813.9h1.6M220.4 1796.9h1.6M261.1 1854.6h1.6M168.2 1859.2h1.6M272.4 1899.4h1.6M261.6 1836h1.6M229.7 1798.9h1.6M162.7 1807.5h1.6M266.3 1874.8h1.6M261.4 1818.4h1.6M282.1 1904.7h1.6M285.6 1884.8h1.6M190.3 1819.1h1.6M260.7 1853.9h1.6M225.9 1939.6h1.6M240.3 1812.8h1.6M157.3 1822.8h1.6M236.8 1803.4h1.6M262.1 1862.3h1.6M176.8 1842.1h1.6M168.4 1795.6h1.6M165.9 1858.2h1.6M258.5 1834h1.6M276.8 1845.2h1.6M279.3 1820.9h1.6M203.7 1943.6h1.6M268.3 1875.2h1.6M250.3 1938.8h1.6M221.4 1940.3h1.6M182.9 1934.9h1.6M221.7 1938.3h1.6M233 1933.5h1.6M268.8 1872.8h1.6M254.4 1807h1.6M269.5 1884.7h1.6M267.2 1902.1h1.6M269 1861.3h1.6M180.3 1819.6h1.6M247.9 1814.9h1.6M275.5 1850.5h1.6M175.6 1892h1.6M233.5 1935.9h1.6M269.6 1866h1.6M175.5 1882.5h1.6M231.2 1945.1h1.6M257.9 1937.1h1.6M258.6 1819.8h1.6M272.2 1832.2h1.6M163.6 1860.8h1.6M273.2 1886.6h1.6M179 1928.4h1.6M195.7 1939.5h1.6M236.3 1805.1h1.6M196 1811.1h1.6M212.4 1804h1.6M267.2 1890.7h1.6M189.6 1936h1.6M176.2 1896.2h1.6M180.2 1917.3h1.6M247.9 1814.6h1.6M189 1814.8h1.6M188.2 1938h1.6M253.2 1781h1.6M181.7 1924h1.6M257.7 1832.7h1.6M216.2 1790h1.6M167.3 1858.3h1.6M235.6 1933.6h1.6M259.4 1841.6h1.6M280.6 1807.4h1.6M270.9 1867.2h1.6M268.1 1837.8h1.6M172.3 1880.2h1.6M219.2 1933.1h1.6M283.3 1886.8h1.6M168.2 1878.3h1.6M179.1 1922.2h1.6M239.1 1809.5h1.6M215.4 1799.1h1.6M240.2 1807.2h1.6M272.2 1836h1.6M179.8 1924.4h1.6M216.3 1941.1h1.6M231.6 1792.8h1.6M271.1 1874.1h1.6M237.1 1805.3h1.6M263.3 1850.8h1.6M223.9 1939h1.6M175.5 1853.9h1.6M262 1851.3h1.6M231.6 1785.7h1.6M268.7 1866.5h1.6M169.9 1844.4h1.6M266.8 1867h1.6M169.1 1828.6h1.6M175 1853.8h1.6M241.8 1798.9h1.6M175.8 1894.8h1.6M259.6 1941.9h1.6M180.4 1923.7h1.6M173.4 1807.4h1.6M220.8 1943.6h1.6M148.3 1875.4h1.6M259.4 1800.8h1.6M214.3 1801.6h1.6M232.1 1935.5h1.6M194.5 1941.9h1.6M283 1820.3h1.6M149.4 1861h1.6M235.8 1812.9h1.6M209.7 1804.3h1.6M268.5 1880.5h1.6M171.6 1876.3h1.6M165 1828.3h1.6M163.5 1871.3h1.6M284.6 1899.3h1.6M205 1806.1h1.6M263.7 1927.9h1.6M236.2 1808.4h1.6M271.6 1824.3h1.6M216.5 1941.5h1.6M245.3 1783.9h1.6M192.2 1807.6h1.6M239.1 1944.2h1.6M233.3 1792.4h1.6M243.8 1937.6h1.6M264.4 1903.5h1.6M253.5 1797.7h1.6M233.1 1943.1h1.6M237.8 1933.6h1.6M209.9 1806.2h1.6M232.9 1941.3h1.6M259 1810.9h1.6M237.1 1782.8h1.6M243.6 1807.7h1.6M268.8 1898.3h1.6M200.4 1808.7h1.6M166.1 1818.5h1.6M149 1844.4h1.6M264.2 1795.1h1.6M278.4 1883.2h1.6M258.8 1936.5h1.6M256 1931.4h1.6M284.3 1868.4h1.6M223.4 1788.9h1.6M189.7 1940.2h1.6M233.6 1942h1.6M216.6 1803.8h1.6M264.6 1862h1.6M276.1 1914.5h1.6M218.2 1932.6h1.6M200.2 1787.9h1.6M266.8 1875.2h1.6M226.7 1933.4h1.6M263.5 1829.9h1.6M275.5 1902.8h1.6M271.5 1871.5h1.6M286.1 1890.5h1.6M265.9 1872.6h1.6M158.9 1855.5h1.6M273.2 1876.2h1.6M221.5 1942.1h1.6M261.5 1932.8h1.6M194.6 1802.2h1.6M160.5 1929.1h1.6M263.3 1846.2h1.6M218.4 1940.3h1.6M182.7 1813.8h1.6M186.5 1823.2h1.6M223.4 1786.8h1.6M256.3 1828.5h1.6M166.2 1921.9h1.6M265.3 1929.9h1.6M201.2 1811.1h1.6M282.8 1839h1.6M168.1 1912.9h1.6M176.1 1853.8h1.6M214.4 1803h1.6M243 1943.3h1.6M170.5 1808.4h1.6M256.1 1815.1h1.6M170.1 1910h1.6M262.3 1862.2h1.6M268 1912.7h1.6M173 1896.1h1.6M223.2 1799.9h1.6M172.8 1829.9h1.6M284.7 1889.9h1.6M199.2 1789.1h1.6M192.3 1937.1h1.6M156.8 1812.6h1.6M241.3 1790.7h1.6M162.9 1885.1h1.6M177.5 1910.5h1.6M266.2 1911.1h1.6M215 1801h1.6M185.5 1824.2h1.6M280.2 1850.9h1.6M240.1 1809.9h1.6M215.8 1803h1.6M163.9 1812.5h1.6M227.2 1942.7h1.6M178.1 1921h1.6M280.9 1834.8h1.6M248.5 1805h1.6M264.2 1854.9h1.6M204.3 1944.6h1.6M261 1816.4h1.6M276 1866.9h1.6M219.5 1932.1h1.6M167.4 1846.8h1.6M202 1793.2h1.6M222 1929.7h1.6M260.2 1799.7h1.6M271.5 1877.1h1.6M253.9 1805.4h1.6M210.9 1781.3h1.6M174.1 1877.4h1.6M244.8 1782.7h1.6M278 1931.7h1.6M177.7 1866.6h1.6M170.3 1913h1.6M263.2 1865.9h1.6M272.6 1856.3h1.6M264.7 1835.5h1.6M258.8 1849.7h1.6M264.2 1844.4h1.6M272.4 1861.4h1.6" stroke="#000" stroke-opacity="0.27" stroke-width="1.6" fill="none"/>
<path d="M175.3 1881L178.1 1867.9L176.2 1854.8L182.7 1841.7L183.7 1830.5L190.2 1821.2L197.7 1813.7L205.1 1809L214.5 1807.2L220.1 1802.5L225.7 1798.8L233.2 1799.7L236.9 1806.2L231.3 1813.7L242.5 1812.8L251.9 1817.4L255.6 1830.5L257.5 1845.5L261.2 1858.5L263.1 1873.5L266.8 1879.1L262.1 1888.4L264.9 1901.5L261.2 1910.9L264.9 1916.5L257.5 1923.9L251.9 1931.4L242.5 1937.9L236.9 1932.3L232.8 1931.4L230.7 1941.7L228.7 1933.3L220.1 1926.7L212.6 1935.1L205.1 1940.7L195.8 1938.9L188.3 1931.4L182.7 1923.9L180.9 1909L178.1 1897.8L179 1888.4Z" fill="#fff"/>
<path d="M212 1879.1h9v8.9h-9z" fill="#252525"/><path d="M212 1887.7h9v8.9h-9z" fill="#333333"/><path d="M220.7 1870.4h9v8.9h-9z" fill="#595959"/><path d="M212 1870.4h9v8.9h-9z" fill="#5a5a5a"/><path d="M220.7 1879.1h9v8.9h-9z" fill="#616161"/><path d="M220.7 1887.7h9v8.9h-9z" fill="#656565"/><path d="M203.3 1879.1h9v8.9h-9z" fill="#777777"/><path d="M212 1861.8h9v8.9h-9z" fill="#7d7d7d"/><path d="M212 1896.3h9v8.9h-9z" fill="#808080"/><path d="M220.7 1861.8h9v8.9h-9z" fill="#818181"/><path d="M203.3 1853.2h9v8.9h-9zM220.7 1896.3h9v8.9h-9z" fill="#838383"/><path d="M220.7 1904.9h9v8.9h-9zM229.4 1887.7h9v8.9h-9z" fill="#868686"/><path d="M220.7 1853.2h9v8.9h-9zM229.4 1870.4h9v8.9h-9zM229.4 1879.1h9v8.9h-9z" fill="#898989"/><path d="M212 1853.2h9v8.9h-9z" fill="#8a8a8a"/><path d="M229.4 1896.3h9v8.9h-9z" fill="#8c8c8c"/><path d="M203.3 1887.7h9v8.9h-9zM212 1904.9h9v8.9h-9zM229.4 1913.6h9v8.9h-9z" fill="#8d8d8d"/><path d="M229.4 1904.9h9v8.9h-9zM238.1 1896.3h9v8.9h-9z" fill="#8e8e8e"/><path d="M203.3 1844.5h9v8.9h-9z" fill="#909090"/><path d="M203.3 1861.8h9v8.9h-9z" fill="#919191"/><path d="M203.3 1870.4h9v8.9h-9z" fill="#939393"/><path d="M203.3 1896.3h9v8.9h-9z" fill="#989898"/><path d="M238.1 1887.7h9v8.9h-9z" fill="#9a9a9a"/><path d="M194.7 1879.1h9v8.9h-9z" fill="#9b9b9b"/><path d="M212 1844.5h9v8.9h-9z" fill="#9c9c9c"/><path d="M194.7 1887.7h9v8.9h-9zM203.3 1904.9h9v8.9h-9z" fill="#9d9d9d"/><path d="M220.7 1844.5h9v8.9h-9z" fill="#a7a7a7"/><path d="M229.4 1861.8h9v8.9h-9z" fill="#a8a8a8"/><path d="M212 1913.6h9v8.9h-9z" fill="#afafaf"/><path d="M220.7 1913.6h9v8.9h-9zM238.1 1904.9h9v8.9h-9z" fill="#b2b2b2"/><path d="M194.7 1870.4h9v8.9h-9z" fill="#b5b5b5"/><path d="M194.7 1896.3h9v8.9h-9zM203.3 1913.6h9v8.9h-9z" fill="#b6b6b6"/><path d="M238.1 1879.1h9v8.9h-9z" fill="#b9b9b9"/><path d="M212 1827.3h9v8.9h-9zM229.4 1835.9h9v8.9h-9z" fill="#bcbcbc"/><path d="M246.7 1879.1h9v8.9h-9z" fill="#bebebe"/><path d="M238.1 1853.2h9v8.9h-9z" fill="#bfbfbf"/><path d="M212 1835.9h9v8.9h-9zM238.1 1870.4h9v8.9h-9z" fill="#c0c0c0"/><path d="M194.7 1861.8h9v8.9h-9zM238.1 1844.5h9v8.9h-9zM238.1 1861.8h9v8.9h-9z" fill="#c3c3c3"/><path d="M203.3 1827.3h9v8.9h-9z" fill="#c4c4c4"/><path d="M229.4 1853.2h9v8.9h-9z" fill="#c6c6c6"/><path d="M220.7 1827.3h9v8.9h-9zM246.7 1887.7h9v8.9h-9z" fill="#c7c7c7"/><path d="M203.3 1922.2h9v8.9h-9z" fill="#c8c8c8"/><path d="M194.7 1853.2h9v8.9h-9zM194.7 1913.6h9v8.9h-9z" fill="#c9c9c9"/><path d="M194.7 1922.2h9v8.9h-9zM220.7 1835.9h9v8.9h-9z" fill="#cacaca"/><path d="M186 1870.4h9v8.9h-9zM186 1879.1h9v8.9h-9zM246.7 1861.8h9v8.9h-9z" fill="#cccccc"/><path d="M186 1896.3h9v8.9h-9z" fill="#cdcdcd"/><path d="M194.7 1844.5h9v8.9h-9zM194.7 1904.9h9v8.9h-9zM203.3 1835.9h9v8.9h-9zM229.4 1844.5h9v8.9h-9z" fill="#cecece"/><path d="M194.7 1835.9h9v8.9h-9z" fill="#cfcfcf"/><path d="M246.7 1853.2h9v8.9h-9z" fill="#d1d1d1"/><path d="M238.1 1913.6h9v8.9h-9z" fill="#d2d2d2"/><path d="M186 1861.8h9v8.9h-9zM203.3 1818.7h9v8.9h-9zM238.1 1922.2h9v8.9h-9zM246.7 1870.4h9v8.9h-9z" fill="#d4d4d4"/><path d="M186 1904.9h9v8.9h-9z" fill="#d7d7d7"/><path d="M186 1887.7h9v8.9h-9zM194.7 1930.8h9v8.9h-9z" fill="#dadada"/><path d="M194.7 1827.3h9v8.9h-9zM229.4 1922.2h9v8.9h-9z" fill="#e0e0e0"/><path d="M246.7 1896.3h9v8.9h-9z" fill="#e1e1e1"/><path d="M255.4 1870.4h9v8.9h-9z" fill="#e2e2e2"/><path d="M186 1844.5h9v8.9h-9zM212 1922.2h9v8.9h-9zM255.4 1879.1h9v8.9h-9z" fill="#e3e3e3"/><path d="M177.3 1861.8h9v8.9h-9zM186 1922.2h9v8.9h-9zM220.7 1922.2h9v8.9h-9zM246.7 1844.5h9v8.9h-9z" fill="#e4e4e4"/><path d="M186 1913.6h9v8.9h-9zM238.1 1835.9h9v8.9h-9z" fill="#e5e5e5"/><path d="M212 1818.7h9v8.9h-9z" fill="#e6e6e6"/><path d="M177.3 1879.1h9v8.9h-9z" fill="#e7e7e7"/><path d="M220.7 1818.7h9v8.9h-9zM255.4 1861.8h9v8.9h-9z" fill="#e8e8e8"/><path d="M177.3 1904.9h9v8.9h-9zM229.4 1827.3h9v8.9h-9z" fill="#e9e9e9"/><path d="M186 1853.2h9v8.9h-9z" fill="#eaeaea"/><path d="M177.3 1870.4h9v8.9h-9zM186 1827.3h9v8.9h-9zM238.1 1810h9v8.9h-9z" fill="#ebebeb"/><path d="M255.4 1896.3h9v8.9h-9z" fill="#ececec"/><path d="M212 1801.4h9v8.9h-9zM229.4 1810h9v8.9h-9zM238.1 1827.3h9v8.9h-9zM255.4 1913.6h9v8.9h-9z" fill="#ededed"/><path d="M212 1810h9v8.9h-9z" fill="#eeeeee"/><path d="M246.7 1835.9h9v8.9h-9zM246.7 1904.9h9v8.9h-9z" fill="#efefef"/><path d="M177.3 1887.7h9v8.9h-9zM238.1 1818.7h9v8.9h-9zM246.7 1922.2h9v8.9h-9zM255.4 1887.7h9v8.9h-9zM255.4 1904.9h9v8.9h-9z" fill="#f0f0f0"/><path d="M220.7 1810h9v8.9h-9zM246.7 1827.3h9v8.9h-9z" fill="#f1f1f1"/><path d="M246.7 1818.7h9v8.9h-9z" fill="#f2f2f2"/><path d="M186 1818.7h9v8.9h-9zM186 1835.9h9v8.9h-9zM194.7 1818.7h9v8.9h-9z" fill="#f3f3f3"/><path d="M177.3 1844.5h9v8.9h-9zM246.7 1913.6h9v8.9h-9z" fill="#f4f4f4"/><path d="M177.3 1853.2h9v8.9h-9zM177.3 1913.6h9v8.9h-9zM203.3 1810h9v8.9h-9zM203.3 1930.8h9v8.9h-9zM220.7 1801.4h9v8.9h-9zM229.4 1801.4h9v8.9h-9zM229.4 1818.7h9v8.9h-9z" fill="#f6f6f6"/><path d="M177.3 1896.3h9v8.9h-9z" fill="#f7f7f7"/><path d="M177.3 1835.9h9v8.9h-9zM186 1930.8h9v8.9h-9zM229.4 1930.8h9v8.9h-9zM255.4 1844.5h9v8.9h-9z" fill="#f8f8f8"/><path d="M177.3 1827.3h9v8.9h-9zM203.3 1801.4h9v8.9h-9zM220.7 1792.8h9v8.9h-9zM246.7 1810h9v8.9h-9z" fill="#fafafa"/><path d="M194.7 1810h9v8.9h-9zM238.1 1930.8h9v8.9h-9z" fill="#fbfbfb"/><path d="M168.7 1879.1h9v8.9h-9zM177.3 1922.2h9v8.9h-9zM212 1930.8h9v8.9h-9zM220.7 1930.8h9v8.9h-9zM229.4 1792.8h9v8.9h-9zM229.4 1939.5h9v8.9h-9zM246.7 1930.8h9v8.9h-9zM255.4 1835.9h9v8.9h-9zM255.4 1853.2h9v8.9h-9zM255.4 1922.2h9v8.9h-9zM264.1 1870.4h9v8.9h-9zM264.1 1879.1h9v8.9h-9z" fill="#fcfcfc"/>

<path d="M190.2 1948.1V1775.5" stroke="#000" stroke-width="2.9" stroke-dasharray="10.6 5.1" fill="none"/>
<path d="M233.7 1948.1V1775.5" stroke="#000" stroke-width="2.9" stroke-dasharray="10.6 5.1" fill="none"/>
<path d="M116.6 1857.6H290.1" stroke="#000" stroke-width="2.9" stroke-dasharray="10.6 5.1" fill="none"/>
<path d="M116.6 1926.2H290.1" stroke="#000" stroke-width="2.9" stroke-dasharray="10.6 5.1" fill="none"/>
<path d="M175.3 1881L178.1 1867.9L176.2 1854.8L182.7 1841.7L183.7 1830.5L190.2 1821.2L197.7 1813.7L205.1 1809L214.5 1807.2L220.1 1802.5L225.7 1798.8L233.2 1799.7L236.9 1806.2L231.3 1813.7L242.5 1812.8L251.9 1817.4L255.6 1830.5L257.5 1845.5L261.2 1858.5L263.1 1873.5L266.8 1879.1L262.1 1888.4L264.9 1901.5L261.2 1910.9L264.9 1916.5L257.5 1923.9L251.9 1931.4L242.5 1937.9L236.9 1932.3L232.8 1931.4L230.7 1941.7L228.7 1933.3L220.1 1926.7L212.6 1935.1L205.1 1940.7L195.8 1938.9L188.3 1931.4L182.7 1923.9L180.9 1909L178.1 1897.8L179 1888.4Z" stroke="#000" stroke-width="3.1" fill="none" stroke-linejoin="round"/>
<path d="M188.3 1879.1L190.2 1864.1L195.8 1852.9L194.9 1845.5L201.4 1834.3L205.1 1821.2L212.6 1824L220.1 1826.8L227.6 1825.8L233.2 1831.5L238.8 1839.9L248.1 1845.5L251.9 1856.7L253.7 1871.6L255.6 1886.6L250 1901.5L244.4 1912.7L242.5 1927.7L236.9 1929.5L227.6 1924.9L220.1 1925.8L212.6 1929.5L205.1 1927.7L199.5 1937L194.9 1933.3L192.1 1920.2L190.2 1907.1L187.4 1894Z" stroke="#000" stroke-width="3.1" fill="none" stroke-linejoin="round"/>
<path d="M195.8 1882.8L199.5 1877.2L205.1 1873.5L203.3 1862.3L204.2 1849.2L209.8 1845.5L220.1 1846.4L227.6 1849.2L231.3 1860.4L236.9 1871.6L242.5 1886.6L246.3 1897.8L240.6 1907.1L236.9 1922.1L229.4 1920.2L220.1 1914.6L210.8 1916.5L202.3 1917.4L207 1905.3L201.4 1897.8L197.7 1890.3Z" stroke="#000" stroke-width="3.1" fill="none" stroke-linejoin="round"/>
<path d="M209.8 1886.6L214.5 1877.2L218.2 1868.8L225.7 1872.6L227.6 1879.1L222 1886.6L223.8 1897.8L220.1 1901.5L212.6 1892.2Z" stroke="#000" stroke-width="3.1" fill="none" stroke-linejoin="round"/>
<path d="M121.9 1948.1v-7M121.9 1775.5v7M133.1 1948.1v-7M133.1 1775.5v7M144.2 1948.1v-7M144.2 1775.5v7M155.4 1948.1v-7M155.4 1775.5v7M166.5 1948.1v-7M166.5 1775.5v7M177.7 1948.1v-14.3M177.7 1775.5v14.3M188.8 1948.1v-7M188.8 1775.5v7M200 1948.1v-7M200 1775.5v7M211.1 1948.1v-7M211.1 1775.5v7M222.3 1948.1v-7M222.3 1775.5v7M233.4 1948.1v-14.3M233.4 1775.5v14.3M244.6 1948.1v-7M244.6 1775.5v7M255.8 1948.1v-7M255.8 1775.5v7M266.9 1948.1v-7M266.9 1775.5v7M278.1 1948.1v-7M278.1 1775.5v7M116.6 1783.5h7M290.1 1783.5h-7M116.6 1792.2h7M290.1 1792.2h-7M116.6 1801h7M290.1 1801h-7M116.6 1809.7h7M290.1 1809.7h-7M116.6 1818.4h14.3M290.1 1818.4h-14.3M116.6 1827.1h7M290.1 1827.1h-7M116.6 1835.8h7M290.1 1835.8h-7M116.6 1844.6h7M290.1 1844.6h-7M116.6 1853.3h7M290.1 1853.3h-7M116.6 1862h14.3M290.1 1862h-14.3M116.6 1870.7h7M290.1 1870.7h-7M116.6 1879.4h7M290.1 1879.4h-7M116.6 1888.2h7M290.1 1888.2h-7M116.6 1896.9h7M290.1 1896.9h-7M116.6 1905.6h14.3M290.1 1905.6h-14.3M116.6 1914.3h7M290.1 1914.3h-7M116.6 1923h7M290.1 1923h-7M116.6 1931.8h7M290.1 1931.8h-7M116.6 1940.5h7M290.1 1940.5h-7" stroke="#000" stroke-width="2.4" fill="none"/>
<path d="M215.4 1775.5V1948.1" stroke="#db2224" stroke-width="4.3" fill="none"/>
<path d="M116.6 1892.2H290.1" stroke="#db2224" stroke-width="4.3" fill="none"/>
<rect x="116.6" y="1775.5" width="173.5" height="172.6" fill="none" stroke="#000" stroke-width="2.75"/>
</g>
<path d="M240.3 1855.9L242.9 1855.9L242.9 1858.5L240.3 1858.5Z" fill="#000"/>
<g>
<path d="M370.4 1818h1.6M453.6 1901.5h1.6M439.6 1820.4h1.6M362.1 1833.7h1.6M399.9 1781.5h1.6M409.6 1942.9h1.6M366.5 1812.9h1.6M444.3 1912h1.6M444.8 1857.9h1.6M361.6 1817.6h1.6M332.3 1916h1.6M443.8 1870.1h1.6M432.7 1814.1h1.6M364.4 1820h1.6M347.4 1884h1.6M427.7 1809.1h1.6M435.1 1814.9h1.6M375.8 1805.1h1.6M450.3 1876.7h1.6M372.5 1806.5h1.6M347.4 1936.1h1.6M425.8 1789.7h1.6M376.6 1813.8h1.6M447.6 1932.3h1.6M453 1858.3h1.6M455.8 1894.3h1.6M450.6 1858.5h1.6M415.8 1799h1.6M370.7 1788.1h1.6M453 1820.7h1.6M457 1843h1.6M362.4 1785.4h1.6M444.3 1816.4h1.6M402.4 1798.4h1.6M431.9 1811.7h1.6M371.7 1809.2h1.6M351.4 1859.6h1.6M397.5 1933.3h1.6M355.7 1892.3h1.6M353.7 1863.5h1.6M337.2 1892.3h1.6M353.5 1789.3h1.6M420.2 1805.1h1.6M355.2 1829.6h1.6M445.7 1853.5h1.6M424 1794.2h1.6M359 1805.9h1.6M412.9 1944.9h1.6M426.6 1812.2h1.6M429.7 1936.8h1.6M446 1884.4h1.6M357 1912.6h1.6M350 1840.3h1.6M357.5 1888.1h1.6M359.4 1843h1.6M410.1 1796.1h1.6M340.5 1848.2h1.6M393.5 1943.2h1.6M356.4 1802.4h1.6M422.2 1793.9h1.6M356.8 1849.8h1.6M442.6 1935.8h1.6M438.5 1838h1.6M455.4 1893.7h1.6M456.9 1912.8h1.6M436.5 1779.9h1.6M453 1869.6h1.6M349.5 1901.8h1.6M358.2 1834.1h1.6M398 1793.8h1.6M402.7 1936.9h1.6M420.4 1794.5h1.6M355.6 1896.5h1.6M367 1807.5h1.6M406.8 1798.1h1.6M423.2 1942.6h1.6M351.7 1878.1h1.6M355.4 1846h1.6M413.5 1786.6h1.6M399.5 1932.2h1.6M376.6 1792.1h1.6M354.9 1875.3h1.6M337.6 1860h1.6M395.5 1787.6h1.6M417.7 1786.1h1.6M438.2 1812.5h1.6M361.6 1823.5h1.6M335.5 1877.7h1.6M432.5 1805.6h1.6M444.2 1848.9h1.6M433.7 1791.1h1.6M372.3 1941.6h1.6M416.4 1793.7h1.6M444.8 1871.9h1.6M447.5 1848.7h1.6M328.4 1867.5h1.6M460.5 1924.7h1.6M398.4 1801h1.6M380.1 1941.2h1.6M356.6 1897.4h1.6M363.1 1812.2h1.6M354.8 1874.4h1.6M422.9 1806.1h1.6M354.8 1839.9h1.6M435.8 1817.7h1.6M419.8 1803.4h1.6M358.9 1903.4h1.6M364.1 1931.2h1.6M426 1786.4h1.6M398.1 1938.1h1.6M428.7 1778.6h1.6M368 1816.3h1.6M409.6 1933.4h1.6M355.5 1842.6h1.6M447.7 1918.4h1.6M418.1 1938.7h1.6M362.9 1811.6h1.6M444.3 1824.3h1.6M398.6 1935.9h1.6M412.5 1798.4h1.6M441.5 1838.1h1.6M420.3 1801.2h1.6M359.9 1935.5h1.6M394.6 1787.8h1.6M389.6 1801.8h1.6M362 1802.3h1.6M407.2 1798.4h1.6M356.5 1832.8h1.6M393.9 1807h1.6M386.8 1807.8h1.6M440.3 1942.5h1.6M432.7 1813.6h1.6M429.6 1779.7h1.6M446.6 1868.1h1.6M427.4 1790.4h1.6M359.8 1813.6h1.6M385.5 1780.1h1.6M375.5 1797.4h1.6M414.3 1931.8h1.6M417.3 1933.3h1.6M412.1 1943.5h1.6M434.5 1816.3h1.6M351.3 1900.4h1.6M364.3 1781h1.6M431.5 1784.9h1.6M348 1918.6h1.6M443.5 1853.1h1.6M371.1 1804.6h1.6M421.7 1789.3h1.6M391.6 1938.6h1.6M441.6 1835.6h1.6M343.5 1849.6h1.6M454.5 1872.3h1.6M354.7 1840.7h1.6M398.3 1796.9h1.6M407 1789.6h1.6M403.3 1929.9h1.6M353.2 1892h1.6M372.4 1937.6h1.6M359.5 1828h1.6M456.9 1930.6h1.6M413.7 1782h1.6M340.1 1888.1h1.6M430.5 1797.4h1.6M360.9 1935.2h1.6M445.2 1922h1.6M397.6 1801.3h1.6M427.6 1788.8h1.6M350.2 1854.7h1.6M453.7 1853.1h1.6M395.9 1803.6h1.6M420.6 1804.6h1.6M451.1 1859.2h1.6M390.7 1944.4h1.6M446.8 1873.1h1.6M445.1 1821.1h1.6M354.2 1858.1h1.6M443.8 1813.5h1.6M367.2 1816.3h1.6M357.9 1903h1.6M421.6 1941.7h1.6M450.1 1834.7h1.6M390.2 1806.2h1.6M347.8 1809.9h1.6M431.6 1806.8h1.6M356.8 1839.2h1.6M354.2 1826.1h1.6M350.5 1896.4h1.6M445.7 1821.8h1.6M372.2 1814.3h1.6M362.1 1920.6h1.6M356.4 1814.5h1.6M442.7 1860.6h1.6M364.9 1822.6h1.6M425.6 1800.9h1.6M454.8 1816.2h1.6M418.7 1802.6h1.6M425.2 1780.7h1.6M361.3 1832.3h1.6M370.7 1800.4h1.6M353 1835.4h1.6M332 1871h1.6M404.5 1930.1h1.6M355.3 1876h1.6M441 1922.2h1.6M357.7 1903h1.6M418.8 1812h1.6M416.9 1937.1h1.6M362.8 1918.7h1.6M364.5 1821h1.6M463.6 1889.9h1.6M341.3 1912.1h1.6M440 1823.8h1.6M381.4 1786.6h1.6M419.8 1791.9h1.6M460.9 1839h1.6M419.7 1810.6h1.6M392.3 1943.8h1.6M384.2 1806.6h1.6M442.6 1834.2h1.6M339.7 1914.6h1.6M392.8 1799.6h1.6M439.9 1838.6h1.6M459.3 1938.7h1.6M435.3 1808.7h1.6M376.7 1807.8h1.6M386.5 1797.5h1.6M340.9 1862.1h1.6M377.5 1939.7h1.6M358.8 1917.7h1.6M347.7 1817.8h1.6M453.4 1810.1h1.6M375.7 1802.3h1.6M399.9 1935.2h1.6M353.3 1877.4h1.6M450.5 1899.3h1.6M355.4 1909.1h1.6M453.4 1861.1h1.6M336.9 1865.6h1.6M460.5 1917.5h1.6M427.6 1807.9h1.6M444 1787h1.6M457 1860.9h1.6M357 1895.2h1.6M358.1 1834.3h1.6M354.5 1867.6h1.6M462.1 1842.1h1.6M355.8 1888.5h1.6M361.5 1843.8h1.6M400.5 1802.4h1.6M403.9 1942.2h1.6M371.4 1812.2h1.6M411.1 1787.7h1.6M399.7 1937.5h1.6M440.5 1801.3h1.6M418.9 1809.7h1.6M440.1 1848.5h1.6M440 1850.2h1.6M428.9 1805.9h1.6M356.8 1915.3h1.6M354.6 1868.1h1.6M369.5 1799.8h1.6M443.8 1860.5h1.6M424.6 1944.9h1.6M449.6 1861.3h1.6M356.5 1866.5h1.6M458.8 1805.6h1.6M384.7 1797.7h1.6M442.9 1843.2h1.6M371.2 1809.3h1.6M437.6 1834.6h1.6M352.7 1841.1h1.6M447 1866.4h1.6M361.2 1931.3h1.6M380 1943.3h1.6M460.5 1849h1.6M373.5 1942.2h1.6M343.9 1829.5h1.6M411 1796.1h1.6M440.9 1835.7h1.6M420 1780.2h1.6M438.5 1845.2h1.6M340.7 1836.2h1.6M443.1 1846.8h1.6M372.9 1817.4h1.6M466.4 1856.4h1.6M455.1 1915.3h1.6M404 1931.9h1.6M391.1 1803.6h1.6M421.3 1802.7h1.6M442.5 1929.8h1.6M358.8 1837.4h1.6M370.7 1942.2h1.6M462.7 1876h1.6M407.5 1788.7h1.6M394.8 1803.7h1.6M357.1 1833h1.6M361.3 1816h1.6M455 1889.8h1.6M358.3 1830.2h1.6M446.4 1822.2h1.6M346.4 1867.5h1.6M448.2 1904.3h1.6M355.8 1860.8h1.6M425.1 1939.1h1.6M361.6 1916.2h1.6M358.2 1937.6h1.6M425.4 1799.2h1.6M352 1853.9h1.6M448.7 1856.9h1.6M415 1797.6h1.6M364 1822.1h1.6M372 1810.6h1.6M441.5 1835h1.6M436.6 1824.9h1.6M361 1911.2h1.6M367.1 1806.5h1.6M390.6 1785.4h1.6M446.1 1886.7h1.6M363.4 1834.9h1.6M434.5 1810.2h1.6M444.5 1872.6h1.6M358.7 1821.7h1.6M404.5 1938.8h1.6M418.1 1812.8h1.6M456.8 1907.2h1.6M359.7 1828h1.6M448.3 1849h1.6M384.4 1943h1.6M360.8 1935.4h1.6M411.8 1794.3h1.6M341.6 1889h1.6M355.6 1890.9h1.6M457.8 1863.6h1.6M458.2 1892.5h1.6M392.9 1798.7h1.6M461.9 1887.6h1.6M365.7 1819.5h1.6M348.8 1872.8h1.6M446.3 1885.6h1.6M351.4 1900.2h1.6M360.7 1840h1.6M357.4 1867.5h1.6M342.5 1912.6h1.6M461.8 1842.2h1.6M358.7 1812.5h1.6M440.1 1842.5h1.6M419.3 1794.2h1.6M426.6 1786.3h1.6M423.3 1809.2h1.6M334.4 1871.5h1.6M376.8 1798.9h1.6M426.9 1812.6h1.6M441.1 1845.6h1.6M418.7 1796.4h1.6M382.5 1940.5h1.6M449.3 1841.5h1.6M450.3 1846.4h1.6M356.4 1878h1.6M454 1812.9h1.6M399.6 1783.2h1.6M388.7 1782.9h1.6M361.4 1912.7h1.6M450.7 1870.7h1.6M424.8 1792.9h1.6M358.1 1886.8h1.6M453.1 1920.8h1.6M446.9 1906.7h1.6M448.2 1824.7h1.6M349.9 1879.9h1.6M310.5 1847.8h1.6M455.1 1850.7h1.6M344.1 1897.7h1.6M430.8 1804.5h1.6M452.8 1890.5h1.6M444.8 1943h1.6M392.9 1797.8h1.6M445.3 1856h1.6M448.7 1888.4h1.6M385.6 1796h1.6M437.9 1811.3h1.6M440.4 1822.9h1.6M455.3 1903.6h1.6M464.4 1872.5h1.6M411.6 1781.5h1.6M382.9 1796.1h1.6M342 1862.3h1.6M391.7 1799h1.6M398 1799h1.6M420.8 1935.9h1.6M354.7 1866.6h1.6M446.1 1851.4h1.6M356.6 1851.1h1.6M397.5 1798.4h1.6M457.1 1852h1.6M449 1836.9h1.6M383.3 1789.2h1.6M409.9 1798.3h1.6M393 1795.8h1.6M441.8 1841.8h1.6M455.6 1944.8h1.6M414.1 1939.2h1.6M423.9 1796.6h1.6M384.8 1804.9h1.6M384 1805.1h1.6M345.6 1887.6h1.6M369.6 1818.7h1.6M385.1 1787.8h1.6M418.3 1798.9h1.6M347.5 1810.2h1.6M455.8 1876.3h1.6M458.4 1825.4h1.6M372.4 1781.6h1.6M465.6 1814.4h1.6M425.2 1798.1h1.6M353.9 1885.3h1.6M452.3 1849h1.6M437.9 1796.8h1.6M347.9 1832.7h1.6M336.2 1855.7h1.6M447.4 1867.5h1.6M397.8 1798.8h1.6M421.6 1941.8h1.6M392.1 1779.7h1.6M351.8 1848.4h1.6M359.5 1828.7h1.6M451.6 1886.9h1.6M414.2 1935.6h1.6M445.8 1857.6h1.6M394.8 1798.2h1.6M401 1797.1h1.6M343.1 1877.5h1.6M419.8 1939.4h1.6M383.6 1940.6h1.6M402.4 1783.9h1.6M357.9 1836.5h1.6M407.2 1933.7h1.6M434.4 1808.4h1.6M414.2 1940.4h1.6M343.6 1839.9h1.6M453 1810.4h1.6M361.3 1928.8h1.6M351 1824.2h1.6M390.6 1937.5h1.6M463.1 1849.7h1.6M372.6 1784h1.6M397.1 1936.5h1.6M360.3 1925.3h1.6M442.5 1834.7h1.6M399.2 1803.8h1.6M354.7 1895.7h1.6M363.2 1841.7h1.6M462.7 1890.4h1.6M442.9 1821.5h1.6M349.2 1845.4h1.6M398.1 1804.2h1.6M402.2 1795.5h1.6M338.9 1910.6h1.6M366.7 1814.8h1.6M355.9 1845.4h1.6M393.2 1797.1h1.6M432.4 1802h1.6M354.1 1919.4h1.6M395.2 1934.9h1.6M450.8 1877.5h1.6M438.6 1799.6h1.6M447.1 1829.8h1.6M377.6 1785.9h1.6M344.7 1895.5h1.6M450.1 1915.4h1.6M393.2 1806.1h1.6M446.7 1862.9h1.6M349 1893.7h1.6M413.1 1781.1h1.6M443.8 1868.5h1.6M351.5 1851.5h1.6M445.1 1890.7h1.6M370.1 1811.5h1.6M396.2 1942h1.6M390.9 1803.5h1.6M384.4 1789.3h1.6M438.8 1842.9h1.6M385 1802.5h1.6M445.9 1883h1.6M399 1935.5h1.6M455.8 1881.7h1.6M413 1942.6h1.6M342.7 1932.7h1.6M446 1818.6h1.6M401 1788.9h1.6M400.1 1943.6h1.6M379.3 1803.2h1.6M416.9 1940.1h1.6M366 1791.4h1.6M441.4 1799.9h1.6M357.4 1914.4h1.6M446.2 1840.6h1.6M447.2 1920.2h1.6M448.8 1845.1h1.6M358.9 1889.1h1.6M380.1 1802.7h1.6M399.1 1789.6h1.6M356.7 1826.5h1.6M409.7 1941.5h1.6M402 1930.7h1.6M357.1 1831h1.6M445.4 1918.5h1.6M453.5 1894.6h1.6M359.6 1833.3h1.6M447.6 1875.7h1.6M451.2 1811.1h1.6M405.9 1940.7h1.6M372 1935.1h1.6M338.3 1858.1h1.6M393.8 1804.7h1.6M365 1803.4h1.6M448.4 1787h1.6M356.7 1871.5h1.6M400.6 1796.2h1.6M395.9 1781.8h1.6M453.8 1887.9h1.6M448.9 1865.4h1.6M406.3 1933.2h1.6M355 1856.5h1.6M448 1906.8h1.6M451.1 1883.8h1.6M347.4 1871.7h1.6M361.1 1843.1h1.6M350.6 1832.7h1.6M355.6 1888h1.6M341.7 1877.7h1.6M355.5 1806.9h1.6M454.1 1836.3h1.6M351.2 1890h1.6M387.6 1804.9h1.6M367.3 1822.1h1.6M448.8 1880.7h1.6M387.2 1786.7h1.6M368.1 1806.7h1.6M422.2 1799.4h1.6M403.8 1932h1.6M335.5 1867.2h1.6M367.3 1940.2h1.6M357.7 1865.5h1.6M352.3 1851.1h1.6M402.2 1943.7h1.6M461.8 1901.8h1.6M463.3 1800.8h1.6M344.3 1893.6h1.6M418 1938.5h1.6M356.2 1812.7h1.6M444.7 1924.7h1.6M370.1 1794.8h1.6M460.8 1926.8h1.6M358.6 1805.8h1.6M437.4 1800h1.6M445.2 1885.4h1.6M399.1 1943.7h1.6M347.2 1852.5h1.6M398.1 1799.5h1.6" stroke="#000" stroke-opacity="0.27" stroke-width="1.6" fill="none"/>
<path d="M356.3 1881L359.1 1867.9L357.2 1854.8L363.7 1841.7L364.7 1830.5L371.2 1821.2L378.7 1813.7L386.1 1809L395.5 1807.2L401.1 1802.5L406.7 1798.8L414.2 1799.7L417.9 1806.2L412.3 1813.7L423.5 1812.8L432.9 1817.4L436.6 1830.5L438.5 1845.5L442.2 1858.5L444.1 1873.5L447.8 1879.1L443.1 1888.4L445.9 1901.5L442.2 1910.9L445.9 1916.5L438.5 1923.9L432.9 1931.4L423.5 1937.9L417.9 1932.3L413.8 1931.4L411.7 1941.7L409.7 1933.3L401.1 1926.7L393.6 1935.1L386.1 1940.7L376.8 1938.9L369.3 1931.4L363.7 1923.9L361.9 1909L359.1 1897.8L360 1888.4Z" fill="#fff"/>
<path d="M393.2 1887.7h9v8.9h-9z" fill="#2d2d2d"/><path d="M393.2 1879.1h9v8.9h-9z" fill="#303030"/><path d="M393.2 1870.4h9v8.9h-9z" fill="#4d4d4d"/><path d="M401.9 1870.4h9v8.9h-9z" fill="#5b5b5b"/><path d="M401.9 1879.1h9v8.9h-9z" fill="#676767"/><path d="M401.9 1887.7h9v8.9h-9z" fill="#6c6c6c"/><path d="M393.2 1896.3h9v8.9h-9z" fill="#737373"/><path d="M384.5 1879.1h9v8.9h-9z" fill="#797979"/><path d="M410.5 1870.4h9v8.9h-9z" fill="#7d7d7d"/><path d="M401.9 1861.8h9v8.9h-9z" fill="#7e7e7e"/><path d="M410.5 1896.3h9v8.9h-9z" fill="#7f7f7f"/><path d="M384.5 1853.2h9v8.9h-9zM410.5 1879.1h9v8.9h-9z" fill="#808080"/><path d="M384.5 1861.8h9v8.9h-9zM410.5 1887.7h9v8.9h-9z" fill="#818181"/><path d="M401.9 1896.3h9v8.9h-9z" fill="#848484"/><path d="M384.5 1896.3h9v8.9h-9zM393.2 1904.9h9v8.9h-9zM401.9 1853.2h9v8.9h-9z" fill="#868686"/><path d="M401.9 1904.9h9v8.9h-9z" fill="#878787"/><path d="M393.2 1853.2h9v8.9h-9z" fill="#888888"/><path d="M384.5 1887.7h9v8.9h-9z" fill="#898989"/><path d="M410.5 1913.6h9v8.9h-9z" fill="#8d8d8d"/><path d="M410.5 1904.9h9v8.9h-9zM419.2 1896.3h9v8.9h-9z" fill="#8f8f8f"/><path d="M384.5 1870.4h9v8.9h-9zM393.2 1861.8h9v8.9h-9z" fill="#919191"/><path d="M393.2 1844.5h9v8.9h-9z" fill="#939393"/><path d="M384.5 1844.5h9v8.9h-9z" fill="#959595"/><path d="M401.9 1844.5h9v8.9h-9z" fill="#9d9d9d"/><path d="M375.8 1879.1h9v8.9h-9zM384.5 1904.9h9v8.9h-9zM419.2 1887.7h9v8.9h-9z" fill="#9e9e9e"/><path d="M375.8 1887.7h9v8.9h-9z" fill="#a1a1a1"/><path d="M410.5 1861.8h9v8.9h-9z" fill="#a3a3a3"/><path d="M384.5 1913.6h9v8.9h-9z" fill="#aeaeae"/><path d="M419.2 1879.1h9v8.9h-9z" fill="#b0b0b0"/><path d="M401.9 1913.6h9v8.9h-9z" fill="#b3b3b3"/><path d="M419.2 1904.9h9v8.9h-9z" fill="#b8b8b8"/><path d="M375.8 1861.8h9v8.9h-9z" fill="#bcbcbc"/><path d="M375.8 1870.4h9v8.9h-9zM375.8 1904.9h9v8.9h-9zM410.5 1853.2h9v8.9h-9zM427.9 1879.1h9v8.9h-9z" fill="#bdbdbd"/><path d="M393.2 1913.6h9v8.9h-9z" fill="#bfbfbf"/><path d="M419.2 1861.8h9v8.9h-9z" fill="#c1c1c1"/><path d="M393.2 1827.3h9v8.9h-9z" fill="#c2c2c2"/><path d="M401.9 1835.9h9v8.9h-9z" fill="#c3c3c3"/><path d="M375.8 1853.2h9v8.9h-9zM384.5 1835.9h9v8.9h-9z" fill="#c4c4c4"/><path d="M401.9 1827.3h9v8.9h-9z" fill="#c6c6c6"/><path d="M375.8 1896.3h9v8.9h-9z" fill="#c8c8c8"/><path d="M367.1 1870.4h9v8.9h-9zM427.9 1870.4h9v8.9h-9z" fill="#c9c9c9"/><path d="M375.8 1922.2h9v8.9h-9zM384.5 1827.3h9v8.9h-9zM410.5 1835.9h9v8.9h-9zM419.2 1870.4h9v8.9h-9z" fill="#cacaca"/><path d="M375.8 1844.5h9v8.9h-9zM419.2 1853.2h9v8.9h-9z" fill="#cbcbcb"/><path d="M375.8 1835.9h9v8.9h-9z" fill="#cccccc"/><path d="M367.1 1861.8h9v8.9h-9zM419.2 1913.6h9v8.9h-9zM427.9 1887.7h9v8.9h-9z" fill="#cdcdcd"/><path d="M375.8 1913.6h9v8.9h-9zM384.5 1818.7h9v8.9h-9zM393.2 1835.9h9v8.9h-9zM419.2 1844.5h9v8.9h-9zM427.9 1853.2h9v8.9h-9z" fill="#cecece"/><path d="M367.1 1896.3h9v8.9h-9zM384.5 1922.2h9v8.9h-9z" fill="#cfcfcf"/><path d="M410.5 1844.5h9v8.9h-9z" fill="#d0d0d0"/><path d="M410.5 1922.2h9v8.9h-9zM427.9 1861.8h9v8.9h-9z" fill="#d1d1d1"/><path d="M367.1 1879.1h9v8.9h-9zM393.2 1922.2h9v8.9h-9z" fill="#d3d3d3"/><path d="M367.1 1887.7h9v8.9h-9z" fill="#d4d4d4"/><path d="M375.8 1930.8h9v8.9h-9z" fill="#d9d9d9"/><path d="M393.2 1818.7h9v8.9h-9z" fill="#dbdbdb"/><path d="M401.9 1922.2h9v8.9h-9z" fill="#dcdcdc"/><path d="M367.1 1913.6h9v8.9h-9z" fill="#dfdfdf"/><path d="M375.8 1827.3h9v8.9h-9zM401.9 1818.7h9v8.9h-9zM410.5 1827.3h9v8.9h-9zM419.2 1922.2h9v8.9h-9z" fill="#e2e2e2"/><path d="M358.5 1887.7h9v8.9h-9zM367.1 1844.5h9v8.9h-9zM427.9 1896.3h9v8.9h-9zM427.9 1913.6h9v8.9h-9zM436.6 1879.1h9v8.9h-9z" fill="#e3e3e3"/><path d="M367.1 1904.9h9v8.9h-9zM384.5 1810h9v8.9h-9z" fill="#e4e4e4"/><path d="M427.9 1818.7h9v8.9h-9zM427.9 1922.2h9v8.9h-9z" fill="#e6e6e6"/><path d="M358.5 1879.1h9v8.9h-9zM401.9 1810h9v8.9h-9z" fill="#e7e7e7"/><path d="M419.2 1835.9h9v8.9h-9z" fill="#e8e8e8"/><path d="M358.5 1861.8h9v8.9h-9zM367.1 1827.3h9v8.9h-9zM427.9 1844.5h9v8.9h-9z" fill="#e9e9e9"/><path d="M436.6 1896.3h9v8.9h-9z" fill="#eaeaea"/><path d="M367.1 1835.9h9v8.9h-9z" fill="#ebebeb"/><path d="M358.5 1870.4h9v8.9h-9zM410.5 1818.7h9v8.9h-9z" fill="#ececec"/><path d="M367.1 1853.2h9v8.9h-9z" fill="#ededed"/><path d="M410.5 1810h9v8.9h-9zM436.6 1861.8h9v8.9h-9z" fill="#eeeeee"/><path d="M367.1 1922.2h9v8.9h-9zM419.2 1818.7h9v8.9h-9zM427.9 1835.9h9v8.9h-9z" fill="#efefef"/><path d="M401.9 1801.4h9v8.9h-9z" fill="#f1f1f1"/><path d="M375.8 1818.7h9v8.9h-9zM419.2 1827.3h9v8.9h-9zM436.6 1870.4h9v8.9h-9zM436.6 1904.9h9v8.9h-9z" fill="#f2f2f2"/><path d="M358.5 1896.3h9v8.9h-9zM358.5 1904.9h9v8.9h-9zM375.8 1810h9v8.9h-9zM419.2 1810h9v8.9h-9z" fill="#f3f3f3"/><path d="M393.2 1810h9v8.9h-9zM436.6 1913.6h9v8.9h-9z" fill="#f4f4f4"/><path d="M367.1 1818.7h9v8.9h-9zM427.9 1904.9h9v8.9h-9z" fill="#f5f5f5"/><path d="M358.5 1844.5h9v8.9h-9zM358.5 1853.2h9v8.9h-9zM358.5 1913.6h9v8.9h-9zM384.5 1930.8h9v8.9h-9zM427.9 1827.3h9v8.9h-9zM436.6 1853.2h9v8.9h-9z" fill="#f6f6f6"/><path d="M358.5 1835.9h9v8.9h-9zM367.1 1930.8h9v8.9h-9zM410.5 1930.8h9v8.9h-9zM436.6 1844.5h9v8.9h-9zM436.6 1887.7h9v8.9h-9z" fill="#f8f8f8"/><path d="M358.5 1827.3h9v8.9h-9zM358.5 1922.2h9v8.9h-9zM384.5 1801.4h9v8.9h-9zM401.9 1792.8h9v8.9h-9zM410.5 1801.4h9v8.9h-9zM427.9 1810h9v8.9h-9z" fill="#fafafa"/><path d="M349.8 1870.4h9v8.9h-9zM349.8 1879.1h9v8.9h-9zM393.2 1801.4h9v8.9h-9zM393.2 1930.8h9v8.9h-9zM401.9 1930.8h9v8.9h-9zM410.5 1792.8h9v8.9h-9zM427.9 1930.8h9v8.9h-9zM436.6 1835.9h9v8.9h-9zM436.6 1922.2h9v8.9h-9zM445.2 1870.4h9v8.9h-9zM445.2 1879.1h9v8.9h-9z" fill="#fcfcfc"/><path d="M419.2 1930.8h9v8.9h-9z" fill="#fdfdfd"/>

<path d="M370.6 1948.1V1775.5" stroke="#000" stroke-width="2.9" stroke-dasharray="10.6 5.1" fill="none"/>
<path d="M414.5 1948.1V1775.5" stroke="#000" stroke-width="2.9" stroke-dasharray="10.6 5.1" fill="none"/>
<path d="M297.8 1857.6H471.2" stroke="#000" stroke-width="2.9" stroke-dasharray="10.6 5.1" fill="none"/>
<path d="M297.8 1926.2H471.2" stroke="#000" stroke-width="2.9" stroke-dasharray="10.6 5.1" fill="none"/>
<path d="M356.3 1881L359.1 1867.9L357.2 1854.8L363.7 1841.7L364.7 1830.5L371.2 1821.2L378.7 1813.7L386.1 1809L395.5 1807.2L401.1 1802.5L406.7 1798.8L414.2 1799.7L417.9 1806.2L412.3 1813.7L423.5 1812.8L432.9 1817.4L436.6 1830.5L438.5 1845.5L442.2 1858.5L444.1 1873.5L447.8 1879.1L443.1 1888.4L445.9 1901.5L442.2 1910.9L445.9 1916.5L438.5 1923.9L432.9 1931.4L423.5 1937.9L417.9 1932.3L413.8 1931.4L411.7 1941.7L409.7 1933.3L401.1 1926.7L393.6 1935.1L386.1 1940.7L376.8 1938.9L369.3 1931.4L363.7 1923.9L361.9 1909L359.1 1897.8L360 1888.4Z" stroke="#000" stroke-width="3.1" fill="none" stroke-linejoin="round"/>
<path d="M369.3 1879.1L371.2 1864.1L376.8 1852.9L375.9 1845.5L382.4 1834.3L386.1 1821.2L393.6 1824L401.1 1826.8L408.6 1825.8L414.2 1831.5L419.8 1839.9L429.1 1845.5L432.9 1856.7L434.7 1871.6L436.6 1886.6L431 1901.5L425.4 1912.7L423.5 1927.7L417.9 1929.5L408.6 1924.9L401.1 1925.8L393.6 1929.5L386.1 1927.7L380.5 1937L375.9 1933.3L373.1 1920.2L371.2 1907.1L368.4 1894Z" stroke="#000" stroke-width="3.1" fill="none" stroke-linejoin="round"/>
<path d="M376.8 1882.8L380.5 1877.2L386.1 1873.5L384.3 1862.3L385.2 1849.2L390.8 1845.5L401.1 1846.4L408.6 1849.2L412.3 1860.4L417.9 1871.6L423.5 1886.6L427.3 1897.8L421.6 1907.1L417.9 1922.1L410.4 1920.2L401.1 1914.6L391.8 1916.5L383.3 1917.4L388 1905.3L382.4 1897.8L378.7 1890.3Z" stroke="#000" stroke-width="3.1" fill="none" stroke-linejoin="round"/>
<path d="M390.8 1886.6L395.5 1877.2L399.2 1868.8L406.7 1872.6L408.6 1879.1L403 1886.6L404.8 1897.8L401.1 1901.5L393.6 1892.2Z" stroke="#000" stroke-width="3.1" fill="none" stroke-linejoin="round"/>
<path d="M313.3 1948.1v-7M313.3 1775.5v7M330.4 1948.1v-7M330.4 1775.5v7M347.6 1948.1v-7M347.6 1775.5v7M364.7 1948.1v-14.3M364.7 1775.5v14.3M381.8 1948.1v-7M381.8 1775.5v7M398.9 1948.1v-7M398.9 1775.5v7M416.1 1948.1v-7M416.1 1775.5v7M433.2 1948.1v-14.3M433.2 1775.5v14.3M450.3 1948.1v-7M450.3 1775.5v7M467.4 1948.1v-7M467.4 1775.5v7M297.8 1783.5h7M471.2 1783.5h-7M297.8 1792.2h7M471.2 1792.2h-7M297.8 1801h7M471.2 1801h-7M297.8 1809.7h7M471.2 1809.7h-7M297.8 1818.4h14.3M471.2 1818.4h-14.3M297.8 1827.1h7M471.2 1827.1h-7M297.8 1835.8h7M471.2 1835.8h-7M297.8 1844.6h7M471.2 1844.6h-7M297.8 1853.3h7M471.2 1853.3h-7M297.8 1862h14.3M471.2 1862h-14.3M297.8 1870.7h7M471.2 1870.7h-7M297.8 1879.4h7M471.2 1879.4h-7M297.8 1888.2h7M471.2 1888.2h-7M297.8 1896.9h7M471.2 1896.9h-7M297.8 1905.6h14.3M471.2 1905.6h-14.3M297.8 1914.3h7M471.2 1914.3h-7M297.8 1923h7M471.2 1923h-7M297.8 1931.8h7M471.2 1931.8h-7M297.8 1940.5h7M471.2 1940.5h-7" stroke="#000" stroke-width="2.4" fill="none"/>
<path d="M397 1775.5V1948.1" stroke="#db2224" stroke-width="4.3" fill="none"/>
<path d="M297.8 1892.2H471.2" stroke="#db2224" stroke-width="4.3" fill="none"/>
<rect x="297.8" y="1775.5" width="173.5" height="172.6" fill="none" stroke="#000" stroke-width="2.75"/>
</g>
<g>
<path d="M623.4 1931.3h1.3M501.2 1800.8h1.3M482.4 1785.1h1.3M622.4 1926.9h1.3M500.3 1803.4h1.3M488.7 1787.8h1.3M646.2 1921h1.3M620 1927.4h1.3M494.8 1799.7h1.3M488.1 1784.3h1.3M496.1 1793.1h1.3M491.6 1791.2h1.3M493.5 1798.6h1.3M595.2 1924.2h1.3M613.4 1931.3h1.3M635.5 1933.2h1.3M630.5 1927.2h1.3M623.6 1928.6h1.3M610.1 1924.3h1.3M598.9 1921.5h1.3M488.7 1784.1h1.3M507 1807.7h1.3M610.9 1926h1.3M503.9 1804.8h1.3M488.9 1787.6h1.3M492 1788.4h1.3M500.7 1796.1h1.3M622 1932.8h1.3M504.5 1800.9h1.3M644.1 1928.3h1.3M648.1 1919.8h1.3M602 1927.5h1.3M630.3 1916.3h1.3M489.3 1796.7h1.3M489.2 1788h1.3M597.6 1927.7h1.3M496.3 1798.9h1.3M608.5 1923.1h1.3M611.5 1926h1.3M643 1933.5h1.3M635.8 1931.8h1.3M491.8 1784.7h1.3M607.7 1920h1.3M490.1 1792.2h1.3M627 1924.4h1.3M502.6 1805.4h1.3M612.6 1921.2h1.3M596 1922.9h1.3M643 1929.3h1.3M496.3 1792.7h1.3M625.1 1928.9h1.3M617.8 1928.8h1.3M636.5 1928.4h1.3M597.2 1928.6h1.3M629.7 1927.6h1.3M603.4 1927.8h1.3M592.9 1927.8h1.3M496.4 1798.4h1.3M608.7 1919.7h1.3M500.8 1796.4h1.3M609.5 1928.8h1.3M485.9 1783.5h1.3M618.6 1930.5h1.3M505.5 1805.9h1.3M620.4 1934.6h1.3M646.2 1930.3h1.3M488.4 1787.9h1.3M488.1 1781.9h1.3M608.1 1934h1.3M495.4 1798h1.3M487.5 1780.3h1.3M616.4 1935.2h1.3M483 1779.4h1.3M492.3 1790.5h1.3M499.4 1801.5h1.3M606.9 1926.7h1.3M599 1920.2h1.3M619.5 1930.3h1.3M606.3 1926.8h1.3M632.4 1931.4h1.3M603.4 1934.7h1.3M482 1781.8h1.3M645 1925h1.3M647.6 1926.4h1.3M626.8 1932.6h1.3M483.4 1779.8h1.3M504.8 1805.2h1.3M621.3 1924.4h1.3M608.5 1925.4h1.3M488.7 1789.8h1.3M628.9 1930.7h1.3M633.1 1925.6h1.3M627.7 1923.8h1.3M605.5 1927.7h1.3M500.2 1794.8h1.3M486.2 1783.7h1.3M495.1 1804.7h1.3M489.5 1783.4h1.3M501.1 1806h1.3M600.6 1925.6h1.3M482.1 1788.7h1.3M640.3 1929.7h1.3M487.9 1780.2h1.3M603.3 1926.1h1.3M485.6 1784.9h1.3M492.8 1796h1.3M636.5 1927h1.3M505.5 1807.5h1.3M607.2 1925.8h1.3M603.4 1927h1.3M600.7 1936.2h1.3M498.3 1803.1h1.3M488.6 1780.7h1.3M494.3 1789.5h1.3M492.2 1788.7h1.3M500 1803.2h1.3M510.4 1809.6h1.3M501.4 1807.8h1.3M616.5 1920.8h1.3M604.6 1921h1.3M499.5 1808.1h1.3M494.3 1800.1h1.3M604.2 1920.9h1.3M502.3 1802h1.3M486.6 1779.3h1.3M616.5 1917.9h1.3M501 1804.7h1.3M629 1924.1h1.3M491.6 1787h1.3M644.2 1923h1.3M489 1786.9h1.3M608.8 1920.6h1.3M629.4 1932.3h1.3M499.1 1804.1h1.3M605.9 1929.1h1.3M495.4 1793.1h1.3M608 1931.1h1.3M500.7 1814.3h1.3M603.8 1927.1h1.3M504.4 1812.4h1.3M601.8 1925.1h1.3M642.7 1923.3h1.3M504.4 1811.9h1.3M600.5 1928.3h1.3M503.4 1807.2h1.3M608.1 1925.2h1.3M622.3 1926h1.3M640.6 1934h1.3M608 1928.5h1.3M640.2 1928.1h1.3M505 1804.9h1.3M490.3 1783.2h1.3M489.2 1780.2h1.3M611.6 1923.5h1.3M603.5 1930.8h1.3M484.6 1790h1.3M634.3 1922.8h1.3M602.1 1924.6h1.3M489.9 1786.3h1.3M487.4 1785.1h1.3M498.7 1801h1.3M647.4 1927.7h1.3M495.3 1798.9h1.3M627.8 1932.6h1.3M627.4 1923.2h1.3M490.5 1791.8h1.3M638.6 1926h1.3M634.8 1933.5h1.3M623.2 1933.6h1.3M505.6 1808.7h1.3M630.6 1923.8h1.3M488.6 1791.4h1.3M627.2 1924h1.3M625.5 1921.8h1.3M636.4 1932.7h1.3M600.9 1924.1h1.3M496.1 1802.3h1.3M620.7 1939.6h1.3M610 1929.1h1.3M499.3 1804.4h1.3M496.1 1796.9h1.3M627.8 1934h1.3M629.2 1916.4h1.3M609.8 1916.3h1.3M506.4 1803.9h1.3M495.7 1791.7h1.3M611.4 1929.3h1.3M500.2 1803.9h1.3M605.4 1923.7h1.3M613.5 1921.3h1.3M494.4 1796.8h1.3M497.5 1793.4h1.3M612.3 1924.7h1.3M636.2 1928.4h1.3M499.8 1790.7h1.3M597.7 1927.1h1.3M497.5 1796h1.3M625.3 1923.9h1.3M505.3 1811.1h1.3M486.6 1779.4h1.3M606.5 1925.2h1.3M497.5 1797.2h1.3M610 1934.8h1.3M635.4 1929.6h1.3M492.4 1787.2h1.3M602.5 1917.8h1.3M641.4 1923.4h1.3M643.2 1931.2h1.3M606.1 1927.9h1.3M639 1925.9h1.3M614.2 1925.4h1.3M623.5 1922.4h1.3M607.6 1925.3h1.3M636.8 1928.6h1.3M609.6 1931.9h1.3M602.5 1930.4h1.3M487.1 1781.1h1.3M489 1787.9h1.3M612.2 1934.5h1.3M629.2 1926.9h1.3M496.3 1796.3h1.3M614.1 1930.9h1.3M621 1922.8h1.3M601 1928.5h1.3M620.1 1923.7h1.3M628.2 1927h1.3M608.9 1933.7h1.3M496.7 1794.1h1.3M495.9 1799.9h1.3M506.2 1809.6h1.3M610.7 1925.6h1.3M498.6 1796.1h1.3M647.8 1927.1h1.3M643.3 1924.7h1.3M489.2 1788.8h1.3M483.3 1782.1h1.3M629.9 1930.9h1.3M596.9 1923.9h1.3M606 1928.8h1.3M595.5 1932.4h1.3M605.2 1927.5h1.3M618.1 1921.5h1.3M488.3 1789.5h1.3M626.8 1927.2h1.3M498.8 1793.1h1.3M506.9 1811.2h1.3M498.1 1800.5h1.3M601.3 1929.6h1.3M644.5 1933.4h1.3M622 1923.2h1.3M624 1924.6h1.3M615.6 1936.4h1.3M615.3 1929.5h1.3M613.2 1921.4h1.3M607.5 1915.5h1.3M489.5 1788.4h1.3M605.5 1928.4h1.3M486 1785.7h1.3M498.4 1799.4h1.3M604 1924.5h1.3M498.4 1797.1h1.3M496.6 1798.8h1.3M505.5 1798.8h1.3M649.3 1924.9h1.3M641.7 1921.5h1.3M638.7 1925.4h1.3M491.4 1788.8h1.3M493.7 1792.8h1.3M600.2 1929.8h1.3M632.5 1925.3h1.3M483.4 1780.4h1.3M492.1 1790.3h1.3M648.2 1922.1h1.3M484.7 1782.9h1.3M485.3 1792.8h1.3M491.3 1791.7h1.3M603.3 1915h1.3M492.1 1788.2h1.3M601.4 1933.4h1.3M506.2 1805.8h1.3M618.1 1927.9h1.3M505.8 1817.2h1.3M643.2 1931.1h1.3M503.3 1803.5h1.3M499.5 1803h1.3M603.1 1927.1h1.3M647 1918h1.3M501.6 1800.4h1.3M616.6 1929h1.3M602.4 1926.9h1.3M622.7 1931h1.3M599.5 1927.3h1.3M599.1 1920.4h1.3M641.9 1936.2h1.3M617.9 1930.8h1.3M507.9 1804.6h1.3M612.4 1934.1h1.3M608.6 1922.4h1.3M501.8 1804.1h1.3M612.5 1928.8h1.3M496.6 1809.1h1.3M489.2 1795.3h1.3M618 1925.5h1.3M636.2 1932.1h1.3M483.6 1791.8h1.3M614.3 1932h1.3M491.3 1789.7h1.3M486.7 1787.1h1.3M486.5 1787.2h1.3M604.3 1922h1.3M501.8 1802.4h1.3M628 1923.6h1.3M483.6 1780.6h1.3M488.1 1784.7h1.3M619 1926.6h1.3M489.4 1783.5h1.3M625.4 1918h1.3M491.7 1796.8h1.3M499.7 1806.3h1.3M598.2 1934.8h1.3M491.1 1789.2h1.3M597.4 1927.7h1.3M609.2 1924.4h1.3M610.6 1919h1.3M626.8 1930.4h1.3M493.3 1789.6h1.3M630.4 1929.1h1.3M499 1804.7h1.3M500 1798.3h1.3M604.7 1924.1h1.3M496.5 1797.2h1.3M633.8 1932.7h1.3M603.1 1930.1h1.3M629.9 1927.3h1.3M610.8 1929.6h1.3M504.5 1808.8h1.3M506.4 1807.9h1.3M489 1789.8h1.3M614.4 1933.9h1.3M505.6 1808.4h1.3M627.4 1925.5h1.3M635.4 1929.8h1.3M607.5 1928.4h1.3M502 1805.5h1.3M498 1795.3h1.3M619.7 1932.5h1.3M648.1 1925h1.3M631.7 1925h1.3M610.1 1913h1.3M500.6 1802.6h1.3M488.2 1785.7h1.3M508.1 1807.7h1.3M492.7 1792.6h1.3M491.6 1784h1.3M635.6 1923.2h1.3M631.3 1932.7h1.3M491 1798.2h1.3M609.5 1930.3h1.3M606.4 1926.2h1.3M620.5 1928.9h1.3M596.9 1923.7h1.3M601.7 1926.8h1.3M646.6 1926.3h1.3M495.1 1794.9h1.3M604.7 1925.6h1.3M609.9 1921.4h1.3M607.7 1924.2h1.3M494 1791.9h1.3M505.4 1805.5h1.3M640.9 1933.7h1.3M505.6 1809.8h1.3M482.7 1780.8h1.3M613.8 1928.7h1.3M495.5 1807.6h1.3M614 1932.6h1.3M489.2 1789.9h1.3M489.7 1788.2h1.3M614.8 1929.4h1.3M497.9 1794.2h1.3M640.4 1926.5h1.3M486.8 1778.9h1.3M644.7 1927.1h1.3M633.2 1931.7h1.3M489.8 1791.6h1.3M638.4 1925.5h1.3M500.1 1802.1h1.3M645.8 1921.8h1.3M627.1 1923.7h1.3M635.5 1925.2h1.3M488.6 1785.1h1.3M501.4 1801.3h1.3M609.7 1920.9h1.3M596.3 1926.7h1.3M616.8 1924.6h1.3M498.1 1795.4h1.3M592.4 1922.6h1.3M594.1 1930h1.3M490.6 1802.5h1.3M489.8 1785.6h1.3M490.4 1792.2h1.3M497.1 1792.9h1.3M598.8 1926.4h1.3M630.8 1927.2h1.3M488.1 1783h1.3M486.3 1784.2h1.3M591.6 1925.5h1.3M606.4 1928.2h1.3M614.6 1926.4h1.3M608.2 1927.3h1.3M486.3 1794.4h1.3M599.3 1928.8h1.3M485.2 1783.5h1.3M624.7 1930.4h1.3M491.1 1782.3h1.3M493 1787h1.3M640.5 1923.3h1.3M644.7 1928h1.3M493 1800h1.3M596.5 1931h1.3M614.8 1924.6h1.3M495.5 1793.4h1.3M485 1786.2h1.3M502.8 1806h1.3M612.8 1929.1h1.3M493 1790.6h1.3M600.3 1932.4h1.3M600.7 1922.2h1.3M594.6 1928.9h1.3M484.1 1780.7h1.3M633.7 1926.9h1.3M643.2 1931.5h1.3M501.5 1803.8h1.3M495.3 1805.2h1.3M603.4 1925.8h1.3M494.9 1789.5h1.3M620.9 1930h1.3M638.1 1923.7h1.3M615.3 1929.2h1.3M608 1922.7h1.3M643.7 1925.1h1.3M631.4 1925.4h1.3M624.4 1926.5h1.3M487 1788.7h1.3M494.6 1792.7h1.3M499.1 1796.6h1.3M617.7 1925.5h1.3M618.8 1928.3h1.3M645.8 1930.2h1.3M608.2 1928.9h1.3M644.7 1928.5h1.3M487.1 1779.4h1.3M483.3 1780.7h1.3M603.9 1930.1h1.3M493.3 1787.8h1.3M596.3 1925.6h1.3M493.4 1795.4h1.3M627.6 1928.2h1.3M487.8 1786.5h1.3M621.3 1929.4h1.3M613 1928.6h1.3M597.6 1926.7h1.3M501.9 1799.9h1.3M599.7 1928.8h1.3M489.8 1788.2h1.3M608.5 1927.1h1.3M484.7 1782.4h1.3M645.9 1920.5h1.3M489.2 1786.4h1.3M606.3 1926.3h1.3M490.5 1787.1h1.3M624.6 1924.6h1.3M485.8 1790.3h1.3M615.2 1923.5h1.3M598 1923.9h1.3M496 1793.9h1.3M494.2 1806.4h1.3M495.2 1793.7h1.3M611.2 1930h1.3M630.9 1930.4h1.3M601.1 1921.1h1.3M496.2 1804.9h1.3M500.6 1811h1.3M487.2 1780.1h1.3M613.4 1926.4h1.3M620.6 1931.8h1.3M627.1 1924h1.3M648.9 1928.5h1.3M609.8 1927.8h1.3M618.8 1927.4h1.3M643.6 1932.8h1.3M496.1 1795.9h1.3M499.6 1808.9h1.3M493.6 1795.2h1.3M496 1794.9h1.3M629.1 1928.2h1.3M492.6 1784.9h1.3M498.9 1800.5h1.3M638.9 1926.5h1.3M603.9 1928.7h1.3M495.7 1801.5h1.3" stroke="#000" stroke-opacity="0.2" stroke-width="1.3" fill="none"/>
<path d="M504.6 1813.7L508.3 1807.2L514.8 1815.6L522.3 1823L529.8 1830.5L533.5 1839.9L541 1847.3L548.5 1860.4L557.8 1873.5L567.1 1886.6L576.5 1897.8L585.8 1906.2L597 1914.6L602.6 1917.4L601.7 1925.8L598 1934.2L589.6 1935.1L584 1929.5L576.5 1916.5L565.3 1905.3L554.1 1894L542.9 1881L533.5 1869.8L526 1856.7L518.6 1843.6L513 1830.5L507.4 1821.2Z" fill="#fff"/>
<path d="M583 1913.6h9v8.9h-9z" fill="#d3d3d3"/><path d="M539.6 1861.8h9v8.9h-9z" fill="#d5d5d5"/><path d="M513.6 1827.3h9v8.9h-9zM522.3 1835.9h9v8.9h-9zM530.9 1853.2h9v8.9h-9z" fill="#dadada"/><path d="M530.9 1844.5h9v8.9h-9zM557 1879.1h9v8.9h-9zM574.3 1904.9h9v8.9h-9z" fill="#dddddd"/><path d="M539.6 1853.2h9v8.9h-9zM557 1887.7h9v8.9h-9z" fill="#dedede"/><path d="M522.3 1827.3h9v8.9h-9zM548.3 1879.1h9v8.9h-9zM565.6 1896.3h9v8.9h-9z" fill="#dfdfdf"/><path d="M583 1904.9h9v8.9h-9z" fill="#e2e2e2"/><path d="M522.3 1844.5h9v8.9h-9z" fill="#e5e5e5"/><path d="M548.3 1870.4h9v8.9h-9z" fill="#e7e7e7"/><path d="M539.6 1870.4h9v8.9h-9z" fill="#eaeaea"/><path d="M591.7 1922.2h9v8.9h-9z" fill="#eeeeee"/><path d="M565.6 1904.9h9v8.9h-9zM583 1922.2h9v8.9h-9z" fill="#efefef"/><path d="M504.9 1810h9v8.9h-9zM513.6 1818.7h9v8.9h-9z" fill="#f1f1f1"/><path d="M574.3 1896.3h9v8.9h-9z" fill="#f4f4f4"/><path d="M530.9 1835.9h9v8.9h-9zM530.9 1861.8h9v8.9h-9zM548.3 1861.8h9v8.9h-9zM557 1896.3h9v8.9h-9z" fill="#f5f5f5"/><path d="M504.9 1818.7h9v8.9h-9zM522.3 1853.2h9v8.9h-9zM548.3 1887.7h9v8.9h-9zM565.6 1887.7h9v8.9h-9z" fill="#f6f6f6"/><path d="M574.3 1913.6h9v8.9h-9z" fill="#f9f9f9"/><path d="M539.6 1879.1h9v8.9h-9z" fill="#fafafa"/><path d="M530.9 1870.4h9v8.9h-9zM539.6 1844.5h9v8.9h-9zM557 1870.4h9v8.9h-9zM583 1930.8h9v8.9h-9zM591.7 1913.6h9v8.9h-9zM591.7 1930.8h9v8.9h-9zM600.4 1913.6h9v8.9h-9z" fill="#fbfbfb"/><path d="M504.9 1801.4h9v8.9h-9zM504.9 1827.3h9v8.9h-9zM513.6 1810h9v8.9h-9zM513.6 1835.9h9v8.9h-9zM513.6 1844.5h9v8.9h-9zM522.3 1818.7h9v8.9h-9zM574.3 1922.2h9v8.9h-9zM591.7 1904.9h9v8.9h-9zM600.4 1922.2h9v8.9h-9z" fill="#fdfdfd"/>
<path d="M531.7 1852L536.3 1851.1L537.3 1857.6L533.5 1859.5Z" fill="#000"/><path d="M547.5 1879.1L554.1 1878.2L555.9 1884.7L552.2 1888.4L547.5 1886.6Z" fill="#000"/><path d="M566.2 1895L571.8 1894L572.8 1900.6L568.1 1902.4Z" fill="#000"/><path d="M498 1800.6L501.8 1799.1L504.6 1805.3L499.9 1806.6Z" fill="#222"/><path d="M520.4 1834.3L526 1836.1L531.7 1847.3L526 1845.5Z" fill="#999"/><path d="M579.3 1909L585.8 1911.8L590.5 1919.3L584 1917.4Z" fill="#aaa"/><path d="M539.1 1864.1L543.8 1862.3L548.5 1871.6L543.8 1873.5Z" fill="#888"/>
<path d="M509.2 1948.1V1775.5" stroke="#000" stroke-width="2.9" stroke-dasharray="10.6 5.1" fill="none"/>
<path d="M570 1948.1V1775.5" stroke="#000" stroke-width="2.9" stroke-dasharray="10.6 5.1" fill="none"/>
<path d="M478.9 1857.6H652.4" stroke="#000" stroke-width="2.9" stroke-dasharray="10.6 5.1" fill="none"/>
<path d="M478.9 1926.2H652.4" stroke="#000" stroke-width="2.9" stroke-dasharray="10.6 5.1" fill="none"/>
<path d="M504.6 1813.7L508.3 1807.2L514.8 1815.6L522.3 1823L529.8 1830.5L533.5 1839.9L541 1847.3L548.5 1860.4L557.8 1873.5L567.1 1886.6L576.5 1897.8L585.8 1906.2L597 1914.6L602.6 1917.4L601.7 1925.8L598 1934.2L589.6 1935.1L584 1929.5L576.5 1916.5L565.3 1905.3L554.1 1894L542.9 1881L533.5 1869.8L526 1856.7L518.6 1843.6L513 1830.5L507.4 1821.2Z" stroke="#000" stroke-width="3.1" fill="none" stroke-linejoin="round"/>
<path d="M515.8 1828.7L518.6 1822.1L526 1832.4L534.5 1845.5L542.9 1856.7L552.2 1871.6L563.4 1886.6L574.6 1899.6L585.8 1909.9L594.2 1916.5L588.6 1922.1L580.2 1914.6L569 1903.4L557.8 1890.3L546.6 1877.2L537.3 1864.1L527.9 1849.2L520.4 1838Z" stroke="#000" stroke-width="3.1" fill="none" stroke-linejoin="round"/>
<path d="M486.3 1948.1v-7M486.3 1775.5v7M498.5 1948.1v-7M498.5 1775.5v7M510.7 1948.1v-14.3M510.7 1775.5v14.3M522.9 1948.1v-7M522.9 1775.5v7M535.1 1948.1v-7M535.1 1775.5v7M547.2 1948.1v-7M547.2 1775.5v7M559.4 1948.1v-7M559.4 1775.5v7M571.6 1948.1v-14.3M571.6 1775.5v14.3M583.8 1948.1v-7M583.8 1775.5v7M596 1948.1v-7M596 1775.5v7M608.1 1948.1v-7M608.1 1775.5v7M620.3 1948.1v-7M620.3 1775.5v7M632.5 1948.1v-14.3M632.5 1775.5v14.3M644.7 1948.1v-7M644.7 1775.5v7M478.9 1783.5h7M652.4 1783.5h-7M478.9 1792.2h7M652.4 1792.2h-7M478.9 1801h7M652.4 1801h-7M478.9 1809.7h7M652.4 1809.7h-7M478.9 1818.4h14.3M652.4 1818.4h-14.3M478.9 1827.1h7M652.4 1827.1h-7M478.9 1835.8h7M652.4 1835.8h-7M478.9 1844.6h7M652.4 1844.6h-7M478.9 1853.3h7M652.4 1853.3h-7M478.9 1862h14.3M652.4 1862h-14.3M478.9 1870.7h7M652.4 1870.7h-7M478.9 1879.4h7M652.4 1879.4h-7M478.9 1888.2h7M652.4 1888.2h-7M478.9 1896.9h7M652.4 1896.9h-7M478.9 1905.6h14.3M652.4 1905.6h-14.3M478.9 1914.3h7M652.4 1914.3h-7M478.9 1923h7M652.4 1923h-7M478.9 1931.8h7M652.4 1931.8h-7M478.9 1940.5h7M652.4 1940.5h-7" stroke="#000" stroke-width="2.4" fill="none"/>
<path d="M544.2 1775.5V1948.1" stroke="#db2224" stroke-width="4.3" fill="none"/>
<path d="M478.9 1892.2H652.4" stroke="#db2224" stroke-width="4.3" fill="none"/>
<rect x="478.9" y="1775.5" width="173.5" height="172.6" fill="none" stroke="#000" stroke-width="2.75"/>
</g>
<g>
<path d="M675.5 1837.4h1.3M730.4 1781.7h1.3M706.1 1838.9h1.3M823.7 1935.6h1.3M706.4 1833.5h1.3M796.7 1898.6h1.3M775.2 1927.3h1.3M744.3 1786.9h1.3M680.3 1794.5h1.3M703.6 1838.8h1.3M788.3 1916.1h1.3M669.8 1807.8h1.3M711.1 1797.1h1.3M697.3 1855.2h1.3M821.3 1923.5h1.3M672.5 1785.3h1.3M782.6 1919.2h1.3M701.1 1865.5h1.3M786.7 1896.4h1.3M769.4 1839.6h1.3M679.9 1781.3h1.3M706.4 1839.4h1.3M689.5 1821.8h1.3M687.4 1877.3h1.3M669 1832.9h1.3M799.6 1895.5h1.3M703.7 1850h1.3M735.8 1800.3h1.3M694 1825.3h1.3M800.6 1891.4h1.3M712 1840.4h1.3M726.7 1796.1h1.3M793.2 1928.2h1.3M701.6 1812.1h1.3M790.9 1890.4h1.3M690.2 1792.2h1.3M736.9 1813.7h1.3M790 1901.7h1.3M690.3 1814.2h1.3M675.2 1790.3h1.3M704.9 1834h1.3M678.7 1820.4h1.3M776.4 1840.8h1.3M701.4 1845.2h1.3M669.4 1796.6h1.3M672.6 1789.6h1.3M731.2 1798.5h1.3M700 1855.3h1.3M698.1 1848.8h1.3M670.8 1815.2h1.3M809.4 1867.6h1.3M673.8 1791.5h1.3M708.9 1866.5h1.3M685.5 1794.4h1.3M706.9 1845.7h1.3M803.4 1910.7h1.3M705.2 1847.3h1.3M680 1800.2h1.3M785.2 1886.8h1.3M670.1 1796.4h1.3M774.5 1824.7h1.3M789 1874.1h1.3M697 1835.2h1.3M701.5 1881.4h1.3M696.4 1836.8h1.3M691.9 1830.2h1.3M707.2 1837.6h1.3M732.2 1811.8h1.3M790.7 1919.2h1.3M690.3 1836.3h1.3M691.3 1798.1h1.3M695.8 1830.5h1.3M688.2 1860.9h1.3M795.2 1919.8h1.3M703.1 1812.2h1.3M674.4 1786.9h1.3M706.9 1864.9h1.3M713.5 1781.2h1.3M794.2 1892.5h1.3M698.7 1849.1h1.3M742.8 1807.9h1.3M697.5 1806.5h1.3M697.6 1785.1h1.3M703 1810.7h1.3M710.4 1852.9h1.3M697.9 1843.1h1.3M748.6 1818.6h1.3M694.3 1860.1h1.3M785.7 1916.7h1.3M760.5 1940.5h1.3M807.2 1901.9h1.3M698.8 1831.4h1.3M685.7 1780.2h1.3M707.8 1844.5h1.3M704.3 1830.8h1.3M677.5 1820.6h1.3M788 1898.6h1.3M686.7 1815.7h1.3M691.5 1874.3h1.3M753.8 1931.3h1.3M790.5 1918h1.3M777.8 1943h1.3M695.6 1824.6h1.3M786 1900.6h1.3M665.1 1786.6h1.3M778.2 1938.9h1.3M690 1809.2h1.3M683.6 1831.4h1.3M679.9 1874.6h1.3M786.2 1887.2h1.3M705.1 1842.9h1.3M792.2 1923.7h1.3M695.9 1823.5h1.3M781.4 1928.6h1.3M665.5 1806.8h1.3M783.9 1911.9h1.3M733.3 1784.8h1.3M766.1 1837.4h1.3M685.4 1789.1h1.3M785 1900.6h1.3M681.6 1804.9h1.3M787.7 1922.8h1.3M689.6 1807.1h1.3M679.3 1808.9h1.3M711.8 1863.1h1.3M810.9 1935.4h1.3M723.6 1789h1.3M793.4 1904.9h1.3M799.1 1857.1h1.3M796.2 1909.2h1.3M796.2 1906.3h1.3M668 1790.5h1.3M674.6 1825.7h1.3M750.3 1937.7h1.3M683.8 1857.9h1.3M701.9 1831.3h1.3M698.1 1812.1h1.3M671.6 1790.7h1.3M680.3 1834.9h1.3M789 1883.6h1.3M802.1 1944.3h1.3M760.5 1936.3h1.3M692.2 1845.9h1.3M708.4 1845.1h1.3M787.1 1885.3h1.3M802.2 1915.5h1.3M695.7 1850h1.3M791.6 1900.5h1.3M671.2 1798.8h1.3M701.1 1869.9h1.3M780.1 1932.6h1.3M790.3 1913.9h1.3M792 1919h1.3M781 1921.4h1.3M726.2 1800.9h1.3M789.6 1899.7h1.3M690 1802.1h1.3M821.6 1920h1.3M682 1788.2h1.3M687.5 1804.1h1.3M691 1836.6h1.3M800.9 1933.1h1.3M748.3 1941.8h1.3M792.5 1909.3h1.3M673.2 1795.4h1.3M683.1 1830.3h1.3M708.1 1887.6h1.3M708.4 1858.2h1.3M695.5 1781.8h1.3M692.7 1858h1.3M708.4 1866.4h1.3M711.6 1838.8h1.3M706.1 1848.1h1.3M815.7 1903.4h1.3M788.6 1933.9h1.3M677.5 1851.6h1.3M694.5 1788.2h1.3M677.2 1792.2h1.3M796 1925h1.3M791.9 1925.7h1.3M704.6 1841.9h1.3M713.1 1845.7h1.3M675.2 1812.3h1.3M699.1 1807.8h1.3M707.9 1844.9h1.3M667.1 1808h1.3M669.7 1831.1h1.3M694.6 1838.6h1.3M756.6 1928.7h1.3M711.9 1792.4h1.3M711.5 1795.8h1.3M786.8 1931.2h1.3M694.8 1869.4h1.3M686.8 1779.1h1.3M709.9 1864.8h1.3M774.4 1930.3h1.3M666.6 1782.8h1.3M690.7 1807.8h1.3M688.6 1814.1h1.3M682.6 1808.3h1.3M795.1 1904.9h1.3M678.8 1786.2h1.3M787.4 1889.2h1.3M786.2 1916.5h1.3M732.6 1805.1h1.3M696.1 1788.1h1.3M690.2 1818.8h1.3M795 1935.6h1.3M685.6 1779.6h1.3M783.4 1908.9h1.3M726.8 1801.9h1.3M690.4 1826.9h1.3M704.1 1843.2h1.3M669.5 1803.9h1.3M792.5 1936h1.3M694 1844.3h1.3M689.8 1829.9h1.3M682.8 1832h1.3M675.3 1805.7h1.3M775.2 1934.2h1.3M700.7 1838.4h1.3M791 1925.7h1.3M717.3 1800.1h1.3M678.2 1807.6h1.3M791.5 1920.7h1.3M687.2 1830.8h1.3M768.3 1831.5h1.3M686.7 1812.7h1.3M798.9 1914h1.3M691.5 1828.9h1.3M671.9 1792.9h1.3M783.3 1929.6h1.3M756.8 1813.5h1.3M689.3 1816.9h1.3M713.2 1856.4h1.3M674.4 1820.5h1.3M674.7 1797h1.3M790.8 1933.2h1.3M694.2 1862.9h1.3M695.4 1821.7h1.3M690 1804.5h1.3M680.3 1819.7h1.3M797.7 1873.3h1.3M754.3 1819.5h1.3M780.1 1925.8h1.3M800.6 1915h1.3M704.8 1827.6h1.3M779.7 1921.7h1.3M679.9 1806.6h1.3M669.8 1834.1h1.3M793.1 1922.8h1.3M684.6 1825h1.3M710 1872.4h1.3M708.7 1834.3h1.3M705.9 1789.5h1.3M818.5 1934.6h1.3M787 1923.4h1.3M666.4 1793.2h1.3M699.8 1843.3h1.3M700.2 1831.1h1.3M706.2 1860.8h1.3M768.6 1944.5h1.3M704.7 1854.4h1.3M704.9 1850h1.3M791 1882.6h1.3M784.2 1893.4h1.3M695.6 1795.5h1.3M682.2 1846.9h1.3M690.9 1805.3h1.3M667.8 1848.2h1.3M683.8 1817.2h1.3M783.9 1920.7h1.3M701.4 1791.7h1.3M729.8 1808.4h1.3M677.3 1786.4h1.3M682.3 1804.3h1.3M795.3 1938.4h1.3M784.2 1931.1h1.3M698.9 1873.8h1.3M690.3 1800h1.3M666.5 1800.1h1.3M674.8 1873.5h1.3M796.6 1919.4h1.3M785.4 1897.3h1.3M687.5 1820.5h1.3M775.8 1943.2h1.3M688.7 1823.5h1.3M793.4 1939.4h1.3M709.5 1790.5h1.3M682.5 1803.1h1.3M695 1809.7h1.3M709.2 1864.9h1.3M699 1814h1.3M704 1834.4h1.3M709.7 1825.5h1.3M672.6 1811.2h1.3M676.8 1790.9h1.3M714.3 1791.6h1.3M693 1792.4h1.3M773.6 1933.5h1.3M680.6 1787.8h1.3M676.5 1814.7h1.3M705 1836.9h1.3M671.8 1789.1h1.3M694.2 1782.5h1.3M693.4 1797.8h1.3M685.7 1825.6h1.3M682.2 1838.8h1.3M758.7 1924.3h1.3M676.6 1802.9h1.3M669.6 1822.2h1.3M788.5 1905.7h1.3M798.1 1928.9h1.3M698.7 1811.5h1.3M779.9 1924.2h1.3M678.6 1805.4h1.3M672.7 1799.2h1.3M812.3 1927.4h1.3M691.6 1841.6h1.3M743.1 1798.8h1.3M667.6 1823.7h1.3M722.4 1784.7h1.3M688.8 1818.2h1.3M706.6 1794.1h1.3M698.8 1856.1h1.3M782.4 1934.5h1.3M687 1783.7h1.3M685.3 1790.1h1.3M677.4 1799h1.3M672.2 1800.9h1.3M704.4 1786.9h1.3M667.7 1813.7h1.3M695.2 1791.3h1.3M691.7 1804.4h1.3M665 1800.7h1.3M812.8 1924.8h1.3M807.9 1943.5h1.3M751.4 1942.5h1.3M771.5 1934.7h1.3M785 1926.3h1.3M788.6 1909.4h1.3M700.5 1817.8h1.3M813.9 1895.6h1.3M802.6 1928.1h1.3M780.5 1933.4h1.3M791.8 1923.7h1.3M784.2 1939.4h1.3M790.9 1885.7h1.3M699 1897.9h1.3M787.9 1899.5h1.3M668 1791.2h1.3M717.5 1785.2h1.3M707.2 1819.1h1.3M694.6 1786.9h1.3M698.5 1853.1h1.3M669.1 1783.6h1.3M705.1 1835.1h1.3M698.8 1821.9h1.3M830.4 1940.9h1.3M765.2 1827.9h1.3M676.5 1830.5h1.3M720.4 1783.7h1.3M710 1869h1.3M810.8 1930.1h1.3M681.2 1845.3h1.3M678.9 1799.9h1.3M781.6 1937.4h1.3M707.9 1825.8h1.3M796.8 1895.8h1.3M782.9 1920.6h1.3M671.1 1811.5h1.3M699.1 1818h1.3M787.3 1921.1h1.3M703.7 1816.8h1.3M682.2 1826.5h1.3M733.9 1797.5h1.3M680.2 1810h1.3M803.2 1934.1h1.3M679.1 1836.4h1.3M705.3 1838.5h1.3M678.9 1833.6h1.3M667.2 1804.2h1.3M699.7 1853.7h1.3M721.8 1794.1h1.3M683.1 1836.6h1.3M754.2 1924.6h1.3M684 1812.1h1.3M696.2 1810.7h1.3M752.1 1928h1.3M792.2 1933.9h1.3M786.2 1905.9h1.3M687 1807.6h1.3M796.5 1920.4h1.3M671.1 1800h1.3M690.8 1795.7h1.3M688.4 1811.1h1.3M695.5 1817.8h1.3M702.2 1825.1h1.3M669.4 1782.8h1.3M817.9 1885.3h1.3M785 1913.3h1.3M789 1924.4h1.3M708.4 1842.9h1.3M710.9 1793.9h1.3M708.8 1890.6h1.3M677.5 1779.5h1.3M687.1 1845.1h1.3M791.5 1892.3h1.3M800.3 1888.9h1.3M805.8 1929h1.3M703.6 1846.1h1.3M690.8 1805.8h1.3M690.8 1782.2h1.3M666.4 1799.8h1.3M758.3 1926h1.3M782.6 1915.9h1.3M685.5 1852.1h1.3M803.9 1918h1.3M678.1 1821.2h1.3M701.7 1844.4h1.3M786.3 1896.1h1.3M799.7 1920.5h1.3M694 1813.3h1.3M669.3 1826.1h1.3M792.1 1930.9h1.3M726.3 1788.6h1.3M710.8 1779.8h1.3M748.3 1821.8h1.3M714.3 1849.7h1.3M681.7 1787.9h1.3M678.6 1802.9h1.3M788.7 1905.4h1.3M678.7 1843.8h1.3M776.6 1935.8h1.3M702 1833.8h1.3M696.3 1824.7h1.3M696.8 1823.5h1.3M791.8 1933h1.3M809.2 1926h1.3M681.8 1789.5h1.3M700.9 1834.8h1.3M703 1783.7h1.3M694.7 1829.2h1.3M683.8 1800h1.3M795.3 1914.9h1.3M689.2 1808.9h1.3M674.8 1808.9h1.3M687.5 1808h1.3M697.7 1831.8h1.3M698.2 1804.5h1.3M709.8 1826.1h1.3M818 1930.1h1.3M711.2 1855.3h1.3M801.7 1911h1.3M685.1 1782.9h1.3M752.9 1938.4h1.3M668.4 1800.6h1.3M708.5 1829.5h1.3M704.4 1830.6h1.3M699.1 1786.4h1.3M694.1 1782.6h1.3M700.7 1792.5h1.3M772.8 1934.8h1.3M673.4 1791.8h1.3M684.2 1788.7h1.3M702 1809h1.3M780 1919.6h1.3M683.7 1804.5h1.3M683 1836.1h1.3M684.2 1819.5h1.3M829.1 1924.4h1.3M692.1 1793.8h1.3M685.5 1843.2h1.3M706.3 1879.4h1.3M701 1806.2h1.3M797.6 1916.1h1.3M687.7 1800.6h1.3M684.3 1839.4h1.3M701.2 1793.6h1.3M702.7 1838.1h1.3M747.7 1943.7h1.3M694.5 1820.5h1.3M683.3 1811h1.3M697 1819.6h1.3M801.4 1940.2h1.3M814.5 1915.9h1.3M715.5 1863.1h1.3M700.7 1837.5h1.3M721.2 1779h1.3M711.4 1853.5h1.3M693.6 1812.2h1.3M795.2 1915.3h1.3M800.9 1927.2h1.3M714.2 1854.6h1.3M791.5 1938.9h1.3M676.3 1835.7h1.3M678.3 1806.8h1.3M791.1 1934.2h1.3M702.6 1834.2h1.3M693.6 1800.2h1.3M711.7 1846.2h1.3M689.6 1804.9h1.3M675.9 1806.6h1.3M667.1 1783.4h1.3M693.4 1820h1.3M707.4 1842.8h1.3M687.5 1813.9h1.3M711.2 1831.2h1.3M705.6 1820.4h1.3M702.4 1858.8h1.3M688.3 1838.1h1.3M694.8 1795.2h1.3M699.9 1851.6h1.3M781.7 1918.2h1.3M700.2 1806.5h1.3M707 1922.4h1.3M676.9 1791.2h1.3M816.2 1918.4h1.3M664.5 1805.5h1.3M693.5 1796h1.3" stroke="#000" stroke-opacity="0.17" stroke-width="1.3" fill="none"/>
<path d="M694.9 1796.9L698.6 1794.1L707 1795L716.4 1800.6L725.7 1808.1L735.1 1814.6L744.4 1821.2L755.6 1829.6L766.8 1839.9L778 1847.3L781.8 1854.8L789.3 1865.1L785.5 1879.1L783.6 1894L784.6 1905.3L779.9 1916.5L774.3 1925.8L770.6 1935.1L767.8 1947.3L765.3 1947.3L763.1 1935.1L761.2 1925.8L755.6 1922.1L746.3 1925.8L740.7 1935.1L736 1947.3L728.5 1947.3L722.9 1935.1L719.2 1922.1L716.4 1909L706.1 1899.6L710.8 1886.6L707 1875.4L716.4 1866L714.5 1851.1L712.7 1838L709.8 1823L703.3 1808.1Z" fill="#fff"/>
<path d="M738.1 1870.4h9v8.9h-9z" fill="#333333"/><path d="M746.8 1870.4h9v8.9h-9z" fill="#4a4a4a"/><path d="M746.8 1904.9h9v8.9h-9z" fill="#5b5b5b"/><path d="M746.8 1861.8h9v8.9h-9z" fill="#5f5f5f"/><path d="M738.1 1861.8h9v8.9h-9z" fill="#606060"/><path d="M738.1 1879.1h9v8.9h-9z" fill="#646464"/><path d="M746.8 1879.1h9v8.9h-9z" fill="#6f6f6f"/><path d="M738.1 1844.5h9v8.9h-9z" fill="#757575"/><path d="M738.1 1853.2h9v8.9h-9z" fill="#7a7a7a"/><path d="M729.4 1827.3h9v8.9h-9z" fill="#7e7e7e"/><path d="M738.1 1904.9h9v8.9h-9zM755.5 1879.1h9v8.9h-9z" fill="#7f7f7f"/><path d="M746.8 1844.5h9v8.9h-9z" fill="#808080"/><path d="M738.1 1896.3h9v8.9h-9z" fill="#818181"/><path d="M738.1 1887.7h9v8.9h-9zM746.8 1913.6h9v8.9h-9z" fill="#838383"/><path d="M746.8 1853.2h9v8.9h-9zM746.8 1887.7h9v8.9h-9z" fill="#878787"/><path d="M738.1 1835.9h9v8.9h-9z" fill="#888888"/><path d="M755.5 1861.8h9v8.9h-9zM755.5 1870.4h9v8.9h-9zM755.5 1887.7h9v8.9h-9z" fill="#898989"/><path d="M729.4 1835.9h9v8.9h-9z" fill="#8b8b8b"/><path d="M746.8 1896.3h9v8.9h-9z" fill="#8c8c8c"/><path d="M764.1 1887.7h9v8.9h-9z" fill="#8e8e8e"/><path d="M729.4 1844.5h9v8.9h-9z" fill="#929292"/><path d="M755.5 1853.2h9v8.9h-9z" fill="#959595"/><path d="M755.5 1913.6h9v8.9h-9z" fill="#979797"/><path d="M746.8 1835.9h9v8.9h-9z" fill="#989898"/><path d="M738.1 1913.6h9v8.9h-9zM755.5 1896.3h9v8.9h-9z" fill="#999999"/><path d="M755.5 1844.5h9v8.9h-9z" fill="#9c9c9c"/><path d="M729.4 1853.2h9v8.9h-9z" fill="#9f9f9f"/><path d="M729.4 1861.8h9v8.9h-9zM729.4 1887.7h9v8.9h-9zM764.1 1879.1h9v8.9h-9z" fill="#a3a3a3"/><path d="M738.1 1827.3h9v8.9h-9z" fill="#a4a4a4"/><path d="M729.4 1879.1h9v8.9h-9zM729.4 1904.9h9v8.9h-9z" fill="#a7a7a7"/><path d="M729.4 1870.4h9v8.9h-9z" fill="#aaaaaa"/><path d="M729.4 1896.3h9v8.9h-9z" fill="#afafaf"/><path d="M720.8 1818.7h9v8.9h-9zM720.8 1896.3h9v8.9h-9z" fill="#b1b1b1"/><path d="M755.5 1904.9h9v8.9h-9z" fill="#b4b4b4"/><path d="M720.8 1870.4h9v8.9h-9z" fill="#b5b5b5"/><path d="M755.5 1835.9h9v8.9h-9z" fill="#b6b6b6"/><path d="M720.8 1861.8h9v8.9h-9zM720.8 1887.7h9v8.9h-9zM764.1 1853.2h9v8.9h-9z" fill="#b8b8b8"/><path d="M720.8 1879.1h9v8.9h-9zM729.4 1922.2h9v8.9h-9zM764.1 1913.6h9v8.9h-9z" fill="#b9b9b9"/><path d="M720.8 1904.9h9v8.9h-9z" fill="#bababa"/><path d="M764.1 1861.8h9v8.9h-9z" fill="#bbbbbb"/><path d="M764.1 1896.3h9v8.9h-9z" fill="#bebebe"/><path d="M764.1 1870.4h9v8.9h-9z" fill="#bfbfbf"/><path d="M720.8 1835.9h9v8.9h-9zM729.4 1818.7h9v8.9h-9zM729.4 1913.6h9v8.9h-9zM729.4 1930.8h9v8.9h-9z" fill="#c0c0c0"/><path d="M712.1 1801.4h9v8.9h-9z" fill="#c3c3c3"/><path d="M720.8 1844.5h9v8.9h-9zM764.1 1922.2h9v8.9h-9z" fill="#c4c4c4"/><path d="M746.8 1827.3h9v8.9h-9z" fill="#c5c5c5"/><path d="M720.8 1810h9v8.9h-9z" fill="#c6c6c6"/><path d="M720.8 1827.3h9v8.9h-9z" fill="#c7c7c7"/><path d="M720.8 1853.2h9v8.9h-9z" fill="#cacaca"/><path d="M764.1 1844.5h9v8.9h-9z" fill="#cbcbcb"/><path d="M738.1 1922.2h9v8.9h-9z" fill="#cdcdcd"/><path d="M720.8 1913.6h9v8.9h-9z" fill="#cecece"/><path d="M720.8 1922.2h9v8.9h-9zM764.1 1904.9h9v8.9h-9z" fill="#d3d3d3"/><path d="M712.1 1810h9v8.9h-9zM712.1 1870.4h9v8.9h-9z" fill="#d4d4d4"/><path d="M738.1 1818.7h9v8.9h-9z" fill="#d8d8d8"/><path d="M729.4 1939.5h9v8.9h-9z" fill="#d9d9d9"/><path d="M720.8 1930.8h9v8.9h-9z" fill="#dbdbdb"/><path d="M712.1 1827.3h9v8.9h-9z" fill="#dedede"/><path d="M712.1 1818.7h9v8.9h-9z" fill="#e0e0e0"/><path d="M772.8 1870.4h9v8.9h-9z" fill="#e2e2e2"/><path d="M772.8 1879.1h9v8.9h-9z" fill="#e3e3e3"/><path d="M755.5 1922.2h9v8.9h-9zM781.5 1861.8h9v8.9h-9z" fill="#e4e4e4"/><path d="M712.1 1835.9h9v8.9h-9zM764.1 1930.8h9v8.9h-9zM772.8 1896.3h9v8.9h-9zM772.8 1913.6h9v8.9h-9z" fill="#e5e5e5"/><path d="M712.1 1844.5h9v8.9h-9zM712.1 1853.2h9v8.9h-9zM712.1 1861.8h9v8.9h-9zM781.5 1870.4h9v8.9h-9z" fill="#e7e7e7"/><path d="M703.4 1792.8h9v8.9h-9zM712.1 1887.7h9v8.9h-9zM738.1 1930.8h9v8.9h-9z" fill="#eaeaea"/><path d="M694.8 1792.8h9v8.9h-9zM712.1 1896.3h9v8.9h-9z" fill="#ebebeb"/><path d="M729.4 1810h9v8.9h-9z" fill="#ececec"/><path d="M772.8 1861.8h9v8.9h-9zM772.8 1904.9h9v8.9h-9z" fill="#eeeeee"/><path d="M703.4 1870.4h9v8.9h-9zM764.1 1835.9h9v8.9h-9zM772.8 1887.7h9v8.9h-9z" fill="#f0f0f0"/><path d="M703.4 1801.4h9v8.9h-9zM772.8 1853.2h9v8.9h-9z" fill="#f1f1f1"/><path d="M712.1 1879.1h9v8.9h-9z" fill="#f2f2f2"/><path d="M703.4 1896.3h9v8.9h-9zM772.8 1844.5h9v8.9h-9z" fill="#f4f4f4"/><path d="M703.4 1810h9v8.9h-9zM703.4 1818.7h9v8.9h-9zM703.4 1887.7h9v8.9h-9zM712.1 1913.6h9v8.9h-9zM781.5 1879.1h9v8.9h-9zM781.5 1887.7h9v8.9h-9zM781.5 1896.3h9v8.9h-9z" fill="#f7f7f7"/><path d="M694.8 1801.4h9v8.9h-9zM703.4 1879.1h9v8.9h-9zM712.1 1904.9h9v8.9h-9zM720.8 1939.5h9v8.9h-9zM746.8 1922.2h9v8.9h-9zM781.5 1853.2h9v8.9h-9z" fill="#f9f9f9"/><path d="M720.8 1801.4h9v8.9h-9z" fill="#fafafa"/><path d="M755.5 1827.3h9v8.9h-9zM764.1 1939.5h9v8.9h-9z" fill="#fbfbfb"/><path d="M712.1 1792.8h9v8.9h-9zM746.8 1818.7h9v8.9h-9zM755.5 1930.8h9v8.9h-9zM772.8 1922.2h9v8.9h-9zM781.5 1904.9h9v8.9h-9z" fill="#fcfcfc"/>

<path d="M716.4 1948.1V1775.5" stroke="#000" stroke-width="2.9" stroke-dasharray="10.6 5.1" fill="none"/>
<path d="M759.7 1948.1V1775.5" stroke="#000" stroke-width="2.9" stroke-dasharray="10.6 5.1" fill="none"/>
<path d="M660 1857.6H833.5" stroke="#000" stroke-width="2.9" stroke-dasharray="10.6 5.1" fill="none"/>
<path d="M660 1926.2H833.5" stroke="#000" stroke-width="2.9" stroke-dasharray="10.6 5.1" fill="none"/>
<path d="M694.9 1796.9L698.6 1794.1L707 1795L716.4 1800.6L725.7 1808.1L735.1 1814.6L744.4 1821.2L755.6 1829.6L766.8 1839.9L778 1847.3L781.8 1854.8L789.3 1865.1L785.5 1879.1L783.6 1894L784.6 1905.3L779.9 1916.5L774.3 1925.8L770.6 1935.1L767.8 1947.3L765.3 1947.3L763.1 1935.1L761.2 1925.8L755.6 1922.1L746.3 1925.8L740.7 1935.1L736 1947.3L728.5 1947.3L722.9 1935.1L719.2 1922.1L716.4 1909L706.1 1899.6L710.8 1886.6L707 1875.4L716.4 1866L714.5 1851.1L712.7 1838L709.8 1823L703.3 1808.1Z" stroke="#000" stroke-width="3.1" fill="none" stroke-linejoin="round"/>
<path d="M711.7 1806.2L718.3 1804.4L725.7 1810L735.1 1817.4L746.3 1824.9L757.5 1834.3L766.8 1843.6L772.4 1854.8L770.6 1864.1L774.3 1875.4L773.4 1888.4L770.6 1897.8L765 1905.3L767.8 1914.6L776.2 1918.3L770.6 1925.8L766.8 1938.9L763.1 1927.7L757.5 1921.1L748.1 1922.1L742.5 1929.5L736.9 1942.6L729.5 1942.6L725.7 1927.7L722 1912.7L719.2 1897.8L720.1 1884.7L718.3 1869.8L724.8 1856.7L722.9 1845.5L725.7 1830.5L718.3 1821.2Z" stroke="#000" stroke-width="3.1" fill="none" stroke-linejoin="round"/>
<path d="M730.4 1828.7L738.8 1828.7L748.1 1834.3L753.8 1843.6L763.1 1847.3L761.2 1854.8L765 1864.1L763.1 1879.1L770.6 1888.4L770.6 1897.8L759.4 1899.6L755.6 1909L763.1 1916.5L755.6 1922.1L744.4 1920.2L736.9 1916.5L735.1 1897.8L736 1879.1L735.1 1860.4L733.2 1845.5Z" stroke="#000" stroke-width="3.1" fill="none" stroke-linejoin="round"/>
<path d="M736.9 1868.8L748.1 1864.1L753.8 1868.8L752.8 1879.1L744.4 1883.8L737.9 1881Z" stroke="#000" stroke-width="3.1" fill="none" stroke-linejoin="round"/>
<path d="M739.7 1845.5L743.5 1843.6L746.3 1847.3L743.5 1851.1L740.3 1849.2Z" stroke="#000" stroke-width="3.1" fill="none" stroke-linejoin="round"/>
<path d="M747.2 1906.2L750 1902.4L753.8 1907.1L751 1911.8L747.8 1910.9Z" stroke="#000" stroke-width="3.1" fill="none" stroke-linejoin="round"/>
<path d="M670.5 1948.1v-7M670.5 1775.5v7M687.1 1948.1v-14.3M687.1 1775.5v14.3M703.7 1948.1v-7M703.7 1775.5v7M720.2 1948.1v-7M720.2 1775.5v7M736.8 1948.1v-7M736.8 1775.5v7M753.4 1948.1v-14.3M753.4 1775.5v14.3M770 1948.1v-7M770 1775.5v7M786.5 1948.1v-7M786.5 1775.5v7M803.1 1948.1v-7M803.1 1775.5v7M819.7 1948.1v-14.3M819.7 1775.5v14.3M660 1783.5h7M833.5 1783.5h-7M660 1792.2h7M833.5 1792.2h-7M660 1801h7M833.5 1801h-7M660 1809.7h7M833.5 1809.7h-7M660 1818.4h14.3M833.5 1818.4h-14.3M660 1827.1h7M833.5 1827.1h-7M660 1835.8h7M833.5 1835.8h-7M660 1844.6h7M833.5 1844.6h-7M660 1853.3h7M833.5 1853.3h-7M660 1862h14.3M833.5 1862h-14.3M660 1870.7h7M833.5 1870.7h-7M660 1879.4h7M833.5 1879.4h-7M660 1888.2h7M833.5 1888.2h-7M660 1896.9h7M833.5 1896.9h-7M660 1905.6h14.3M833.5 1905.6h-14.3M660 1914.3h7M833.5 1914.3h-7M660 1923h7M833.5 1923h-7M660 1931.8h7M833.5 1931.8h-7M660 1940.5h7M833.5 1940.5h-7" stroke="#000" stroke-width="2.4" fill="none"/>
<path d="M733.4 1775.5V1948.1" stroke="#db2224" stroke-width="4.3" fill="none"/>
<path d="M660 1892.2H833.5" stroke="#db2224" stroke-width="4.3" fill="none"/>
<rect x="660" y="1775.5" width="173.5" height="172.6" fill="none" stroke="#000" stroke-width="2.75"/>
</g>
<text class="t" text-anchor="end" transform="translate(195.5,1966.8) rotate(-45)">-12</text>
<text class="t" text-anchor="end" transform="translate(251.3,1966.8) rotate(-45)">-11</text>
<text class="t" text-anchor="end" transform="translate(373.1,1965.4) rotate(-45)">2</text>
<text class="t" text-anchor="end" transform="translate(449.5,1965.4) rotate(-45)">2.3</text>
<text class="t" text-anchor="end" transform="translate(536.5,1966.8) rotate(-45)">-14.5</text>
<text class="t" text-anchor="end" transform="translate(589.6,1966.8) rotate(-45)">-14</text>
<text class="t" text-anchor="end" transform="translate(658.3,1966.8) rotate(-45)">-13.5</text>
<text class="t" text-anchor="end" transform="translate(710.8,1966.2) rotate(-45)">9860</text>
<text class="t" text-anchor="end" transform="translate(776.9,1966.2) rotate(-45)">9880</text>
<text class="t" text-anchor="end" transform="translate(843.4,1966.2) rotate(-45)">9900</text>
<text class="t" text-anchor="end" transform="translate(892.8,1965.4) rotate(-45)">5</text>
<text class="t" text-anchor="end" transform="translate(941.4,1965.4) rotate(-45)">10</text>
<text class="t" text-anchor="end" transform="translate(984.4,1965.4) rotate(-45)">15</text>
<text class="t" text-anchor="end" transform="translate(109,1274.8) rotate(-45)">2.3</text>
<text class="t" text-anchor="end" transform="translate(109,1343.4) rotate(-45)">2</text>
<text class="t" text-anchor="end" transform="translate(109,1438.6) rotate(-45)">-13.5</text>
<text class="t" text-anchor="end" transform="translate(109,1499.7) rotate(-45)">-14</text>
<text class="t" text-anchor="end" transform="translate(109,1560.5) rotate(-45)">-14.5</text>
<text class="t" text-anchor="end" transform="translate(109,1614.4) rotate(-45)">9900</text>
<text class="t" text-anchor="end" transform="translate(109,1680.2) rotate(-45)">9880</text>
<text class="t" text-anchor="end" transform="translate(109,1746.1) rotate(-45)">9860</text>
<text class="t" text-anchor="end" transform="translate(109,1824.4) rotate(-45)">15</text>
<text class="t" text-anchor="end" transform="translate(109,1867.9) rotate(-45)">10</text>
<text class="t" text-anchor="end" transform="translate(109,1911.6) rotate(-45)">5</text>
<text class="a" text-anchor="middle" x="202.6" y="2021">log A</text>
<text class="a" text-anchor="middle" x="207.9" y="2059" textLength="264.5">[erg s<tspan font-size="18.1" dy="-9.5">−1</tspan><tspan dy="9.5"> cm</tspan><tspan font-size="18.1" dy="-9.5">−2</tspan><tspan dy="9.5"> Å</tspan><tspan font-size="18.1" dy="-9.5">−1</tspan><tspan dy="9.5">]</tspan></text>
<text class="a" text-anchor="middle" x="384.6" y="2021">β</text>
<text class="a" text-anchor="middle" x="565.4" y="2020.5">log a</text>
<text class="a" text-anchor="middle" x="570" y="2058" textLength="264.5">[erg s<tspan font-size="18.1" dy="-9.5">−1</tspan><tspan dy="9.5"> cm</tspan><tspan font-size="18.1" dy="-9.5">−2</tspan><tspan dy="9.5"> Å</tspan><tspan font-size="18.1" dy="-9.5">−1</tspan><tspan dy="9.5">]</tspan></text>
<text class="a" text-anchor="middle" x="746.5" y="2020">λ<tspan font-size="18.1" dy="4.5">cen</tspan></text>
<text class="a" text-anchor="middle" x="750.8" y="2056.5">[Å]</text>
<text class="a" text-anchor="middle" x="927.9" y="2020">σ</text>
<text class="a" text-anchor="middle" x="932.6" y="2053.7">[Å]</text>
<text text-anchor="middle" font-size="24.3" transform="translate(60.5,1321) rotate(-90) scale(1.1,1)">β</text>
<text class="a" text-anchor="middle" transform="translate(19.7,1501) rotate(-90)">log a</text>
<text class="a" text-anchor="middle" transform="translate(57,1496.2) rotate(-90)" textLength="264.5">[erg s<tspan font-size="18.1" dy="-9.5">−1</tspan><tspan dy="9.5"> cm</tspan><tspan font-size="18.1" dy="-9.5">−2</tspan><tspan dy="9.5"> Å</tspan><tspan font-size="18.1" dy="-9.5">−1</tspan><tspan dy="9.5">]</tspan></text>
<text class="a" text-anchor="middle" transform="translate(24.2,1681.8) rotate(-90)">λ<tspan font-size="18.1" dy="4.5">cen</tspan></text>
<text class="a" text-anchor="middle" transform="translate(60.4,1677.5) rotate(-90)">[Å]</text>
<text class="a" text-anchor="middle" transform="translate(26.6,1864.7) rotate(-90)">σ</text>
<text class="a" text-anchor="middle" transform="translate(59.8,1858.8) rotate(-90)">[Å]</text>
</svg>
</body></html>
